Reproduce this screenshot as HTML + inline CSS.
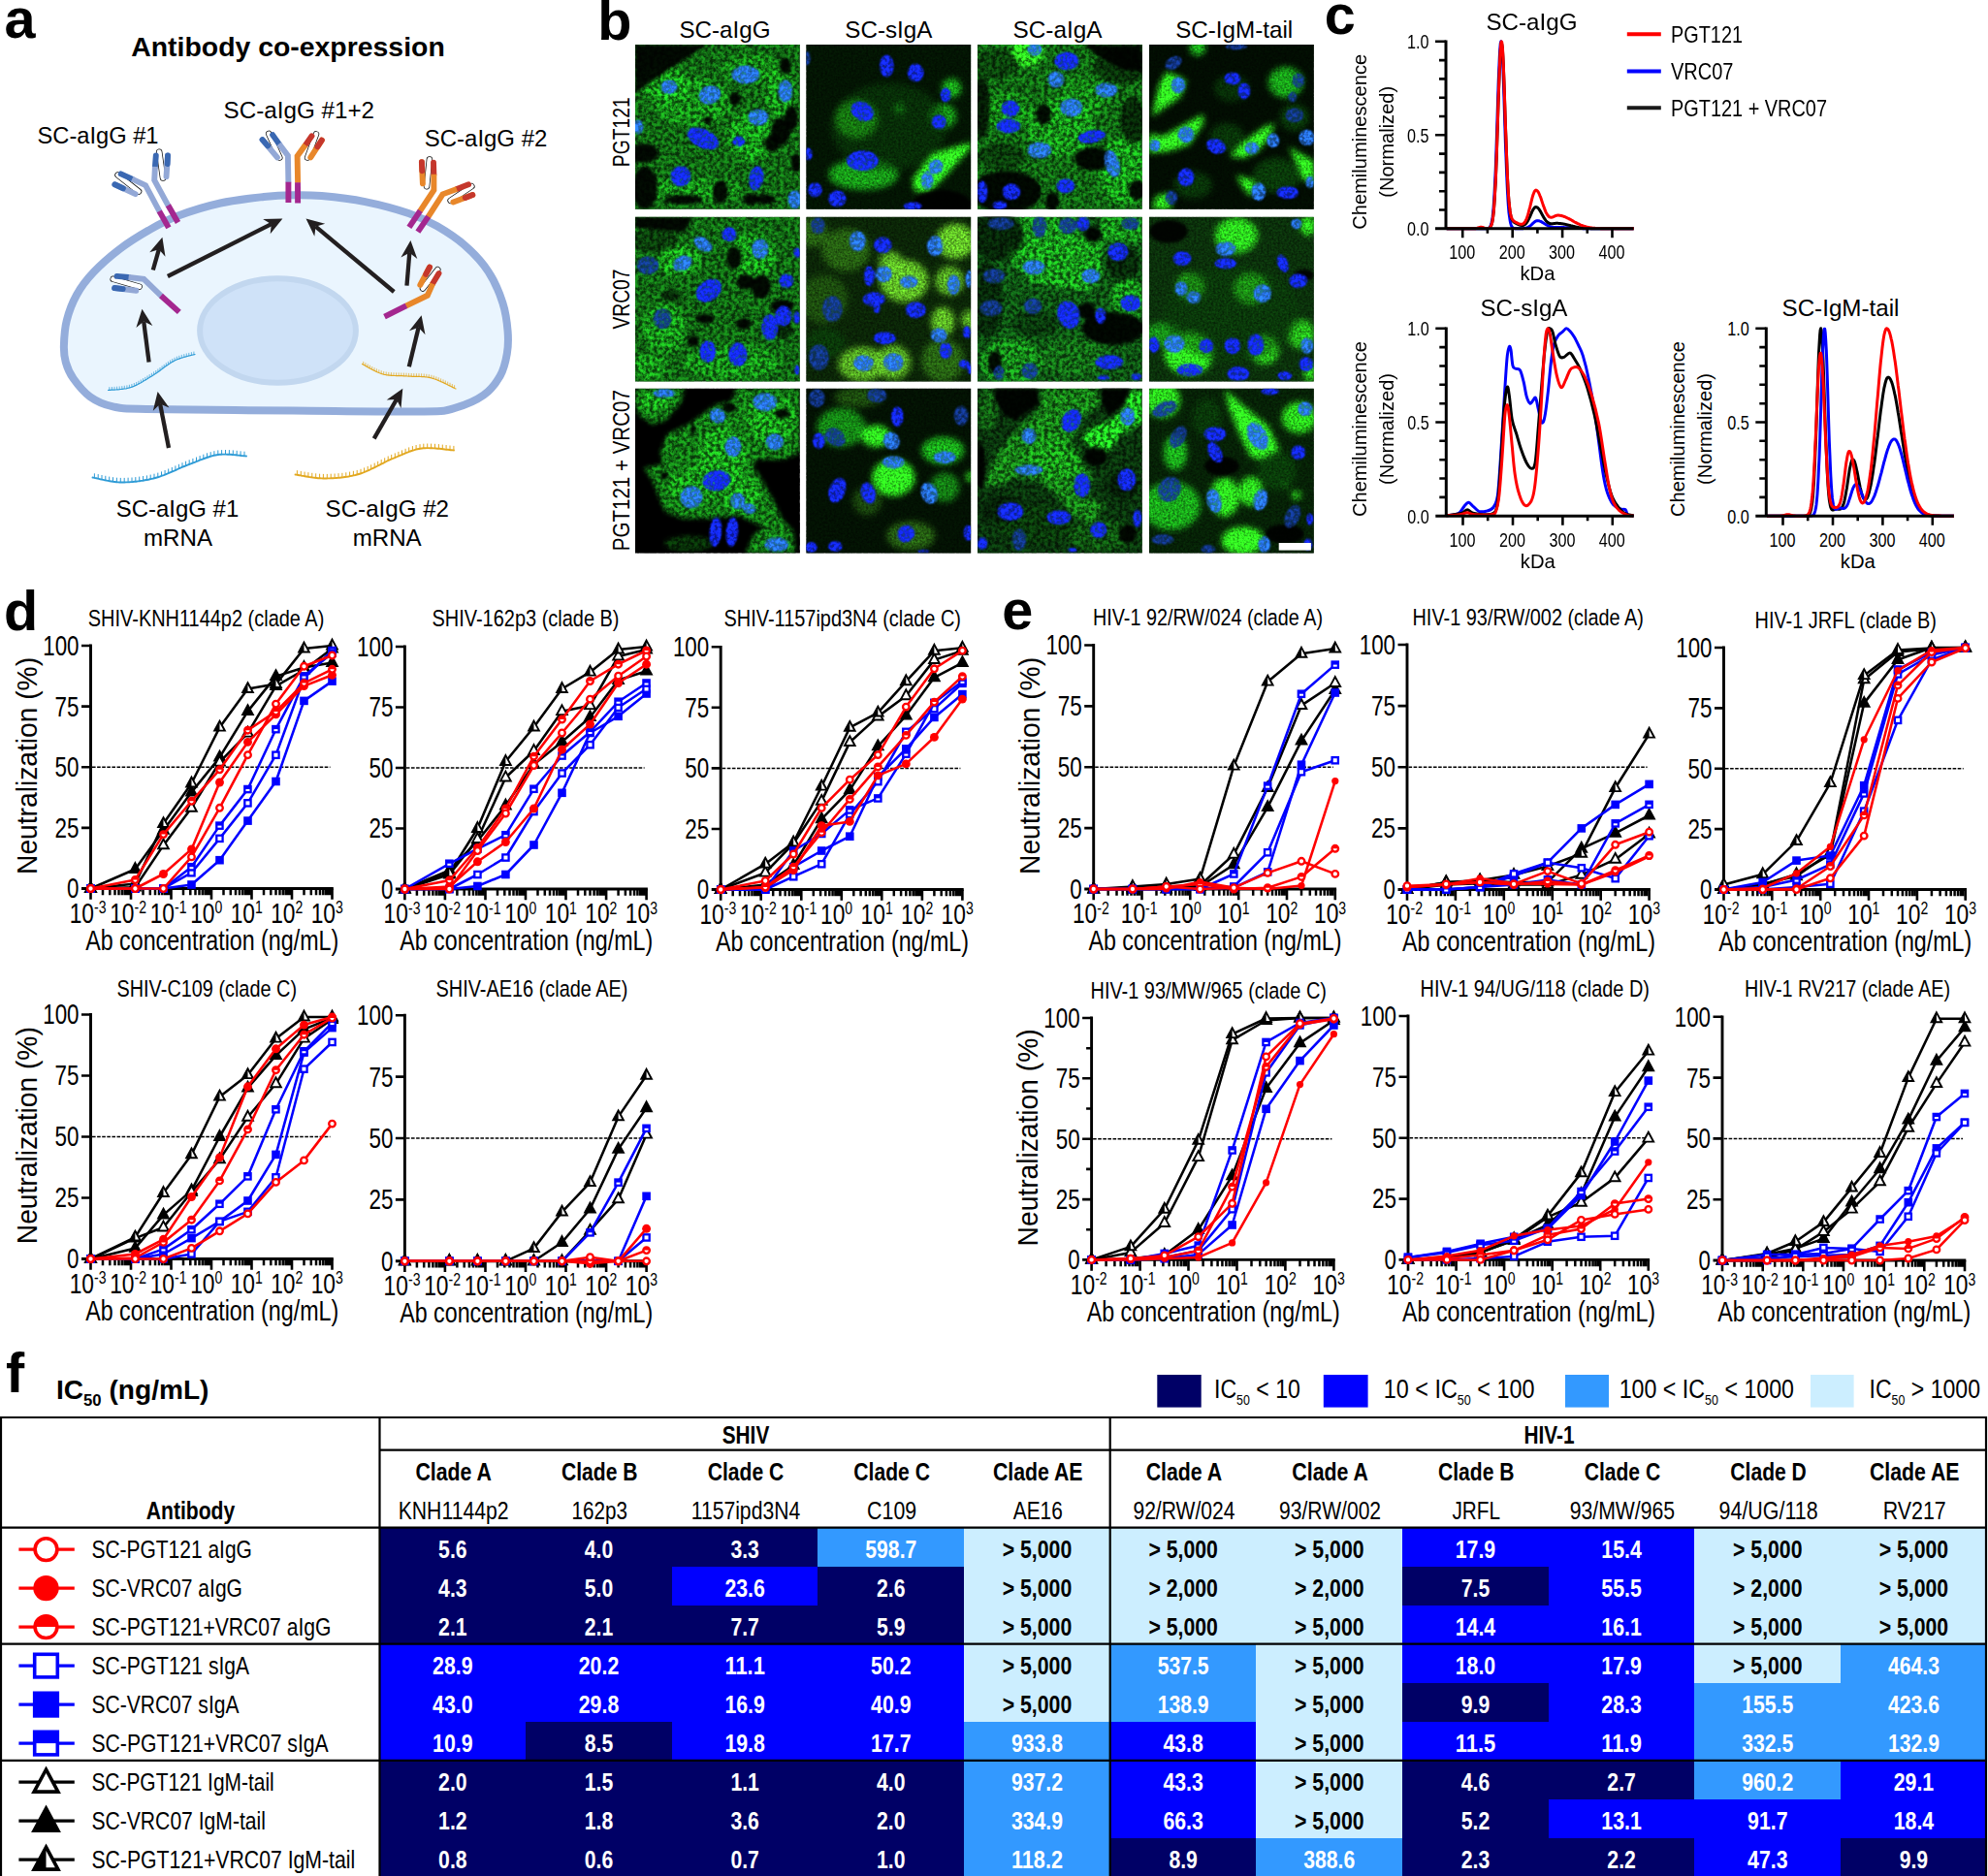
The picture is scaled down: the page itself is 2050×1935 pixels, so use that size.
<!DOCTYPE html><html><head><meta charset="utf-8"><title>Figure</title><style>html,body{margin:0;padding:0;background:#fff}svg{display:block}text{font-family:"Liberation Sans", Arial, Helvetica, sans-serif}</style></head><body>
<svg width="2050" height="1935" viewBox="0 0 2050 1935">
<rect width="2050" height="1935" fill="#fff"/>
<defs>
<filter id="gtex" x="-10%" y="-10%" width="120%" height="120%" color-interpolation-filters="sRGB">
<feGaussianBlur in="SourceGraphic" stdDeviation="2.0" result="b"/>
<feTurbulence type="fractalNoise" baseFrequency="0.26" numOctaves="3" seed="7" result="n"/>
<feColorMatrix in="n" type="matrix" values="0 0 0 0 1  0 0 0 0 1  0 0 0 0 1  0 2.6 0 0 -0.8" result="na"/>
<feComposite in="b" in2="na" operator="arithmetic" k1="0.95" k2="0.46" k3="0" k4="0"/>
</filter>
<filter id="gsm" x="-10%" y="-10%" width="120%" height="120%" color-interpolation-filters="sRGB">
<feGaussianBlur in="SourceGraphic" stdDeviation="3.4" result="b"/>
<feTurbulence type="fractalNoise" baseFrequency="0.45" numOctaves="2" seed="5" result="n"/>
<feColorMatrix in="n" type="matrix" values="0 0 0 0 1  0 0 0 0 1  0 0 0 0 1  0 1.8 0 0 -0.4" result="na"/>
<feComposite in="b" in2="na" operator="arithmetic" k1="0.7" k2="0.62" k3="0" k4="0"/>
</filter>
<filter id="ntex" x="-10%" y="-10%" width="120%" height="120%" color-interpolation-filters="sRGB">
<feGaussianBlur in="SourceGraphic" stdDeviation="1.0" result="b"/>
<feTurbulence type="fractalNoise" baseFrequency="0.28" numOctaves="2" seed="11" result="n"/>
<feColorMatrix in="n" type="matrix" values="0 0 0 0 1  0 0 0 0 1  0 0 0 0 1  0 0 3.0 0 -1.0" result="na"/>
<feComposite in="b" in2="na" operator="arithmetic" k1="0.7" k2="0.65" k3="0" k4="0" result="m"/>
<feComposite in="m" in2="b" operator="in"/>
</filter>
<filter id="gbl" x="-10%" y="-10%" width="120%" height="120%"><feGaussianBlur stdDeviation="3.2"/></filter>
<filter id="nbl" x="-10%" y="-10%" width="120%" height="120%"><feGaussianBlur stdDeviation="0.9"/></filter>
<filter id="kbl" x="-10%" y="-10%" width="120%" height="120%"><feGaussianBlur stdDeviation="1.6"/></filter>
<clipPath id="tclip"><rect x="0" y="0" width="170" height="170"/></clipPath>
</defs>
<text transform="translate(4.50,39.30)" font-size="57.6" font-weight="bold">a</text>
<text transform="translate(616.30,40.50)" font-size="57.6" font-weight="bold">b</text>
<text transform="translate(1365.70,34.80)" font-size="57.6" font-weight="bold">c</text>
<text transform="translate(4.00,649.50)" font-size="57.6" font-weight="bold">d</text>
<text transform="translate(1033.30,649.30)" font-size="57.6" font-weight="bold">e</text>
<text transform="translate(6.00,1436.00)" font-size="57.6" font-weight="bold">f</text>
<text transform="translate(297.00,58.10)" font-size="28.3" text-anchor="middle" font-weight="bold" textLength="323.50" lengthAdjust="spacingAndGlyphs">Antibody co-expression</text>
<path d="M65.9,356.6C66.1,349.4 66.6,339.1 68.8,330.4C71.0,321.7 74.4,312.5 79.0,304.2C83.6,295.9 89.1,288.6 96.5,280.8C103.9,273.0 113.8,264.3 123.2,257.1C132.6,249.9 143.0,243.5 152.9,237.8C162.8,232.1 170.1,227.7 182.5,223.0C194.9,218.3 212.4,212.8 227.3,209.5C242.2,206.2 259.7,204.4 272.1,203.0C284.5,201.6 292.0,201.3 301.9,201.2C311.8,201.0 319.3,200.9 331.7,202.1C344.1,203.2 361.6,205.1 376.5,208.1C391.4,211.1 408.9,215.8 421.3,220.0C433.7,224.2 441.0,227.7 450.8,233.3C460.6,239.0 471.5,246.1 480.3,253.9C489.1,261.7 497.4,270.5 503.7,280.3C510.0,290.1 515.1,302.2 518.4,312.5C521.7,322.8 522.9,333.1 523.6,341.8C524.3,350.5 524.1,357.2 522.8,364.9C521.5,372.6 519.7,380.7 515.7,387.8C511.7,394.9 506.4,402.1 498.7,407.6C491.0,413.1 480.0,417.8 469.8,420.6C459.6,423.4 465.6,423.9 437.6,424.4C409.6,424.9 349.7,423.9 301.9,423.5C254.1,423.1 182.1,422.7 151.0,422.0C120.0,421.3 125.3,421.2 115.6,419.1C105.9,417.0 99.6,414.0 92.9,409.2C86.2,404.4 79.9,396.4 75.7,390.5C71.5,384.6 69.4,379.2 67.8,373.6C66.2,368.0 65.7,363.8 65.9,356.6Z" fill="#eaf5fe" stroke="#94addb" stroke-width="8" stroke-linejoin="round"/>
<ellipse cx="286.5" cy="341" rx="80.4" ry="53.8" fill="#cfe2f8" stroke="#c2d7ef" stroke-width="6"/>
<path d="M95.5,492.5 L96.3,492.6 L97.2,492.8 L98.3,493.1 L99.4,493.3 L100.7,493.6 L102.0,493.9 L103.4,494.3 L104.9,494.6 L106.5,494.9 L108.1,495.3 L109.7,495.6 L111.4,495.9 L113.1,496.3 L114.8,496.5 L116.5,496.8 L118.3,497.0 L120.0,497.2 L121.7,497.4 L123.4,497.5 L125.0,497.5 L126.6,497.5 L128.3,497.5 L130.0,497.4 L131.6,497.4 L133.4,497.3 L135.1,497.1 L136.8,497.0 L138.6,496.8 L140.4,496.7 L142.2,496.4 L143.9,496.2 L145.7,495.9 L147.5,495.7 L149.3,495.3 L151.1,495.0 L152.9,494.7 L154.7,494.3 L156.5,493.9 L158.2,493.5 L160.0,493.0 L161.8,492.5 L163.5,492.0 L165.3,491.4 L167.1,490.7 L168.9,490.1 L170.7,489.4 L172.4,488.6 L174.2,487.9 L176.0,487.1 L177.8,486.3 L179.6,485.6 L181.4,484.8 L183.1,484.0 L184.9,483.2 L186.6,482.4 L188.3,481.7 L190.0,481.0 L191.7,480.3 L193.4,479.6 L195.0,479.0 L196.6,478.4 L198.2,477.8 L199.8,477.2 L201.3,476.6 L202.9,475.9 L204.4,475.3 L205.9,474.7 L207.4,474.2 L208.9,473.6 L210.4,473.0 L211.8,472.5 L213.3,472.0 L214.8,471.5 L216.2,471.0 L217.7,470.6 L219.1,470.2 L220.6,469.8 L222.1,469.5 L223.5,469.2 L225.0,469.0 L226.5,468.8 L228.1,468.7 L229.7,468.6 L231.3,468.6 L233.0,468.6 L234.7,468.7 L236.4,468.7 L238.1,468.8 L239.7,469.0 L241.4,469.1 L243.0,469.3 L244.5,469.5 L246.0,469.6 L247.5,469.8 L248.8,470.0 L250.1,470.1 L251.2,470.2 L252.3,470.4 L253.2,470.4 L254.0,470.5" fill="none" stroke="#2e9bd6" stroke-width="1.9" stroke-linecap="round"/>
<path d="M97.4,492.9 v-4.6 M101.2,493.7 v-4.6 M105.0,494.6 v-4.6 M108.8,495.4 v-4.6 M112.7,496.2 v-4.6 M116.5,496.8 v-4.6 M120.4,497.3 v-4.6 M124.3,497.5 v-4.6 M128.2,497.5 v-4.6 M132.1,497.3 v-4.6 M136.0,497.1 v-4.6 M139.8,496.7 v-4.6 M143.7,496.2 v-4.6 M147.6,495.6 v-4.6 M151.4,495.0 v-4.6 M155.2,494.2 v-4.6 M159.0,493.3 v-4.6 M162.8,492.2 v-4.6 M166.5,491.0 v-4.6 M170.1,489.6 v-4.6 M173.7,488.1 v-4.6 M177.3,486.6 v-4.6 M180.9,485.0 v-4.6 M184.4,483.4 v-4.6 M188.0,481.8 v-4.6 M191.6,480.3 v-4.6 M195.2,478.9 v-4.6 M198.9,477.5 v-4.6 M202.5,476.1 v-4.6 M206.1,474.7 v-4.6 M209.8,473.3 v-4.6 M213.5,471.9 v-4.6 M217.2,470.8 v-4.6 M220.9,469.8 v-4.6 M224.8,469.0 v-4.6 M228.6,468.7 v-4.6 M232.5,468.6 v-4.6 M236.4,468.7 v-4.6 M240.3,469.0 v-4.6 M244.2,469.4 v-4.6 M248.1,469.9 v-4.6 M252.0,470.3 v-4.6 " fill="none" stroke="#2e9bd6" stroke-width="1.0"/>
<path d="M304.5,489.5 L305.3,489.6 L306.3,489.8 L307.4,490.0 L308.6,490.2 L309.9,490.4 L311.3,490.7 L312.7,490.9 L314.3,491.2 L315.9,491.5 L317.6,491.8 L319.3,492.1 L321.0,492.3 L322.8,492.6 L324.6,492.8 L326.3,493.0 L328.1,493.2 L329.9,493.3 L331.6,493.4 L333.3,493.5 L335.0,493.5 L336.6,493.5 L338.3,493.4 L340.0,493.4 L341.7,493.3 L343.4,493.2 L345.2,493.1 L346.9,493.0 L348.7,492.9 L350.4,492.7 L352.2,492.5 L354.0,492.3 L355.8,492.0 L357.6,491.8 L359.4,491.5 L361.1,491.1 L362.9,490.8 L364.7,490.4 L366.5,490.0 L368.2,489.5 L370.0,489.0 L371.8,488.5 L373.5,487.8 L375.3,487.2 L377.1,486.4 L378.9,485.7 L380.7,484.9 L382.4,484.0 L384.2,483.2 L386.0,482.3 L387.8,481.4 L389.6,480.5 L391.4,479.6 L393.1,478.7 L394.9,477.8 L396.6,476.9 L398.3,476.0 L400.0,475.2 L401.7,474.4 L403.4,473.7 L405.0,473.0 L406.6,472.3 L408.2,471.7 L409.7,471.0 L411.3,470.3 L412.8,469.7 L414.3,469.1 L415.8,468.4 L417.2,467.8 L418.7,467.2 L420.1,466.6 L421.6,466.1 L423.0,465.5 L424.5,465.0 L425.9,464.6 L427.4,464.1 L428.9,463.7 L430.4,463.3 L431.9,463.0 L433.4,462.7 L435.0,462.5 L436.6,462.3 L438.3,462.2 L440.1,462.1 L441.9,462.1 L443.8,462.2 L445.7,462.2 L447.6,462.4 L449.6,462.5 L451.5,462.7 L453.4,462.8 L455.2,463.0 L457.0,463.2 L458.8,463.5 L460.4,463.7 L462.0,463.8 L463.5,464.0 L464.8,464.2 L466.0,464.3 L467.1,464.4 L468.0,464.5" fill="none" stroke="#e2a820" stroke-width="1.9" stroke-linecap="round"/>
<path d="M306.4,489.8 v-4.6 M310.3,490.5 v-4.6 M314.1,491.2 v-4.6 M317.9,491.8 v-4.6 M321.8,492.4 v-4.6 M325.7,492.9 v-4.6 M329.6,493.3 v-4.6 M333.4,493.5 v-4.6 M337.3,493.5 v-4.6 M341.2,493.3 v-4.6 M345.1,493.1 v-4.6 M349.0,492.8 v-4.6 M352.9,492.4 v-4.6 M356.8,491.9 v-4.6 M360.6,491.2 v-4.6 M364.4,490.4 v-4.6 M368.2,489.5 v-4.6 M372.0,488.4 v-4.6 M375.6,487.0 v-4.6 M379.2,485.5 v-4.6 M382.7,483.9 v-4.6 M386.2,482.2 v-4.6 M389.7,480.4 v-4.6 M393.2,478.6 v-4.6 M396.7,476.9 v-4.6 M400.2,475.1 v-4.6 M403.7,473.5 v-4.6 M407.3,472.0 v-4.6 M410.9,470.5 v-4.6 M414.5,469.0 v-4.6 M418.1,467.4 v-4.6 M421.7,466.0 v-4.6 M425.4,464.7 v-4.6 M429.1,463.6 v-4.6 M433.0,462.8 v-4.6 M436.8,462.3 v-4.6 M440.7,462.1 v-4.6 M444.6,462.2 v-4.6 M448.5,462.4 v-4.6 M452.4,462.7 v-4.6 M456.3,463.2 v-4.6 M460.1,463.6 v-4.6 M464.0,464.1 v-4.6 M467.9,464.5 v-4.6 " fill="none" stroke="#e2a820" stroke-width="1.0"/>
<path d="M111.5,402.5 L112.1,402.4 L112.9,402.4 L113.8,402.3 L114.7,402.2 L115.7,402.2 L116.8,402.1 L118.0,402.1 L119.2,402.0 L120.5,401.9 L121.8,401.8 L123.2,401.7 L124.5,401.5 L125.9,401.4 L127.2,401.2 L128.6,401.0 L130.0,400.8 L131.3,400.5 L132.6,400.2 L133.8,399.9 L135.0,399.5 L136.2,399.1 L137.3,398.6 L138.5,398.2 L139.6,397.6 L140.8,397.1 L142.0,396.5 L143.1,395.9 L144.3,395.3 L145.4,394.7 L146.6,394.0 L147.7,393.3 L148.9,392.6 L150.0,391.9 L151.2,391.2 L152.3,390.5 L153.5,389.8 L154.6,389.1 L155.7,388.4 L156.9,387.7 L158.0,387.0 L159.1,386.3 L160.2,385.6 L161.4,384.8 L162.5,384.0 L163.6,383.2 L164.7,382.4 L165.8,381.6 L166.9,380.8 L168.0,379.9 L169.1,379.1 L170.2,378.3 L171.3,377.5 L172.4,376.7 L173.5,376.0 L174.6,375.2 L175.7,374.5 L176.8,373.8 L177.8,373.2 L178.9,372.6 L180.0,372.0 L181.1,371.5 L182.2,371.0 L183.4,370.5 L184.6,370.1 L185.8,369.6 L187.0,369.2 L188.3,368.8 L189.5,368.5 L190.7,368.1 L191.9,367.8 L193.0,367.5 L194.2,367.2 L195.2,367.0 L196.3,366.7 L197.2,366.5 L198.2,366.2 L199.0,366.0 L199.8,365.8 L200.4,365.7 L201.0,365.5" fill="none" stroke="#2e9bd6" stroke-width="1.2" stroke-linecap="round"/>
<path d="M112.8,402.4 v-3.2 M115.4,402.2 v-3.2 M118.0,402.1 v-3.2 M120.6,401.9 v-3.2 M123.2,401.7 v-3.2 M125.8,401.4 v-3.2 M128.3,401.0 v-3.2 M130.9,400.6 v-3.2 M133.4,400.0 v-3.2 M135.9,399.2 v-3.2 M138.3,398.2 v-3.2 M140.7,397.2 v-3.2 M143.0,396.0 v-3.2 M145.3,394.7 v-3.2 M147.5,393.4 v-3.2 M149.8,392.1 v-3.2 M152.0,390.7 v-3.2 M154.2,389.4 v-3.2 M156.4,388.0 v-3.2 M158.6,386.6 v-3.2 M160.8,385.2 v-3.2 M162.9,383.7 v-3.2 M165.0,382.2 v-3.2 M167.1,380.6 v-3.2 M169.2,379.1 v-3.2 M171.3,377.5 v-3.2 M173.4,376.0 v-3.2 M175.6,374.6 v-3.2 M177.8,373.2 v-3.2 M180.1,372.0 v-3.2 M182.4,370.9 v-3.2 M184.8,370.0 v-3.2 M187.3,369.1 v-3.2 M189.8,368.4 v-3.2 M192.3,367.7 v-3.2 M194.8,367.1 v-3.2 M197.4,366.4 v-3.2 M199.9,365.8 v-3.2 " fill="none" stroke="#2e9bd6" stroke-width="0.7"/>
<path d="M373.5,375.5 L374.1,375.8 L374.8,376.2 L375.5,376.6 L376.4,377.1 L377.3,377.6 L378.3,378.1 L379.3,378.7 L380.4,379.4 L381.5,380.0 L382.7,380.6 L383.9,381.3 L385.1,381.9 L386.4,382.5 L387.6,383.1 L388.9,383.7 L390.1,384.3 L391.4,384.8 L392.6,385.2 L393.8,385.7 L395.0,386.0 L396.2,386.3 L397.4,386.5 L398.6,386.8 L399.8,386.9 L401.0,387.1 L402.2,387.2 L403.5,387.3 L404.7,387.4 L406.0,387.5 L407.3,387.5 L408.6,387.6 L409.8,387.6 L411.1,387.6 L412.4,387.7 L413.7,387.7 L414.9,387.7 L416.2,387.8 L417.5,387.8 L418.7,387.9 L420.0,388.0 L421.2,388.1 L422.5,388.2 L423.8,388.2 L425.0,388.3 L426.2,388.3 L427.5,388.3 L428.8,388.3 L430.0,388.4 L431.2,388.4 L432.5,388.4 L433.8,388.5 L435.0,388.6 L436.2,388.6 L437.5,388.7 L438.8,388.9 L440.0,389.0 L441.2,389.2 L442.5,389.4 L443.8,389.7 L445.0,390.0 L446.3,390.4 L447.6,390.8 L449.0,391.3 L450.4,391.8 L451.8,392.4 L453.3,393.0 L454.7,393.6 L456.2,394.3 L457.6,394.9 L459.1,395.6 L460.5,396.3 L461.8,397.0 L463.1,397.6 L464.3,398.2 L465.5,398.8 L466.6,399.4 L467.6,399.9 L468.5,400.3 L469.3,400.7 L470.0,401.0" fill="none" stroke="#e2a820" stroke-width="1.2" stroke-linecap="round"/>
<path d="M374.7,376.1 v-3.2 M376.9,377.4 v-3.2 M379.2,378.7 v-3.2 M381.4,379.9 v-3.2 M383.7,381.2 v-3.2 M386.0,382.4 v-3.2 M388.4,383.5 v-3.2 M390.8,384.5 v-3.2 M393.2,385.4 v-3.2 M395.7,386.2 v-3.2 M398.2,386.7 v-3.2 M400.8,387.1 v-3.2 M403.4,387.3 v-3.2 M406.0,387.5 v-3.2 M408.6,387.6 v-3.2 M411.2,387.6 v-3.2 M413.8,387.7 v-3.2 M416.4,387.8 v-3.2 M419.0,387.9 v-3.2 M421.6,388.1 v-3.2 M424.2,388.2 v-3.2 M426.8,388.3 v-3.2 M429.4,388.4 v-3.2 M432.0,388.4 v-3.2 M434.6,388.5 v-3.2 M437.2,388.7 v-3.2 M439.8,389.0 v-3.2 M442.3,389.4 v-3.2 M444.9,390.0 v-3.2 M447.3,390.7 v-3.2 M449.8,391.6 v-3.2 M452.2,392.5 v-3.2 M454.6,393.6 v-3.2 M457.0,394.6 v-3.2 M459.3,395.7 v-3.2 M461.7,396.9 v-3.2 M464.0,398.0 v-3.2 M466.3,399.2 v-3.2 M468.6,400.4 v-3.2 " fill="none" stroke="#e2a820" stroke-width="0.7"/>
<line x1="121.5" y1="180.6" x2="143.1" y2="197.6" stroke="#111" stroke-width="6.4" stroke-linecap="round"/>
<line x1="121.5" y1="180.6" x2="143.1" y2="197.6" stroke="#fff" stroke-width="4.9" stroke-linecap="round"/>
<line x1="164.2" y1="156.6" x2="168.0" y2="183.6" stroke="#111" stroke-width="6.4" stroke-linecap="round"/>
<line x1="164.2" y1="156.6" x2="168.0" y2="183.6" stroke="#fff" stroke-width="4.9" stroke-linecap="round"/>
<line x1="136.2" y1="184.6" x2="124.7" y2="179.4" stroke="#3a68b2" stroke-width="5.9" stroke-linecap="round"/>
<polyline points="164.6,218.4 150.1,191.2 136.2,184.6" fill="none" stroke="#93a8d6" stroke-width="5.9" stroke-linejoin="miter" stroke-miterlimit="6"/>
<line x1="173.9" y1="234.9" x2="164.3" y2="217.9" stroke="#a4278f" stroke-width="5.9" stroke-linecap="butt"/>
<line x1="118.4" y1="190.3" x2="139.6" y2="200.2" stroke="#93a8d6" stroke-width="5.9" stroke-linecap="round"/>
<line x1="118.4" y1="190.3" x2="126.9" y2="194.2" stroke="#3a68b2" stroke-width="5.9" stroke-linecap="round"/>
<line x1="159.9" y1="171.9" x2="160.8" y2="160.4" stroke="#3a68b2" stroke-width="5.9" stroke-linecap="round"/>
<polyline points="173.6,212.4 159.2,185.8 159.9,171.9" fill="none" stroke="#93a8d6" stroke-width="5.9" stroke-linejoin="miter" stroke-miterlimit="6"/>
<line x1="183.5" y1="229.5" x2="173.4" y2="211.8" stroke="#a4278f" stroke-width="5.9" stroke-linecap="butt"/>
<line x1="173.0" y1="160.4" x2="171.5" y2="182.2" stroke="#93a8d6" stroke-width="5.9" stroke-linecap="round"/>
<line x1="173.0" y1="160.4" x2="172.6" y2="169.0" stroke="#3a68b2" stroke-width="5.9" stroke-linecap="round"/>
<line x1="277.2" y1="137.9" x2="288.3" y2="162.5" stroke="#111" stroke-width="6.4" stroke-linecap="round"/>
<line x1="277.2" y1="137.9" x2="288.3" y2="162.5" stroke="#fff" stroke-width="4.9" stroke-linecap="round"/>
<line x1="326.0" y1="138.4" x2="317.1" y2="162.5" stroke="#111" stroke-width="6.4" stroke-linecap="round"/>
<line x1="326.0" y1="138.4" x2="317.1" y2="162.5" stroke="#fff" stroke-width="4.9" stroke-linecap="round"/>
<line x1="287.7" y1="148.4" x2="281.1" y2="139.1" stroke="#3a68b2" stroke-width="5.9" stroke-linecap="round"/>
<polyline points="297.4,188.2 296.9,160.4 287.7,148.4" fill="none" stroke="#93a8d6" stroke-width="5.9" stroke-linejoin="miter" stroke-miterlimit="6"/>
<line x1="297.4" y1="209.0" x2="297.4" y2="187.7" stroke="#a4278f" stroke-width="5.9" stroke-linecap="butt"/>
<line x1="270.6" y1="144.1" x2="285.9" y2="162.3" stroke="#93a8d6" stroke-width="5.9" stroke-linecap="round"/>
<line x1="270.6" y1="144.1" x2="276.1" y2="150.4" stroke="#3a68b2" stroke-width="5.9" stroke-linecap="round"/>
<line x1="314.9" y1="149.6" x2="321.5" y2="140.3" stroke="#c5372c" stroke-width="5.9" stroke-linecap="round"/>
<polyline points="307.1,188.8 306.6,161.0 314.9,149.6" fill="none" stroke="#e8872a" stroke-width="5.9" stroke-linejoin="miter" stroke-miterlimit="6"/>
<line x1="307.1" y1="209.6" x2="307.0" y2="188.3" stroke="#a4278f" stroke-width="5.9" stroke-linecap="butt"/>
<line x1="331.8" y1="144.7" x2="320.3" y2="162.3" stroke="#e8872a" stroke-width="5.9" stroke-linecap="round"/>
<line x1="331.8" y1="144.7" x2="327.4" y2="151.3" stroke="#c5372c" stroke-width="5.9" stroke-linecap="round"/>
<line x1="116.7" y1="287.8" x2="143.7" y2="295.7" stroke="#111" stroke-width="6.4" stroke-linecap="round"/>
<line x1="116.7" y1="287.8" x2="143.7" y2="295.7" stroke="#fff" stroke-width="4.9" stroke-linecap="round"/>
<line x1="132.6" y1="286.0" x2="120.5" y2="284.9" stroke="#3a68b2" stroke-width="5.9" stroke-linecap="round"/>
<polyline points="166.4,305.3 148.3,287.8 132.6,286.0" fill="none" stroke="#93a8d6" stroke-width="5.9" stroke-linejoin="miter" stroke-miterlimit="6"/>
<line x1="184.8" y1="321.9" x2="166.0" y2="305.0" stroke="#a4278f" stroke-width="5.9" stroke-linecap="butt"/>
<line x1="118.1" y1="297.0" x2="140.4" y2="299.8" stroke="#93a8d6" stroke-width="5.9" stroke-linecap="round"/>
<line x1="118.1" y1="297.0" x2="126.7" y2="298.1" stroke="#3a68b2" stroke-width="5.9" stroke-linecap="round"/>
<line x1="442.9" y1="164.4" x2="440.0" y2="192.2" stroke="#111" stroke-width="6.4" stroke-linecap="round"/>
<line x1="442.9" y1="164.4" x2="440.0" y2="192.2" stroke="#fff" stroke-width="4.9" stroke-linecap="round"/>
<line x1="464.6" y1="206.9" x2="486.4" y2="192.2" stroke="#111" stroke-width="6.4" stroke-linecap="round"/>
<line x1="464.6" y1="206.9" x2="486.4" y2="192.2" stroke="#fff" stroke-width="4.9" stroke-linecap="round"/>
<line x1="447.4" y1="179.8" x2="447.0" y2="167.7" stroke="#c5372c" stroke-width="5.9" stroke-linecap="round"/>
<polyline points="433.0,217.8 447.4,196.1 447.4,179.8" fill="none" stroke="#e8872a" stroke-width="5.9" stroke-linejoin="miter" stroke-miterlimit="6"/>
<line x1="421.9" y1="234.3" x2="433.3" y2="217.4" stroke="#a4278f" stroke-width="5.9" stroke-linecap="butt"/>
<line x1="434.9" y1="167.1" x2="435.9" y2="189.4" stroke="#e8872a" stroke-width="5.9" stroke-linecap="round"/>
<line x1="434.9" y1="167.1" x2="435.3" y2="176.2" stroke="#c5372c" stroke-width="5.9" stroke-linecap="round"/>
<line x1="471.0" y1="194.9" x2="483.1" y2="190.3" stroke="#c5372c" stroke-width="5.9" stroke-linecap="round"/>
<polyline points="441.4,223.8 456.5,200.3 471.0,194.9" fill="none" stroke="#e8872a" stroke-width="5.9" stroke-linejoin="miter" stroke-miterlimit="6"/>
<line x1="430.9" y1="239.2" x2="441.7" y2="223.4" stroke="#a4278f" stroke-width="5.9" stroke-linecap="butt"/>
<line x1="487.3" y1="201.1" x2="467.4" y2="208.5" stroke="#e8872a" stroke-width="5.9" stroke-linecap="round"/>
<line x1="487.3" y1="201.1" x2="479.8" y2="204.0" stroke="#c5372c" stroke-width="5.9" stroke-linecap="round"/>
<line x1="436.0" y1="297.5" x2="451.3" y2="278.2" stroke="#111" stroke-width="6.4" stroke-linecap="round"/>
<line x1="436.0" y1="297.5" x2="451.3" y2="278.2" stroke="#fff" stroke-width="4.9" stroke-linecap="round"/>
<line x1="446.2" y1="292.6" x2="452.5" y2="282.0" stroke="#c5372c" stroke-width="5.9" stroke-linecap="round"/>
<polyline points="418.5,315.6 440.8,304.7 446.2,292.6" fill="none" stroke="#e8872a" stroke-width="5.9" stroke-linejoin="miter" stroke-miterlimit="6"/>
<line x1="396.5" y1="326.6" x2="418.9" y2="315.4" stroke="#a4278f" stroke-width="5.9" stroke-linecap="butt"/>
<line x1="443.0" y1="275.7" x2="433.3" y2="293.9" stroke="#e8872a" stroke-width="5.9" stroke-linecap="round"/>
<line x1="443.0" y1="275.7" x2="439.2" y2="282.8" stroke="#c5372c" stroke-width="5.9" stroke-linecap="round"/>
<line x1="174.0" y1="462.0" x2="165.1" y2="416.7" stroke="#231f20" stroke-width="4.3"/>
<polygon points="162.6,404.0 174.5,420.5 165.1,416.7 157.8,423.8" fill="#231f20"/>
<line x1="153.6" y1="373.5" x2="148.2" y2="331.5" stroke="#231f20" stroke-width="4.3"/>
<polygon points="146.5,318.7 157.3,336.0 148.2,331.5 140.4,338.1" fill="#231f20"/>
<line x1="157.8" y1="278.5" x2="163.9" y2="257.2" stroke="#231f20" stroke-width="4.3"/>
<polygon points="167.4,244.7 170.5,264.8 163.9,257.2 154.2,260.2" fill="#231f20"/>
<line x1="172.9" y1="285.0" x2="279.8" y2="231.2" stroke="#231f20" stroke-width="4.3"/>
<polygon points="291.4,225.4 278.7,241.3 279.8,231.2 271.1,226.1" fill="#231f20"/>
<line x1="406.3" y1="301.0" x2="325.5" y2="233.7" stroke="#231f20" stroke-width="4.3"/>
<polygon points="315.5,225.4 335.2,230.7 325.5,233.7 324.3,243.8" fill="#231f20"/>
<line x1="419.5" y1="294.6" x2="422.3" y2="260.8" stroke="#231f20" stroke-width="4.3"/>
<polygon points="423.4,247.9 430.3,267.0 422.3,260.8 413.4,265.6" fill="#231f20"/>
<line x1="421.8" y1="378.3" x2="431.6" y2="337.8" stroke="#231f20" stroke-width="4.3"/>
<polygon points="434.6,325.2 438.5,345.2 431.6,337.8 422.0,341.2" fill="#231f20"/>
<line x1="385.7" y1="452.4" x2="408.9" y2="412.0" stroke="#231f20" stroke-width="4.3"/>
<polygon points="415.3,400.8 413.5,421.1 408.9,412.0 398.7,412.6" fill="#231f20"/>
<text transform="translate(38.50,147.70)" font-size="24.2" textLength="125.00" lengthAdjust="spacingAndGlyphs">SC-aIgG #1</text>
<text transform="translate(230.50,121.90)" font-size="24.2" textLength="155.50" lengthAdjust="spacingAndGlyphs">SC-aIgG #1+2</text>
<text transform="translate(437.80,150.80)" font-size="24.2" textLength="126.50" lengthAdjust="spacingAndGlyphs">SC-aIgG #2</text>
<text transform="translate(183.00,532.80)" font-size="24.2" text-anchor="middle" textLength="126.50" lengthAdjust="spacingAndGlyphs">SC-aIgG #1</text>
<text transform="translate(183.50,562.50)" font-size="24.2" text-anchor="middle" textLength="71.00" lengthAdjust="spacingAndGlyphs">mRNA</text>
<text transform="translate(399.30,532.80)" font-size="24.2" text-anchor="middle" textLength="127.50" lengthAdjust="spacingAndGlyphs">SC-aIgG #2</text>
<text transform="translate(399.20,562.50)" font-size="24.2" text-anchor="middle" textLength="71.00" lengthAdjust="spacingAndGlyphs">mRNA</text>
<text transform="translate(747.50,38.80)" font-size="24.2" text-anchor="middle" textLength="94.00" lengthAdjust="spacingAndGlyphs">SC-aIgG</text>
<text transform="translate(916.30,38.80)" font-size="24.2" text-anchor="middle" textLength="90.00" lengthAdjust="spacingAndGlyphs">SC-sIgA</text>
<text transform="translate(1090.50,38.80)" font-size="24.2" text-anchor="middle" textLength="92.00" lengthAdjust="spacingAndGlyphs">SC-aIgA</text>
<text transform="translate(1272.70,38.80)" font-size="24.2" text-anchor="middle" textLength="121.00" lengthAdjust="spacingAndGlyphs">SC-IgM-tail</text>
<text transform="translate(649.30,136.20) rotate(-90)" font-size="23.5" text-anchor="middle" textLength="72.00" lengthAdjust="spacingAndGlyphs">PGT121</text>
<text transform="translate(649.30,308.50) rotate(-90)" font-size="23.5" text-anchor="middle" textLength="62.00" lengthAdjust="spacingAndGlyphs">VRC07</text>
<text transform="translate(649.30,485.20) rotate(-90)" font-size="23.5" text-anchor="middle" textLength="166.00" lengthAdjust="spacingAndGlyphs">PGT121 + VRC07</text>
<g transform="translate(655.0,46.0) scale(0.9988)" clip-path="url(#tclip)">
<rect width="170" height="170" fill="#000"/>
<g filter="url(#gtex)">
<rect x="-20" y="-20" width="210" height="210" fill="#126c14"/>
<ellipse cx="60" cy="60" rx="40" ry="25" fill="#22dc22" opacity="0.35"/>
<ellipse cx="120" cy="95" rx="25" ry="25" fill="#22dc22" opacity="0.45"/>
<ellipse cx="30" cy="40" rx="25" ry="18" fill="#22dc22" opacity="0.4"/>
<ellipse cx="120" cy="25" rx="30" ry="15" fill="#22dc22" opacity="0.3"/>
<ellipse cx="60" cy="150" rx="50" ry="12" fill="#22dc22" opacity="0.35"/>
<ellipse cx="150" cy="50" rx="15" ry="25" fill="#22dc22" opacity="0.4"/>
</g>
<g filter="url(#kbl)">
<polygon points="0,0 75,0 40,22 0,50" fill="#000" opacity="0.92"/>
<ellipse cx="8" cy="112" rx="16" ry="10" fill="#000" opacity="0.92"/>
<ellipse cx="10" cy="148" rx="13" ry="22" fill="#000" opacity="0.92"/>
<ellipse cx="103" cy="56" rx="6" ry="7" fill="#000" opacity="0.92"/>
<ellipse cx="155" cy="22" rx="6" ry="9" fill="#000" opacity="0.92"/>
<ellipse cx="150" cy="90" rx="10" ry="14" fill="#000" opacity="0.92"/>
<ellipse cx="88" cy="152" rx="8" ry="12" fill="#000" opacity="0.92"/>
<ellipse cx="50" cy="160" rx="20" ry="5" fill="#000" opacity="0.92"/>
<ellipse cx="135" cy="160" rx="10" ry="5" fill="#000" opacity="0.92"/>
<ellipse cx="75" cy="78" rx="5" ry="4" fill="#000" opacity="0.92"/>
<ellipse cx="161" cy="76" rx="7" ry="13" fill="#000" opacity="0.92"/>
<ellipse cx="141" cy="102" rx="8" ry="9" fill="#000" opacity="0.92"/>
<ellipse cx="166" cy="122" rx="5" ry="10" fill="#000" opacity="0.92"/>
<ellipse cx="120" cy="160" rx="8" ry="6" fill="#000" opacity="0.92"/>
</g>
<g filter="url(#ntex)">
<ellipse cx="35" cy="44" rx="9" ry="8" fill="#2468d2" opacity="1.0"/>
<ellipse cx="77" cy="52" rx="12" ry="10" fill="#2468d2" opacity="1.0" transform="rotate(-20 77 52)"/>
<ellipse cx="114" cy="31" rx="15" ry="10" fill="#2468d2" opacity="1.0"/>
<ellipse cx="155" cy="48" rx="8" ry="12" fill="#2468d2" opacity="1.0"/>
<ellipse cx="127" cy="75" rx="11" ry="9" fill="#2468d2" opacity="1.0"/>
<ellipse cx="70" cy="97" rx="18" ry="10" fill="#1226e4" opacity="1.0" transform="rotate(25 70 97)"/>
<ellipse cx="107" cy="100" rx="7" ry="6" fill="#1226e4" opacity="1.0"/>
<ellipse cx="47" cy="136" rx="11" ry="11" fill="#1226e4" opacity="1.0"/>
<ellipse cx="125" cy="138" rx="8" ry="13" fill="#1226e4" opacity="1.0" transform="rotate(10 125 138)"/>
<ellipse cx="165" cy="160" rx="8" ry="10" fill="#2468d2" opacity="1.0"/>
<ellipse cx="3" cy="85" rx="6" ry="8" fill="#2468d2" opacity="1.0"/>
</g>
</g>
<g transform="translate(831.4,46.0) scale(0.9988)" clip-path="url(#tclip)">
<rect width="170" height="170" fill="#000"/>
<g filter="url(#gsm)">
<rect x="-20" y="-20" width="210" height="210" fill="#031503"/>
<ellipse cx="52" cy="77" rx="22" ry="20" fill="#34ff22" opacity="0.8"/>
<ellipse cx="59" cy="134" rx="36" ry="16" fill="#22dc22" opacity="0.7"/>
<polygon points="170,101 130,113 110,139 112,151 126,153 144,135 170,106" fill="#34ff22"/>
<ellipse cx="150" cy="45" rx="10" ry="10" fill="#22dc22" opacity="0.8"/>
<ellipse cx="141" cy="74" rx="14" ry="13" fill="#22dc22" opacity="0.7"/>
<ellipse cx="96" cy="66" rx="6" ry="6" fill="#22dc22" opacity="0.7"/>
<ellipse cx="85" cy="85" rx="60" ry="45" fill="#0a400a" opacity="0.6"/>
</g>
<g filter="url(#kbl)">
<ellipse cx="140" cy="165" rx="30" ry="15" fill="#000" opacity="0.92"/>
</g>
<g filter="url(#ntex)">
<ellipse cx="83" cy="22" rx="8" ry="12" fill="#1226e4" opacity="1.0"/>
<ellipse cx="113" cy="29" rx="9" ry="10" fill="#1226e4" opacity="1.0"/>
<ellipse cx="144" cy="52" rx="6" ry="8" fill="#1226e4" opacity="1.0"/>
<ellipse cx="58" cy="69" rx="13" ry="10" fill="#1226e4" opacity="1.0" transform="rotate(30 58 69)"/>
<ellipse cx="137" cy="80" rx="8" ry="8" fill="#1226e4" opacity="1.0"/>
<ellipse cx="58" cy="120" rx="17" ry="11" fill="#1226e4" opacity="1.0"/>
<ellipse cx="134" cy="126" rx="8" ry="8" fill="#2468d2" opacity="1.0"/>
<ellipse cx="125" cy="140" rx="7" ry="10" fill="#2468d2" opacity="1.0"/>
<ellipse cx="9" cy="150" rx="8" ry="8" fill="#1226e4" opacity="1.0"/>
<ellipse cx="32" cy="159" rx="10" ry="9" fill="#1226e4" opacity="1.0"/>
<ellipse cx="110" cy="167" rx="10" ry="5" fill="#1226e4" opacity="1.0"/>
<ellipse cx="1" cy="14" rx="4" ry="8" fill="#12368c" opacity="0.95"/>
<ellipse cx="2" cy="113" rx="5" ry="7" fill="#1226e4" opacity="1.0"/>
</g>
</g>
<g transform="translate(1008.0,46.0) scale(0.9988)" clip-path="url(#tclip)">
<rect width="170" height="170" fill="#000"/>
<g filter="url(#gtex)">
<rect x="-20" y="-20" width="210" height="210" fill="#126c14"/>
<ellipse cx="52" cy="8" rx="16" ry="14" fill="#34ff22" opacity="0.9"/>
<ellipse cx="85" cy="85" rx="35" ry="30" fill="#22dc22" opacity="0.4"/>
<ellipse cx="30" cy="70" rx="25" ry="20" fill="#22dc22" opacity="0.3"/>
<ellipse cx="150" cy="130" rx="25" ry="35" fill="#22dc22" opacity="0.45"/>
<ellipse cx="110" cy="55" rx="25" ry="20" fill="#22dc22" opacity="0.3"/>
</g>
<g filter="url(#kbl)">
<polygon points="108,0 170,0 170,28 150,26 125,12" fill="#000" opacity="0.92"/>
<ellipse cx="30" cy="152" rx="36" ry="22" fill="#000" opacity="0.92"/>
<ellipse cx="120" cy="118" rx="20" ry="12" fill="#000" opacity="0.92"/>
<ellipse cx="165" cy="150" rx="9" ry="10" fill="#000" opacity="0.92"/>
<ellipse cx="68" cy="72" rx="8" ry="11" fill="#000" opacity="0.92"/>
<ellipse cx="77" cy="162" rx="7" ry="10" fill="#000" opacity="0.92"/>
<ellipse cx="4" cy="65" rx="9" ry="32" fill="#000" opacity="0.75"/>
<ellipse cx="160" cy="78" rx="13" ry="24" fill="#000" opacity="0.6"/>
<ellipse cx="150" cy="22" rx="30" ry="18" fill="#000" opacity="0.5"/>
<ellipse cx="20" cy="20" rx="22" ry="16" fill="#000" opacity="0.35"/>
<ellipse cx="25" cy="115" rx="25" ry="14" fill="#000" opacity="0.4"/>
</g>
<g filter="url(#ntex)">
<ellipse cx="92" cy="17" rx="13" ry="10" fill="#1226e4" opacity="1.0"/>
<ellipse cx="81" cy="36" rx="9" ry="9" fill="#2468d2" opacity="1.0"/>
<ellipse cx="133" cy="47" rx="12" ry="8" fill="#2468d2" opacity="1.0"/>
<ellipse cx="97" cy="65" rx="12" ry="10" fill="#2468d2" opacity="1.0"/>
<ellipse cx="34" cy="66" rx="10" ry="9" fill="#1226e4" opacity="1.0"/>
<ellipse cx="32" cy="84" rx="13" ry="8" fill="#1226e4" opacity="1.0"/>
<ellipse cx="118" cy="95" rx="15" ry="7" fill="#1226e4" opacity="1.0" transform="rotate(-10 118 95)"/>
<ellipse cx="64" cy="109" rx="13" ry="9" fill="#2468d2" opacity="1.0"/>
<ellipse cx="139" cy="123" rx="8" ry="15" fill="#2468d2" opacity="1.0" transform="rotate(-15 139 123)"/>
<ellipse cx="91" cy="146" rx="10" ry="8" fill="#1226e4" opacity="1.0"/>
<ellipse cx="35" cy="152" rx="10" ry="9" fill="#1226e4" opacity="1.0"/>
<ellipse cx="5" cy="152" rx="6" ry="12" fill="#1226e4" opacity="1.0"/>
<ellipse cx="23" cy="166" rx="8" ry="5" fill="#1226e4" opacity="1.0"/>
<ellipse cx="59" cy="5" rx="8" ry="7" fill="#2468d2" opacity="1.0"/>
</g>
</g>
<g transform="translate(1185.0,46.0) scale(0.9988)" clip-path="url(#tclip)">
<rect width="170" height="170" fill="#000"/>
<g filter="url(#gsm)">
<rect x="-20" y="-20" width="210" height="210" fill="#020d02"/>
<polygon points="18,28 38,37 32,54 14,66 3,74 10,43" fill="#34ff22"/>
<ellipse cx="50" cy="3" rx="8" ry="8" fill="#22dc22" opacity="0.9"/>
<ellipse cx="141" cy="39" rx="18" ry="16" fill="#22dc22" opacity="0.75"/>
<polygon points="0,92 14,95 32,85 56,72 56,81 41,103 20,110 0,112" fill="#34ff22"/>
<polygon points="83,115 97,101 119,85 130,81 123,97 112,110 97,117" fill="#34ff22"/>
<polygon points="144,106 170,121 170,144 159,139 152,121" fill="#34ff22"/>
<polygon points="90,135 105,139 112,146 105,157 97,148" fill="#34ff22" opacity="0.95"/>
<polygon points="7,157 21,153 23,170 3,170" fill="#34ff22" opacity="0.95"/>
<ellipse cx="150" cy="75" rx="15" ry="14" fill="#0a400a" opacity="0.9"/>
<ellipse cx="132" cy="135" rx="25" ry="18" fill="#0a400a" opacity="0.9"/>
<ellipse cx="80" cy="95" rx="18" ry="14" fill="#0a400a" opacity="0.8"/>
<ellipse cx="45" cy="145" rx="20" ry="14" fill="#0a400a" opacity="0.8"/>
<ellipse cx="85" cy="45" rx="18" ry="14" fill="#0a400a" opacity="0.7"/>
</g>
<g filter="url(#ntex)">
<ellipse cx="25" cy="19" rx="10" ry="7" fill="#12368c" opacity="0.95" transform="rotate(-30 25 19)"/>
<ellipse cx="30" cy="42" rx="8" ry="9" fill="#2468d2" opacity="1.0"/>
<ellipse cx="86" cy="35" rx="9" ry="7" fill="#1226e4" opacity="1.0"/>
<ellipse cx="98" cy="48" rx="7" ry="9" fill="#1226e4" opacity="1.0"/>
<ellipse cx="154" cy="37" rx="7" ry="8" fill="#12368c" opacity="0.95"/>
<ellipse cx="148" cy="54" rx="5" ry="6" fill="#12368c" opacity="0.95"/>
<ellipse cx="150" cy="73" rx="10" ry="8" fill="#12368c" opacity="0.95"/>
<ellipse cx="163" cy="96" rx="9" ry="9" fill="#2468d2" opacity="1.0"/>
<ellipse cx="38" cy="93" rx="9" ry="9" fill="#2468d2" opacity="1.0"/>
<ellipse cx="128" cy="99" rx="7" ry="8" fill="#2468d2" opacity="1.0"/>
<ellipse cx="106" cy="107" rx="8" ry="7" fill="#2468d2" opacity="1.0"/>
<ellipse cx="69" cy="105" rx="11" ry="8" fill="#1226e4" opacity="1.0" transform="rotate(20 69 105)"/>
<ellipse cx="6" cy="104" rx="6" ry="7" fill="#2468d2" opacity="1.0"/>
<ellipse cx="38" cy="137" rx="9" ry="10" fill="#1226e4" opacity="1.0"/>
<ellipse cx="113" cy="152" rx="8" ry="10" fill="#2468d2" opacity="1.0"/>
<ellipse cx="143" cy="153" rx="12" ry="7" fill="#1226e4" opacity="1.0"/>
<ellipse cx="23" cy="158" rx="7" ry="8" fill="#12368c" opacity="0.95"/>
<ellipse cx="166" cy="142" rx="5" ry="7" fill="#2468d2" opacity="1.0"/>
<ellipse cx="90" cy="2" rx="12" ry="4" fill="#12368c" opacity="0.95"/>
</g>
</g>
<g transform="translate(655.0,223.8) scale(0.9988)" clip-path="url(#tclip)">
<rect width="170" height="170" fill="#000"/>
<g filter="url(#gtex)">
<rect x="-20" y="-20" width="210" height="210" fill="#126c14"/>
<ellipse cx="45" cy="45" rx="22" ry="16" fill="#22dc22" opacity="0.5"/>
<ellipse cx="120" cy="40" rx="25" ry="22" fill="#22dc22" opacity="0.45"/>
<ellipse cx="30" cy="115" rx="22" ry="25" fill="#22dc22" opacity="0.4"/>
<ellipse cx="100" cy="150" rx="50" ry="18" fill="#22dc22" opacity="0.35"/>
<ellipse cx="15" cy="155" rx="18" ry="14" fill="#22dc22" opacity="0.4"/>
</g>
<g filter="url(#kbl)">
<polygon points="0,0 60,0 50,16 0,11" fill="#000" opacity="0.92"/>
<ellipse cx="102" cy="42" rx="8" ry="12" fill="#000" opacity="0.92"/>
<ellipse cx="130" cy="72" rx="10" ry="12" fill="#000" opacity="0.92"/>
<ellipse cx="152" cy="92" rx="12" ry="7" fill="#000" opacity="0.92"/>
<ellipse cx="60" cy="128" rx="6" ry="6" fill="#000" opacity="0.92"/>
<ellipse cx="112" cy="110" rx="8" ry="6" fill="#000" opacity="0.92"/>
<ellipse cx="114" cy="67" rx="9" ry="8" fill="#000" opacity="0.92"/>
<ellipse cx="72" cy="105" rx="10" ry="5" fill="#000" opacity="0.92"/>
<ellipse cx="154" cy="117" rx="9" ry="9" fill="#000" opacity="0.6"/>
<ellipse cx="37" cy="81" rx="10" ry="6" fill="#000" opacity="0.6"/>
<ellipse cx="20" cy="25" rx="25" ry="12" fill="#000" opacity="0.4"/>
</g>
<g filter="url(#ntex)">
<ellipse cx="97" cy="18" rx="8" ry="8" fill="#1226e4" opacity="1.0"/>
<ellipse cx="70" cy="28" rx="11" ry="7" fill="#2468d2" opacity="1.0" transform="rotate(35 70 28)"/>
<ellipse cx="129" cy="33" rx="9" ry="11" fill="#2468d2" opacity="1.0"/>
<ellipse cx="13" cy="50" rx="12" ry="10" fill="#12368c" opacity="0.95"/>
<ellipse cx="49" cy="48" rx="11" ry="8" fill="#2468d2" opacity="1.0" transform="rotate(-25 49 48)"/>
<ellipse cx="156" cy="66" rx="8" ry="8" fill="#1226e4" opacity="1.0"/>
<ellipse cx="76" cy="76" rx="15" ry="11" fill="#1226e4" opacity="1.0" transform="rotate(-35 76 76)"/>
<ellipse cx="28" cy="105" rx="10" ry="11" fill="#12368c" opacity="0.95"/>
<ellipse cx="153" cy="102" rx="9" ry="11" fill="#1226e4" opacity="1.0"/>
<ellipse cx="139" cy="114" rx="9" ry="14" fill="#1226e4" opacity="1.0"/>
<ellipse cx="167" cy="104" rx="4" ry="7" fill="#1226e4" opacity="1.0"/>
<ellipse cx="75" cy="139" rx="9" ry="12" fill="#1226e4" opacity="1.0"/>
<ellipse cx="106" cy="142" rx="10" ry="13" fill="#1226e4" opacity="1.0"/>
<ellipse cx="167" cy="37" rx="4" ry="6" fill="#1226e4" opacity="1.0"/>
<ellipse cx="167" cy="158" rx="3" ry="6" fill="#1226e4" opacity="1.0"/>
</g>
</g>
<g transform="translate(831.4,223.8) scale(0.9988)" clip-path="url(#tclip)">
<rect width="170" height="170" fill="#000"/>
<g filter="url(#gsm)">
<rect x="-20" y="-20" width="210" height="210" fill="#0b2607"/>
<ellipse cx="7" cy="16" rx="15" ry="15" fill="#2a6a14" opacity="0.9"/>
<ellipse cx="41" cy="34" rx="25" ry="22" fill="#2a6a14" opacity="0.9"/>
<ellipse cx="154" cy="25" rx="20" ry="18" fill="#6cd42a" opacity="0.95"/>
<ellipse cx="101" cy="66" rx="25" ry="22" fill="#6cd42a" opacity="0.9"/>
<ellipse cx="87" cy="47" rx="12" ry="12" fill="#6cd42a" opacity="0.8"/>
<ellipse cx="148" cy="66" rx="15" ry="15" fill="#6cd42a" opacity="0.8"/>
<ellipse cx="141" cy="108" rx="12" ry="15" fill="#6cd42a" opacity="0.9"/>
<ellipse cx="168" cy="106" rx="8" ry="10" fill="#6cd42a" opacity="0.8"/>
<ellipse cx="58" cy="152" rx="25" ry="18" fill="#6cd42a" opacity="0.8"/>
<ellipse cx="90" cy="150" rx="18" ry="18" fill="#6cd42a" opacity="0.8"/>
<ellipse cx="141" cy="148" rx="22" ry="22" fill="#2a6a14" opacity="0.95"/>
<ellipse cx="18" cy="85" rx="25" ry="25" fill="#2a6a14" opacity="0.6"/>
<ellipse cx="20" cy="130" rx="20" ry="15" fill="#0a400a" opacity="0.8"/>
</g>
<g filter="url(#ntex)">
<ellipse cx="12" cy="9" rx="8" ry="9" fill="#12368c" opacity="0.95"/>
<ellipse cx="53" cy="25" rx="9" ry="11" fill="#2468d2" opacity="1.0"/>
<ellipse cx="79" cy="29" rx="10" ry="9" fill="#1226e4" opacity="1.0"/>
<ellipse cx="133" cy="30" rx="9" ry="11" fill="#2468d2" opacity="1.0"/>
<ellipse cx="65" cy="61" rx="6" ry="11" fill="#1226e4" opacity="1.0"/>
<ellipse cx="80" cy="59" rx="9" ry="9" fill="#2468d2" opacity="1.0"/>
<ellipse cx="106" cy="67" rx="10" ry="7" fill="#2468d2" opacity="1.0"/>
<ellipse cx="152" cy="70" rx="7" ry="11" fill="#2468d2" opacity="1.0"/>
<ellipse cx="168" cy="64" rx="4" ry="10" fill="#2468d2" opacity="1.0"/>
<ellipse cx="27" cy="95" rx="11" ry="14" fill="#12368c" opacity="0.95"/>
<ellipse cx="70" cy="85" rx="12" ry="8" fill="#1226e4" opacity="1.0"/>
<ellipse cx="73" cy="95" rx="4" ry="5" fill="#1226e4" opacity="1.0"/>
<ellipse cx="113" cy="96" rx="11" ry="9" fill="#1226e4" opacity="1.0"/>
<ellipse cx="81" cy="125" rx="12" ry="7" fill="#1226e4" opacity="1.0"/>
<ellipse cx="137" cy="122" rx="9" ry="8" fill="#2468d2" opacity="1.0"/>
<ellipse cx="144" cy="138" rx="7" ry="9" fill="#1226e4" opacity="1.0"/>
<ellipse cx="166" cy="119" rx="5" ry="7" fill="#1226e4" opacity="1.0"/>
<ellipse cx="13" cy="145" rx="11" ry="14" fill="#12368c" opacity="0.95"/>
<ellipse cx="59" cy="151" rx="11" ry="9" fill="#2468d2" opacity="1.0"/>
<ellipse cx="90" cy="150" rx="11" ry="10" fill="#2468d2" opacity="1.0"/>
<ellipse cx="163" cy="152" rx="6" ry="5" fill="#1226e4" opacity="1.0"/>
<ellipse cx="169" cy="157" rx="3" ry="6" fill="#1226e4" opacity="1.0"/>
</g>
</g>
<g transform="translate(1008.0,223.8) scale(0.9988)" clip-path="url(#tclip)">
<rect width="170" height="170" fill="#000"/>
<g filter="url(#gtex)">
<rect x="-20" y="-20" width="210" height="210" fill="#0f5814"/>
<polygon points="44,0 100,0 105,20 128,25 128,63 114,77 81,72 53,67 30,39 48,25" fill="#22dc22" opacity="0.55"/>
<polygon points="128,0 170,0 170,25 128,25" fill="#22dc22" opacity="0.5"/>
<ellipse cx="35" cy="150" rx="32" ry="25" fill="#22dc22" opacity="0.4"/>
<ellipse cx="155" cy="85" rx="17" ry="22" fill="#22dc22" opacity="0.5"/>
<ellipse cx="100" cy="145" rx="35" ry="20" fill="#1a8c1a" opacity="0.45"/>
</g>
<g filter="url(#kbl)">
<ellipse cx="119" cy="18" rx="9" ry="8" fill="#000" opacity="0.92"/>
<ellipse cx="140" cy="115" rx="32" ry="17" fill="#000" opacity="0.92"/>
<ellipse cx="18" cy="150" rx="7" ry="12" fill="#000" opacity="0.92"/>
<ellipse cx="113" cy="97" rx="9" ry="9" fill="#000" opacity="0.92"/>
<ellipse cx="20" cy="20" rx="28" ry="25" fill="#000" opacity="0.55"/>
<ellipse cx="10" cy="85" rx="16" ry="40" fill="#000" opacity="0.5"/>
<ellipse cx="150" cy="48" rx="18" ry="18" fill="#000" opacity="0.5"/>
<ellipse cx="60" cy="110" rx="25" ry="14" fill="#000" opacity="0.3"/>
</g>
<g filter="url(#ntex)">
<ellipse cx="24" cy="7" rx="14" ry="7" fill="#12368c" opacity="0.95"/>
<ellipse cx="64" cy="10" rx="8" ry="12" fill="#12368c" opacity="0.95"/>
<ellipse cx="93" cy="9" rx="10" ry="9" fill="#12368c" opacity="0.95"/>
<ellipse cx="109" cy="7" rx="7" ry="8" fill="#1226e4" opacity="1.0"/>
<ellipse cx="158" cy="7" rx="10" ry="7" fill="#12368c" opacity="0.95"/>
<ellipse cx="145" cy="36" rx="11" ry="10" fill="#1226e4" opacity="1.0"/>
<ellipse cx="58" cy="52" rx="12" ry="8" fill="#2468d2" opacity="1.0"/>
<ellipse cx="17" cy="61" rx="12" ry="8" fill="#12368c" opacity="0.95"/>
<ellipse cx="117" cy="61" rx="10" ry="8" fill="#2468d2" opacity="1.0"/>
<ellipse cx="57" cy="92" rx="10" ry="9" fill="#12368c" opacity="0.95"/>
<ellipse cx="14" cy="94" rx="12" ry="9" fill="#12368c" opacity="0.95"/>
<ellipse cx="94" cy="101" rx="12" ry="15" fill="#1226e4" opacity="1.0" transform="rotate(-20 94 101)"/>
<ellipse cx="127" cy="102" rx="6" ry="9" fill="#1226e4" opacity="1.0"/>
<ellipse cx="158" cy="89" rx="11" ry="9" fill="#1226e4" opacity="1.0"/>
<ellipse cx="136" cy="150" rx="15" ry="8" fill="#1226e4" opacity="1.0"/>
<ellipse cx="54" cy="159" rx="9" ry="9" fill="#12368c" opacity="0.95"/>
<ellipse cx="22" cy="161" rx="6" ry="8" fill="#12368c" opacity="0.95"/>
<ellipse cx="164" cy="165" rx="6" ry="4" fill="#1226e4" opacity="1.0"/>
<ellipse cx="130" cy="166" rx="7" ry="3" fill="#1226e4" opacity="1.0"/>
</g>
</g>
<g transform="translate(1185.0,223.8) scale(0.9988)" clip-path="url(#tclip)">
<rect width="170" height="170" fill="#000"/>
<g filter="url(#gsm)">
<rect x="-20" y="-20" width="210" height="210" fill="#0b320b"/>
<ellipse cx="90" cy="19" rx="22" ry="18" fill="#34ff22" opacity="0.85"/>
<ellipse cx="164" cy="9" rx="8" ry="10" fill="#34ff22" opacity="0.9"/>
<ellipse cx="43" cy="72" rx="15" ry="14" fill="#34ff22" opacity="0.7"/>
<ellipse cx="105" cy="74" rx="18" ry="16" fill="#34ff22" opacity="0.85"/>
<ellipse cx="41" cy="141" rx="25" ry="22" fill="#34ff22" opacity="0.95"/>
<ellipse cx="119" cy="137" rx="15" ry="15" fill="#34ff22" opacity="0.8"/>
<ellipse cx="157" cy="121" rx="14" ry="15" fill="#34ff22" opacity="0.7"/>
<ellipse cx="166" cy="161" rx="6" ry="10" fill="#34ff22" opacity="0.8"/>
<ellipse cx="14" cy="121" rx="18" ry="12" fill="#22dc22" opacity="0.6"/>
<ellipse cx="85" cy="100" rx="70" ry="50" fill="#0a400a" opacity="0.5"/>
</g>
<g filter="url(#kbl)">
<ellipse cx="20" cy="15" rx="20" ry="12" fill="#000" opacity="0.92"/>
<ellipse cx="160" cy="60" rx="10" ry="6" fill="#000" opacity="0.92"/>
</g>
<g filter="url(#ntex)">
<ellipse cx="34" cy="43" rx="10" ry="8" fill="#1226e4" opacity="1.0"/>
<ellipse cx="79" cy="33" rx="11" ry="8" fill="#2468d2" opacity="1.0"/>
<ellipse cx="79" cy="48" rx="12" ry="6" fill="#1226e4" opacity="1.0"/>
<ellipse cx="138" cy="48" rx="6" ry="10" fill="#1226e4" opacity="1.0" transform="rotate(-20 138 48)"/>
<ellipse cx="154" cy="66" rx="10" ry="8" fill="#1226e4" opacity="1.0"/>
<ellipse cx="33" cy="74" rx="7" ry="8" fill="#2468d2" opacity="1.0"/>
<ellipse cx="46" cy="83" rx="8" ry="7" fill="#2468d2" opacity="1.0"/>
<ellipse cx="117" cy="79" rx="10" ry="10" fill="#2468d2" opacity="1.0"/>
<ellipse cx="26" cy="131" rx="11" ry="10" fill="#2468d2" opacity="1.0"/>
<ellipse cx="59" cy="133" rx="8" ry="8" fill="#1226e4" opacity="1.0"/>
<ellipse cx="86" cy="133" rx="9" ry="9" fill="#1226e4" opacity="1.0"/>
<ellipse cx="110" cy="132" rx="9" ry="12" fill="#1226e4" opacity="1.0"/>
<ellipse cx="5" cy="132" rx="6" ry="9" fill="#1226e4" opacity="1.0"/>
<ellipse cx="163" cy="133" rx="7" ry="9" fill="#2468d2" opacity="1.0"/>
<ellipse cx="162" cy="152" rx="8" ry="8" fill="#1226e4" opacity="1.0"/>
<ellipse cx="42" cy="158" rx="14" ry="7" fill="#1226e4" opacity="1.0"/>
<ellipse cx="92" cy="162" rx="12" ry="8" fill="#1226e4" opacity="1.0"/>
<ellipse cx="140" cy="164" rx="8" ry="5" fill="#1226e4" opacity="1.0"/>
<ellipse cx="152" cy="7" rx="6" ry="6" fill="#2468d2" opacity="1.0"/>
</g>
</g>
<g transform="translate(655.0,400.8) scale(0.9988)" clip-path="url(#tclip)">
<rect width="170" height="170" fill="#000"/>
<g filter="url(#gtex)">
<rect x="-20" y="-20" width="210" height="210" fill="#000000"/>
<polygon points="0,0 51,0 47,15 31,33 18,37 6,29 0,20" fill="#147c16"/>
<polygon points="104,0 170,0 170,66 154,73 125,73 122,80 133,98 145,120 151,134 163,147 165,170 114,170 122,152 133,143 107,131 76,134 49,134 31,127 24,111 18,95 9,82 29,78 26,66 33,47 55,37 82,17 100,13" fill="#147c16"/>
<ellipse cx="90" cy="70" rx="25" ry="30" fill="#22dc22" opacity="0.4"/>
<ellipse cx="140" cy="30" rx="25" ry="25" fill="#22dc22" opacity="0.4"/>
<ellipse cx="60" cy="100" rx="25" ry="20" fill="#22dc22" opacity="0.35"/>
<ellipse cx="110" cy="110" rx="20" ry="20" fill="#22dc22" opacity="0.4"/>
<ellipse cx="20" cy="12" rx="18" ry="10" fill="#22dc22" opacity="0.4"/>
<ellipse cx="55" cy="160" rx="25" ry="8" fill="#0a400a" opacity="0.8"/>
</g>
<g filter="url(#kbl)">
<ellipse cx="97" cy="20" rx="7" ry="5" fill="#000" opacity="0.92"/>
<ellipse cx="152" cy="26" rx="8" ry="5" fill="#000" opacity="0.92"/>
<ellipse cx="30" cy="90" rx="4" ry="4" fill="#000" opacity="0.92"/>
<ellipse cx="60" cy="42" rx="3" ry="4" fill="#000" opacity="0.92"/>
</g>
<g filter="url(#ntex)">
<ellipse cx="30" cy="5" rx="12" ry="5" fill="#2468d2" opacity="1.0"/>
<ellipse cx="134" cy="14" rx="13" ry="10" fill="#2468d2" opacity="1.0"/>
<ellipse cx="85" cy="28" rx="9" ry="8" fill="#2468d2" opacity="1.0" transform="rotate(30 85 28)"/>
<ellipse cx="144" cy="55" rx="10" ry="9" fill="#2468d2" opacity="1.0"/>
<ellipse cx="101" cy="60" rx="9" ry="11" fill="#2468d2" opacity="1.0"/>
<ellipse cx="84" cy="95" rx="15" ry="11" fill="#1226e4" opacity="1.0" transform="rotate(-10 84 95)"/>
<ellipse cx="58" cy="112" rx="12" ry="12" fill="#2468d2" opacity="1.0"/>
<ellipse cx="106" cy="116" rx="8" ry="9" fill="#2468d2" opacity="1.0"/>
<ellipse cx="118" cy="124" rx="7" ry="6" fill="#2468d2" opacity="1.0"/>
<ellipse cx="83" cy="148" rx="7" ry="16" fill="#1226e4" opacity="1.0" transform="rotate(5 83 148)"/>
<ellipse cx="100" cy="148" rx="7" ry="16" fill="#1226e4" opacity="1.0" transform="rotate(5 100 148)"/>
<ellipse cx="146" cy="161" rx="13" ry="8" fill="#2468d2" opacity="1.0"/>
</g>
</g>
<g transform="translate(831.4,400.8) scale(0.9988)" clip-path="url(#tclip)">
<rect width="170" height="170" fill="#000"/>
<g filter="url(#gsm)">
<rect x="-20" y="-20" width="210" height="210" fill="#031203"/>
<ellipse cx="36" cy="40" rx="25" ry="20" fill="#22dc22" opacity="0.6"/>
<ellipse cx="72" cy="49" rx="15" ry="11" fill="#34ff22" opacity="0.95"/>
<ellipse cx="54" cy="9" rx="25" ry="10" fill="#2a6a14" opacity="0.7"/>
<ellipse cx="90" cy="92" rx="22" ry="19" fill="#34ff22" opacity="0.95"/>
<ellipse cx="141" cy="64" rx="22" ry="14" fill="#22dc22" opacity="0.8"/>
<ellipse cx="143" cy="102" rx="15" ry="15" fill="#22dc22" opacity="0.55"/>
<ellipse cx="108" cy="152" rx="25" ry="15" fill="#2a6a14" opacity="0.9"/>
<ellipse cx="63" cy="116" rx="15" ry="15" fill="#2a6a14" opacity="0.6"/>
<ellipse cx="169" cy="91" rx="4" ry="5" fill="#34ff22" opacity="0.9"/>
</g>
<g filter="url(#ntex)">
<ellipse cx="11" cy="10" rx="9" ry="10" fill="#12368c" opacity="0.95"/>
<ellipse cx="73" cy="7" rx="11" ry="8" fill="#12368c" opacity="0.95"/>
<ellipse cx="94" cy="29" rx="7" ry="11" fill="#1226e4" opacity="1.0"/>
<ellipse cx="160" cy="28" rx="8" ry="11" fill="#12368c" opacity="0.95"/>
<ellipse cx="13" cy="54" rx="7" ry="9" fill="#1226e4" opacity="1.0"/>
<ellipse cx="30" cy="50" rx="12" ry="9" fill="#12368c" opacity="0.95" transform="rotate(40 30 50)"/>
<ellipse cx="88" cy="54" rx="9" ry="10" fill="#2468d2" opacity="1.0" transform="rotate(-30 88 54)"/>
<ellipse cx="90" cy="76" rx="12" ry="7" fill="#2468d2" opacity="1.0"/>
<ellipse cx="143" cy="71" rx="12" ry="7" fill="#2468d2" opacity="1.0"/>
<ellipse cx="32" cy="105" rx="9" ry="14" fill="#1226e4" opacity="1.0" transform="rotate(20 32 105)"/>
<ellipse cx="64" cy="108" rx="8" ry="12" fill="#1226e4" opacity="1.0" transform="rotate(-15 64 108)"/>
<ellipse cx="127" cy="108" rx="9" ry="12" fill="#2468d2" opacity="1.0" transform="rotate(-20 127 108)"/>
<ellipse cx="103" cy="150" rx="10" ry="9" fill="#1226e4" opacity="1.0" transform="rotate(-30 103 150)"/>
<ellipse cx="30" cy="163" rx="8" ry="6" fill="#1226e4" opacity="1.0"/>
<ellipse cx="5" cy="164" rx="7" ry="6" fill="#1226e4" opacity="1.0"/>
<ellipse cx="167" cy="149" rx="5" ry="9" fill="#1226e4" opacity="1.0"/>
<ellipse cx="121" cy="168" rx="7" ry="2" fill="#1226e4" opacity="1.0"/>
</g>
</g>
<g transform="translate(1008.0,400.8) scale(0.9988)" clip-path="url(#tclip)">
<rect width="170" height="170" fill="#000"/>
<g filter="url(#gtex)">
<rect x="-20" y="-20" width="210" height="210" fill="#0a360d"/>
<polygon points="6,100 20,67 44,39 63,23 67,0 124,0 128,16 109,30 105,44 91,58 109,77 119,91 114,114 133,119 119,138 100,133 81,109 63,95 39,91 25,100" fill="#1a8c1a" opacity="0.9"/>
<polygon points="170,2 156,4 152,20 138,33 114,42 108,53 124,67 136,64 147,49 170,34" fill="#22dc22" opacity="0.9"/>
<ellipse cx="80" cy="72" rx="28" ry="22" fill="#22dc22" opacity="0.28"/>
<ellipse cx="10" cy="22" rx="10" ry="22" fill="#1a8c1a" opacity="0.5"/>
<ellipse cx="128" cy="152" rx="35" ry="16" fill="#1a8c1a" opacity="0.4"/>
<ellipse cx="60" cy="140" rx="40" ry="20" fill="#0a400a" opacity="0.5"/>
</g>
<g filter="url(#kbl)">
<polygon points="18,0 61,0 64,16 53,23 39,33 28,28 18,11" fill="#000" opacity="0.92"/>
<polygon points="128,0 158,0 155,6 149,18 136,28 128,16" fill="#000" opacity="0.92"/>
<ellipse cx="3" cy="80" rx="5" ry="24" fill="#000" opacity="0.92"/>
<ellipse cx="122" cy="70" rx="12" ry="10" fill="#000" opacity="0.92"/>
<ellipse cx="155" cy="150" rx="9" ry="10" fill="#000" opacity="0.92"/>
<ellipse cx="150" cy="100" rx="16" ry="14" fill="#000" opacity="0.4"/>
<ellipse cx="25" cy="125" rx="22" ry="14" fill="#000" opacity="0.35"/>
</g>
<g filter="url(#ntex)">
<ellipse cx="97" cy="33" rx="10" ry="13" fill="#1226e4" opacity="1.0" transform="rotate(30 97 33)"/>
<ellipse cx="53" cy="49" rx="8" ry="9" fill="#2468d2" opacity="1.0"/>
<ellipse cx="155" cy="29" rx="8" ry="10" fill="#2468d2" opacity="1.0"/>
<ellipse cx="53" cy="84" rx="15" ry="6" fill="#2468d2" opacity="1.0"/>
<ellipse cx="108" cy="100" rx="9" ry="13" fill="#1226e4" opacity="1.0"/>
<ellipse cx="154" cy="94" rx="10" ry="12" fill="#1226e4" opacity="1.0"/>
<ellipse cx="34" cy="127" rx="14" ry="10" fill="#1226e4" opacity="1.0"/>
<ellipse cx="84" cy="133" rx="13" ry="8" fill="#1226e4" opacity="1.0"/>
<ellipse cx="125" cy="146" rx="9" ry="9" fill="#1226e4" opacity="1.0"/>
<ellipse cx="165" cy="134" rx="5" ry="10" fill="#1226e4" opacity="1.0"/>
<ellipse cx="43" cy="156" rx="8" ry="12" fill="#12368c" opacity="0.95"/>
<ellipse cx="5" cy="160" rx="6" ry="7" fill="#1226e4" opacity="1.0"/>
<ellipse cx="98" cy="167" rx="5" ry="3" fill="#1226e4" opacity="1.0"/>
</g>
</g>
<g transform="translate(1185.0,400.8) scale(0.9988)" clip-path="url(#tclip)">
<rect width="170" height="170" fill="#000"/>
<g filter="url(#gsm)">
<rect x="-20" y="-20" width="210" height="210" fill="#062206"/>
<ellipse cx="14" cy="12" rx="18" ry="18" fill="#34ff22" opacity="0.85"/>
<polygon points="78,1 97,18 123,39 134,63 123,75 105,70 94,48 83,21" fill="#34ff22"/>
<ellipse cx="155" cy="30" rx="18" ry="16" fill="#34ff22" opacity="0.85"/>
<ellipse cx="27" cy="66" rx="12" ry="18" fill="#22dc22" opacity="0.8"/>
<ellipse cx="23" cy="121" rx="30" ry="25" fill="#22dc22" opacity="0.75"/>
<ellipse cx="78" cy="112" rx="15" ry="20" fill="#34ff22" opacity="0.9"/>
<ellipse cx="105" cy="106" rx="12" ry="15" fill="#34ff22" opacity="0.9"/>
<ellipse cx="97" cy="157" rx="22" ry="14" fill="#34ff22"/>
<ellipse cx="141" cy="99" rx="4" ry="4" fill="#34ff22" opacity="0.9"/>
<ellipse cx="152" cy="110" rx="5" ry="4" fill="#34ff22" opacity="0.9"/>
<ellipse cx="132" cy="85" rx="20" ry="20" fill="#0a400a" opacity="0.9"/>
<ellipse cx="60" cy="30" rx="15" ry="20" fill="#0a400a" opacity="0.8"/>
</g>
<g filter="url(#kbl)">
<ellipse cx="75" cy="80" rx="18" ry="10" fill="#000" opacity="0.92"/>
<ellipse cx="140" cy="150" rx="20" ry="10" fill="#000" opacity="0.92"/>
</g>
<g filter="url(#ntex)">
<ellipse cx="16" cy="21" rx="14" ry="8" fill="#12368c" opacity="0.95" transform="rotate(-25 16 21)"/>
<ellipse cx="125" cy="3" rx="10" ry="4" fill="#1226e4" opacity="1.0"/>
<ellipse cx="161" cy="21" rx="8" ry="8" fill="#2468d2" opacity="1.0"/>
<ellipse cx="30" cy="50" rx="8" ry="13" fill="#12368c" opacity="0.95" transform="rotate(30 30 50)"/>
<ellipse cx="68" cy="47" rx="12" ry="8" fill="#1226e4" opacity="1.0"/>
<ellipse cx="112" cy="49" rx="10" ry="16" fill="#2468d2" opacity="1.0" transform="rotate(-30 112 49)"/>
<ellipse cx="68" cy="66" rx="7" ry="12" fill="#1226e4" opacity="1.0" transform="rotate(-30 68 66)"/>
<ellipse cx="154" cy="66" rx="8" ry="8" fill="#1226e4" opacity="1.0"/>
<ellipse cx="21" cy="104" rx="12" ry="14" fill="#12368c" opacity="0.95" transform="rotate(30 21 104)"/>
<ellipse cx="67" cy="116" rx="8" ry="13" fill="#2468d2" opacity="1.0" transform="rotate(-15 67 116)"/>
<ellipse cx="115" cy="115" rx="8" ry="12" fill="#2468d2" opacity="1.0" transform="rotate(15 115 115)"/>
<ellipse cx="148" cy="132" rx="8" ry="13" fill="#12368c" opacity="0.95" transform="rotate(25 148 132)"/>
<ellipse cx="14" cy="156" rx="12" ry="6" fill="#12368c" opacity="0.95"/>
<ellipse cx="119" cy="161" rx="7" ry="9" fill="#2468d2" opacity="1.0"/>
<ellipse cx="61" cy="166" rx="8" ry="5" fill="#12368c" opacity="0.95"/>
<ellipse cx="166" cy="135" rx="4" ry="7" fill="#1226e4" opacity="1.0"/>
<ellipse cx="164" cy="161" rx="5" ry="7" fill="#1226e4" opacity="1.0"/>
</g>
</g>
<rect x="1318.7" y="560" width="33.2" height="7.6" fill="#fff"/>
<path d="M1491.7,235.8 L1492.3,235.8 L1492.8,235.8 L1493.3,235.8 L1493.8,235.8 L1494.3,235.8 L1494.8,235.8 L1495.3,235.8 L1495.9,235.8 L1496.4,235.8 L1496.9,235.8 L1497.4,235.8 L1497.9,235.8 L1498.4,235.8 L1498.9,235.8 L1499.5,235.8 L1500.0,235.8 L1500.5,235.8 L1501.0,235.8 L1501.5,235.8 L1502.0,235.8 L1502.5,235.8 L1503.1,235.8 L1503.6,235.8 L1504.1,235.8 L1504.6,235.8 L1505.1,235.8 L1505.6,235.8 L1506.1,235.8 L1506.7,235.8 L1507.2,235.8 L1507.7,235.8 L1508.2,235.8 L1508.7,235.8 L1509.2,235.8 L1509.7,235.8 L1510.3,235.8 L1510.8,235.8 L1511.3,235.8 L1511.8,235.8 L1512.3,235.8 L1512.8,235.8 L1513.3,235.8 L1513.9,235.8 L1514.4,235.8 L1514.9,235.8 L1515.4,235.8 L1515.9,235.8 L1516.4,235.8 L1516.9,235.8 L1517.5,235.8 L1518.0,235.8 L1518.5,235.8 L1519.0,235.8 L1519.5,235.8 L1520.0,235.8 L1520.5,235.8 L1521.1,235.8 L1521.6,235.8 L1522.1,235.8 L1522.6,235.8 L1523.1,235.8 L1523.6,235.8 L1524.1,235.8 L1524.7,235.8 L1525.2,235.8 L1525.7,235.8 L1526.2,235.8 L1526.7,235.8 L1527.2,235.8 L1527.8,235.8 L1528.3,235.8 L1528.8,235.8 L1529.3,235.8 L1529.8,235.8 L1530.3,235.8 L1530.8,235.8 L1531.4,235.8 L1531.9,235.8 L1532.4,235.8 L1532.9,235.7 L1533.4,235.7 L1533.9,235.6 L1534.4,235.5 L1535.0,235.3 L1535.5,235.1 L1536.0,234.6 L1536.5,234.0 L1537.0,233.1 L1537.5,231.7 L1538.0,229.9 L1538.6,227.3 L1539.1,223.9 L1539.6,219.5 L1540.1,213.8 L1540.6,206.7 L1541.1,198.0 L1541.6,187.7 L1542.2,175.7 L1542.7,162.2 L1543.2,147.4 L1543.7,131.7 L1544.2,115.5 L1544.7,99.4 L1545.2,84.2 L1545.8,70.4 L1546.3,58.8 L1546.8,50.1 L1547.3,44.7 L1547.8,42.8 L1548.3,44.7 L1548.8,50.1 L1549.4,58.8 L1549.9,70.4 L1550.4,84.2 L1550.9,99.4 L1551.4,115.5 L1551.9,131.7 L1552.4,147.4 L1553.0,162.2 L1553.5,175.7 L1554.0,187.7 L1554.5,198.0 L1555.0,206.7 L1555.5,213.8 L1556.0,219.5 L1556.6,223.9 L1557.1,227.3 L1557.6,229.9 L1558.1,231.7 L1558.6,233.1 L1559.1,234.0 L1559.7,234.6 L1560.2,235.1 L1560.7,235.3 L1561.2,235.5 L1561.7,235.6 L1562.2,235.7 L1562.7,235.7 L1563.3,235.8 L1563.8,235.8 L1564.3,235.8 L1564.8,235.8 L1565.3,235.8 L1565.8,235.8 L1566.3,235.8 L1566.9,235.8 L1567.4,235.8 L1567.9,235.8 L1568.4,235.8 L1568.9,235.8 L1569.4,235.7 L1569.9,235.7 L1570.5,235.7 L1571.0,235.6 L1571.5,235.6 L1572.0,235.5 L1572.5,235.4 L1573.0,235.3 L1573.5,235.2 L1574.1,235.1 L1574.6,234.9 L1575.1,234.7 L1575.6,234.5 L1576.1,234.2 L1576.6,233.9 L1577.1,233.5 L1577.7,233.2 L1578.2,232.8 L1578.7,232.3 L1579.2,231.8 L1579.7,231.4 L1580.2,230.9 L1580.7,230.4 L1581.3,229.9 L1581.8,229.4 L1582.3,229.0 L1582.8,228.6 L1583.3,228.3 L1583.8,228.0 L1584.3,227.8 L1584.9,227.7 L1585.4,227.6 L1585.9,227.7 L1586.4,227.7 L1586.9,227.8 L1587.4,227.9 L1587.9,228.1 L1588.5,228.3 L1589.0,228.5 L1589.5,228.8 L1590.0,229.1 L1590.5,229.4 L1591.0,229.7 L1591.5,230.0 L1592.1,230.3 L1592.6,230.7 L1593.1,231.0 L1593.6,231.3 L1594.1,231.6 L1594.6,231.9 L1595.2,232.2 L1595.7,232.5 L1596.2,232.8 L1596.7,233.0 L1597.2,233.2 L1597.7,233.4 L1598.2,233.6 L1598.8,233.8 L1599.3,233.9 L1599.8,234.1 L1600.3,234.2 L1600.8,234.3 L1601.3,234.4 L1601.8,234.4 L1602.4,234.5 L1602.9,234.5 L1603.4,234.6 L1603.9,234.6 L1604.4,234.6 L1604.9,234.6 L1605.4,234.6 L1606.0,234.6 L1606.5,234.6 L1607.0,234.6 L1607.5,234.6 L1608.0,234.6 L1608.5,234.6 L1609.0,234.6 L1609.6,234.6 L1610.1,234.6 L1610.6,234.6 L1611.1,234.6 L1611.6,234.6 L1612.1,234.6 L1612.6,234.6 L1613.2,234.7 L1613.7,234.7 L1614.2,234.7 L1614.7,234.7 L1615.2,234.7 L1615.7,234.8 L1616.2,234.8 L1616.8,234.8 L1617.3,234.8 L1617.8,234.9 L1618.3,234.9 L1618.8,234.9 L1619.3,235.0 L1619.8,235.0 L1620.4,235.0 L1620.9,235.1 L1621.4,235.1 L1621.9,235.1 L1622.4,235.2 L1622.9,235.2 L1623.4,235.2 L1624.0,235.3 L1624.5,235.3 L1625.0,235.3 L1625.5,235.4 L1626.0,235.4 L1626.5,235.4 L1627.0,235.5 L1627.6,235.5 L1628.1,235.5 L1628.6,235.5 L1629.1,235.5 L1629.6,235.6 L1630.1,235.6 L1630.7,235.6 L1631.2,235.6 L1631.7,235.6 L1632.2,235.7 L1632.7,235.7 L1633.2,235.7 L1633.7,235.7 L1634.3,235.7 L1634.8,235.7 L1635.3,235.7 L1635.8,235.7 L1636.3,235.7 L1636.8,235.7 L1637.3,235.8 L1637.9,235.8 L1638.4,235.8 L1638.9,235.8 L1639.4,235.8 L1639.9,235.8 L1640.4,235.8 L1640.9,235.8 L1641.5,235.8 L1642.0,235.8 L1642.5,235.8 L1643.0,235.8 L1643.5,235.8 L1644.0,235.8 L1644.5,235.8 L1645.1,235.8 L1645.6,235.8 L1646.1,235.8 L1646.6,235.8 L1647.1,235.8 L1647.6,235.8 L1648.1,235.8 L1648.7,235.8 L1649.2,235.8 L1649.7,235.8 L1650.2,235.8 L1650.7,235.8 L1651.2,235.8 L1651.7,235.8 L1652.3,235.8 L1652.8,235.8 L1653.3,235.8 L1653.8,235.8 L1654.3,235.8 L1654.8,235.8 L1655.3,235.8 L1655.9,235.8 L1656.4,235.8 L1656.9,235.8 L1657.4,235.8 L1657.9,235.8 L1658.4,235.8 L1658.9,235.8 L1659.5,235.8 L1660.0,235.8 L1660.5,235.8 L1661.0,235.8 L1661.5,235.8 L1662.0,235.8 L1662.5,235.8 L1663.1,235.8 L1663.6,235.8 L1664.1,235.8 L1664.6,235.8 L1665.1,235.8 L1665.6,235.8 L1666.2,235.8 L1666.7,235.8 L1667.2,235.8 L1667.7,235.8 L1668.2,235.8 L1668.7,235.8 L1669.2,235.8 L1669.8,235.8 L1670.3,235.8 L1670.8,235.8 L1671.3,235.8 L1671.8,235.8 L1672.3,235.8 L1672.8,235.8 L1673.4,235.8 L1673.9,235.8 L1674.4,235.8 L1674.9,235.8 L1675.4,235.8 L1675.9,235.8 L1676.4,235.8 L1677.0,235.8 L1677.5,235.8 L1678.0,235.8 L1678.5,235.8 L1679.0,235.8 L1679.5,235.8 L1680.0,235.8 L1680.6,235.8 L1681.1,235.8 L1681.6,235.8 L1682.1,235.8 L1682.6,235.8 L1683.1,235.8 L1683.6,235.8 L1684.2,235.8 L1684.7,235.8" fill="none" stroke="#0000ff" stroke-width="3.0" stroke-linejoin="round"/>
<path d="M1491.7,235.8 L1492.3,235.8 L1492.8,235.8 L1493.3,235.8 L1493.8,235.8 L1494.3,235.8 L1494.8,235.8 L1495.3,235.8 L1495.9,235.8 L1496.4,235.8 L1496.9,235.8 L1497.4,235.8 L1497.9,235.8 L1498.4,235.8 L1498.9,235.8 L1499.5,235.8 L1500.0,235.8 L1500.5,235.8 L1501.0,235.8 L1501.5,235.8 L1502.0,235.8 L1502.5,235.8 L1503.1,235.8 L1503.6,235.8 L1504.1,235.8 L1504.6,235.8 L1505.1,235.8 L1505.6,235.8 L1506.1,235.8 L1506.7,235.8 L1507.2,235.8 L1507.7,235.8 L1508.2,235.8 L1508.7,235.8 L1509.2,235.8 L1509.7,235.8 L1510.3,235.8 L1510.8,235.8 L1511.3,235.8 L1511.8,235.8 L1512.3,235.8 L1512.8,235.8 L1513.3,235.8 L1513.9,235.8 L1514.4,235.8 L1514.9,235.8 L1515.4,235.8 L1515.9,235.8 L1516.4,235.8 L1516.9,235.8 L1517.5,235.8 L1518.0,235.8 L1518.5,235.8 L1519.0,235.8 L1519.5,235.8 L1520.0,235.8 L1520.5,235.8 L1521.1,235.8 L1521.6,235.8 L1522.1,235.8 L1522.6,235.8 L1523.1,235.8 L1523.6,235.8 L1524.1,235.8 L1524.7,235.8 L1525.2,235.8 L1525.7,235.8 L1526.2,235.8 L1526.7,235.8 L1527.2,235.8 L1527.8,235.8 L1528.3,235.8 L1528.8,235.8 L1529.3,235.8 L1529.8,235.8 L1530.3,235.8 L1530.8,235.8 L1531.4,235.8 L1531.9,235.8 L1532.4,235.8 L1532.9,235.8 L1533.4,235.7 L1533.9,235.7 L1534.4,235.6 L1535.0,235.5 L1535.5,235.3 L1536.0,235.1 L1536.5,234.6 L1537.0,234.0 L1537.5,233.1 L1538.0,231.8 L1538.6,229.9 L1539.1,227.4 L1539.6,224.0 L1540.1,219.6 L1540.6,214.0 L1541.1,206.9 L1541.6,198.4 L1542.2,188.1 L1542.7,176.3 L1543.2,162.9 L1543.7,148.3 L1544.2,132.7 L1544.7,116.6 L1545.2,100.7 L1545.8,85.5 L1546.3,71.9 L1546.8,60.4 L1547.3,51.7 L1547.8,46.2 L1548.3,44.2 L1548.8,45.9 L1549.4,51.1 L1549.9,59.6 L1550.4,70.8 L1550.9,84.1 L1551.4,98.9 L1551.9,114.5 L1552.4,130.2 L1553.0,145.3 L1553.5,159.5 L1554.0,172.5 L1554.5,183.9 L1555.0,193.6 L1555.5,201.8 L1556.0,208.5 L1556.6,213.8 L1557.1,217.9 L1557.6,221.0 L1558.1,223.4 L1558.6,225.1 L1559.1,226.4 L1559.7,227.4 L1560.2,228.1 L1560.7,228.6 L1561.2,229.1 L1561.7,229.4 L1562.2,229.8 L1562.7,230.1 L1563.3,230.4 L1563.8,230.6 L1564.3,230.9 L1564.8,231.1 L1565.3,231.4 L1565.8,231.6 L1566.3,231.8 L1566.9,232.0 L1567.4,232.2 L1567.9,232.3 L1568.4,232.4 L1568.9,232.5 L1569.4,232.5 L1569.9,232.5 L1570.5,232.5 L1571.0,232.3 L1571.5,232.1 L1572.0,231.9 L1572.5,231.5 L1573.0,231.1 L1573.5,230.6 L1574.1,230.0 L1574.6,229.3 L1575.1,228.5 L1575.6,227.6 L1576.1,226.6 L1576.6,225.6 L1577.1,224.5 L1577.7,223.3 L1578.2,222.1 L1578.7,220.9 L1579.2,219.8 L1579.7,218.6 L1580.2,217.6 L1580.7,216.6 L1581.3,215.7 L1581.8,215.0 L1582.3,214.4 L1582.8,213.9 L1583.3,213.6 L1583.8,213.5 L1584.3,213.6 L1584.9,213.8 L1585.4,214.1 L1585.9,214.5 L1586.4,215.0 L1586.9,215.7 L1587.4,216.4 L1587.9,217.2 L1588.5,218.1 L1589.0,219.0 L1589.5,219.9 L1590.0,220.8 L1590.5,221.8 L1591.0,222.7 L1591.5,223.7 L1592.1,224.6 L1592.6,225.4 L1593.1,226.2 L1593.6,226.9 L1594.1,227.6 L1594.6,228.2 L1595.2,228.7 L1595.7,229.2 L1596.2,229.6 L1596.7,229.9 L1597.2,230.2 L1597.7,230.4 L1598.2,230.6 L1598.8,230.7 L1599.3,230.7 L1599.8,230.8 L1600.3,230.8 L1600.8,230.7 L1601.3,230.7 L1601.8,230.6 L1602.4,230.6 L1602.9,230.5 L1603.4,230.4 L1603.9,230.4 L1604.4,230.3 L1604.9,230.3 L1605.4,230.3 L1606.0,230.3 L1606.5,230.3 L1607.0,230.4 L1607.5,230.4 L1608.0,230.4 L1608.5,230.5 L1609.0,230.5 L1609.6,230.6 L1610.1,230.7 L1610.6,230.7 L1611.1,230.8 L1611.6,230.9 L1612.1,231.0 L1612.6,231.1 L1613.2,231.2 L1613.7,231.3 L1614.2,231.4 L1614.7,231.5 L1615.2,231.6 L1615.7,231.8 L1616.2,231.9 L1616.8,232.0 L1617.3,232.1 L1617.8,232.3 L1618.3,232.4 L1618.8,232.5 L1619.3,232.7 L1619.8,232.8 L1620.4,232.9 L1620.9,233.0 L1621.4,233.2 L1621.9,233.3 L1622.4,233.4 L1622.9,233.5 L1623.4,233.7 L1624.0,233.8 L1624.5,233.9 L1625.0,234.0 L1625.5,234.1 L1626.0,234.2 L1626.5,234.3 L1627.0,234.4 L1627.6,234.5 L1628.1,234.6 L1628.6,234.7 L1629.1,234.7 L1629.6,234.8 L1630.1,234.9 L1630.7,234.9 L1631.2,235.0 L1631.7,235.1 L1632.2,235.1 L1632.7,235.2 L1633.2,235.2 L1633.7,235.3 L1634.3,235.3 L1634.8,235.4 L1635.3,235.4 L1635.8,235.4 L1636.3,235.5 L1636.8,235.5 L1637.3,235.5 L1637.9,235.6 L1638.4,235.6 L1638.9,235.6 L1639.4,235.6 L1639.9,235.6 L1640.4,235.7 L1640.9,235.7 L1641.5,235.7 L1642.0,235.7 L1642.5,235.7 L1643.0,235.7 L1643.5,235.7 L1644.0,235.7 L1644.5,235.7 L1645.1,235.7 L1645.6,235.8 L1646.1,235.8 L1646.6,235.8 L1647.1,235.8 L1647.6,235.8 L1648.1,235.8 L1648.7,235.8 L1649.2,235.8 L1649.7,235.8 L1650.2,235.8 L1650.7,235.8 L1651.2,235.8 L1651.7,235.8 L1652.3,235.8 L1652.8,235.8 L1653.3,235.8 L1653.8,235.8 L1654.3,235.8 L1654.8,235.8 L1655.3,235.8 L1655.9,235.8 L1656.4,235.8 L1656.9,235.8 L1657.4,235.8 L1657.9,235.8 L1658.4,235.8 L1658.9,235.8 L1659.5,235.8 L1660.0,235.8 L1660.5,235.8 L1661.0,235.8 L1661.5,235.8 L1662.0,235.8 L1662.5,235.8 L1663.1,235.8 L1663.6,235.8 L1664.1,235.8 L1664.6,235.8 L1665.1,235.8 L1665.6,235.8 L1666.2,235.8 L1666.7,235.8 L1667.2,235.8 L1667.7,235.8 L1668.2,235.8 L1668.7,235.8 L1669.2,235.8 L1669.8,235.8 L1670.3,235.8 L1670.8,235.8 L1671.3,235.8 L1671.8,235.8 L1672.3,235.8 L1672.8,235.8 L1673.4,235.8 L1673.9,235.8 L1674.4,235.8 L1674.9,235.8 L1675.4,235.8 L1675.9,235.8 L1676.4,235.8 L1677.0,235.8 L1677.5,235.8 L1678.0,235.8 L1678.5,235.8 L1679.0,235.8 L1679.5,235.8 L1680.0,235.8 L1680.6,235.8 L1681.1,235.8 L1681.6,235.8 L1682.1,235.8 L1682.6,235.8 L1683.1,235.8 L1683.6,235.8 L1684.2,235.8 L1684.7,235.8" fill="none" stroke="#000000" stroke-width="3.0" stroke-linejoin="round"/>
<path d="M1491.7,235.8 L1492.3,235.8 L1492.8,235.8 L1493.3,235.8 L1493.8,235.8 L1494.3,235.8 L1494.8,235.8 L1495.3,235.8 L1495.9,235.8 L1496.4,235.8 L1496.9,235.8 L1497.4,235.8 L1497.9,235.8 L1498.4,235.8 L1498.9,235.8 L1499.5,235.8 L1500.0,235.8 L1500.5,235.8 L1501.0,235.8 L1501.5,235.8 L1502.0,235.8 L1502.5,235.8 L1503.1,235.8 L1503.6,235.8 L1504.1,235.8 L1504.6,235.8 L1505.1,235.8 L1505.6,235.8 L1506.1,235.8 L1506.7,235.8 L1507.2,235.8 L1507.7,235.8 L1508.2,235.8 L1508.7,235.8 L1509.2,235.8 L1509.7,235.8 L1510.3,235.8 L1510.8,235.8 L1511.3,235.8 L1511.8,235.8 L1512.3,235.8 L1512.8,235.8 L1513.3,235.8 L1513.9,235.8 L1514.4,235.8 L1514.9,235.8 L1515.4,235.8 L1515.9,235.8 L1516.4,235.8 L1516.9,235.8 L1517.5,235.8 L1518.0,235.8 L1518.5,235.8 L1519.0,235.8 L1519.5,235.8 L1520.0,235.8 L1520.5,235.7 L1521.1,235.7 L1521.6,235.7 L1522.1,235.6 L1522.6,235.5 L1523.1,235.4 L1523.6,235.2 L1524.1,235.0 L1524.7,234.9 L1525.2,234.7 L1525.7,234.5 L1526.2,234.4 L1526.7,234.3 L1527.2,234.3 L1527.8,234.3 L1528.3,234.4 L1528.8,234.5 L1529.3,234.7 L1529.8,234.9 L1530.3,235.0 L1530.8,235.2 L1531.4,235.4 L1531.9,235.5 L1532.4,235.6 L1532.9,235.6 L1533.4,235.7 L1533.9,235.6 L1534.4,235.6 L1535.0,235.5 L1535.5,235.3 L1536.0,235.0 L1536.5,234.6 L1537.0,234.0 L1537.5,233.1 L1538.0,231.7 L1538.6,229.9 L1539.1,227.3 L1539.6,223.9 L1540.1,219.5 L1540.6,213.8 L1541.1,206.6 L1541.6,198.0 L1542.2,187.7 L1542.7,175.7 L1543.2,162.2 L1543.7,147.4 L1544.2,131.6 L1544.7,115.4 L1545.2,99.3 L1545.8,84.0 L1546.3,70.2 L1546.8,58.6 L1547.3,49.8 L1547.8,44.2 L1548.3,42.8 L1548.8,43.9 L1549.4,49.2 L1549.9,57.7 L1550.4,69.0 L1550.9,82.5 L1551.4,97.4 L1551.9,113.1 L1552.4,128.9 L1553.0,144.2 L1553.5,158.5 L1554.0,171.5 L1554.5,183.0 L1555.0,192.8 L1555.5,201.0 L1556.0,207.7 L1556.6,213.0 L1557.1,217.2 L1557.6,220.3 L1558.1,222.6 L1558.6,224.3 L1559.1,225.6 L1559.7,226.5 L1560.2,227.2 L1560.7,227.7 L1561.2,228.1 L1561.7,228.5 L1562.2,228.8 L1562.7,229.1 L1563.3,229.4 L1563.8,229.6 L1564.3,229.9 L1564.8,230.1 L1565.3,230.4 L1565.8,230.6 L1566.3,230.8 L1566.9,231.0 L1567.4,231.1 L1567.9,231.2 L1568.4,231.3 L1568.9,231.3 L1569.4,231.3 L1569.9,231.1 L1570.5,230.9 L1571.0,230.6 L1571.5,230.1 L1572.0,229.6 L1572.5,228.9 L1573.0,228.0 L1573.5,227.0 L1574.1,225.9 L1574.6,224.5 L1575.1,223.0 L1575.6,221.4 L1576.1,219.6 L1576.6,217.7 L1577.1,215.7 L1577.7,213.7 L1578.2,211.5 L1578.7,209.4 L1579.2,207.3 L1579.7,205.3 L1580.2,203.4 L1580.7,201.6 L1581.3,200.0 L1581.8,198.7 L1582.3,197.6 L1582.8,196.8 L1583.3,196.3 L1583.8,196.1 L1584.3,196.2 L1584.9,196.5 L1585.4,197.0 L1585.9,197.6 L1586.4,198.4 L1586.9,199.4 L1587.4,200.5 L1587.9,201.8 L1588.5,203.1 L1589.0,204.5 L1589.5,206.0 L1590.0,207.6 L1590.5,209.1 L1591.0,210.6 L1591.5,212.2 L1592.1,213.6 L1592.6,215.0 L1593.1,216.4 L1593.6,217.6 L1594.1,218.8 L1594.6,219.8 L1595.2,220.8 L1595.7,221.6 L1596.2,222.3 L1596.7,222.9 L1597.2,223.4 L1597.7,223.7 L1598.2,224.0 L1598.8,224.1 L1599.3,224.2 L1599.8,224.2 L1600.3,224.1 L1600.8,224.0 L1601.3,223.8 L1601.8,223.6 L1602.4,223.4 L1602.9,223.1 L1603.4,222.9 L1603.9,222.7 L1604.4,222.5 L1604.9,222.3 L1605.4,222.2 L1606.0,222.1 L1606.5,222.0 L1607.0,222.1 L1607.5,222.1 L1608.0,222.2 L1608.5,222.3 L1609.0,222.3 L1609.6,222.4 L1610.1,222.5 L1610.6,222.7 L1611.1,222.8 L1611.6,222.9 L1612.1,223.1 L1612.6,223.3 L1613.2,223.5 L1613.7,223.7 L1614.2,223.9 L1614.7,224.1 L1615.2,224.3 L1615.7,224.6 L1616.2,224.8 L1616.8,225.1 L1617.3,225.3 L1617.8,225.6 L1618.3,225.9 L1618.8,226.2 L1619.3,226.4 L1619.8,226.7 L1620.4,227.0 L1620.9,227.3 L1621.4,227.6 L1621.9,227.9 L1622.4,228.2 L1622.9,228.5 L1623.4,228.8 L1624.0,229.1 L1624.5,229.3 L1625.0,229.6 L1625.5,229.9 L1626.0,230.2 L1626.5,230.4 L1627.0,230.7 L1627.6,230.9 L1628.1,231.2 L1628.6,231.4 L1629.1,231.6 L1629.6,231.9 L1630.1,232.1 L1630.7,232.3 L1631.2,232.5 L1631.7,232.7 L1632.2,232.9 L1632.7,233.1 L1633.2,233.2 L1633.7,233.4 L1634.3,233.5 L1634.8,233.7 L1635.3,233.8 L1635.8,234.0 L1636.3,234.1 L1636.8,234.2 L1637.3,234.3 L1637.9,234.4 L1638.4,234.5 L1638.9,234.6 L1639.4,234.7 L1639.9,234.8 L1640.4,234.9 L1640.9,235.0 L1641.5,235.0 L1642.0,235.1 L1642.5,235.2 L1643.0,235.2 L1643.5,235.3 L1644.0,235.3 L1644.5,235.3 L1645.1,235.4 L1645.6,235.4 L1646.1,235.5 L1646.6,235.5 L1647.1,235.5 L1647.6,235.5 L1648.1,235.6 L1648.7,235.6 L1649.2,235.6 L1649.7,235.6 L1650.2,235.6 L1650.7,235.7 L1651.2,235.7 L1651.7,235.7 L1652.3,235.7 L1652.8,235.7 L1653.3,235.7 L1653.8,235.7 L1654.3,235.7 L1654.8,235.7 L1655.3,235.8 L1655.9,235.8 L1656.4,235.8 L1656.9,235.8 L1657.4,235.8 L1657.9,235.8 L1658.4,235.8 L1658.9,235.8 L1659.5,235.8 L1660.0,235.8 L1660.5,235.8 L1661.0,235.8 L1661.5,235.8 L1662.0,235.8 L1662.5,235.8 L1663.1,235.8 L1663.6,235.8 L1664.1,235.8 L1664.6,235.8 L1665.1,235.8 L1665.6,235.8 L1666.2,235.8 L1666.7,235.8 L1667.2,235.8 L1667.7,235.8 L1668.2,235.8 L1668.7,235.8 L1669.2,235.8 L1669.8,235.8 L1670.3,235.8 L1670.8,235.8 L1671.3,235.8 L1671.8,235.8 L1672.3,235.8 L1672.8,235.8 L1673.4,235.8 L1673.9,235.8 L1674.4,235.8 L1674.9,235.8 L1675.4,235.8 L1675.9,235.8 L1676.4,235.8 L1677.0,235.8 L1677.5,235.8 L1678.0,235.8 L1678.5,235.8 L1679.0,235.8 L1679.5,235.8 L1680.0,235.8 L1680.6,235.8 L1681.1,235.8 L1681.6,235.8 L1682.1,235.8 L1682.6,235.8 L1683.1,235.8 L1683.6,235.8 L1684.2,235.8 L1684.7,235.8" fill="none" stroke="#ff0000" stroke-width="3.0" stroke-linejoin="round"/>
<path d="M1491.0,41.5 V237.20000000000002 M1480.0,235.8 H1684.5" stroke="#000" stroke-width="3" fill="none"/>
<path d="M1484.0,216.5 H1491.0 M1484.0,197.2 H1491.0 M1484.0,177.9 H1491.0 M1484.0,158.6 H1491.0 M1480.0,139.3 H1491.0 M1484.0,120.0 H1491.0 M1484.0,100.7 H1491.0 M1484.0,81.4 H1491.0 M1484.0,62.1 H1491.0 M1480.0,42.8 H1491.0 M1508.2,235.8 V245.3 M1533.9,235.8 V240.8 M1559.7,235.8 V245.3 M1585.4,235.8 V240.8 M1611.1,235.8 V245.3 M1636.8,235.8 V240.8 M1662.5,235.8 V245.3 " stroke="#000" stroke-width="2.6" fill="none"/>
<text transform="translate(1473.50,243.30)" font-size="21" text-anchor="end" textLength="22.50" lengthAdjust="spacingAndGlyphs">0.0</text>
<text transform="translate(1473.50,146.80)" font-size="21" text-anchor="end" textLength="22.50" lengthAdjust="spacingAndGlyphs">0.5</text>
<text transform="translate(1473.50,50.30)" font-size="21" text-anchor="end" textLength="22.50" lengthAdjust="spacingAndGlyphs">1.0</text>
<text transform="translate(1507.70,267.40)" font-size="21" text-anchor="middle" textLength="27.00" lengthAdjust="spacingAndGlyphs">100</text>
<text transform="translate(1559.15,267.40)" font-size="21" text-anchor="middle" textLength="27.00" lengthAdjust="spacingAndGlyphs">200</text>
<text transform="translate(1610.60,267.40)" font-size="21" text-anchor="middle" textLength="27.00" lengthAdjust="spacingAndGlyphs">300</text>
<text transform="translate(1662.05,267.40)" font-size="21" text-anchor="middle" textLength="27.00" lengthAdjust="spacingAndGlyphs">400</text>
<text transform="translate(1585.50,289.30)" font-size="20.2" text-anchor="middle" textLength="36.00" lengthAdjust="spacingAndGlyphs">kDa</text>
<text transform="translate(1579.50,30.80)" font-size="24.2" text-anchor="middle" textLength="94.00" lengthAdjust="spacingAndGlyphs">SC-aIgG</text>
<text transform="translate(1409.00,146.30) rotate(-90)" font-size="20.1" text-anchor="middle" textLength="181.00" lengthAdjust="spacingAndGlyphs">Chemiluminescence</text>
<text transform="translate(1436.50,146.30) rotate(-90)" font-size="20.1" text-anchor="middle" textLength="115.00" lengthAdjust="spacingAndGlyphs">(Normalized)</text>
<path d="M1491.3,531.8C1493.5,531.4 1500.9,531.1 1504.0,529.5C1507.1,527.9 1508.3,523.9 1510.0,522.1C1511.7,520.2 1513.0,518.3 1514.5,518.3C1516.0,518.3 1517.2,520.6 1518.9,522.1C1520.7,523.5 1522.7,526.4 1524.9,527.3C1527.1,528.1 1529.9,527.9 1532.4,527.3C1534.8,526.7 1537.8,526.2 1539.8,523.5C1541.8,520.9 1543.0,519.8 1544.3,511.6C1545.5,503.4 1546.2,490.5 1547.3,474.3C1548.4,458.1 1549.9,432.0 1551.0,414.6C1552.1,397.2 1553.1,379.3 1554.0,369.8C1554.9,360.4 1555.6,359.4 1556.2,357.9C1556.9,356.4 1557.4,357.7 1558.0,360.9C1558.6,364.1 1559.1,374.1 1560.0,377.3C1560.8,380.5 1561.7,379.5 1562.9,380.3C1564.2,381.0 1566.0,379.5 1567.4,381.8C1568.8,384.0 1570.0,389.2 1571.1,393.7C1572.3,398.2 1573.0,404.9 1574.1,408.6C1575.2,412.4 1576.7,415.4 1577.8,416.1C1579.0,416.8 1579.9,414.1 1580.8,413.1C1581.8,412.2 1582.6,409.2 1583.5,410.4C1584.4,411.7 1585.1,416.6 1586.0,420.6C1587.0,424.5 1588.2,431.5 1589.0,434.0C1589.9,436.5 1590.5,436.7 1591.3,435.5C1592.0,434.3 1592.6,432.0 1593.5,426.5C1594.4,421.1 1595.5,411.6 1596.5,402.7C1597.5,393.7 1598.5,380.8 1599.5,372.8C1600.5,364.9 1601.2,359.4 1602.5,354.9C1603.7,350.4 1605.4,348.1 1606.9,346.0C1608.4,343.8 1610.0,343.4 1611.4,342.2C1612.8,341.0 1613.9,338.9 1615.1,338.8C1616.4,338.7 1617.5,340.0 1618.9,341.5C1620.2,342.9 1621.8,345.0 1623.3,347.5C1624.8,349.9 1626.3,353.2 1627.8,356.4C1629.3,359.6 1630.5,361.1 1632.3,366.9C1634.0,372.6 1636.3,381.3 1638.2,390.7C1640.2,400.2 1642.5,412.6 1644.2,423.6C1645.9,434.5 1647.2,445.4 1648.7,456.4C1650.2,467.3 1651.7,480.5 1653.2,489.2C1654.6,497.9 1655.9,503.4 1657.6,508.6C1659.4,513.8 1661.4,517.8 1663.6,520.6C1665.8,523.3 1668.9,524.2 1671.1,525.0C1673.2,525.9 1675.0,524.8 1676.3,525.8C1677.5,526.8 1677.1,530.0 1678.5,531.0C1679.9,532.0 1683.5,531.8 1684.5,531.9" fill="none" stroke="#0000ff" stroke-width="3.0" stroke-linejoin="round"/>
<path d="M1491.3,531.8C1494.0,531.4 1503.4,530.5 1507.0,529.5C1510.6,528.5 1511.0,525.8 1513.0,525.8C1515.0,525.7 1516.2,528.4 1518.9,529.2C1521.7,530.0 1525.9,530.7 1529.4,530.7C1532.9,530.8 1537.3,531.5 1539.8,529.5C1542.3,527.6 1543.0,527.0 1544.3,519.1C1545.5,511.1 1546.2,497.9 1547.3,481.8C1548.4,465.6 1549.9,435.7 1551.0,422.1C1552.1,408.4 1553.1,402.2 1554.0,399.7C1554.9,397.2 1555.4,401.7 1556.2,407.1C1557.1,412.6 1558.0,425.8 1559.2,432.5C1560.4,439.2 1562.2,442.5 1563.7,447.4C1565.2,452.4 1566.4,457.4 1568.2,462.4C1569.9,467.3 1572.3,473.8 1574.1,477.3C1576.0,480.8 1577.8,483.3 1579.3,483.3C1580.8,483.3 1581.9,483.8 1583.1,477.3C1584.2,470.8 1585.1,456.1 1586.0,444.5C1587.0,432.8 1587.9,420.8 1589.0,407.1C1590.1,393.5 1591.6,373.3 1592.8,362.4C1593.9,351.4 1594.9,345.4 1595.7,341.5C1596.6,337.6 1597.1,338.7 1598.0,338.8C1598.8,338.9 1600.0,339.5 1601.0,342.2C1602.0,344.9 1602.7,350.7 1603.9,354.9C1605.2,359.1 1606.9,365.4 1608.4,367.6C1609.9,369.8 1611.2,369.0 1612.9,368.3C1614.6,367.7 1617.1,363.6 1618.9,363.9C1620.6,364.1 1621.6,367.1 1623.3,369.8C1625.1,372.6 1627.1,375.3 1629.3,380.3C1631.5,385.3 1634.3,391.7 1636.8,399.7C1639.2,407.6 1642.0,418.1 1644.2,428.0C1646.4,438.0 1648.2,449.2 1650.2,459.4C1652.2,469.6 1654.2,480.5 1656.1,489.2C1658.1,497.9 1660.1,506.1 1662.1,511.6C1664.1,517.1 1665.8,519.1 1668.1,522.1C1670.3,525.0 1672.8,527.9 1675.5,529.5C1678.3,531.2 1683.0,531.5 1684.5,531.9" fill="none" stroke="#000000" stroke-width="3.0" stroke-linejoin="round"/>
<path d="M1491.3,531.8C1493.7,531.6 1501.9,531.2 1505.5,530.7C1509.1,530.2 1510.5,528.8 1513.0,528.8C1515.5,528.8 1516.2,530.4 1520.4,530.7C1524.7,531.0 1534.6,531.4 1538.3,530.7C1542.1,530.0 1541.6,529.7 1542.8,526.5C1544.0,523.3 1544.8,520.3 1545.8,511.6C1546.8,502.9 1547.8,488.0 1548.8,474.3C1549.8,460.6 1550.9,439.0 1551.7,429.5C1552.6,420.1 1553.2,417.8 1554.0,417.6C1554.7,417.3 1555.4,421.1 1556.2,428.0C1557.1,435.0 1558.2,449.2 1559.2,459.4C1560.2,469.6 1560.9,480.8 1562.2,489.2C1563.4,497.7 1564.9,504.8 1566.7,510.1C1568.4,515.5 1570.6,520.1 1572.6,521.3C1574.6,522.5 1577.0,520.4 1578.6,517.6C1580.2,514.7 1581.1,512.6 1582.3,504.1C1583.6,495.7 1584.9,480.5 1586.0,466.8C1587.2,453.2 1588.0,438.2 1589.0,422.1C1590.0,405.9 1591.1,382.8 1592.0,369.8C1592.9,356.9 1593.6,349.6 1594.2,344.5C1594.9,339.3 1595.5,338.8 1596.2,338.8C1596.9,338.8 1597.5,340.5 1598.3,344.5C1599.1,348.4 1599.8,355.2 1601.0,362.4C1602.2,369.6 1603.9,381.5 1605.4,387.7C1606.9,394.0 1608.4,398.9 1609.9,399.7C1611.4,400.4 1612.9,395.2 1614.4,392.2C1615.9,389.2 1617.4,384.0 1618.9,381.8C1620.3,379.5 1621.8,379.2 1623.3,378.8C1624.8,378.4 1626.1,378.0 1627.8,379.5C1629.5,381.0 1631.5,383.1 1633.8,387.7C1636.0,392.3 1638.7,398.9 1641.2,407.1C1643.7,415.4 1646.4,425.8 1648.7,437.0C1650.9,448.2 1652.9,463.6 1654.6,474.3C1656.4,485.0 1657.6,493.9 1659.1,501.2C1660.6,508.4 1661.9,513.3 1663.6,517.6C1665.3,521.8 1667.1,524.2 1669.6,526.5C1672.0,528.8 1676.0,530.4 1678.5,531.3C1681.0,532.2 1683.5,531.8 1684.5,531.9" fill="none" stroke="#ff0000" stroke-width="3.0" stroke-linejoin="round"/>
<path d="M1491.3,337.5 V533.6 M1480.3,532.2 H1684.8" stroke="#000" stroke-width="3" fill="none"/>
<path d="M1484.3,512.9 H1491.3 M1484.3,493.5 H1491.3 M1484.3,474.2 H1491.3 M1484.3,454.8 H1491.3 M1480.3,435.5 H1491.3 M1484.3,416.2 H1491.3 M1484.3,396.8 H1491.3 M1484.3,377.5 H1491.3 M1484.3,358.1 H1491.3 M1480.3,338.8 H1491.3 M1508.5,532.2 V541.7 M1534.2,532.2 V537.2 M1560.0,532.2 V541.7 M1585.7,532.2 V537.2 M1611.4,532.2 V541.7 M1637.1,532.2 V537.2 M1662.8,532.2 V541.7 " stroke="#000" stroke-width="2.6" fill="none"/>
<text transform="translate(1473.80,539.70)" font-size="21" text-anchor="end" textLength="22.50" lengthAdjust="spacingAndGlyphs">0.0</text>
<text transform="translate(1473.80,443.00)" font-size="21" text-anchor="end" textLength="22.50" lengthAdjust="spacingAndGlyphs">0.5</text>
<text transform="translate(1473.80,346.30)" font-size="21" text-anchor="end" textLength="22.50" lengthAdjust="spacingAndGlyphs">1.0</text>
<text transform="translate(1508.00,563.80)" font-size="21" text-anchor="middle" textLength="27.00" lengthAdjust="spacingAndGlyphs">100</text>
<text transform="translate(1559.45,563.80)" font-size="21" text-anchor="middle" textLength="27.00" lengthAdjust="spacingAndGlyphs">200</text>
<text transform="translate(1610.90,563.80)" font-size="21" text-anchor="middle" textLength="27.00" lengthAdjust="spacingAndGlyphs">300</text>
<text transform="translate(1662.35,563.80)" font-size="21" text-anchor="middle" textLength="27.00" lengthAdjust="spacingAndGlyphs">400</text>
<text transform="translate(1585.80,585.70)" font-size="20.2" text-anchor="middle" textLength="36.00" lengthAdjust="spacingAndGlyphs">kDa</text>
<text transform="translate(1571.50,326.00)" font-size="24.2" text-anchor="middle" textLength="90.00" lengthAdjust="spacingAndGlyphs">SC-sIgA</text>
<text transform="translate(1409.00,442.50) rotate(-90)" font-size="20.1" text-anchor="middle" textLength="181.00" lengthAdjust="spacingAndGlyphs">Chemiluminescence</text>
<text transform="translate(1436.50,442.50) rotate(-90)" font-size="20.1" text-anchor="middle" textLength="115.00" lengthAdjust="spacingAndGlyphs">(Normalized)</text>
<path d="M1822.0,532.2 L1822.6,532.2 L1823.1,532.2 L1823.6,532.2 L1824.1,532.2 L1824.6,532.2 L1825.1,532.2 L1825.6,532.2 L1826.2,532.2 L1826.7,532.2 L1827.2,532.2 L1827.7,532.2 L1828.2,532.2 L1828.7,532.2 L1829.2,532.2 L1829.8,532.2 L1830.3,532.2 L1830.8,532.2 L1831.3,532.2 L1831.8,532.2 L1832.3,532.2 L1832.8,532.2 L1833.4,532.2 L1833.9,532.2 L1834.4,532.2 L1834.9,532.2 L1835.4,532.2 L1835.9,532.2 L1836.4,532.2 L1837.0,532.2 L1837.5,532.2 L1838.0,532.2 L1838.5,532.2 L1839.0,532.2 L1839.5,532.2 L1840.0,532.2 L1840.6,532.2 L1841.1,532.2 L1841.6,532.2 L1842.1,532.2 L1842.6,532.2 L1843.1,532.2 L1843.6,532.2 L1844.2,532.2 L1844.7,532.2 L1845.2,532.2 L1845.7,532.2 L1846.2,532.2 L1846.7,532.2 L1847.2,532.2 L1847.8,532.2 L1848.3,532.2 L1848.8,532.2 L1849.3,532.2 L1849.8,532.2 L1850.3,532.2 L1850.8,532.2 L1851.4,532.2 L1851.9,532.2 L1852.4,532.2 L1852.9,532.2 L1853.4,532.2 L1853.9,532.2 L1854.4,532.2 L1855.0,532.2 L1855.5,532.2 L1856.0,532.2 L1856.5,532.2 L1857.0,532.2 L1857.5,532.2 L1858.1,532.2 L1858.6,532.2 L1859.1,532.2 L1859.6,532.2 L1860.1,532.2 L1860.6,532.2 L1861.1,532.2 L1861.7,532.2 L1862.2,532.1 L1862.7,532.1 L1863.2,532.0 L1863.7,531.9 L1864.2,531.7 L1864.7,531.5 L1865.3,531.0 L1865.8,530.4 L1866.3,529.6 L1866.8,528.4 L1867.3,526.7 L1867.8,524.4 L1868.3,521.3 L1868.9,517.4 L1869.4,512.3 L1869.9,506.0 L1870.4,498.3 L1870.9,489.1 L1871.4,478.4 L1871.9,466.2 L1872.5,452.7 L1873.0,438.1 L1873.5,422.7 L1874.0,407.1 L1874.5,391.8 L1875.0,377.3 L1875.5,364.4 L1876.1,353.7 L1876.6,345.5 L1877.1,340.5 L1877.6,338.8 L1878.1,340.5 L1878.6,345.5 L1879.1,353.6 L1879.7,364.4 L1880.2,377.2 L1880.7,391.6 L1881.2,406.9 L1881.7,422.4 L1882.2,437.7 L1882.7,452.2 L1883.3,465.7 L1883.8,477.7 L1884.3,488.2 L1884.8,497.2 L1885.3,504.6 L1885.8,510.6 L1886.3,515.4 L1886.9,519.0 L1887.4,521.6 L1887.9,523.5 L1888.4,524.7 L1888.9,525.5 L1889.4,525.9 L1890.0,526.0 L1890.5,526.0 L1891.0,525.9 L1891.5,525.7 L1892.0,525.5 L1892.5,525.4 L1893.0,525.2 L1893.6,525.1 L1894.1,525.1 L1894.6,525.1 L1895.1,525.1 L1895.6,525.2 L1896.1,525.2 L1896.6,525.3 L1897.2,525.2 L1897.7,525.1 L1898.2,524.8 L1898.7,524.4 L1899.2,523.8 L1899.7,523.0 L1900.2,522.0 L1900.8,520.6 L1901.3,519.0 L1901.8,517.1 L1902.3,514.9 L1902.8,512.4 L1903.3,509.7 L1903.8,506.7 L1904.4,503.5 L1904.9,500.1 L1905.4,496.7 L1905.9,493.3 L1906.4,489.9 L1906.9,486.6 L1907.4,483.6 L1908.0,480.8 L1908.5,478.5 L1909.0,476.6 L1909.5,475.1 L1910.0,474.2 L1910.5,473.9 L1911.0,474.1 L1911.6,474.6 L1912.1,475.5 L1912.6,476.8 L1913.1,478.4 L1913.6,480.3 L1914.1,482.4 L1914.6,484.7 L1915.2,487.2 L1915.7,489.8 L1916.2,492.5 L1916.7,495.2 L1917.2,497.8 L1917.7,500.4 L1918.2,502.8 L1918.8,505.1 L1919.3,507.2 L1919.8,509.1 L1920.3,510.8 L1920.8,512.2 L1921.3,513.4 L1921.8,514.3 L1922.4,514.9 L1922.9,515.3 L1923.4,515.4 L1923.9,515.3 L1924.4,514.9 L1924.9,514.2 L1925.5,513.3 L1926.0,512.1 L1926.5,510.8 L1927.0,509.2 L1927.5,507.3 L1928.0,505.3 L1928.5,503.1 L1929.1,500.6 L1929.6,498.0 L1930.1,495.1 L1930.6,492.1 L1931.1,488.9 L1931.6,485.6 L1932.1,482.1 L1932.7,478.4 L1933.2,474.6 L1933.7,470.7 L1934.2,466.6 L1934.7,462.5 L1935.2,458.3 L1935.7,454.0 L1936.3,449.7 L1936.8,445.4 L1937.3,441.1 L1937.8,436.7 L1938.3,432.5 L1938.8,428.3 L1939.3,424.2 L1939.9,420.2 L1940.4,416.3 L1940.9,412.7 L1941.4,409.2 L1941.9,405.9 L1942.4,402.9 L1942.9,400.1 L1943.5,397.6 L1944.0,395.4 L1944.5,393.5 L1945.0,391.9 L1945.5,390.7 L1946.0,389.8 L1946.5,389.3 L1947.1,389.1 L1947.6,389.2 L1948.1,389.5 L1948.6,390.0 L1949.1,390.8 L1949.6,391.7 L1950.1,392.8 L1950.7,394.2 L1951.2,395.7 L1951.7,397.4 L1952.2,399.3 L1952.7,401.3 L1953.2,403.5 L1953.7,405.9 L1954.3,408.4 L1954.8,411.0 L1955.3,413.8 L1955.8,416.6 L1956.3,419.6 L1956.8,422.6 L1957.3,425.7 L1957.9,428.9 L1958.4,432.2 L1958.9,435.4 L1959.4,438.7 L1959.9,442.1 L1960.4,445.4 L1961.0,448.7 L1961.5,452.1 L1962.0,455.4 L1962.5,458.6 L1963.0,461.9 L1963.5,465.1 L1964.0,468.2 L1964.6,471.3 L1965.1,474.4 L1965.6,477.3 L1966.1,480.2 L1966.6,483.0 L1967.1,485.7 L1967.6,488.4 L1968.2,490.9 L1968.7,493.4 L1969.2,495.7 L1969.7,498.0 L1970.2,500.2 L1970.7,502.3 L1971.2,504.3 L1971.8,506.2 L1972.3,508.0 L1972.8,509.7 L1973.3,511.3 L1973.8,512.8 L1974.3,514.3 L1974.8,515.6 L1975.4,516.9 L1975.9,518.1 L1976.4,519.3 L1976.9,520.3 L1977.4,521.3 L1977.9,522.2 L1978.4,523.1 L1979.0,523.9 L1979.5,524.6 L1980.0,525.3 L1980.5,525.9 L1981.0,526.5 L1981.5,527.0 L1982.0,527.5 L1982.6,528.0 L1983.1,528.4 L1983.6,528.8 L1984.1,529.1 L1984.6,529.4 L1985.1,529.7 L1985.6,530.0 L1986.2,530.2 L1986.7,530.4 L1987.2,530.6 L1987.7,530.8 L1988.2,530.9 L1988.7,531.1 L1989.2,531.2 L1989.8,531.3 L1990.3,531.4 L1990.8,531.5 L1991.3,531.6 L1991.8,531.7 L1992.3,531.7 L1992.8,531.8 L1993.4,531.8 L1993.9,531.9 L1994.4,531.9 L1994.9,532.0 L1995.4,532.0 L1995.9,532.0 L1996.5,532.0 L1997.0,532.1 L1997.5,532.1 L1998.0,532.1 L1998.5,532.1 L1999.0,532.1 L1999.5,532.1 L2000.1,532.1 L2000.6,532.2 L2001.1,532.2 L2001.6,532.2 L2002.1,532.2 L2002.6,532.2 L2003.1,532.2 L2003.7,532.2 L2004.2,532.2 L2004.7,532.2 L2005.2,532.2 L2005.7,532.2 L2006.2,532.2 L2006.7,532.2 L2007.3,532.2 L2007.8,532.2 L2008.3,532.2 L2008.8,532.2 L2009.3,532.2 L2009.8,532.2 L2010.3,532.2 L2010.9,532.2 L2011.4,532.2 L2011.9,532.2 L2012.4,532.2 L2012.9,532.2 L2013.4,532.2 L2013.9,532.2 L2014.5,532.2 L2015.0,532.2" fill="none" stroke="#000000" stroke-width="3.0" stroke-linejoin="round"/>
<path d="M1822.0,532.2 L1822.6,532.2 L1823.1,532.2 L1823.6,532.2 L1824.1,532.2 L1824.6,532.2 L1825.1,532.2 L1825.6,532.2 L1826.2,532.2 L1826.7,532.2 L1827.2,532.2 L1827.7,532.2 L1828.2,532.2 L1828.7,532.2 L1829.2,532.2 L1829.8,532.2 L1830.3,532.2 L1830.8,532.2 L1831.3,532.2 L1831.8,532.2 L1832.3,532.2 L1832.8,532.2 L1833.4,532.2 L1833.9,532.2 L1834.4,532.2 L1834.9,532.2 L1835.4,532.2 L1835.9,532.2 L1836.4,532.2 L1837.0,532.2 L1837.5,532.2 L1838.0,532.2 L1838.5,532.2 L1839.0,532.2 L1839.5,532.2 L1840.0,532.2 L1840.6,532.2 L1841.1,532.2 L1841.6,532.2 L1842.1,532.2 L1842.6,532.2 L1843.1,532.2 L1843.6,532.2 L1844.2,532.2 L1844.7,532.2 L1845.2,532.2 L1845.7,532.2 L1846.2,532.2 L1846.7,532.2 L1847.2,532.2 L1847.8,532.2 L1848.3,532.2 L1848.8,532.2 L1849.3,532.2 L1849.8,532.2 L1850.3,532.2 L1850.8,532.2 L1851.4,532.2 L1851.9,532.2 L1852.4,532.2 L1852.9,532.2 L1853.4,532.2 L1853.9,532.2 L1854.4,532.2 L1855.0,532.2 L1855.5,532.2 L1856.0,532.2 L1856.5,532.2 L1857.0,532.2 L1857.5,532.2 L1858.1,532.2 L1858.6,532.2 L1859.1,532.2 L1859.6,532.2 L1860.1,532.2 L1860.6,532.2 L1861.1,532.2 L1861.7,532.2 L1862.2,532.2 L1862.7,532.2 L1863.2,532.2 L1863.7,532.2 L1864.2,532.2 L1864.7,532.2 L1865.3,532.2 L1865.8,532.2 L1866.3,532.2 L1866.8,532.2 L1867.3,532.1 L1867.8,532.1 L1868.3,531.9 L1868.9,531.8 L1869.4,531.5 L1869.9,531.1 L1870.4,530.5 L1870.9,529.5 L1871.4,528.2 L1871.9,526.3 L1872.5,523.7 L1873.0,520.2 L1873.5,515.5 L1874.0,509.6 L1874.5,502.1 L1875.0,492.9 L1875.5,482.0 L1876.1,469.4 L1876.6,455.2 L1877.1,439.7 L1877.6,423.3 L1878.1,406.5 L1878.6,390.2 L1879.1,374.9 L1879.7,361.5 L1880.2,350.7 L1880.7,343.2 L1881.2,339.3 L1881.7,339.2 L1882.2,343.1 L1882.7,350.7 L1883.3,361.4 L1883.8,374.7 L1884.3,389.9 L1884.8,406.2 L1885.3,422.9 L1885.8,439.2 L1886.3,454.5 L1886.9,468.6 L1887.4,481.0 L1887.9,491.6 L1888.4,500.5 L1888.9,507.6 L1889.4,513.2 L1890.0,517.4 L1890.5,520.5 L1891.0,522.6 L1891.5,524.0 L1892.0,524.8 L1892.5,525.2 L1893.0,525.3 L1893.6,525.3 L1894.1,525.1 L1894.6,524.8 L1895.1,524.6 L1895.6,524.4 L1896.1,524.2 L1896.6,524.1 L1897.2,524.0 L1897.7,524.0 L1898.2,524.1 L1898.7,524.2 L1899.2,524.3 L1899.7,524.4 L1900.2,524.5 L1900.8,524.6 L1901.3,524.5 L1901.8,524.4 L1902.3,524.2 L1902.8,523.8 L1903.3,523.3 L1903.8,522.7 L1904.4,521.9 L1904.9,520.9 L1905.4,519.8 L1905.9,518.5 L1906.4,517.1 L1906.9,515.6 L1907.4,514.0 L1908.0,512.4 L1908.5,510.7 L1909.0,509.0 L1909.5,507.4 L1910.0,505.8 L1910.5,504.4 L1911.0,503.1 L1911.6,502.0 L1912.1,501.1 L1912.6,500.4 L1913.1,500.0 L1913.6,499.8 L1914.1,499.9 L1914.6,500.1 L1915.2,500.4 L1915.7,501.0 L1916.2,501.7 L1916.7,502.5 L1917.2,503.5 L1917.7,504.5 L1918.2,505.7 L1918.8,506.9 L1919.3,508.1 L1919.8,509.3 L1920.3,510.6 L1920.8,511.8 L1921.3,513.0 L1921.8,514.1 L1922.4,515.1 L1922.9,516.1 L1923.4,517.0 L1923.9,517.7 L1924.4,518.3 L1924.9,518.8 L1925.5,519.2 L1926.0,519.5 L1926.5,519.6 L1927.0,519.6 L1927.5,519.5 L1928.0,519.2 L1928.5,518.8 L1929.1,518.3 L1929.6,517.7 L1930.1,517.0 L1930.6,516.2 L1931.1,515.2 L1931.6,514.2 L1932.1,513.1 L1932.7,511.9 L1933.2,510.6 L1933.7,509.2 L1934.2,507.8 L1934.7,506.2 L1935.2,504.6 L1935.7,503.0 L1936.3,501.3 L1936.8,499.5 L1937.3,497.7 L1937.8,495.9 L1938.3,494.0 L1938.8,492.0 L1939.3,490.1 L1939.9,488.1 L1940.4,486.1 L1940.9,484.1 L1941.4,482.1 L1941.9,480.1 L1942.4,478.1 L1942.9,476.2 L1943.5,474.2 L1944.0,472.3 L1944.5,470.5 L1945.0,468.7 L1945.5,467.0 L1946.0,465.3 L1946.5,463.7 L1947.1,462.2 L1947.6,460.8 L1948.1,459.5 L1948.6,458.3 L1949.1,457.2 L1949.6,456.2 L1950.1,455.3 L1950.7,454.6 L1951.2,454.0 L1951.7,453.5 L1952.2,453.2 L1952.7,453.0 L1953.2,452.9 L1953.7,453.0 L1954.3,453.2 L1954.8,453.6 L1955.3,454.2 L1955.8,454.9 L1956.3,455.8 L1956.8,456.8 L1957.3,458.0 L1957.9,459.3 L1958.4,460.7 L1958.9,462.2 L1959.4,463.9 L1959.9,465.6 L1960.4,467.4 L1961.0,469.4 L1961.5,471.3 L1962.0,473.4 L1962.5,475.5 L1963.0,477.6 L1963.5,479.7 L1964.0,481.9 L1964.6,484.1 L1965.1,486.3 L1965.6,488.5 L1966.1,490.6 L1966.6,492.8 L1967.1,494.9 L1967.6,496.9 L1968.2,498.9 L1968.7,500.9 L1969.2,502.8 L1969.7,504.7 L1970.2,506.5 L1970.7,508.2 L1971.2,509.8 L1971.8,511.4 L1972.3,512.9 L1972.8,514.4 L1973.3,515.7 L1973.8,517.0 L1974.3,518.2 L1974.8,519.4 L1975.4,520.5 L1975.9,521.5 L1976.4,522.4 L1976.9,523.3 L1977.4,524.1 L1977.9,524.9 L1978.4,525.6 L1979.0,526.2 L1979.5,526.8 L1980.0,527.3 L1980.5,527.8 L1981.0,528.3 L1981.5,528.7 L1982.0,529.1 L1982.6,529.4 L1983.1,529.7 L1983.6,530.0 L1984.1,530.3 L1984.6,530.5 L1985.1,530.7 L1985.6,530.9 L1986.2,531.0 L1986.7,531.2 L1987.2,531.3 L1987.7,531.4 L1988.2,531.5 L1988.7,531.6 L1989.2,531.7 L1989.8,531.8 L1990.3,531.8 L1990.8,531.9 L1991.3,531.9 L1991.8,532.0 L1992.3,532.0 L1992.8,532.0 L1993.4,532.1 L1993.9,532.1 L1994.4,532.1 L1994.9,532.1 L1995.4,532.1 L1995.9,532.1 L1996.5,532.1 L1997.0,532.2 L1997.5,532.2 L1998.0,532.2 L1998.5,532.2 L1999.0,532.2 L1999.5,532.2 L2000.1,532.2 L2000.6,532.2 L2001.1,532.2 L2001.6,532.2 L2002.1,532.2 L2002.6,532.2 L2003.1,532.2 L2003.7,532.2 L2004.2,532.2 L2004.7,532.2 L2005.2,532.2 L2005.7,532.2 L2006.2,532.2 L2006.7,532.2 L2007.3,532.2 L2007.8,532.2 L2008.3,532.2 L2008.8,532.2 L2009.3,532.2 L2009.8,532.2 L2010.3,532.2 L2010.9,532.2 L2011.4,532.2 L2011.9,532.2 L2012.4,532.2 L2012.9,532.2 L2013.4,532.2 L2013.9,532.2 L2014.5,532.2 L2015.0,532.2" fill="none" stroke="#0000ff" stroke-width="3.0" stroke-linejoin="round"/>
<path d="M1822.0,532.2 L1822.6,532.2 L1823.1,532.2 L1823.6,532.2 L1824.1,532.2 L1824.6,532.2 L1825.1,532.2 L1825.6,532.2 L1826.2,532.2 L1826.7,532.2 L1827.2,532.2 L1827.7,532.2 L1828.2,532.2 L1828.7,532.2 L1829.2,532.2 L1829.8,532.2 L1830.3,532.2 L1830.8,532.2 L1831.3,532.2 L1831.8,532.2 L1832.3,532.2 L1832.8,532.2 L1833.4,532.2 L1833.9,532.2 L1834.4,532.2 L1834.9,532.2 L1835.4,532.2 L1835.9,532.1 L1836.4,532.1 L1837.0,532.1 L1837.5,532.0 L1838.0,531.9 L1838.5,531.8 L1839.0,531.7 L1839.5,531.6 L1840.0,531.4 L1840.6,531.3 L1841.1,531.1 L1841.6,531.0 L1842.1,530.8 L1842.6,530.7 L1843.1,530.7 L1843.6,530.7 L1844.2,530.7 L1844.7,530.7 L1845.2,530.8 L1845.7,531.0 L1846.2,531.1 L1846.7,531.3 L1847.2,531.4 L1847.8,531.6 L1848.3,531.7 L1848.8,531.8 L1849.3,531.9 L1849.8,532.0 L1850.3,532.1 L1850.8,532.1 L1851.4,532.1 L1851.9,532.2 L1852.4,532.2 L1852.9,532.2 L1853.4,532.2 L1853.9,532.2 L1854.4,532.2 L1855.0,532.2 L1855.5,532.2 L1856.0,532.2 L1856.5,532.2 L1857.0,532.2 L1857.5,532.2 L1858.1,532.2 L1858.6,532.2 L1859.1,532.2 L1859.6,532.2 L1860.1,532.2 L1860.6,532.1 L1861.1,532.1 L1861.7,532.0 L1862.2,531.9 L1862.7,531.8 L1863.2,531.6 L1863.7,531.3 L1864.2,530.9 L1864.7,530.3 L1865.3,529.4 L1865.8,528.3 L1866.3,526.8 L1866.8,524.8 L1867.3,522.2 L1867.8,519.0 L1868.3,514.9 L1868.9,510.0 L1869.4,504.0 L1869.9,497.0 L1870.4,488.8 L1870.9,479.6 L1871.4,469.3 L1871.9,458.1 L1872.5,446.2 L1873.0,433.9 L1873.5,421.5 L1874.0,409.3 L1874.5,397.8 L1875.0,387.4 L1875.5,378.6 L1876.1,371.6 L1876.6,366.7 L1877.1,364.2 L1877.6,364.2 L1878.1,366.6 L1878.6,371.4 L1879.1,378.4 L1879.7,387.2 L1880.2,397.4 L1880.7,408.8 L1881.2,420.8 L1881.7,433.0 L1882.2,445.1 L1882.7,456.8 L1883.3,467.7 L1883.8,477.6 L1884.3,486.5 L1884.8,494.2 L1885.3,500.8 L1885.8,506.3 L1886.3,510.8 L1886.9,514.3 L1887.4,517.0 L1887.9,519.1 L1888.4,520.5 L1888.9,521.6 L1889.4,522.3 L1890.0,522.8 L1890.5,523.1 L1891.0,523.3 L1891.5,523.4 L1892.0,523.5 L1892.5,523.5 L1893.0,523.5 L1893.6,523.5 L1894.1,523.4 L1894.6,523.2 L1895.1,522.9 L1895.6,522.4 L1896.1,521.7 L1896.6,520.7 L1897.2,519.5 L1897.7,517.9 L1898.2,516.0 L1898.7,513.7 L1899.2,511.1 L1899.7,508.1 L1900.2,504.7 L1900.8,501.1 L1901.3,497.2 L1901.8,493.2 L1902.3,489.1 L1902.8,485.0 L1903.3,481.0 L1903.8,477.3 L1904.4,473.9 L1904.9,471.0 L1905.4,468.6 L1905.9,466.8 L1906.4,465.7 L1906.9,465.4 L1907.4,465.6 L1908.0,466.3 L1908.5,467.4 L1909.0,468.9 L1909.5,470.8 L1910.0,473.0 L1910.5,475.6 L1911.0,478.4 L1911.6,481.4 L1912.1,484.5 L1912.6,487.7 L1913.1,490.9 L1913.6,494.2 L1914.1,497.3 L1914.6,500.3 L1915.2,503.2 L1915.7,505.9 L1916.2,508.4 L1916.7,510.6 L1917.2,512.6 L1917.7,514.4 L1918.2,515.8 L1918.8,517.0 L1919.3,517.9 L1919.8,518.5 L1920.3,518.9 L1920.8,518.9 L1921.3,518.7 L1921.8,518.3 L1922.4,517.6 L1922.9,516.6 L1923.4,515.4 L1923.9,513.9 L1924.4,512.1 L1924.9,510.2 L1925.5,507.9 L1926.0,505.5 L1926.5,502.7 L1927.0,499.7 L1927.5,496.5 L1928.0,493.0 L1928.5,489.3 L1929.1,485.3 L1929.6,481.0 L1930.1,476.5 L1930.6,471.8 L1931.1,466.9 L1931.6,461.7 L1932.1,456.4 L1932.7,450.8 L1933.2,445.1 L1933.7,439.2 L1934.2,433.3 L1934.7,427.2 L1935.2,421.1 L1935.7,414.9 L1936.3,408.7 L1936.8,402.6 L1937.3,396.5 L1937.8,390.6 L1938.3,384.8 L1938.8,379.2 L1939.3,373.8 L1939.9,368.6 L1940.4,363.8 L1940.9,359.3 L1941.4,355.2 L1941.9,351.5 L1942.4,348.2 L1942.9,345.4 L1943.5,343.0 L1944.0,341.2 L1944.5,339.9 L1945.0,339.1 L1945.5,338.8 L1946.0,338.9 L1946.5,339.3 L1947.1,340.0 L1947.6,340.9 L1948.1,342.1 L1948.6,343.5 L1949.1,345.2 L1949.6,347.1 L1950.1,349.3 L1950.7,351.6 L1951.2,354.2 L1951.7,357.0 L1952.2,360.0 L1952.7,363.1 L1953.2,366.5 L1953.7,369.9 L1954.3,373.6 L1954.8,377.3 L1955.3,381.2 L1955.8,385.2 L1956.3,389.3 L1956.8,393.4 L1957.3,397.7 L1957.9,401.9 L1958.4,406.2 L1958.9,410.6 L1959.4,414.9 L1959.9,419.2 L1960.4,423.6 L1961.0,427.9 L1961.5,432.2 L1962.0,436.4 L1962.5,440.6 L1963.0,444.7 L1963.5,448.7 L1964.0,452.7 L1964.6,456.6 L1965.1,460.4 L1965.6,464.1 L1966.1,467.7 L1966.6,471.1 L1967.1,474.5 L1967.6,477.8 L1968.2,480.9 L1968.7,484.0 L1969.2,486.9 L1969.7,489.7 L1970.2,492.4 L1970.7,494.9 L1971.2,497.4 L1971.8,499.7 L1972.3,501.9 L1972.8,504.0 L1973.3,506.0 L1973.8,507.9 L1974.3,509.7 L1974.8,511.4 L1975.4,513.0 L1975.9,514.4 L1976.4,515.8 L1976.9,517.1 L1977.4,518.4 L1977.9,519.5 L1978.4,520.5 L1979.0,521.5 L1979.5,522.5 L1980.0,523.3 L1980.5,524.1 L1981.0,524.8 L1981.5,525.5 L1982.0,526.1 L1982.6,526.7 L1983.1,527.2 L1983.6,527.7 L1984.1,528.1 L1984.6,528.5 L1985.1,528.9 L1985.6,529.2 L1986.2,529.5 L1986.7,529.8 L1987.2,530.1 L1987.7,530.3 L1988.2,530.5 L1988.7,530.7 L1989.2,530.8 L1989.8,531.0 L1990.3,531.1 L1990.8,531.2 L1991.3,531.4 L1991.8,531.5 L1992.3,531.5 L1992.8,531.6 L1993.4,531.7 L1993.9,531.7 L1994.4,531.8 L1994.9,531.9 L1995.4,531.9 L1995.9,531.9 L1996.5,532.0 L1997.0,532.0 L1997.5,532.0 L1998.0,532.0 L1998.5,532.1 L1999.0,532.1 L1999.5,532.1 L2000.1,532.1 L2000.6,532.1 L2001.1,532.1 L2001.6,532.1 L2002.1,532.2 L2002.6,532.2 L2003.1,532.2 L2003.7,532.2 L2004.2,532.2 L2004.7,532.2 L2005.2,532.2 L2005.7,532.2 L2006.2,532.2 L2006.7,532.2 L2007.3,532.2 L2007.8,532.2 L2008.3,532.2 L2008.8,532.2 L2009.3,532.2 L2009.8,532.2 L2010.3,532.2 L2010.9,532.2 L2011.4,532.2 L2011.9,532.2 L2012.4,532.2 L2012.9,532.2 L2013.4,532.2 L2013.9,532.2 L2014.5,532.2 L2015.0,532.2" fill="none" stroke="#ff0000" stroke-width="3.0" stroke-linejoin="round"/>
<path d="M1821.3,337.5 V533.6 M1810.3,532.2 H2014.8" stroke="#000" stroke-width="3" fill="none"/>
<path d="M1814.3,512.9 H1821.3 M1814.3,493.5 H1821.3 M1814.3,474.2 H1821.3 M1814.3,454.8 H1821.3 M1810.3,435.5 H1821.3 M1814.3,416.2 H1821.3 M1814.3,396.8 H1821.3 M1814.3,377.5 H1821.3 M1814.3,358.1 H1821.3 M1810.3,338.8 H1821.3 M1838.5,532.2 V541.7 M1864.2,532.2 V537.2 M1890.0,532.2 V541.7 M1915.7,532.2 V537.2 M1941.4,532.2 V541.7 M1967.1,532.2 V537.2 M1992.8,532.2 V541.7 " stroke="#000" stroke-width="2.6" fill="none"/>
<text transform="translate(1803.80,539.70)" font-size="21" text-anchor="end" textLength="22.50" lengthAdjust="spacingAndGlyphs">0.0</text>
<text transform="translate(1803.80,443.00)" font-size="21" text-anchor="end" textLength="22.50" lengthAdjust="spacingAndGlyphs">0.5</text>
<text transform="translate(1803.80,346.30)" font-size="21" text-anchor="end" textLength="22.50" lengthAdjust="spacingAndGlyphs">1.0</text>
<text transform="translate(1838.00,563.80)" font-size="21" text-anchor="middle" textLength="27.00" lengthAdjust="spacingAndGlyphs">100</text>
<text transform="translate(1889.45,563.80)" font-size="21" text-anchor="middle" textLength="27.00" lengthAdjust="spacingAndGlyphs">200</text>
<text transform="translate(1940.90,563.80)" font-size="21" text-anchor="middle" textLength="27.00" lengthAdjust="spacingAndGlyphs">300</text>
<text transform="translate(1992.35,563.80)" font-size="21" text-anchor="middle" textLength="27.00" lengthAdjust="spacingAndGlyphs">400</text>
<text transform="translate(1915.80,585.70)" font-size="20.2" text-anchor="middle" textLength="36.00" lengthAdjust="spacingAndGlyphs">kDa</text>
<text transform="translate(1898.00,326.00)" font-size="24.2" text-anchor="middle" textLength="121.00" lengthAdjust="spacingAndGlyphs">SC-IgM-tail</text>
<text transform="translate(1737.00,442.50) rotate(-90)" font-size="20.1" text-anchor="middle" textLength="181.00" lengthAdjust="spacingAndGlyphs">Chemiluminescence</text>
<text transform="translate(1764.50,442.50) rotate(-90)" font-size="20.1" text-anchor="middle" textLength="115.00" lengthAdjust="spacingAndGlyphs">(Normalized)</text>
<path d="M1677.8,35.2 H1712.8" stroke="#ff0000" stroke-width="4.0"/>
<text transform="translate(1723.00,43.60)" font-size="24.2" textLength="74.00" lengthAdjust="spacingAndGlyphs">PGT121</text>
<path d="M1677.8,73.5 H1712.8" stroke="#0000ff" stroke-width="4.0"/>
<text transform="translate(1723.00,81.90)" font-size="24.2" textLength="64.50" lengthAdjust="spacingAndGlyphs">VRC07</text>
<path d="M1677.8,111.3 H1712.8" stroke="#1a1a1a" stroke-width="4.0"/>
<text transform="translate(1723.00,119.70)" font-size="24.2" textLength="161.00" lengthAdjust="spacingAndGlyphs">PGT121 + VRC07</text>
<path d="M95.0,791.2 H340.5" stroke="#000" stroke-width="1.5" stroke-dasharray="3.6,1.5" fill="none"/>
<path d="M93.5,664.6 V917.9 M84.0,916.5 H343.8" stroke="#000" stroke-width="2.9" fill="none"/>
<path d="M84.0,853.9 H93.5 M84.0,791.2 H93.5 M84.0,728.6 H93.5 M84.0,666.0 H93.5 M93.5,916.5 V927.8 M135.0,916.5 V927.8 M176.5,916.5 V927.8 M218.0,916.5 V927.8 M259.5,916.5 V927.8 M301.0,916.5 V927.8 M342.5,916.5 V927.8 " stroke="#000" stroke-width="2.6" fill="none"/>
<path d="M106.0,916.5 V923.3 M113.3,916.5 V923.3 M118.5,916.5 V923.3 M122.5,916.5 V923.3 M125.8,916.5 V923.3 M128.6,916.5 V923.3 M131.0,916.5 V923.3 M133.1,916.5 V923.3 M147.5,916.5 V923.3 M154.8,916.5 V923.3 M160.0,916.5 V923.3 M164.0,916.5 V923.3 M167.3,916.5 V923.3 M170.1,916.5 V923.3 M172.5,916.5 V923.3 M174.6,916.5 V923.3 M189.0,916.5 V923.3 M196.3,916.5 V923.3 M201.5,916.5 V923.3 M205.5,916.5 V923.3 M208.8,916.5 V923.3 M211.6,916.5 V923.3 M214.0,916.5 V923.3 M216.1,916.5 V923.3 M230.5,916.5 V923.3 M237.8,916.5 V923.3 M243.0,916.5 V923.3 M247.0,916.5 V923.3 M250.3,916.5 V923.3 M253.1,916.5 V923.3 M255.5,916.5 V923.3 M257.6,916.5 V923.3 M272.0,916.5 V923.3 M279.3,916.5 V923.3 M284.5,916.5 V923.3 M288.5,916.5 V923.3 M291.8,916.5 V923.3 M294.6,916.5 V923.3 M297.0,916.5 V923.3 M299.1,916.5 V923.3 M313.5,916.5 V923.3 M320.8,916.5 V923.3 M326.0,916.5 V923.3 M330.0,916.5 V923.3 M333.3,916.5 V923.3 M336.1,916.5 V923.3 M338.5,916.5 V923.3 M340.6,916.5 V923.3 " stroke="#000" stroke-width="2.5" fill="none"/>
<text transform="translate(81.50,926.40)" font-size="30" text-anchor="end" textLength="12.40" lengthAdjust="spacingAndGlyphs">0</text>
<text transform="translate(81.50,863.77)" font-size="30" text-anchor="end" textLength="24.90" lengthAdjust="spacingAndGlyphs">25</text>
<text transform="translate(81.50,801.15)" font-size="30" text-anchor="end" textLength="24.90" lengthAdjust="spacingAndGlyphs">50</text>
<text transform="translate(81.50,738.52)" font-size="30" text-anchor="end" textLength="24.90" lengthAdjust="spacingAndGlyphs">75</text>
<text transform="translate(81.50,675.90)" font-size="30" text-anchor="end" textLength="37.30" lengthAdjust="spacingAndGlyphs">100</text>
<text transform="translate(71.70,951.80) scale(0.76,1)" font-size="30">10<tspan dy="-9.7" font-size="18.5">-3</tspan></text>
<text transform="translate(113.20,951.80) scale(0.76,1)" font-size="30">10<tspan dy="-9.7" font-size="18.5">-2</tspan></text>
<text transform="translate(154.70,951.80) scale(0.76,1)" font-size="30">10<tspan dy="-9.7" font-size="18.5">-1</tspan></text>
<text transform="translate(196.20,951.80) scale(0.76,1)" font-size="30">10<tspan dy="-9.7" font-size="18.5">0</tspan></text>
<text transform="translate(237.70,951.80) scale(0.76,1)" font-size="30">10<tspan dy="-9.7" font-size="18.5">1</tspan></text>
<text transform="translate(279.20,951.80) scale(0.76,1)" font-size="30">10<tspan dy="-9.7" font-size="18.5">2</tspan></text>
<text transform="translate(320.70,951.80) scale(0.76,1)" font-size="30">10<tspan dy="-9.7" font-size="18.5">3</tspan></text>
<text transform="translate(218.70,979.90)" font-size="28.6" text-anchor="middle" textLength="261.00" lengthAdjust="spacingAndGlyphs">Ab concentration (ng/mL)</text>
<text transform="translate(212.55,645.60)" font-size="24.3" text-anchor="middle" textLength="243.50" lengthAdjust="spacingAndGlyphs">SHIV-KNH1144p2 (clade A)</text>
<text transform="translate(37.50,789.95) rotate(-90)" font-size="29.5" text-anchor="middle" textLength="224.00" lengthAdjust="spacingAndGlyphs">Neutralization (%)</text>
<path d="M93.5,916.5 L139.4,896.5 L168.5,856.4 L197.5,817.1 L226.5,781.2 L255.5,733.6 L284.5,697.6 L313.5,688.5 L342.5,683.5" fill="none" stroke="#000000" stroke-width="2.55" stroke-linejoin="round"/>
<polygon points="93.5,910.1 98.8,919.9 88.2,919.9" fill="#000000" stroke="#000000" stroke-width="1.95" stroke-linejoin="miter"/><polygon points="139.4,890.1 144.7,899.9 134.1,899.9" fill="#000000" stroke="#000000" stroke-width="1.95" stroke-linejoin="miter"/><polygon points="168.5,850.0 173.8,859.8 163.2,859.8" fill="#000000" stroke="#000000" stroke-width="1.95" stroke-linejoin="miter"/><polygon points="197.5,810.7 202.8,820.5 192.2,820.5" fill="#000000" stroke="#000000" stroke-width="1.95" stroke-linejoin="miter"/><polygon points="226.5,774.8 231.8,784.6 221.2,784.6" fill="#000000" stroke="#000000" stroke-width="1.95" stroke-linejoin="miter"/><polygon points="255.5,727.2 260.8,737.0 250.2,737.0" fill="#000000" stroke="#000000" stroke-width="1.95" stroke-linejoin="miter"/><polygon points="284.5,691.2 289.8,701.0 279.2,701.0" fill="#000000" stroke="#000000" stroke-width="1.95" stroke-linejoin="miter"/><polygon points="313.5,682.1 318.8,691.9 308.2,691.9" fill="#000000" stroke="#000000" stroke-width="1.95" stroke-linejoin="miter"/><polygon points="342.5,677.1 347.8,686.9 337.2,686.9" fill="#000000" stroke="#000000" stroke-width="1.95" stroke-linejoin="miter"/>
<path d="M93.5,916.5 L139.4,915.2 L168.5,871.9 L197.5,833.3 L226.5,786.2 L255.5,756.2 L284.5,707.6 L313.5,691.0 L342.5,669.0" fill="none" stroke="#000000" stroke-width="2.55" stroke-linejoin="round"/>
<polygon points="93.5,910.1 98.8,919.9 88.2,919.9" fill="#fff" stroke="#000000" stroke-width="1.95"/><polygon points="139.4,908.8 144.7,918.6 134.1,918.6" fill="#fff" stroke="#000000" stroke-width="1.95"/><polygon points="168.5,865.5 173.8,875.3 163.2,875.3" fill="#fff" stroke="#000000" stroke-width="1.95"/><polygon points="197.5,826.9 202.8,836.7 192.2,836.7" fill="#fff" stroke="#000000" stroke-width="1.95"/><polygon points="226.5,779.8 231.8,789.6 221.2,789.6" fill="#fff" stroke="#000000" stroke-width="1.95"/><polygon points="255.5,749.8 260.8,759.6 250.2,759.6" fill="#fff" stroke="#000000" stroke-width="1.95"/><polygon points="284.5,701.2 289.8,711.0 279.2,711.0" fill="#fff" stroke="#000000" stroke-width="1.95"/><polygon points="313.5,684.6 318.8,694.4 308.2,694.4" fill="#fff" stroke="#000000" stroke-width="1.95"/><polygon points="342.5,662.6 347.8,672.4 337.2,672.4" fill="#fff" stroke="#000000" stroke-width="1.95"/>
<path d="M93.5,916.5 L139.4,911.5 L168.5,849.6 L197.5,808.0 L226.5,750.2 L255.5,710.6 L284.5,705.6 L313.5,669.0 L342.5,666.0" fill="none" stroke="#000000" stroke-width="2.55" stroke-linejoin="round"/>
<polygon points="93.5,910.1 98.8,919.9 88.2,919.9" fill="#fff" stroke="#000000" stroke-width="1.95"/><polygon points="93.5,910.1 93.5,919.9 88.2,919.9" fill="#000000"/><polygon points="139.4,905.1 144.7,914.9 134.1,914.9" fill="#fff" stroke="#000000" stroke-width="1.95"/><polygon points="139.4,905.1 139.4,914.9 134.1,914.9" fill="#000000"/><polygon points="168.5,843.2 173.8,853.0 163.2,853.0" fill="#fff" stroke="#000000" stroke-width="1.95"/><polygon points="168.5,843.2 168.5,853.0 163.2,853.0" fill="#000000"/><polygon points="197.5,801.6 202.8,811.4 192.2,811.4" fill="#fff" stroke="#000000" stroke-width="1.95"/><polygon points="197.5,801.6 197.5,811.4 192.2,811.4" fill="#000000"/><polygon points="226.5,743.8 231.8,753.6 221.2,753.6" fill="#fff" stroke="#000000" stroke-width="1.95"/><polygon points="226.5,743.8 226.5,753.6 221.2,753.6" fill="#000000"/><polygon points="255.5,704.2 260.8,714.0 250.2,714.0" fill="#fff" stroke="#000000" stroke-width="1.95"/><polygon points="255.5,704.2 255.5,714.0 250.2,714.0" fill="#000000"/><polygon points="284.5,699.2 289.8,709.0 279.2,709.0" fill="#fff" stroke="#000000" stroke-width="1.95"/><polygon points="284.5,699.2 284.5,709.0 279.2,709.0" fill="#000000"/><polygon points="313.5,662.6 318.8,672.4 308.2,672.4" fill="#fff" stroke="#000000" stroke-width="1.95"/><polygon points="313.5,662.6 313.5,672.4 308.2,672.4" fill="#000000"/><polygon points="342.5,659.6 347.8,669.4 337.2,669.4" fill="#fff" stroke="#000000" stroke-width="1.95"/><polygon points="342.5,659.6 342.5,669.4 337.2,669.4" fill="#000000"/>
<path d="M93.5,916.5 L139.4,916.5 L168.5,916.5 L197.5,912.5 L226.5,887.2 L255.5,846.6 L284.5,806.0 L313.5,722.9 L342.5,702.6" fill="none" stroke="#0000ff" stroke-width="2.55" stroke-linejoin="round"/>
<rect x="89.2" y="912.2" width="8.6" height="8.6" fill="#0000ff"/><rect x="135.1" y="912.2" width="8.6" height="8.6" fill="#0000ff"/><rect x="164.2" y="912.2" width="8.6" height="8.6" fill="#0000ff"/><rect x="193.2" y="908.2" width="8.6" height="8.6" fill="#0000ff"/><rect x="222.2" y="882.9" width="8.6" height="8.6" fill="#0000ff"/><rect x="251.2" y="842.3" width="8.6" height="8.6" fill="#0000ff"/><rect x="280.2" y="801.7" width="8.6" height="8.6" fill="#0000ff"/><rect x="309.2" y="718.6" width="8.6" height="8.6" fill="#0000ff"/><rect x="338.2" y="698.3" width="8.6" height="8.6" fill="#0000ff"/>
<path d="M93.5,916.5 L139.4,916.5 L168.5,916.5 L197.5,900.2 L226.5,864.9 L255.5,828.3 L284.5,778.7 L313.5,699.6 L342.5,671.0" fill="none" stroke="#0000ff" stroke-width="2.55" stroke-linejoin="round"/>
<rect x="90.3" y="913.4" width="6.3" height="6.3" fill="#fff" stroke="#0000ff" stroke-width="2.3"/><rect x="136.3" y="913.4" width="6.3" height="6.3" fill="#fff" stroke="#0000ff" stroke-width="2.3"/><rect x="165.3" y="913.4" width="6.3" height="6.3" fill="#fff" stroke="#0000ff" stroke-width="2.3"/><rect x="194.3" y="897.1" width="6.3" height="6.3" fill="#fff" stroke="#0000ff" stroke-width="2.3"/><rect x="223.3" y="861.7" width="6.3" height="6.3" fill="#fff" stroke="#0000ff" stroke-width="2.3"/><rect x="252.3" y="825.2" width="6.3" height="6.3" fill="#fff" stroke="#0000ff" stroke-width="2.3"/><rect x="281.3" y="775.6" width="6.3" height="6.3" fill="#fff" stroke="#0000ff" stroke-width="2.3"/><rect x="310.3" y="696.4" width="6.3" height="6.3" fill="#fff" stroke="#0000ff" stroke-width="2.3"/><rect x="339.4" y="667.9" width="6.3" height="6.3" fill="#fff" stroke="#0000ff" stroke-width="2.3"/>
<path d="M93.5,916.5 L139.4,916.5 L168.5,916.5 L197.5,894.2 L226.5,851.6 L255.5,814.0 L284.5,752.2 L313.5,697.6 L342.5,673.5" fill="none" stroke="#0000ff" stroke-width="2.55" stroke-linejoin="round"/>
<rect x="90.3" y="913.4" width="6.3" height="6.3" fill="#fff" stroke="#0000ff" stroke-width="2.3"/><rect x="90.3" y="913.4" width="6.3" height="3.1" fill="#0000ff"/><rect x="136.3" y="913.4" width="6.3" height="6.3" fill="#fff" stroke="#0000ff" stroke-width="2.3"/><rect x="136.3" y="913.4" width="6.3" height="3.1" fill="#0000ff"/><rect x="165.3" y="913.4" width="6.3" height="6.3" fill="#fff" stroke="#0000ff" stroke-width="2.3"/><rect x="165.3" y="913.4" width="6.3" height="3.1" fill="#0000ff"/><rect x="194.3" y="891.1" width="6.3" height="6.3" fill="#fff" stroke="#0000ff" stroke-width="2.3"/><rect x="194.3" y="891.1" width="6.3" height="3.1" fill="#0000ff"/><rect x="223.3" y="848.5" width="6.3" height="6.3" fill="#fff" stroke="#0000ff" stroke-width="2.3"/><rect x="223.3" y="848.5" width="6.3" height="3.1" fill="#0000ff"/><rect x="252.3" y="810.9" width="6.3" height="6.3" fill="#fff" stroke="#0000ff" stroke-width="2.3"/><rect x="252.3" y="810.9" width="6.3" height="3.1" fill="#0000ff"/><rect x="281.3" y="749.0" width="6.3" height="6.3" fill="#fff" stroke="#0000ff" stroke-width="2.3"/><rect x="281.3" y="749.0" width="6.3" height="3.1" fill="#0000ff"/><rect x="310.3" y="694.4" width="6.3" height="6.3" fill="#fff" stroke="#0000ff" stroke-width="2.3"/><rect x="310.3" y="694.4" width="6.3" height="3.1" fill="#0000ff"/><rect x="339.4" y="670.4" width="6.3" height="6.3" fill="#fff" stroke="#0000ff" stroke-width="2.3"/><rect x="339.4" y="670.4" width="6.3" height="3.1" fill="#0000ff"/>
<path d="M93.5,916.5 L139.4,916.5 L168.5,901.5 L197.5,875.9 L226.5,807.0 L255.5,765.4 L284.5,736.9 L313.5,707.6 L342.5,696.3" fill="none" stroke="#ff0000" stroke-width="2.55" stroke-linejoin="round"/>
<circle cx="93.5" cy="916.5" r="4.45" fill="#ff0000"/><circle cx="139.4" cy="916.5" r="4.45" fill="#ff0000"/><circle cx="168.5" cy="901.5" r="4.45" fill="#ff0000"/><circle cx="197.5" cy="875.9" r="4.45" fill="#ff0000"/><circle cx="226.5" cy="807.0" r="4.45" fill="#ff0000"/><circle cx="255.5" cy="765.4" r="4.45" fill="#ff0000"/><circle cx="284.5" cy="736.9" r="4.45" fill="#ff0000"/><circle cx="313.5" cy="707.6" r="4.45" fill="#ff0000"/><circle cx="342.5" cy="696.3" r="4.45" fill="#ff0000"/>
<path d="M93.5,916.5 L139.4,907.5 L168.5,860.6 L197.5,826.3 L226.5,793.8 L255.5,753.2 L284.5,733.9 L313.5,704.6 L342.5,690.3" fill="none" stroke="#ff0000" stroke-width="2.55" stroke-linejoin="round"/>
<circle cx="93.5" cy="916.5" r="3.3" fill="#fff" stroke="#ff0000" stroke-width="2.3"/><path d="M90.2,916.5 A3.3,3.3 0 0 1 96.8,916.5 Z" fill="#ff0000"/><circle cx="139.4" cy="907.5" r="3.3" fill="#fff" stroke="#ff0000" stroke-width="2.3"/><path d="M136.1,907.5 A3.3,3.3 0 0 1 142.7,907.5 Z" fill="#ff0000"/><circle cx="168.5" cy="860.6" r="3.3" fill="#fff" stroke="#ff0000" stroke-width="2.3"/><path d="M165.2,860.6 A3.3,3.3 0 0 1 171.8,860.6 Z" fill="#ff0000"/><circle cx="197.5" cy="826.3" r="3.3" fill="#fff" stroke="#ff0000" stroke-width="2.3"/><path d="M194.2,826.3 A3.3,3.3 0 0 1 200.8,826.3 Z" fill="#ff0000"/><circle cx="226.5" cy="793.8" r="3.3" fill="#fff" stroke="#ff0000" stroke-width="2.3"/><path d="M223.2,793.8 A3.3,3.3 0 0 1 229.8,793.8 Z" fill="#ff0000"/><circle cx="255.5" cy="753.2" r="3.3" fill="#fff" stroke="#ff0000" stroke-width="2.3"/><path d="M252.2,753.2 A3.3,3.3 0 0 1 258.8,753.2 Z" fill="#ff0000"/><circle cx="284.5" cy="733.9" r="3.3" fill="#fff" stroke="#ff0000" stroke-width="2.3"/><path d="M281.2,733.9 A3.3,3.3 0 0 1 287.8,733.9 Z" fill="#ff0000"/><circle cx="313.5" cy="704.6" r="3.3" fill="#fff" stroke="#ff0000" stroke-width="2.3"/><path d="M310.2,704.6 A3.3,3.3 0 0 1 316.8,704.6 Z" fill="#ff0000"/><circle cx="342.5" cy="690.3" r="3.3" fill="#fff" stroke="#ff0000" stroke-width="2.3"/><path d="M339.2,690.3 A3.3,3.3 0 0 1 345.8,690.3 Z" fill="#ff0000"/>
<path d="M93.5,916.5 L139.4,916.5 L168.5,916.5 L197.5,883.9 L226.5,833.3 L255.5,778.7 L284.5,726.1 L313.5,687.3 L342.5,676.0" fill="none" stroke="#ff0000" stroke-width="2.55" stroke-linejoin="round"/>
<circle cx="93.5" cy="916.5" r="3.3" fill="#fff" stroke="#ff0000" stroke-width="2.3"/><circle cx="139.4" cy="916.5" r="3.3" fill="#fff" stroke="#ff0000" stroke-width="2.3"/><circle cx="168.5" cy="916.5" r="3.3" fill="#fff" stroke="#ff0000" stroke-width="2.3"/><circle cx="197.5" cy="883.9" r="3.3" fill="#fff" stroke="#ff0000" stroke-width="2.3"/><circle cx="226.5" cy="833.3" r="3.3" fill="#fff" stroke="#ff0000" stroke-width="2.3"/><circle cx="255.5" cy="778.7" r="3.3" fill="#fff" stroke="#ff0000" stroke-width="2.3"/><circle cx="284.5" cy="726.1" r="3.3" fill="#fff" stroke="#ff0000" stroke-width="2.3"/><circle cx="313.5" cy="687.3" r="3.3" fill="#fff" stroke="#ff0000" stroke-width="2.3"/><circle cx="342.5" cy="676.0" r="3.3" fill="#fff" stroke="#ff0000" stroke-width="2.3"/>
<path d="M418.9,792.0 H664.5999999999999" stroke="#000" stroke-width="1.5" stroke-dasharray="3.6,1.5" fill="none"/>
<path d="M417.4,665.6 V918.4 M407.9,917.0 H667.9" stroke="#000" stroke-width="2.9" fill="none"/>
<path d="M407.9,854.5 H417.4 M407.9,792.0 H417.4 M407.9,729.5 H417.4 M407.9,667.0 H417.4 M417.4,917.0 V928.3 M458.9,917.0 V928.3 M500.5,917.0 V928.3 M542.0,917.0 V928.3 M583.5,917.0 V928.3 M625.1,917.0 V928.3 M666.6,917.0 V928.3 " stroke="#000" stroke-width="2.6" fill="none"/>
<path d="M429.9,917.0 V923.8 M437.2,917.0 V923.8 M442.4,917.0 V923.8 M446.4,917.0 V923.8 M449.7,917.0 V923.8 M452.5,917.0 V923.8 M454.9,917.0 V923.8 M457.0,917.0 V923.8 M471.4,917.0 V923.8 M478.7,917.0 V923.8 M483.9,917.0 V923.8 M488.0,917.0 V923.8 M491.3,917.0 V923.8 M494.0,917.0 V923.8 M496.4,917.0 V923.8 M498.6,917.0 V923.8 M513.0,917.0 V923.8 M520.3,917.0 V923.8 M525.5,917.0 V923.8 M529.5,917.0 V923.8 M532.8,917.0 V923.8 M535.6,917.0 V923.8 M538.0,917.0 V923.8 M540.1,917.0 V923.8 M554.5,917.0 V923.8 M561.8,917.0 V923.8 M567.0,917.0 V923.8 M571.0,917.0 V923.8 M574.3,917.0 V923.8 M577.1,917.0 V923.8 M579.5,917.0 V923.8 M581.6,917.0 V923.8 M596.0,917.0 V923.8 M603.3,917.0 V923.8 M608.5,917.0 V923.8 M612.6,917.0 V923.8 M615.9,917.0 V923.8 M618.6,917.0 V923.8 M621.0,917.0 V923.8 M623.2,917.0 V923.8 M637.6,917.0 V923.8 M644.9,917.0 V923.8 M650.1,917.0 V923.8 M654.1,917.0 V923.8 M657.4,917.0 V923.8 M660.2,917.0 V923.8 M662.6,917.0 V923.8 M664.7,917.0 V923.8 " stroke="#000" stroke-width="2.5" fill="none"/>
<text transform="translate(405.40,926.90)" font-size="30" text-anchor="end" textLength="12.40" lengthAdjust="spacingAndGlyphs">0</text>
<text transform="translate(405.40,864.40)" font-size="30" text-anchor="end" textLength="24.90" lengthAdjust="spacingAndGlyphs">25</text>
<text transform="translate(405.40,801.90)" font-size="30" text-anchor="end" textLength="24.90" lengthAdjust="spacingAndGlyphs">50</text>
<text transform="translate(405.40,739.40)" font-size="30" text-anchor="end" textLength="24.90" lengthAdjust="spacingAndGlyphs">75</text>
<text transform="translate(405.40,676.90)" font-size="30" text-anchor="end" textLength="37.30" lengthAdjust="spacingAndGlyphs">100</text>
<text transform="translate(395.60,952.30) scale(0.76,1)" font-size="30">10<tspan dy="-9.7" font-size="18.5">-3</tspan></text>
<text transform="translate(437.13,952.30) scale(0.76,1)" font-size="30">10<tspan dy="-9.7" font-size="18.5">-2</tspan></text>
<text transform="translate(478.67,952.30) scale(0.76,1)" font-size="30">10<tspan dy="-9.7" font-size="18.5">-1</tspan></text>
<text transform="translate(520.20,952.30) scale(0.76,1)" font-size="30">10<tspan dy="-9.7" font-size="18.5">0</tspan></text>
<text transform="translate(561.73,952.30) scale(0.76,1)" font-size="30">10<tspan dy="-9.7" font-size="18.5">1</tspan></text>
<text transform="translate(603.27,952.30) scale(0.76,1)" font-size="30">10<tspan dy="-9.7" font-size="18.5">2</tspan></text>
<text transform="translate(644.80,952.30) scale(0.76,1)" font-size="30">10<tspan dy="-9.7" font-size="18.5">3</tspan></text>
<text transform="translate(542.70,980.40)" font-size="28.6" text-anchor="middle" textLength="261.00" lengthAdjust="spacingAndGlyphs">Ab concentration (ng/mL)</text>
<text transform="translate(542.00,645.60)" font-size="24.3" text-anchor="middle" textLength="193.00" lengthAdjust="spacingAndGlyphs">SHIV-162p3 (clade B)</text>
<path d="M417.4,917.0 L463.4,897.8 L492.4,867.5 L521.4,831.0 L550.5,788.5 L579.5,765.2 L608.5,739.8 L637.6,701.5 L666.6,692.2" fill="none" stroke="#000000" stroke-width="2.55" stroke-linejoin="round"/>
<polygon points="417.4,910.6 422.7,920.4 412.1,920.4" fill="#000000" stroke="#000000" stroke-width="1.95" stroke-linejoin="miter"/><polygon points="463.4,891.4 468.7,901.1 458.1,901.1" fill="#000000" stroke="#000000" stroke-width="1.95" stroke-linejoin="miter"/><polygon points="492.4,861.1 497.7,870.9 487.1,870.9" fill="#000000" stroke="#000000" stroke-width="1.95" stroke-linejoin="miter"/><polygon points="521.4,824.6 526.7,834.4 516.1,834.4" fill="#000000" stroke="#000000" stroke-width="1.95" stroke-linejoin="miter"/><polygon points="550.5,782.1 555.8,791.9 545.2,791.9" fill="#000000" stroke="#000000" stroke-width="1.95" stroke-linejoin="miter"/><polygon points="579.5,758.9 584.8,768.6 574.2,768.6" fill="#000000" stroke="#000000" stroke-width="1.95" stroke-linejoin="miter"/><polygon points="608.5,733.4 613.8,743.1 603.2,743.1" fill="#000000" stroke="#000000" stroke-width="1.95" stroke-linejoin="miter"/><polygon points="637.6,695.1 642.9,704.9 632.3,704.9" fill="#000000" stroke="#000000" stroke-width="1.95" stroke-linejoin="miter"/><polygon points="666.6,685.9 671.9,695.6 661.3,695.6" fill="#000000" stroke="#000000" stroke-width="1.95" stroke-linejoin="miter"/>
<path d="M417.4,917.0 L463.4,902.0 L492.4,865.5 L521.4,802.0 L550.5,774.5 L579.5,733.8 L608.5,727.8 L637.6,677.0 L666.6,670.0" fill="none" stroke="#000000" stroke-width="2.55" stroke-linejoin="round"/>
<polygon points="417.4,910.6 422.7,920.4 412.1,920.4" fill="#fff" stroke="#000000" stroke-width="1.95"/><polygon points="463.4,895.6 468.7,905.4 458.1,905.4" fill="#fff" stroke="#000000" stroke-width="1.95"/><polygon points="492.4,859.1 497.7,868.9 487.1,868.9" fill="#fff" stroke="#000000" stroke-width="1.95"/><polygon points="521.4,795.6 526.7,805.4 516.1,805.4" fill="#fff" stroke="#000000" stroke-width="1.95"/><polygon points="550.5,768.1 555.8,777.9 545.2,777.9" fill="#fff" stroke="#000000" stroke-width="1.95"/><polygon points="579.5,727.4 584.8,737.1 574.2,737.1" fill="#fff" stroke="#000000" stroke-width="1.95"/><polygon points="608.5,721.4 613.8,731.1 603.2,731.1" fill="#fff" stroke="#000000" stroke-width="1.95"/><polygon points="637.6,670.6 642.9,680.4 632.3,680.4" fill="#fff" stroke="#000000" stroke-width="1.95"/><polygon points="666.6,663.6 671.9,673.4 661.3,673.4" fill="#fff" stroke="#000000" stroke-width="1.95"/>
<path d="M417.4,917.0 L463.4,900.8 L492.4,854.5 L521.4,785.5 L550.5,750.0 L579.5,710.5 L608.5,693.2 L637.6,670.0 L666.6,667.0" fill="none" stroke="#000000" stroke-width="2.55" stroke-linejoin="round"/>
<polygon points="417.4,910.6 422.7,920.4 412.1,920.4" fill="#fff" stroke="#000000" stroke-width="1.95"/><polygon points="417.4,910.6 417.4,920.4 412.1,920.4" fill="#000000"/><polygon points="463.4,894.4 468.7,904.1 458.1,904.1" fill="#fff" stroke="#000000" stroke-width="1.95"/><polygon points="463.4,894.4 463.4,904.1 458.1,904.1" fill="#000000"/><polygon points="492.4,848.1 497.7,857.9 487.1,857.9" fill="#fff" stroke="#000000" stroke-width="1.95"/><polygon points="492.4,848.1 492.4,857.9 487.1,857.9" fill="#000000"/><polygon points="521.4,779.1 526.7,788.9 516.1,788.9" fill="#fff" stroke="#000000" stroke-width="1.95"/><polygon points="521.4,779.1 521.4,788.9 516.1,788.9" fill="#000000"/><polygon points="550.5,743.6 555.8,753.4 545.2,753.4" fill="#fff" stroke="#000000" stroke-width="1.95"/><polygon points="550.5,743.6 550.5,753.4 545.2,753.4" fill="#000000"/><polygon points="579.5,704.1 584.8,713.9 574.2,713.9" fill="#fff" stroke="#000000" stroke-width="1.95"/><polygon points="579.5,704.1 579.5,713.9 574.2,713.9" fill="#000000"/><polygon points="608.5,686.9 613.8,696.6 603.2,696.6" fill="#fff" stroke="#000000" stroke-width="1.95"/><polygon points="608.5,686.9 608.5,696.6 603.2,696.6" fill="#000000"/><polygon points="637.6,663.6 642.9,673.4 632.3,673.4" fill="#fff" stroke="#000000" stroke-width="1.95"/><polygon points="637.6,663.6 637.6,673.4 632.3,673.4" fill="#000000"/><polygon points="666.6,660.6 671.9,670.4 661.3,670.4" fill="#fff" stroke="#000000" stroke-width="1.95"/><polygon points="666.6,660.6 666.6,670.4 661.3,670.4" fill="#000000"/>
<path d="M417.4,917.0 L463.4,917.0 L492.4,914.0 L521.4,902.0 L550.5,871.5 L579.5,817.8 L608.5,756.0 L637.6,738.8 L666.6,715.5" fill="none" stroke="#0000ff" stroke-width="2.55" stroke-linejoin="round"/>
<rect x="413.1" y="912.7" width="8.6" height="8.6" fill="#0000ff"/><rect x="459.1" y="912.7" width="8.6" height="8.6" fill="#0000ff"/><rect x="488.1" y="909.7" width="8.6" height="8.6" fill="#0000ff"/><rect x="517.1" y="897.7" width="8.6" height="8.6" fill="#0000ff"/><rect x="546.2" y="867.2" width="8.6" height="8.6" fill="#0000ff"/><rect x="575.2" y="813.5" width="8.6" height="8.6" fill="#0000ff"/><rect x="604.2" y="751.7" width="8.6" height="8.6" fill="#0000ff"/><rect x="633.3" y="734.5" width="8.6" height="8.6" fill="#0000ff"/><rect x="662.3" y="711.2" width="8.6" height="8.6" fill="#0000ff"/>
<path d="M417.4,917.0 L463.4,917.0 L492.4,902.0 L521.4,884.5 L550.5,837.0 L579.5,797.5 L608.5,768.2 L637.6,729.8 L666.6,710.5" fill="none" stroke="#0000ff" stroke-width="2.55" stroke-linejoin="round"/>
<rect x="414.2" y="913.9" width="6.3" height="6.3" fill="#fff" stroke="#0000ff" stroke-width="2.3"/><rect x="460.2" y="913.9" width="6.3" height="6.3" fill="#fff" stroke="#0000ff" stroke-width="2.3"/><rect x="489.3" y="898.9" width="6.3" height="6.3" fill="#fff" stroke="#0000ff" stroke-width="2.3"/><rect x="518.3" y="881.4" width="6.3" height="6.3" fill="#fff" stroke="#0000ff" stroke-width="2.3"/><rect x="547.3" y="833.9" width="6.3" height="6.3" fill="#fff" stroke="#0000ff" stroke-width="2.3"/><rect x="576.4" y="794.4" width="6.3" height="6.3" fill="#fff" stroke="#0000ff" stroke-width="2.3"/><rect x="605.4" y="765.1" width="6.3" height="6.3" fill="#fff" stroke="#0000ff" stroke-width="2.3"/><rect x="634.4" y="726.6" width="6.3" height="6.3" fill="#fff" stroke="#0000ff" stroke-width="2.3"/><rect x="663.4" y="707.4" width="6.3" height="6.3" fill="#fff" stroke="#0000ff" stroke-width="2.3"/>
<path d="M417.4,917.0 L463.4,890.8 L492.4,875.5 L521.4,861.2 L550.5,813.8 L579.5,779.5 L608.5,755.0 L637.6,723.8 L666.6,704.5" fill="none" stroke="#0000ff" stroke-width="2.55" stroke-linejoin="round"/>
<rect x="414.2" y="913.9" width="6.3" height="6.3" fill="#fff" stroke="#0000ff" stroke-width="2.3"/><rect x="414.2" y="913.9" width="6.3" height="3.1" fill="#0000ff"/><rect x="460.2" y="887.6" width="6.3" height="6.3" fill="#fff" stroke="#0000ff" stroke-width="2.3"/><rect x="460.2" y="887.6" width="6.3" height="3.1" fill="#0000ff"/><rect x="489.3" y="872.4" width="6.3" height="6.3" fill="#fff" stroke="#0000ff" stroke-width="2.3"/><rect x="489.3" y="872.4" width="6.3" height="3.1" fill="#0000ff"/><rect x="518.3" y="858.1" width="6.3" height="6.3" fill="#fff" stroke="#0000ff" stroke-width="2.3"/><rect x="518.3" y="858.1" width="6.3" height="3.1" fill="#0000ff"/><rect x="547.3" y="810.6" width="6.3" height="6.3" fill="#fff" stroke="#0000ff" stroke-width="2.3"/><rect x="547.3" y="810.6" width="6.3" height="3.1" fill="#0000ff"/><rect x="576.4" y="776.4" width="6.3" height="6.3" fill="#fff" stroke="#0000ff" stroke-width="2.3"/><rect x="576.4" y="776.4" width="6.3" height="3.1" fill="#0000ff"/><rect x="605.4" y="751.9" width="6.3" height="6.3" fill="#fff" stroke="#0000ff" stroke-width="2.3"/><rect x="605.4" y="751.9" width="6.3" height="3.1" fill="#0000ff"/><rect x="634.4" y="720.6" width="6.3" height="6.3" fill="#fff" stroke="#0000ff" stroke-width="2.3"/><rect x="634.4" y="720.6" width="6.3" height="3.1" fill="#0000ff"/><rect x="663.4" y="701.4" width="6.3" height="6.3" fill="#fff" stroke="#0000ff" stroke-width="2.3"/><rect x="663.4" y="701.4" width="6.3" height="3.1" fill="#0000ff"/>
<path d="M417.4,917.0 L463.4,914.5 L492.4,888.8 L521.4,868.5 L550.5,834.0 L579.5,773.2 L608.5,747.0 L637.6,704.5 L666.6,685.2" fill="none" stroke="#ff0000" stroke-width="2.55" stroke-linejoin="round"/>
<circle cx="417.4" cy="917.0" r="4.45" fill="#ff0000"/><circle cx="463.4" cy="914.5" r="4.45" fill="#ff0000"/><circle cx="492.4" cy="888.8" r="4.45" fill="#ff0000"/><circle cx="521.4" cy="868.5" r="4.45" fill="#ff0000"/><circle cx="550.5" cy="834.0" r="4.45" fill="#ff0000"/><circle cx="579.5" cy="773.2" r="4.45" fill="#ff0000"/><circle cx="608.5" cy="747.0" r="4.45" fill="#ff0000"/><circle cx="637.6" cy="704.5" r="4.45" fill="#ff0000"/><circle cx="666.6" cy="685.2" r="4.45" fill="#ff0000"/>
<path d="M417.4,917.0 L463.4,908.0 L492.4,874.5 L521.4,834.0 L550.5,780.2 L579.5,742.0 L608.5,702.5 L637.6,685.2 L666.6,671.0" fill="none" stroke="#ff0000" stroke-width="2.55" stroke-linejoin="round"/>
<circle cx="417.4" cy="917.0" r="3.3" fill="#fff" stroke="#ff0000" stroke-width="2.3"/><path d="M414.1,917.0 A3.3,3.3 0 0 1 420.7,917.0 Z" fill="#ff0000"/><circle cx="463.4" cy="908.0" r="3.3" fill="#fff" stroke="#ff0000" stroke-width="2.3"/><path d="M460.1,908.0 A3.3,3.3 0 0 1 466.7,908.0 Z" fill="#ff0000"/><circle cx="492.4" cy="874.5" r="3.3" fill="#fff" stroke="#ff0000" stroke-width="2.3"/><path d="M489.1,874.5 A3.3,3.3 0 0 1 495.7,874.5 Z" fill="#ff0000"/><circle cx="521.4" cy="834.0" r="3.3" fill="#fff" stroke="#ff0000" stroke-width="2.3"/><path d="M518.1,834.0 A3.3,3.3 0 0 1 524.7,834.0 Z" fill="#ff0000"/><circle cx="550.5" cy="780.2" r="3.3" fill="#fff" stroke="#ff0000" stroke-width="2.3"/><path d="M547.2,780.2 A3.3,3.3 0 0 1 553.8,780.2 Z" fill="#ff0000"/><circle cx="579.5" cy="742.0" r="3.3" fill="#fff" stroke="#ff0000" stroke-width="2.3"/><path d="M576.2,742.0 A3.3,3.3 0 0 1 582.8,742.0 Z" fill="#ff0000"/><circle cx="608.5" cy="702.5" r="3.3" fill="#fff" stroke="#ff0000" stroke-width="2.3"/><path d="M605.2,702.5 A3.3,3.3 0 0 1 611.8,702.5 Z" fill="#ff0000"/><circle cx="637.6" cy="685.2" r="3.3" fill="#fff" stroke="#ff0000" stroke-width="2.3"/><path d="M634.3,685.2 A3.3,3.3 0 0 1 640.9,685.2 Z" fill="#ff0000"/><circle cx="666.6" cy="671.0" r="3.3" fill="#fff" stroke="#ff0000" stroke-width="2.3"/><path d="M663.3,671.0 A3.3,3.3 0 0 1 669.9,671.0 Z" fill="#ff0000"/>
<path d="M417.4,917.0 L463.4,917.0 L492.4,877.5 L521.4,839.0 L550.5,789.5 L579.5,756.0 L608.5,721.2 L637.6,697.2 L666.6,677.0" fill="none" stroke="#ff0000" stroke-width="2.55" stroke-linejoin="round"/>
<circle cx="417.4" cy="917.0" r="3.3" fill="#fff" stroke="#ff0000" stroke-width="2.3"/><circle cx="463.4" cy="917.0" r="3.3" fill="#fff" stroke="#ff0000" stroke-width="2.3"/><circle cx="492.4" cy="877.5" r="3.3" fill="#fff" stroke="#ff0000" stroke-width="2.3"/><circle cx="521.4" cy="839.0" r="3.3" fill="#fff" stroke="#ff0000" stroke-width="2.3"/><circle cx="550.5" cy="789.5" r="3.3" fill="#fff" stroke="#ff0000" stroke-width="2.3"/><circle cx="579.5" cy="756.0" r="3.3" fill="#fff" stroke="#ff0000" stroke-width="2.3"/><circle cx="608.5" cy="721.2" r="3.3" fill="#fff" stroke="#ff0000" stroke-width="2.3"/><circle cx="637.6" cy="697.2" r="3.3" fill="#fff" stroke="#ff0000" stroke-width="2.3"/><circle cx="666.6" cy="677.0" r="3.3" fill="#fff" stroke="#ff0000" stroke-width="2.3"/>
<path d="M744.7,792.4 H990.4000000000001" stroke="#000" stroke-width="1.5" stroke-dasharray="3.6,1.5" fill="none"/>
<path d="M743.2,665.9 V918.9 M733.7,917.5 H993.7" stroke="#000" stroke-width="2.9" fill="none"/>
<path d="M733.7,855.0 H743.2 M733.7,792.4 H743.2 M733.7,729.8 H743.2 M733.7,667.3 H743.2 M743.2,917.5 V928.8 M784.7,917.5 V928.8 M826.3,917.5 V928.8 M867.8,917.5 V928.8 M909.3,917.5 V928.8 M950.9,917.5 V928.8 M992.4,917.5 V928.8 " stroke="#000" stroke-width="2.6" fill="none"/>
<path d="M755.7,917.5 V924.3 M763.0,917.5 V924.3 M768.2,917.5 V924.3 M772.2,917.5 V924.3 M775.5,917.5 V924.3 M778.3,917.5 V924.3 M780.7,917.5 V924.3 M782.8,917.5 V924.3 M797.2,917.5 V924.3 M804.5,917.5 V924.3 M809.7,917.5 V924.3 M813.8,917.5 V924.3 M817.1,917.5 V924.3 M819.8,917.5 V924.3 M822.2,917.5 V924.3 M824.4,917.5 V924.3 M838.8,917.5 V924.3 M846.1,917.5 V924.3 M851.3,917.5 V924.3 M855.3,917.5 V924.3 M858.6,917.5 V924.3 M861.4,917.5 V924.3 M863.8,917.5 V924.3 M865.9,917.5 V924.3 M880.3,917.5 V924.3 M887.6,917.5 V924.3 M892.8,917.5 V924.3 M896.8,917.5 V924.3 M900.1,917.5 V924.3 M902.9,917.5 V924.3 M905.3,917.5 V924.3 M907.4,917.5 V924.3 M921.8,917.5 V924.3 M929.1,917.5 V924.3 M934.3,917.5 V924.3 M938.4,917.5 V924.3 M941.7,917.5 V924.3 M944.4,917.5 V924.3 M946.8,917.5 V924.3 M949.0,917.5 V924.3 M963.4,917.5 V924.3 M970.7,917.5 V924.3 M975.9,917.5 V924.3 M979.9,917.5 V924.3 M983.2,917.5 V924.3 M986.0,917.5 V924.3 M988.4,917.5 V924.3 M990.5,917.5 V924.3 " stroke="#000" stroke-width="2.5" fill="none"/>
<text transform="translate(731.20,927.40)" font-size="30" text-anchor="end" textLength="12.40" lengthAdjust="spacingAndGlyphs">0</text>
<text transform="translate(731.20,864.85)" font-size="30" text-anchor="end" textLength="24.90" lengthAdjust="spacingAndGlyphs">25</text>
<text transform="translate(731.20,802.30)" font-size="30" text-anchor="end" textLength="24.90" lengthAdjust="spacingAndGlyphs">50</text>
<text transform="translate(731.20,739.75)" font-size="30" text-anchor="end" textLength="24.90" lengthAdjust="spacingAndGlyphs">75</text>
<text transform="translate(731.20,677.20)" font-size="30" text-anchor="end" textLength="37.30" lengthAdjust="spacingAndGlyphs">100</text>
<text transform="translate(721.40,952.80) scale(0.76,1)" font-size="30">10<tspan dy="-9.7" font-size="18.5">-3</tspan></text>
<text transform="translate(762.93,952.80) scale(0.76,1)" font-size="30">10<tspan dy="-9.7" font-size="18.5">-2</tspan></text>
<text transform="translate(804.47,952.80) scale(0.76,1)" font-size="30">10<tspan dy="-9.7" font-size="18.5">-1</tspan></text>
<text transform="translate(846.00,952.80) scale(0.76,1)" font-size="30">10<tspan dy="-9.7" font-size="18.5">0</tspan></text>
<text transform="translate(887.53,952.80) scale(0.76,1)" font-size="30">10<tspan dy="-9.7" font-size="18.5">1</tspan></text>
<text transform="translate(929.07,952.80) scale(0.76,1)" font-size="30">10<tspan dy="-9.7" font-size="18.5">2</tspan></text>
<text transform="translate(970.60,952.80) scale(0.76,1)" font-size="30">10<tspan dy="-9.7" font-size="18.5">3</tspan></text>
<text transform="translate(868.50,980.90)" font-size="28.6" text-anchor="middle" textLength="261.00" lengthAdjust="spacingAndGlyphs">Ab concentration (ng/mL)</text>
<text transform="translate(868.75,645.60)" font-size="24.3" text-anchor="middle" textLength="244.50" lengthAdjust="spacingAndGlyphs">SHIV-1157ipd3N4 (clade C)</text>
<path d="M743.2,917.5 L789.2,912.5 L818.2,892.5 L847.2,844.9 L876.3,814.9 L905.3,769.9 L934.3,738.1 L963.4,698.8 L992.4,683.6" fill="none" stroke="#000000" stroke-width="2.55" stroke-linejoin="round"/>
<polygon points="743.2,911.1 748.5,920.9 737.9,920.9" fill="#000000" stroke="#000000" stroke-width="1.95" stroke-linejoin="miter"/><polygon points="789.2,906.1 794.5,915.9 783.9,915.9" fill="#000000" stroke="#000000" stroke-width="1.95" stroke-linejoin="miter"/><polygon points="818.2,886.1 823.5,895.9 812.9,895.9" fill="#000000" stroke="#000000" stroke-width="1.95" stroke-linejoin="miter"/><polygon points="847.2,838.5 852.5,848.3 841.9,848.3" fill="#000000" stroke="#000000" stroke-width="1.95" stroke-linejoin="miter"/><polygon points="876.3,808.5 881.6,818.3 871.0,818.3" fill="#000000" stroke="#000000" stroke-width="1.95" stroke-linejoin="miter"/><polygon points="905.3,763.5 910.6,773.3 900.0,773.3" fill="#000000" stroke="#000000" stroke-width="1.95" stroke-linejoin="miter"/><polygon points="934.3,731.7 939.6,741.5 929.0,741.5" fill="#000000" stroke="#000000" stroke-width="1.95" stroke-linejoin="miter"/><polygon points="963.4,692.4 968.7,702.2 958.1,702.2" fill="#000000" stroke="#000000" stroke-width="1.95" stroke-linejoin="miter"/><polygon points="992.4,677.2 997.7,687.0 987.1,687.0" fill="#000000" stroke="#000000" stroke-width="1.95" stroke-linejoin="miter"/>
<path d="M743.2,917.5 L789.2,900.2 L818.2,870.0 L847.2,826.4 L876.3,765.6 L905.3,739.1 L934.3,717.8 L963.4,680.6 L992.4,671.3" fill="none" stroke="#000000" stroke-width="2.55" stroke-linejoin="round"/>
<polygon points="743.2,911.1 748.5,920.9 737.9,920.9" fill="#fff" stroke="#000000" stroke-width="1.95"/><polygon points="789.2,893.8 794.5,903.6 783.9,903.6" fill="#fff" stroke="#000000" stroke-width="1.95"/><polygon points="818.2,863.6 823.5,873.4 812.9,873.4" fill="#fff" stroke="#000000" stroke-width="1.95"/><polygon points="847.2,820.0 852.5,829.8 841.9,829.8" fill="#fff" stroke="#000000" stroke-width="1.95"/><polygon points="876.3,759.2 881.6,769.0 871.0,769.0" fill="#fff" stroke="#000000" stroke-width="1.95"/><polygon points="905.3,732.7 910.6,742.5 900.0,742.5" fill="#fff" stroke="#000000" stroke-width="1.95"/><polygon points="934.3,711.4 939.6,721.2 929.0,721.2" fill="#fff" stroke="#000000" stroke-width="1.95"/><polygon points="963.4,674.2 968.7,684.0 958.1,684.0" fill="#fff" stroke="#000000" stroke-width="1.95"/><polygon points="992.4,664.9 997.7,674.7 987.1,674.7" fill="#fff" stroke="#000000" stroke-width="1.95"/>
<path d="M743.2,917.5 L789.2,891.2 L818.2,869.0 L847.2,811.2 L876.3,750.4 L905.3,735.1 L934.3,702.8 L963.4,671.3 L992.4,668.3" fill="none" stroke="#000000" stroke-width="2.55" stroke-linejoin="round"/>
<polygon points="743.2,911.1 748.5,920.9 737.9,920.9" fill="#fff" stroke="#000000" stroke-width="1.95"/><polygon points="743.2,911.1 743.2,920.9 737.9,920.9" fill="#000000"/><polygon points="789.2,884.8 794.5,894.6 783.9,894.6" fill="#fff" stroke="#000000" stroke-width="1.95"/><polygon points="789.2,884.8 789.2,894.6 783.9,894.6" fill="#000000"/><polygon points="818.2,862.6 823.5,872.4 812.9,872.4" fill="#fff" stroke="#000000" stroke-width="1.95"/><polygon points="818.2,862.6 818.2,872.4 812.9,872.4" fill="#000000"/><polygon points="847.2,804.8 852.5,814.6 841.9,814.6" fill="#fff" stroke="#000000" stroke-width="1.95"/><polygon points="847.2,804.8 847.2,814.6 841.9,814.6" fill="#000000"/><polygon points="876.3,744.0 881.6,753.8 871.0,753.8" fill="#fff" stroke="#000000" stroke-width="1.95"/><polygon points="876.3,744.0 876.3,753.8 871.0,753.8" fill="#000000"/><polygon points="905.3,728.7 910.6,738.5 900.0,738.5" fill="#fff" stroke="#000000" stroke-width="1.95"/><polygon points="905.3,728.7 905.3,738.5 900.0,738.5" fill="#000000"/><polygon points="934.3,696.4 939.6,706.2 929.0,706.2" fill="#fff" stroke="#000000" stroke-width="1.95"/><polygon points="934.3,696.4 934.3,706.2 929.0,706.2" fill="#000000"/><polygon points="963.4,664.9 968.7,674.7 958.1,674.7" fill="#fff" stroke="#000000" stroke-width="1.95"/><polygon points="963.4,664.9 963.4,674.7 958.1,674.7" fill="#000000"/><polygon points="992.4,661.9 997.7,671.7 987.1,671.7" fill="#fff" stroke="#000000" stroke-width="1.95"/><polygon points="992.4,661.9 992.4,671.7 987.1,671.7" fill="#000000"/>
<path d="M743.2,917.5 L789.2,917.5 L818.2,894.2 L847.2,877.5 L876.3,862.7 L905.3,801.2 L934.3,772.4 L963.4,739.9 L992.4,716.1" fill="none" stroke="#0000ff" stroke-width="2.55" stroke-linejoin="round"/>
<rect x="738.9" y="913.2" width="8.6" height="8.6" fill="#0000ff"/><rect x="784.9" y="913.2" width="8.6" height="8.6" fill="#0000ff"/><rect x="813.9" y="889.9" width="8.6" height="8.6" fill="#0000ff"/><rect x="842.9" y="873.2" width="8.6" height="8.6" fill="#0000ff"/><rect x="872.0" y="858.4" width="8.6" height="8.6" fill="#0000ff"/><rect x="901.0" y="796.9" width="8.6" height="8.6" fill="#0000ff"/><rect x="930.0" y="768.1" width="8.6" height="8.6" fill="#0000ff"/><rect x="959.1" y="735.6" width="8.6" height="8.6" fill="#0000ff"/><rect x="988.1" y="711.8" width="8.6" height="8.6" fill="#0000ff"/>
<path d="M743.2,917.5 L789.2,917.5 L818.2,904.2 L847.2,891.2 L876.3,839.9 L905.3,806.2 L934.3,754.9 L963.4,731.1 L992.4,704.8" fill="none" stroke="#0000ff" stroke-width="2.55" stroke-linejoin="round"/>
<rect x="740.1" y="914.4" width="6.3" height="6.3" fill="#fff" stroke="#0000ff" stroke-width="2.3"/><rect x="786.0" y="914.4" width="6.3" height="6.3" fill="#fff" stroke="#0000ff" stroke-width="2.3"/><rect x="815.1" y="901.1" width="6.3" height="6.3" fill="#fff" stroke="#0000ff" stroke-width="2.3"/><rect x="844.1" y="888.1" width="6.3" height="6.3" fill="#fff" stroke="#0000ff" stroke-width="2.3"/><rect x="873.1" y="836.8" width="6.3" height="6.3" fill="#fff" stroke="#0000ff" stroke-width="2.3"/><rect x="902.2" y="803.0" width="6.3" height="6.3" fill="#fff" stroke="#0000ff" stroke-width="2.3"/><rect x="931.2" y="751.7" width="6.3" height="6.3" fill="#fff" stroke="#0000ff" stroke-width="2.3"/><rect x="960.2" y="728.0" width="6.3" height="6.3" fill="#fff" stroke="#0000ff" stroke-width="2.3"/><rect x="989.3" y="701.7" width="6.3" height="6.3" fill="#fff" stroke="#0000ff" stroke-width="2.3"/>
<path d="M743.2,917.5 L789.2,917.5 L818.2,877.5 L847.2,860.0 L876.3,835.4 L905.3,823.4 L934.3,777.6 L963.4,724.8 L992.4,702.8" fill="none" stroke="#0000ff" stroke-width="2.55" stroke-linejoin="round"/>
<rect x="740.1" y="914.4" width="6.3" height="6.3" fill="#fff" stroke="#0000ff" stroke-width="2.3"/><rect x="740.1" y="914.4" width="6.3" height="3.1" fill="#0000ff"/><rect x="786.0" y="914.4" width="6.3" height="6.3" fill="#fff" stroke="#0000ff" stroke-width="2.3"/><rect x="786.0" y="914.4" width="6.3" height="3.1" fill="#0000ff"/><rect x="815.1" y="874.3" width="6.3" height="6.3" fill="#fff" stroke="#0000ff" stroke-width="2.3"/><rect x="815.1" y="874.3" width="6.3" height="3.1" fill="#0000ff"/><rect x="844.1" y="856.8" width="6.3" height="6.3" fill="#fff" stroke="#0000ff" stroke-width="2.3"/><rect x="844.1" y="856.8" width="6.3" height="3.1" fill="#0000ff"/><rect x="873.1" y="832.3" width="6.3" height="6.3" fill="#fff" stroke="#0000ff" stroke-width="2.3"/><rect x="873.1" y="832.3" width="6.3" height="3.1" fill="#0000ff"/><rect x="902.2" y="820.3" width="6.3" height="6.3" fill="#fff" stroke="#0000ff" stroke-width="2.3"/><rect x="902.2" y="820.3" width="6.3" height="3.1" fill="#0000ff"/><rect x="931.2" y="774.5" width="6.3" height="6.3" fill="#fff" stroke="#0000ff" stroke-width="2.3"/><rect x="931.2" y="774.5" width="6.3" height="3.1" fill="#0000ff"/><rect x="960.2" y="721.7" width="6.3" height="6.3" fill="#fff" stroke="#0000ff" stroke-width="2.3"/><rect x="960.2" y="721.7" width="6.3" height="3.1" fill="#0000ff"/><rect x="989.3" y="699.7" width="6.3" height="6.3" fill="#fff" stroke="#0000ff" stroke-width="2.3"/><rect x="989.3" y="699.7" width="6.3" height="3.1" fill="#0000ff"/>
<path d="M743.2,917.5 L789.2,915.5 L818.2,897.5 L847.2,851.7 L876.3,847.4 L905.3,799.9 L934.3,787.9 L963.4,760.4 L992.4,721.1" fill="none" stroke="#ff0000" stroke-width="2.55" stroke-linejoin="round"/>
<circle cx="743.2" cy="917.5" r="4.45" fill="#ff0000"/><circle cx="789.2" cy="915.5" r="4.45" fill="#ff0000"/><circle cx="818.2" cy="897.5" r="4.45" fill="#ff0000"/><circle cx="847.2" cy="851.7" r="4.45" fill="#ff0000"/><circle cx="876.3" cy="847.4" r="4.45" fill="#ff0000"/><circle cx="905.3" cy="799.9" r="4.45" fill="#ff0000"/><circle cx="934.3" cy="787.9" r="4.45" fill="#ff0000"/><circle cx="963.4" cy="760.4" r="4.45" fill="#ff0000"/><circle cx="992.4" cy="721.1" r="4.45" fill="#ff0000"/>
<path d="M743.2,917.5 L789.2,915.0 L818.2,894.2 L847.2,858.7 L876.3,824.4 L905.3,790.9 L934.3,758.4 L963.4,724.1 L992.4,697.6" fill="none" stroke="#ff0000" stroke-width="2.55" stroke-linejoin="round"/>
<circle cx="743.2" cy="917.5" r="3.3" fill="#fff" stroke="#ff0000" stroke-width="2.3"/><path d="M739.9,917.5 A3.3,3.3 0 0 1 746.5,917.5 Z" fill="#ff0000"/><circle cx="789.2" cy="915.0" r="3.3" fill="#fff" stroke="#ff0000" stroke-width="2.3"/><path d="M785.9,915.0 A3.3,3.3 0 0 1 792.5,915.0 Z" fill="#ff0000"/><circle cx="818.2" cy="894.2" r="3.3" fill="#fff" stroke="#ff0000" stroke-width="2.3"/><path d="M814.9,894.2 A3.3,3.3 0 0 1 821.5,894.2 Z" fill="#ff0000"/><circle cx="847.2" cy="858.7" r="3.3" fill="#fff" stroke="#ff0000" stroke-width="2.3"/><path d="M843.9,858.7 A3.3,3.3 0 0 1 850.5,858.7 Z" fill="#ff0000"/><circle cx="876.3" cy="824.4" r="3.3" fill="#fff" stroke="#ff0000" stroke-width="2.3"/><path d="M873.0,824.4 A3.3,3.3 0 0 1 879.6,824.4 Z" fill="#ff0000"/><circle cx="905.3" cy="790.9" r="3.3" fill="#fff" stroke="#ff0000" stroke-width="2.3"/><path d="M902.0,790.9 A3.3,3.3 0 0 1 908.6,790.9 Z" fill="#ff0000"/><circle cx="934.3" cy="758.4" r="3.3" fill="#fff" stroke="#ff0000" stroke-width="2.3"/><path d="M931.0,758.4 A3.3,3.3 0 0 1 937.6,758.4 Z" fill="#ff0000"/><circle cx="963.4" cy="724.1" r="3.3" fill="#fff" stroke="#ff0000" stroke-width="2.3"/><path d="M960.1,724.1 A3.3,3.3 0 0 1 966.7,724.1 Z" fill="#ff0000"/><circle cx="992.4" cy="697.6" r="3.3" fill="#fff" stroke="#ff0000" stroke-width="2.3"/><path d="M989.1,697.6 A3.3,3.3 0 0 1 995.7,697.6 Z" fill="#ff0000"/>
<path d="M743.2,917.5 L789.2,908.5 L818.2,881.0 L847.2,833.4 L876.3,804.2 L905.3,778.6 L934.3,729.1 L963.4,689.8 L992.4,671.1" fill="none" stroke="#ff0000" stroke-width="2.55" stroke-linejoin="round"/>
<circle cx="743.2" cy="917.5" r="3.3" fill="#fff" stroke="#ff0000" stroke-width="2.3"/><circle cx="789.2" cy="908.5" r="3.3" fill="#fff" stroke="#ff0000" stroke-width="2.3"/><circle cx="818.2" cy="881.0" r="3.3" fill="#fff" stroke="#ff0000" stroke-width="2.3"/><circle cx="847.2" cy="833.4" r="3.3" fill="#fff" stroke="#ff0000" stroke-width="2.3"/><circle cx="876.3" cy="804.2" r="3.3" fill="#fff" stroke="#ff0000" stroke-width="2.3"/><circle cx="905.3" cy="778.6" r="3.3" fill="#fff" stroke="#ff0000" stroke-width="2.3"/><circle cx="934.3" cy="729.1" r="3.3" fill="#fff" stroke="#ff0000" stroke-width="2.3"/><circle cx="963.4" cy="689.8" r="3.3" fill="#fff" stroke="#ff0000" stroke-width="2.3"/><circle cx="992.4" cy="671.1" r="3.3" fill="#fff" stroke="#ff0000" stroke-width="2.3"/>
<path d="M95.0,1172.5 H340.5" stroke="#000" stroke-width="1.5" stroke-dasharray="3.6,1.5" fill="none"/>
<path d="M93.5,1045.1 V1299.9 M84.0,1298.5 H343.8" stroke="#000" stroke-width="2.9" fill="none"/>
<path d="M84.0,1235.5 H93.5 M84.0,1172.5 H93.5 M84.0,1109.5 H93.5 M84.0,1046.5 H93.5 M93.5,1298.5 V1309.8 M135.0,1298.5 V1309.8 M176.5,1298.5 V1309.8 M218.0,1298.5 V1309.8 M259.5,1298.5 V1309.8 M301.0,1298.5 V1309.8 M342.5,1298.5 V1309.8 " stroke="#000" stroke-width="2.6" fill="none"/>
<path d="M106.0,1298.5 V1305.3 M113.3,1298.5 V1305.3 M118.5,1298.5 V1305.3 M122.5,1298.5 V1305.3 M125.8,1298.5 V1305.3 M128.6,1298.5 V1305.3 M131.0,1298.5 V1305.3 M133.1,1298.5 V1305.3 M147.5,1298.5 V1305.3 M154.8,1298.5 V1305.3 M160.0,1298.5 V1305.3 M164.0,1298.5 V1305.3 M167.3,1298.5 V1305.3 M170.1,1298.5 V1305.3 M172.5,1298.5 V1305.3 M174.6,1298.5 V1305.3 M189.0,1298.5 V1305.3 M196.3,1298.5 V1305.3 M201.5,1298.5 V1305.3 M205.5,1298.5 V1305.3 M208.8,1298.5 V1305.3 M211.6,1298.5 V1305.3 M214.0,1298.5 V1305.3 M216.1,1298.5 V1305.3 M230.5,1298.5 V1305.3 M237.8,1298.5 V1305.3 M243.0,1298.5 V1305.3 M247.0,1298.5 V1305.3 M250.3,1298.5 V1305.3 M253.1,1298.5 V1305.3 M255.5,1298.5 V1305.3 M257.6,1298.5 V1305.3 M272.0,1298.5 V1305.3 M279.3,1298.5 V1305.3 M284.5,1298.5 V1305.3 M288.5,1298.5 V1305.3 M291.8,1298.5 V1305.3 M294.6,1298.5 V1305.3 M297.0,1298.5 V1305.3 M299.1,1298.5 V1305.3 M313.5,1298.5 V1305.3 M320.8,1298.5 V1305.3 M326.0,1298.5 V1305.3 M330.0,1298.5 V1305.3 M333.3,1298.5 V1305.3 M336.1,1298.5 V1305.3 M338.5,1298.5 V1305.3 M340.6,1298.5 V1305.3 " stroke="#000" stroke-width="2.5" fill="none"/>
<text transform="translate(81.50,1308.40)" font-size="30" text-anchor="end" textLength="12.40" lengthAdjust="spacingAndGlyphs">0</text>
<text transform="translate(81.50,1245.40)" font-size="30" text-anchor="end" textLength="24.90" lengthAdjust="spacingAndGlyphs">25</text>
<text transform="translate(81.50,1182.40)" font-size="30" text-anchor="end" textLength="24.90" lengthAdjust="spacingAndGlyphs">50</text>
<text transform="translate(81.50,1119.40)" font-size="30" text-anchor="end" textLength="24.90" lengthAdjust="spacingAndGlyphs">75</text>
<text transform="translate(81.50,1056.40)" font-size="30" text-anchor="end" textLength="37.30" lengthAdjust="spacingAndGlyphs">100</text>
<text transform="translate(71.70,1333.80) scale(0.76,1)" font-size="30">10<tspan dy="-9.7" font-size="18.5">-3</tspan></text>
<text transform="translate(113.20,1333.80) scale(0.76,1)" font-size="30">10<tspan dy="-9.7" font-size="18.5">-2</tspan></text>
<text transform="translate(154.70,1333.80) scale(0.76,1)" font-size="30">10<tspan dy="-9.7" font-size="18.5">-1</tspan></text>
<text transform="translate(196.20,1333.80) scale(0.76,1)" font-size="30">10<tspan dy="-9.7" font-size="18.5">0</tspan></text>
<text transform="translate(237.70,1333.80) scale(0.76,1)" font-size="30">10<tspan dy="-9.7" font-size="18.5">1</tspan></text>
<text transform="translate(279.20,1333.80) scale(0.76,1)" font-size="30">10<tspan dy="-9.7" font-size="18.5">2</tspan></text>
<text transform="translate(320.70,1333.80) scale(0.76,1)" font-size="30">10<tspan dy="-9.7" font-size="18.5">3</tspan></text>
<text transform="translate(218.70,1361.90)" font-size="28.6" text-anchor="middle" textLength="261.00" lengthAdjust="spacingAndGlyphs">Ab concentration (ng/mL)</text>
<text transform="translate(213.25,1027.70)" font-size="24.3" text-anchor="middle" textLength="185.50" lengthAdjust="spacingAndGlyphs">SHIV-C109 (clade C)</text>
<text transform="translate(37.50,1171.20) rotate(-90)" font-size="29.5" text-anchor="middle" textLength="224.00" lengthAdjust="spacingAndGlyphs">Neutralization (%)</text>
<path d="M93.5,1298.5 L139.4,1287.4 L168.5,1253.1 L197.5,1227.9 L226.5,1172.5 L255.5,1122.1 L284.5,1088.6 L313.5,1061.6 L342.5,1050.0" fill="none" stroke="#000000" stroke-width="2.55" stroke-linejoin="round"/>
<polygon points="93.5,1292.1 98.8,1301.9 88.2,1301.9" fill="#000000" stroke="#000000" stroke-width="1.95" stroke-linejoin="miter"/><polygon points="139.4,1281.0 144.7,1290.8 134.1,1290.8" fill="#000000" stroke="#000000" stroke-width="1.95" stroke-linejoin="miter"/><polygon points="168.5,1246.7 173.8,1256.5 163.2,1256.5" fill="#000000" stroke="#000000" stroke-width="1.95" stroke-linejoin="miter"/><polygon points="197.5,1221.5 202.8,1231.3 192.2,1231.3" fill="#000000" stroke="#000000" stroke-width="1.95" stroke-linejoin="miter"/><polygon points="226.5,1166.1 231.8,1175.9 221.2,1175.9" fill="#000000" stroke="#000000" stroke-width="1.95" stroke-linejoin="miter"/><polygon points="255.5,1115.7 260.8,1125.5 250.2,1125.5" fill="#000000" stroke="#000000" stroke-width="1.95" stroke-linejoin="miter"/><polygon points="284.5,1082.2 289.8,1092.0 279.2,1092.0" fill="#000000" stroke="#000000" stroke-width="1.95" stroke-linejoin="miter"/><polygon points="313.5,1055.2 318.8,1065.0 308.2,1065.0" fill="#000000" stroke="#000000" stroke-width="1.95" stroke-linejoin="miter"/><polygon points="342.5,1043.6 347.8,1053.4 337.2,1053.4" fill="#000000" stroke="#000000" stroke-width="1.95" stroke-linejoin="miter"/>
<path d="M93.5,1298.5 L139.4,1277.1 L168.5,1266.0 L197.5,1229.5 L226.5,1195.9 L255.5,1152.3 L284.5,1117.8 L313.5,1071.2 L342.5,1051.5" fill="none" stroke="#000000" stroke-width="2.55" stroke-linejoin="round"/>
<polygon points="93.5,1292.1 98.8,1301.9 88.2,1301.9" fill="#fff" stroke="#000000" stroke-width="1.95"/><polygon points="139.4,1270.7 144.7,1280.5 134.1,1280.5" fill="#fff" stroke="#000000" stroke-width="1.95"/><polygon points="168.5,1259.6 173.8,1269.4 163.2,1269.4" fill="#fff" stroke="#000000" stroke-width="1.95"/><polygon points="197.5,1223.1 202.8,1232.9 192.2,1232.9" fill="#fff" stroke="#000000" stroke-width="1.95"/><polygon points="226.5,1189.5 231.8,1199.3 221.2,1199.3" fill="#fff" stroke="#000000" stroke-width="1.95"/><polygon points="255.5,1145.9 260.8,1155.7 250.2,1155.7" fill="#fff" stroke="#000000" stroke-width="1.95"/><polygon points="284.5,1111.4 289.8,1121.2 279.2,1121.2" fill="#fff" stroke="#000000" stroke-width="1.95"/><polygon points="313.5,1064.8 318.8,1074.6 308.2,1074.6" fill="#fff" stroke="#000000" stroke-width="1.95"/><polygon points="342.5,1045.1 347.8,1054.9 337.2,1054.9" fill="#fff" stroke="#000000" stroke-width="1.95"/>
<path d="M93.5,1298.5 L139.4,1276.1 L168.5,1230.5 L197.5,1190.9 L226.5,1131.2 L255.5,1108.7 L284.5,1071.2 L313.5,1049.0 L342.5,1049.0" fill="none" stroke="#000000" stroke-width="2.55" stroke-linejoin="round"/>
<polygon points="93.5,1292.1 98.8,1301.9 88.2,1301.9" fill="#fff" stroke="#000000" stroke-width="1.95"/><polygon points="93.5,1292.1 93.5,1301.9 88.2,1301.9" fill="#000000"/><polygon points="139.4,1269.7 144.7,1279.5 134.1,1279.5" fill="#fff" stroke="#000000" stroke-width="1.95"/><polygon points="139.4,1269.7 139.4,1279.5 134.1,1279.5" fill="#000000"/><polygon points="168.5,1224.1 173.8,1233.9 163.2,1233.9" fill="#fff" stroke="#000000" stroke-width="1.95"/><polygon points="168.5,1224.1 168.5,1233.9 163.2,1233.9" fill="#000000"/><polygon points="197.5,1184.5 202.8,1194.3 192.2,1194.3" fill="#fff" stroke="#000000" stroke-width="1.95"/><polygon points="197.5,1184.5 197.5,1194.3 192.2,1194.3" fill="#000000"/><polygon points="226.5,1124.8 231.8,1134.6 221.2,1134.6" fill="#fff" stroke="#000000" stroke-width="1.95"/><polygon points="226.5,1124.8 226.5,1134.6 221.2,1134.6" fill="#000000"/><polygon points="255.5,1102.3 260.8,1112.1 250.2,1112.1" fill="#fff" stroke="#000000" stroke-width="1.95"/><polygon points="255.5,1102.3 255.5,1112.1 250.2,1112.1" fill="#000000"/><polygon points="284.5,1064.8 289.8,1074.6 279.2,1074.6" fill="#fff" stroke="#000000" stroke-width="1.95"/><polygon points="284.5,1064.8 284.5,1074.6 279.2,1074.6" fill="#000000"/><polygon points="313.5,1042.6 318.8,1052.4 308.2,1052.4" fill="#fff" stroke="#000000" stroke-width="1.95"/><polygon points="313.5,1042.6 313.5,1052.4 308.2,1052.4" fill="#000000"/><polygon points="342.5,1042.6 347.8,1052.4 337.2,1052.4" fill="#fff" stroke="#000000" stroke-width="1.95"/><polygon points="342.5,1042.6 342.5,1052.4 337.2,1052.4" fill="#000000"/>
<path d="M93.5,1298.5 L139.4,1298.5 L168.5,1293.5 L197.5,1277.1 L226.5,1259.9 L255.5,1238.5 L284.5,1190.9 L313.5,1085.6 L342.5,1060.1" fill="none" stroke="#0000ff" stroke-width="2.55" stroke-linejoin="round"/>
<rect x="89.2" y="1294.2" width="8.6" height="8.6" fill="#0000ff"/><rect x="135.1" y="1294.2" width="8.6" height="8.6" fill="#0000ff"/><rect x="164.2" y="1289.2" width="8.6" height="8.6" fill="#0000ff"/><rect x="193.2" y="1272.8" width="8.6" height="8.6" fill="#0000ff"/><rect x="222.2" y="1255.6" width="8.6" height="8.6" fill="#0000ff"/><rect x="251.2" y="1234.2" width="8.6" height="8.6" fill="#0000ff"/><rect x="280.2" y="1186.6" width="8.6" height="8.6" fill="#0000ff"/><rect x="309.2" y="1081.3" width="8.6" height="8.6" fill="#0000ff"/><rect x="338.2" y="1055.8" width="8.6" height="8.6" fill="#0000ff"/>
<path d="M93.5,1298.5 L139.4,1298.5 L168.5,1298.5 L197.5,1293.5 L226.5,1259.9 L255.5,1249.9 L284.5,1214.3 L313.5,1102.7 L342.5,1075.0" fill="none" stroke="#0000ff" stroke-width="2.55" stroke-linejoin="round"/>
<rect x="90.3" y="1295.3" width="6.3" height="6.3" fill="#fff" stroke="#0000ff" stroke-width="2.3"/><rect x="136.3" y="1295.3" width="6.3" height="6.3" fill="#fff" stroke="#0000ff" stroke-width="2.3"/><rect x="165.3" y="1295.3" width="6.3" height="6.3" fill="#fff" stroke="#0000ff" stroke-width="2.3"/><rect x="194.3" y="1290.3" width="6.3" height="6.3" fill="#fff" stroke="#0000ff" stroke-width="2.3"/><rect x="223.3" y="1256.8" width="6.3" height="6.3" fill="#fff" stroke="#0000ff" stroke-width="2.3"/><rect x="252.3" y="1246.7" width="6.3" height="6.3" fill="#fff" stroke="#0000ff" stroke-width="2.3"/><rect x="281.3" y="1211.2" width="6.3" height="6.3" fill="#fff" stroke="#0000ff" stroke-width="2.3"/><rect x="310.3" y="1099.5" width="6.3" height="6.3" fill="#fff" stroke="#0000ff" stroke-width="2.3"/><rect x="339.4" y="1071.8" width="6.3" height="6.3" fill="#fff" stroke="#0000ff" stroke-width="2.3"/>
<path d="M93.5,1298.5 L139.4,1298.5 L168.5,1288.4 L197.5,1268.3 L226.5,1241.8 L255.5,1213.3 L284.5,1144.3 L313.5,1084.3 L342.5,1055.1" fill="none" stroke="#0000ff" stroke-width="2.55" stroke-linejoin="round"/>
<rect x="90.3" y="1295.3" width="6.3" height="6.3" fill="#fff" stroke="#0000ff" stroke-width="2.3"/><rect x="90.3" y="1295.3" width="6.3" height="3.1" fill="#0000ff"/><rect x="136.3" y="1295.3" width="6.3" height="6.3" fill="#fff" stroke="#0000ff" stroke-width="2.3"/><rect x="136.3" y="1295.3" width="6.3" height="3.1" fill="#0000ff"/><rect x="165.3" y="1285.3" width="6.3" height="6.3" fill="#fff" stroke="#0000ff" stroke-width="2.3"/><rect x="165.3" y="1285.3" width="6.3" height="3.1" fill="#0000ff"/><rect x="194.3" y="1265.1" width="6.3" height="6.3" fill="#fff" stroke="#0000ff" stroke-width="2.3"/><rect x="194.3" y="1265.1" width="6.3" height="3.1" fill="#0000ff"/><rect x="223.3" y="1238.6" width="6.3" height="6.3" fill="#fff" stroke="#0000ff" stroke-width="2.3"/><rect x="223.3" y="1238.6" width="6.3" height="3.1" fill="#0000ff"/><rect x="252.3" y="1210.2" width="6.3" height="6.3" fill="#fff" stroke="#0000ff" stroke-width="2.3"/><rect x="252.3" y="1210.2" width="6.3" height="3.1" fill="#0000ff"/><rect x="281.3" y="1141.1" width="6.3" height="6.3" fill="#fff" stroke="#0000ff" stroke-width="2.3"/><rect x="281.3" y="1141.1" width="6.3" height="3.1" fill="#0000ff"/><rect x="310.3" y="1081.1" width="6.3" height="6.3" fill="#fff" stroke="#0000ff" stroke-width="2.3"/><rect x="310.3" y="1081.1" width="6.3" height="3.1" fill="#0000ff"/><rect x="339.4" y="1051.9" width="6.3" height="6.3" fill="#fff" stroke="#0000ff" stroke-width="2.3"/><rect x="339.4" y="1051.9" width="6.3" height="3.1" fill="#0000ff"/>
<path d="M93.5,1298.5 L139.4,1293.5 L168.5,1278.3 L197.5,1234.5 L226.5,1193.9 L255.5,1120.8 L284.5,1081.8 L313.5,1057.1 L342.5,1049.0" fill="none" stroke="#ff0000" stroke-width="2.55" stroke-linejoin="round"/>
<circle cx="93.5" cy="1298.5" r="4.45" fill="#ff0000"/><circle cx="139.4" cy="1293.5" r="4.45" fill="#ff0000"/><circle cx="168.5" cy="1278.3" r="4.45" fill="#ff0000"/><circle cx="197.5" cy="1234.5" r="4.45" fill="#ff0000"/><circle cx="226.5" cy="1193.9" r="4.45" fill="#ff0000"/><circle cx="255.5" cy="1120.8" r="4.45" fill="#ff0000"/><circle cx="284.5" cy="1081.8" r="4.45" fill="#ff0000"/><circle cx="313.5" cy="1057.1" r="4.45" fill="#ff0000"/><circle cx="342.5" cy="1049.0" r="4.45" fill="#ff0000"/>
<path d="M93.5,1298.5 L139.4,1297.5 L168.5,1281.4 L197.5,1258.2 L226.5,1217.9 L255.5,1164.9 L284.5,1103.7 L313.5,1067.2 L342.5,1050.0" fill="none" stroke="#ff0000" stroke-width="2.55" stroke-linejoin="round"/>
<circle cx="93.5" cy="1298.5" r="3.3" fill="#fff" stroke="#ff0000" stroke-width="2.3"/><path d="M90.2,1298.5 A3.3,3.3 0 0 1 96.8,1298.5 Z" fill="#ff0000"/><circle cx="139.4" cy="1297.5" r="3.3" fill="#fff" stroke="#ff0000" stroke-width="2.3"/><path d="M136.1,1297.5 A3.3,3.3 0 0 1 142.7,1297.5 Z" fill="#ff0000"/><circle cx="168.5" cy="1281.4" r="3.3" fill="#fff" stroke="#ff0000" stroke-width="2.3"/><path d="M165.2,1281.4 A3.3,3.3 0 0 1 171.8,1281.4 Z" fill="#ff0000"/><circle cx="197.5" cy="1258.2" r="3.3" fill="#fff" stroke="#ff0000" stroke-width="2.3"/><path d="M194.2,1258.2 A3.3,3.3 0 0 1 200.8,1258.2 Z" fill="#ff0000"/><circle cx="226.5" cy="1217.9" r="3.3" fill="#fff" stroke="#ff0000" stroke-width="2.3"/><path d="M223.2,1217.9 A3.3,3.3 0 0 1 229.8,1217.9 Z" fill="#ff0000"/><circle cx="255.5" cy="1164.9" r="3.3" fill="#fff" stroke="#ff0000" stroke-width="2.3"/><path d="M252.2,1164.9 A3.3,3.3 0 0 1 258.8,1164.9 Z" fill="#ff0000"/><circle cx="284.5" cy="1103.7" r="3.3" fill="#fff" stroke="#ff0000" stroke-width="2.3"/><path d="M281.2,1103.7 A3.3,3.3 0 0 1 287.8,1103.7 Z" fill="#ff0000"/><circle cx="313.5" cy="1067.2" r="3.3" fill="#fff" stroke="#ff0000" stroke-width="2.3"/><path d="M310.2,1067.2 A3.3,3.3 0 0 1 316.8,1067.2 Z" fill="#ff0000"/><circle cx="342.5" cy="1050.0" r="3.3" fill="#fff" stroke="#ff0000" stroke-width="2.3"/><path d="M339.2,1050.0 A3.3,3.3 0 0 1 345.8,1050.0 Z" fill="#ff0000"/>
<path d="M93.5,1298.5 L139.4,1298.5 L168.5,1298.5 L197.5,1287.4 L226.5,1269.8 L255.5,1251.9 L284.5,1219.4 L313.5,1196.9 L342.5,1159.1" fill="none" stroke="#ff0000" stroke-width="2.55" stroke-linejoin="round"/>
<circle cx="93.5" cy="1298.5" r="3.3" fill="#fff" stroke="#ff0000" stroke-width="2.3"/><circle cx="139.4" cy="1298.5" r="3.3" fill="#fff" stroke="#ff0000" stroke-width="2.3"/><circle cx="168.5" cy="1298.5" r="3.3" fill="#fff" stroke="#ff0000" stroke-width="2.3"/><circle cx="197.5" cy="1287.4" r="3.3" fill="#fff" stroke="#ff0000" stroke-width="2.3"/><circle cx="226.5" cy="1269.8" r="3.3" fill="#fff" stroke="#ff0000" stroke-width="2.3"/><circle cx="255.5" cy="1251.9" r="3.3" fill="#fff" stroke="#ff0000" stroke-width="2.3"/><circle cx="284.5" cy="1219.4" r="3.3" fill="#fff" stroke="#ff0000" stroke-width="2.3"/><circle cx="313.5" cy="1196.9" r="3.3" fill="#fff" stroke="#ff0000" stroke-width="2.3"/><circle cx="342.5" cy="1159.1" r="3.3" fill="#fff" stroke="#ff0000" stroke-width="2.3"/>
<path d="M418.9,1174.0 H664.5999999999999" stroke="#000" stroke-width="1.5" stroke-dasharray="3.6,1.5" fill="none"/>
<path d="M417.4,1045.8 V1302.2 M407.9,1300.8 H667.9" stroke="#000" stroke-width="2.9" fill="none"/>
<path d="M407.9,1237.4 H417.4 M407.9,1174.0 H417.4 M407.9,1110.6 H417.4 M407.9,1047.2 H417.4 M417.4,1300.8 V1312.1 M458.9,1300.8 V1312.1 M500.5,1300.8 V1312.1 M542.0,1300.8 V1312.1 M583.5,1300.8 V1312.1 M625.1,1300.8 V1312.1 M666.6,1300.8 V1312.1 " stroke="#000" stroke-width="2.6" fill="none"/>
<path d="M429.9,1300.8 V1307.6 M437.2,1300.8 V1307.6 M442.4,1300.8 V1307.6 M446.4,1300.8 V1307.6 M449.7,1300.8 V1307.6 M452.5,1300.8 V1307.6 M454.9,1300.8 V1307.6 M457.0,1300.8 V1307.6 M471.4,1300.8 V1307.6 M478.7,1300.8 V1307.6 M483.9,1300.8 V1307.6 M488.0,1300.8 V1307.6 M491.3,1300.8 V1307.6 M494.0,1300.8 V1307.6 M496.4,1300.8 V1307.6 M498.6,1300.8 V1307.6 M513.0,1300.8 V1307.6 M520.3,1300.8 V1307.6 M525.5,1300.8 V1307.6 M529.5,1300.8 V1307.6 M532.8,1300.8 V1307.6 M535.6,1300.8 V1307.6 M538.0,1300.8 V1307.6 M540.1,1300.8 V1307.6 M554.5,1300.8 V1307.6 M561.8,1300.8 V1307.6 M567.0,1300.8 V1307.6 M571.0,1300.8 V1307.6 M574.3,1300.8 V1307.6 M577.1,1300.8 V1307.6 M579.5,1300.8 V1307.6 M581.6,1300.8 V1307.6 M596.0,1300.8 V1307.6 M603.3,1300.8 V1307.6 M608.5,1300.8 V1307.6 M612.6,1300.8 V1307.6 M615.9,1300.8 V1307.6 M618.6,1300.8 V1307.6 M621.0,1300.8 V1307.6 M623.2,1300.8 V1307.6 M637.6,1300.8 V1307.6 M644.9,1300.8 V1307.6 M650.1,1300.8 V1307.6 M654.1,1300.8 V1307.6 M657.4,1300.8 V1307.6 M660.2,1300.8 V1307.6 M662.6,1300.8 V1307.6 M664.7,1300.8 V1307.6 " stroke="#000" stroke-width="2.5" fill="none"/>
<text transform="translate(405.40,1310.70)" font-size="30" text-anchor="end" textLength="12.40" lengthAdjust="spacingAndGlyphs">0</text>
<text transform="translate(405.40,1247.30)" font-size="30" text-anchor="end" textLength="24.90" lengthAdjust="spacingAndGlyphs">25</text>
<text transform="translate(405.40,1183.90)" font-size="30" text-anchor="end" textLength="24.90" lengthAdjust="spacingAndGlyphs">50</text>
<text transform="translate(405.40,1120.50)" font-size="30" text-anchor="end" textLength="24.90" lengthAdjust="spacingAndGlyphs">75</text>
<text transform="translate(405.40,1057.10)" font-size="30" text-anchor="end" textLength="37.30" lengthAdjust="spacingAndGlyphs">100</text>
<text transform="translate(395.60,1336.10) scale(0.76,1)" font-size="30">10<tspan dy="-9.7" font-size="18.5">-3</tspan></text>
<text transform="translate(437.13,1336.10) scale(0.76,1)" font-size="30">10<tspan dy="-9.7" font-size="18.5">-2</tspan></text>
<text transform="translate(478.67,1336.10) scale(0.76,1)" font-size="30">10<tspan dy="-9.7" font-size="18.5">-1</tspan></text>
<text transform="translate(520.20,1336.10) scale(0.76,1)" font-size="30">10<tspan dy="-9.7" font-size="18.5">0</tspan></text>
<text transform="translate(561.73,1336.10) scale(0.76,1)" font-size="30">10<tspan dy="-9.7" font-size="18.5">1</tspan></text>
<text transform="translate(603.27,1336.10) scale(0.76,1)" font-size="30">10<tspan dy="-9.7" font-size="18.5">2</tspan></text>
<text transform="translate(644.80,1336.10) scale(0.76,1)" font-size="30">10<tspan dy="-9.7" font-size="18.5">3</tspan></text>
<text transform="translate(542.70,1364.20)" font-size="28.6" text-anchor="middle" textLength="261.00" lengthAdjust="spacingAndGlyphs">Ab concentration (ng/mL)</text>
<text transform="translate(548.50,1027.80)" font-size="24.3" text-anchor="middle" textLength="198.00" lengthAdjust="spacingAndGlyphs">SHIV-AE16 (clade AE)</text>
<path d="M417.4,1300.8 L463.4,1300.8 L492.4,1300.8 L521.4,1300.8 L550.5,1300.8 L579.5,1281.5 L608.5,1247.0 L637.6,1185.4 L666.6,1142.8" fill="none" stroke="#000000" stroke-width="2.55" stroke-linejoin="round"/>
<polygon points="417.4,1294.4 422.7,1304.2 412.1,1304.2" fill="#000000" stroke="#000000" stroke-width="1.95" stroke-linejoin="miter"/><polygon points="463.4,1294.4 468.7,1304.2 458.1,1304.2" fill="#000000" stroke="#000000" stroke-width="1.95" stroke-linejoin="miter"/><polygon points="492.4,1294.4 497.7,1304.2 487.1,1304.2" fill="#000000" stroke="#000000" stroke-width="1.95" stroke-linejoin="miter"/><polygon points="521.4,1294.4 526.7,1304.2 516.1,1304.2" fill="#000000" stroke="#000000" stroke-width="1.95" stroke-linejoin="miter"/><polygon points="550.5,1294.4 555.8,1304.2 545.2,1304.2" fill="#000000" stroke="#000000" stroke-width="1.95" stroke-linejoin="miter"/><polygon points="579.5,1275.1 584.8,1284.9 574.2,1284.9" fill="#000000" stroke="#000000" stroke-width="1.95" stroke-linejoin="miter"/><polygon points="608.5,1240.6 613.8,1250.4 603.2,1250.4" fill="#000000" stroke="#000000" stroke-width="1.95" stroke-linejoin="miter"/><polygon points="637.6,1179.0 642.9,1188.8 632.3,1188.8" fill="#000000" stroke="#000000" stroke-width="1.95" stroke-linejoin="miter"/><polygon points="666.6,1136.4 671.9,1146.2 661.3,1146.2" fill="#000000" stroke="#000000" stroke-width="1.95" stroke-linejoin="miter"/>
<path d="M417.4,1300.8 L463.4,1300.8 L492.4,1300.8 L521.4,1300.8 L550.5,1300.8 L579.5,1300.8 L608.5,1269.4 L637.6,1236.9 L666.6,1170.2" fill="none" stroke="#000000" stroke-width="2.55" stroke-linejoin="round"/>
<polygon points="417.4,1294.4 422.7,1304.2 412.1,1304.2" fill="#fff" stroke="#000000" stroke-width="1.95"/><polygon points="463.4,1294.4 468.7,1304.2 458.1,1304.2" fill="#fff" stroke="#000000" stroke-width="1.95"/><polygon points="492.4,1294.4 497.7,1304.2 487.1,1304.2" fill="#fff" stroke="#000000" stroke-width="1.95"/><polygon points="521.4,1294.4 526.7,1304.2 516.1,1304.2" fill="#fff" stroke="#000000" stroke-width="1.95"/><polygon points="550.5,1294.4 555.8,1304.2 545.2,1304.2" fill="#fff" stroke="#000000" stroke-width="1.95"/><polygon points="579.5,1294.4 584.8,1304.2 574.2,1304.2" fill="#fff" stroke="#000000" stroke-width="1.95"/><polygon points="608.5,1263.0 613.8,1272.8 603.2,1272.8" fill="#fff" stroke="#000000" stroke-width="1.95"/><polygon points="637.6,1230.5 642.9,1240.3 632.3,1240.3" fill="#fff" stroke="#000000" stroke-width="1.95"/><polygon points="666.6,1163.8 671.9,1173.6 661.3,1173.6" fill="#fff" stroke="#000000" stroke-width="1.95"/>
<path d="M417.4,1300.8 L463.4,1300.8 L492.4,1300.8 L521.4,1300.8 L550.5,1287.6 L579.5,1250.1 L608.5,1219.6 L637.6,1151.9 L666.6,1109.3" fill="none" stroke="#000000" stroke-width="2.55" stroke-linejoin="round"/>
<polygon points="417.4,1294.4 422.7,1304.2 412.1,1304.2" fill="#fff" stroke="#000000" stroke-width="1.95"/><polygon points="417.4,1294.4 417.4,1304.2 412.1,1304.2" fill="#000000"/><polygon points="463.4,1294.4 468.7,1304.2 458.1,1304.2" fill="#fff" stroke="#000000" stroke-width="1.95"/><polygon points="463.4,1294.4 463.4,1304.2 458.1,1304.2" fill="#000000"/><polygon points="492.4,1294.4 497.7,1304.2 487.1,1304.2" fill="#fff" stroke="#000000" stroke-width="1.95"/><polygon points="492.4,1294.4 492.4,1304.2 487.1,1304.2" fill="#000000"/><polygon points="521.4,1294.4 526.7,1304.2 516.1,1304.2" fill="#fff" stroke="#000000" stroke-width="1.95"/><polygon points="521.4,1294.4 521.4,1304.2 516.1,1304.2" fill="#000000"/><polygon points="550.5,1281.2 555.8,1291.0 545.2,1291.0" fill="#fff" stroke="#000000" stroke-width="1.95"/><polygon points="550.5,1281.2 550.5,1291.0 545.2,1291.0" fill="#000000"/><polygon points="579.5,1243.7 584.8,1253.5 574.2,1253.5" fill="#fff" stroke="#000000" stroke-width="1.95"/><polygon points="579.5,1243.7 579.5,1253.5 574.2,1253.5" fill="#000000"/><polygon points="608.5,1213.2 613.8,1223.0 603.2,1223.0" fill="#fff" stroke="#000000" stroke-width="1.95"/><polygon points="608.5,1213.2 608.5,1223.0 603.2,1223.0" fill="#000000"/><polygon points="637.6,1145.5 642.9,1155.3 632.3,1155.3" fill="#fff" stroke="#000000" stroke-width="1.95"/><polygon points="637.6,1145.5 637.6,1155.3 632.3,1155.3" fill="#000000"/><polygon points="666.6,1102.9 671.9,1112.7 661.3,1112.7" fill="#fff" stroke="#000000" stroke-width="1.95"/><polygon points="666.6,1102.9 666.6,1112.7 661.3,1112.7" fill="#000000"/>
<path d="M417.4,1300.8 L463.4,1300.8 L492.4,1300.8 L521.4,1300.8 L550.5,1300.8 L579.5,1300.8 L608.5,1300.8 L637.6,1300.8 L666.6,1233.8" fill="none" stroke="#0000ff" stroke-width="2.55" stroke-linejoin="round"/>
<rect x="413.1" y="1296.5" width="8.6" height="8.6" fill="#0000ff"/><rect x="459.1" y="1296.5" width="8.6" height="8.6" fill="#0000ff"/><rect x="488.1" y="1296.5" width="8.6" height="8.6" fill="#0000ff"/><rect x="517.1" y="1296.5" width="8.6" height="8.6" fill="#0000ff"/><rect x="546.2" y="1296.5" width="8.6" height="8.6" fill="#0000ff"/><rect x="575.2" y="1296.5" width="8.6" height="8.6" fill="#0000ff"/><rect x="604.2" y="1296.5" width="8.6" height="8.6" fill="#0000ff"/><rect x="633.3" y="1296.5" width="8.6" height="8.6" fill="#0000ff"/><rect x="662.3" y="1229.5" width="8.6" height="8.6" fill="#0000ff"/>
<path d="M417.4,1300.8 L463.4,1300.8 L492.4,1300.8 L521.4,1300.8 L550.5,1300.8 L579.5,1300.8 L608.5,1300.8 L637.6,1300.8 L666.6,1276.5" fill="none" stroke="#0000ff" stroke-width="2.55" stroke-linejoin="round"/>
<rect x="414.2" y="1297.6" width="6.3" height="6.3" fill="#fff" stroke="#0000ff" stroke-width="2.3"/><rect x="460.2" y="1297.6" width="6.3" height="6.3" fill="#fff" stroke="#0000ff" stroke-width="2.3"/><rect x="489.3" y="1297.6" width="6.3" height="6.3" fill="#fff" stroke="#0000ff" stroke-width="2.3"/><rect x="518.3" y="1297.6" width="6.3" height="6.3" fill="#fff" stroke="#0000ff" stroke-width="2.3"/><rect x="547.3" y="1297.6" width="6.3" height="6.3" fill="#fff" stroke="#0000ff" stroke-width="2.3"/><rect x="576.4" y="1297.6" width="6.3" height="6.3" fill="#fff" stroke="#0000ff" stroke-width="2.3"/><rect x="605.4" y="1297.6" width="6.3" height="6.3" fill="#fff" stroke="#0000ff" stroke-width="2.3"/><rect x="634.4" y="1297.6" width="6.3" height="6.3" fill="#fff" stroke="#0000ff" stroke-width="2.3"/><rect x="663.4" y="1273.3" width="6.3" height="6.3" fill="#fff" stroke="#0000ff" stroke-width="2.3"/>
<path d="M417.4,1300.8 L463.4,1300.8 L492.4,1300.8 L521.4,1300.8 L550.5,1300.8 L579.5,1300.8 L608.5,1271.4 L637.6,1219.6 L666.6,1163.9" fill="none" stroke="#0000ff" stroke-width="2.55" stroke-linejoin="round"/>
<rect x="414.2" y="1297.6" width="6.3" height="6.3" fill="#fff" stroke="#0000ff" stroke-width="2.3"/><rect x="414.2" y="1297.6" width="6.3" height="3.1" fill="#0000ff"/><rect x="460.2" y="1297.6" width="6.3" height="6.3" fill="#fff" stroke="#0000ff" stroke-width="2.3"/><rect x="460.2" y="1297.6" width="6.3" height="3.1" fill="#0000ff"/><rect x="489.3" y="1297.6" width="6.3" height="6.3" fill="#fff" stroke="#0000ff" stroke-width="2.3"/><rect x="489.3" y="1297.6" width="6.3" height="3.1" fill="#0000ff"/><rect x="518.3" y="1297.6" width="6.3" height="6.3" fill="#fff" stroke="#0000ff" stroke-width="2.3"/><rect x="518.3" y="1297.6" width="6.3" height="3.1" fill="#0000ff"/><rect x="547.3" y="1297.6" width="6.3" height="6.3" fill="#fff" stroke="#0000ff" stroke-width="2.3"/><rect x="547.3" y="1297.6" width="6.3" height="3.1" fill="#0000ff"/><rect x="576.4" y="1297.6" width="6.3" height="6.3" fill="#fff" stroke="#0000ff" stroke-width="2.3"/><rect x="576.4" y="1297.6" width="6.3" height="3.1" fill="#0000ff"/><rect x="605.4" y="1268.2" width="6.3" height="6.3" fill="#fff" stroke="#0000ff" stroke-width="2.3"/><rect x="605.4" y="1268.2" width="6.3" height="3.1" fill="#0000ff"/><rect x="634.4" y="1216.5" width="6.3" height="6.3" fill="#fff" stroke="#0000ff" stroke-width="2.3"/><rect x="634.4" y="1216.5" width="6.3" height="3.1" fill="#0000ff"/><rect x="663.4" y="1160.7" width="6.3" height="6.3" fill="#fff" stroke="#0000ff" stroke-width="2.3"/><rect x="663.4" y="1160.7" width="6.3" height="3.1" fill="#0000ff"/>
<path d="M417.4,1300.8 L463.4,1300.8 L492.4,1300.8 L521.4,1300.8 L550.5,1300.8 L579.5,1300.8 L608.5,1303.3 L637.6,1300.8 L666.6,1267.3" fill="none" stroke="#ff0000" stroke-width="2.55" stroke-linejoin="round"/>
<circle cx="417.4" cy="1300.8" r="4.45" fill="#ff0000"/><circle cx="463.4" cy="1300.8" r="4.45" fill="#ff0000"/><circle cx="492.4" cy="1300.8" r="4.45" fill="#ff0000"/><circle cx="521.4" cy="1300.8" r="4.45" fill="#ff0000"/><circle cx="550.5" cy="1300.8" r="4.45" fill="#ff0000"/><circle cx="579.5" cy="1300.8" r="4.45" fill="#ff0000"/><circle cx="608.5" cy="1303.3" r="4.45" fill="#ff0000"/><circle cx="637.6" cy="1300.8" r="4.45" fill="#ff0000"/><circle cx="666.6" cy="1267.3" r="4.45" fill="#ff0000"/>
<path d="M417.4,1300.8 L463.4,1300.8 L492.4,1300.8 L521.4,1300.8 L550.5,1300.8 L579.5,1300.8 L608.5,1300.8 L637.6,1300.8 L666.6,1289.6" fill="none" stroke="#ff0000" stroke-width="2.55" stroke-linejoin="round"/>
<circle cx="417.4" cy="1300.8" r="3.3" fill="#fff" stroke="#ff0000" stroke-width="2.3"/><path d="M414.1,1300.8 A3.3,3.3 0 0 1 420.7,1300.8 Z" fill="#ff0000"/><circle cx="463.4" cy="1300.8" r="3.3" fill="#fff" stroke="#ff0000" stroke-width="2.3"/><path d="M460.1,1300.8 A3.3,3.3 0 0 1 466.7,1300.8 Z" fill="#ff0000"/><circle cx="492.4" cy="1300.8" r="3.3" fill="#fff" stroke="#ff0000" stroke-width="2.3"/><path d="M489.1,1300.8 A3.3,3.3 0 0 1 495.7,1300.8 Z" fill="#ff0000"/><circle cx="521.4" cy="1300.8" r="3.3" fill="#fff" stroke="#ff0000" stroke-width="2.3"/><path d="M518.1,1300.8 A3.3,3.3 0 0 1 524.7,1300.8 Z" fill="#ff0000"/><circle cx="550.5" cy="1300.8" r="3.3" fill="#fff" stroke="#ff0000" stroke-width="2.3"/><path d="M547.2,1300.8 A3.3,3.3 0 0 1 553.8,1300.8 Z" fill="#ff0000"/><circle cx="579.5" cy="1300.8" r="3.3" fill="#fff" stroke="#ff0000" stroke-width="2.3"/><path d="M576.2,1300.8 A3.3,3.3 0 0 1 582.8,1300.8 Z" fill="#ff0000"/><circle cx="608.5" cy="1300.8" r="3.3" fill="#fff" stroke="#ff0000" stroke-width="2.3"/><path d="M605.2,1300.8 A3.3,3.3 0 0 1 611.8,1300.8 Z" fill="#ff0000"/><circle cx="637.6" cy="1300.8" r="3.3" fill="#fff" stroke="#ff0000" stroke-width="2.3"/><path d="M634.3,1300.8 A3.3,3.3 0 0 1 640.9,1300.8 Z" fill="#ff0000"/><circle cx="666.6" cy="1289.6" r="3.3" fill="#fff" stroke="#ff0000" stroke-width="2.3"/><path d="M663.3,1289.6 A3.3,3.3 0 0 1 669.9,1289.6 Z" fill="#ff0000"/>
<path d="M417.4,1300.8 L463.4,1300.8 L492.4,1300.8 L521.4,1300.8 L550.5,1300.8 L579.5,1300.8 L608.5,1296.7 L637.6,1300.8 L666.6,1300.8" fill="none" stroke="#ff0000" stroke-width="2.55" stroke-linejoin="round"/>
<circle cx="417.4" cy="1300.8" r="3.3" fill="#fff" stroke="#ff0000" stroke-width="2.3"/><circle cx="463.4" cy="1300.8" r="3.3" fill="#fff" stroke="#ff0000" stroke-width="2.3"/><circle cx="492.4" cy="1300.8" r="3.3" fill="#fff" stroke="#ff0000" stroke-width="2.3"/><circle cx="521.4" cy="1300.8" r="3.3" fill="#fff" stroke="#ff0000" stroke-width="2.3"/><circle cx="550.5" cy="1300.8" r="3.3" fill="#fff" stroke="#ff0000" stroke-width="2.3"/><circle cx="579.5" cy="1300.8" r="3.3" fill="#fff" stroke="#ff0000" stroke-width="2.3"/><circle cx="608.5" cy="1296.7" r="3.3" fill="#fff" stroke="#ff0000" stroke-width="2.3"/><circle cx="637.6" cy="1300.8" r="3.3" fill="#fff" stroke="#ff0000" stroke-width="2.3"/><circle cx="666.6" cy="1300.8" r="3.3" fill="#fff" stroke="#ff0000" stroke-width="2.3"/>
<path d="M1129.2,791.2 H1374.8" stroke="#000" stroke-width="1.5" stroke-dasharray="3.6,1.5" fill="none"/>
<path d="M1127.7,664.1 V918.4 M1118.2,917.0 H1378.1" stroke="#000" stroke-width="2.9" fill="none"/>
<path d="M1118.2,854.1 H1127.7 M1118.2,791.2 H1127.7 M1118.2,728.4 H1127.7 M1118.2,665.5 H1127.7 M1127.7,917.0 V928.3 M1177.5,917.0 V928.3 M1227.3,917.0 V928.3 M1277.2,917.0 V928.3 M1327.0,917.0 V928.3 M1376.8,917.0 V928.3 " stroke="#000" stroke-width="2.6" fill="none"/>
<path d="M1142.7,917.0 V923.8 M1151.5,917.0 V923.8 M1157.7,917.0 V923.8 M1162.5,917.0 V923.8 M1166.5,917.0 V923.8 M1169.8,917.0 V923.8 M1172.7,917.0 V923.8 M1175.2,917.0 V923.8 M1192.5,917.0 V923.8 M1201.3,917.0 V923.8 M1207.5,917.0 V923.8 M1212.3,917.0 V923.8 M1216.3,917.0 V923.8 M1219.6,917.0 V923.8 M1222.5,917.0 V923.8 M1225.1,917.0 V923.8 M1242.3,917.0 V923.8 M1251.1,917.0 V923.8 M1257.3,917.0 V923.8 M1262.2,917.0 V923.8 M1266.1,917.0 V923.8 M1269.4,917.0 V923.8 M1272.3,917.0 V923.8 M1274.9,917.0 V923.8 M1292.2,917.0 V923.8 M1300.9,917.0 V923.8 M1307.2,917.0 V923.8 M1312.0,917.0 V923.8 M1315.9,917.0 V923.8 M1319.3,917.0 V923.8 M1322.2,917.0 V923.8 M1324.7,917.0 V923.8 M1342.0,917.0 V923.8 M1350.8,917.0 V923.8 M1357.0,917.0 V923.8 M1361.8,917.0 V923.8 M1365.7,917.0 V923.8 M1369.1,917.0 V923.8 M1372.0,917.0 V923.8 M1374.5,917.0 V923.8 " stroke="#000" stroke-width="2.5" fill="none"/>
<text transform="translate(1115.70,926.90)" font-size="30" text-anchor="end" textLength="12.40" lengthAdjust="spacingAndGlyphs">0</text>
<text transform="translate(1115.70,864.02)" font-size="30" text-anchor="end" textLength="24.90" lengthAdjust="spacingAndGlyphs">25</text>
<text transform="translate(1115.70,801.15)" font-size="30" text-anchor="end" textLength="24.90" lengthAdjust="spacingAndGlyphs">50</text>
<text transform="translate(1115.70,738.27)" font-size="30" text-anchor="end" textLength="24.90" lengthAdjust="spacingAndGlyphs">75</text>
<text transform="translate(1115.70,675.40)" font-size="30" text-anchor="end" textLength="37.30" lengthAdjust="spacingAndGlyphs">100</text>
<text transform="translate(1105.90,952.30) scale(0.76,1)" font-size="30">10<tspan dy="-9.7" font-size="18.5">-2</tspan></text>
<text transform="translate(1155.72,952.30) scale(0.76,1)" font-size="30">10<tspan dy="-9.7" font-size="18.5">-1</tspan></text>
<text transform="translate(1205.54,952.30) scale(0.76,1)" font-size="30">10<tspan dy="-9.7" font-size="18.5">0</tspan></text>
<text transform="translate(1255.36,952.30) scale(0.76,1)" font-size="30">10<tspan dy="-9.7" font-size="18.5">1</tspan></text>
<text transform="translate(1305.18,952.30) scale(0.76,1)" font-size="30">10<tspan dy="-9.7" font-size="18.5">2</tspan></text>
<text transform="translate(1355.00,952.30) scale(0.76,1)" font-size="30">10<tspan dy="-9.7" font-size="18.5">3</tspan></text>
<text transform="translate(1252.95,980.40)" font-size="28.6" text-anchor="middle" textLength="261.00" lengthAdjust="spacingAndGlyphs">Ab concentration (ng/mL)</text>
<text transform="translate(1245.50,645.10)" font-size="24.3" text-anchor="middle" textLength="237.00" lengthAdjust="spacingAndGlyphs">HIV-1 92/RW/024 (clade A)</text>
<text transform="translate(1071.70,789.95) rotate(-90)" font-size="29.5" text-anchor="middle" textLength="224.00" lengthAdjust="spacingAndGlyphs">Neutralization (%)</text>
<path d="M1127.7,917.0 L1167.9,917.0 L1202.7,917.0 L1237.5,914.5 L1272.3,891.9 L1307.2,832.7 L1342.0,764.1 L1376.8,711.5" fill="none" stroke="#000000" stroke-width="2.55" stroke-linejoin="round"/>
<polygon points="1127.7,910.6 1133.0,920.4 1122.4,920.4" fill="#000000" stroke="#000000" stroke-width="1.95" stroke-linejoin="miter"/><polygon points="1167.9,910.6 1173.2,920.4 1162.6,920.4" fill="#000000" stroke="#000000" stroke-width="1.95" stroke-linejoin="miter"/><polygon points="1202.7,910.6 1208.0,920.4 1197.4,920.4" fill="#000000" stroke="#000000" stroke-width="1.95" stroke-linejoin="miter"/><polygon points="1237.5,908.1 1242.8,917.9 1232.2,917.9" fill="#000000" stroke="#000000" stroke-width="1.95" stroke-linejoin="miter"/><polygon points="1272.3,885.5 1277.6,895.2 1267.0,895.2" fill="#000000" stroke="#000000" stroke-width="1.95" stroke-linejoin="miter"/><polygon points="1307.2,826.3 1312.5,836.1 1301.9,836.1" fill="#000000" stroke="#000000" stroke-width="1.95" stroke-linejoin="miter"/><polygon points="1342.0,757.7 1347.3,767.5 1336.7,767.5" fill="#000000" stroke="#000000" stroke-width="1.95" stroke-linejoin="miter"/><polygon points="1376.8,705.1 1382.1,714.9 1371.5,714.9" fill="#000000" stroke="#000000" stroke-width="1.95" stroke-linejoin="miter"/>
<path d="M1127.7,917.0 L1167.9,915.7 L1202.7,914.5 L1237.5,913.2 L1272.3,881.3 L1307.2,812.6 L1342.0,727.6 L1376.8,704.5" fill="none" stroke="#000000" stroke-width="2.55" stroke-linejoin="round"/>
<polygon points="1127.7,910.6 1133.0,920.4 1122.4,920.4" fill="#fff" stroke="#000000" stroke-width="1.95"/><polygon points="1167.9,909.3 1173.2,919.1 1162.6,919.1" fill="#fff" stroke="#000000" stroke-width="1.95"/><polygon points="1202.7,908.1 1208.0,917.9 1197.4,917.9" fill="#fff" stroke="#000000" stroke-width="1.95"/><polygon points="1237.5,906.8 1242.8,916.6 1232.2,916.6" fill="#fff" stroke="#000000" stroke-width="1.95"/><polygon points="1272.3,874.9 1277.6,884.7 1267.0,884.7" fill="#fff" stroke="#000000" stroke-width="1.95"/><polygon points="1307.2,806.2 1312.5,816.0 1301.9,816.0" fill="#fff" stroke="#000000" stroke-width="1.95"/><polygon points="1342.0,721.2 1347.3,731.0 1336.7,731.0" fill="#fff" stroke="#000000" stroke-width="1.95"/><polygon points="1376.8,698.1 1382.1,707.9 1371.5,707.9" fill="#fff" stroke="#000000" stroke-width="1.95"/>
<path d="M1127.7,917.0 L1167.9,914.5 L1202.7,912.0 L1237.5,906.4 L1272.3,790.2 L1307.2,703.2 L1342.0,674.3 L1376.8,669.0" fill="none" stroke="#000000" stroke-width="2.55" stroke-linejoin="round"/>
<polygon points="1127.7,910.6 1133.0,920.4 1122.4,920.4" fill="#fff" stroke="#000000" stroke-width="1.95"/><polygon points="1127.7,910.6 1127.7,920.4 1122.4,920.4" fill="#000000"/><polygon points="1167.9,908.1 1173.2,917.9 1162.6,917.9" fill="#fff" stroke="#000000" stroke-width="1.95"/><polygon points="1167.9,908.1 1167.9,917.9 1162.6,917.9" fill="#000000"/><polygon points="1202.7,905.6 1208.0,915.4 1197.4,915.4" fill="#fff" stroke="#000000" stroke-width="1.95"/><polygon points="1202.7,905.6 1202.7,915.4 1197.4,915.4" fill="#000000"/><polygon points="1237.5,900.0 1242.8,909.8 1232.2,909.8" fill="#fff" stroke="#000000" stroke-width="1.95"/><polygon points="1237.5,900.0 1237.5,909.8 1232.2,909.8" fill="#000000"/><polygon points="1272.3,783.8 1277.6,793.6 1267.0,793.6" fill="#fff" stroke="#000000" stroke-width="1.95"/><polygon points="1272.3,783.8 1272.3,793.6 1267.0,793.6" fill="#000000"/><polygon points="1307.2,696.8 1312.5,706.6 1301.9,706.6" fill="#fff" stroke="#000000" stroke-width="1.95"/><polygon points="1307.2,696.8 1307.2,706.6 1301.9,706.6" fill="#000000"/><polygon points="1342.0,667.9 1347.3,677.7 1336.7,677.7" fill="#fff" stroke="#000000" stroke-width="1.95"/><polygon points="1342.0,667.9 1342.0,677.7 1336.7,677.7" fill="#000000"/><polygon points="1376.8,662.6 1382.1,672.4 1371.5,672.4" fill="#fff" stroke="#000000" stroke-width="1.95"/><polygon points="1376.8,662.6 1376.8,672.4 1371.5,672.4" fill="#000000"/>
<path d="M1127.7,917.0 L1167.9,917.0 L1202.7,917.0 L1237.5,917.0 L1272.3,915.7 L1307.2,899.4 L1342.0,788.7 L1376.8,714.5" fill="none" stroke="#0000ff" stroke-width="2.55" stroke-linejoin="round"/>
<rect x="1123.4" y="912.7" width="8.6" height="8.6" fill="#0000ff"/><rect x="1163.6" y="912.7" width="8.6" height="8.6" fill="#0000ff"/><rect x="1198.4" y="912.7" width="8.6" height="8.6" fill="#0000ff"/><rect x="1233.2" y="912.7" width="8.6" height="8.6" fill="#0000ff"/><rect x="1268.0" y="911.4" width="8.6" height="8.6" fill="#0000ff"/><rect x="1302.9" y="895.1" width="8.6" height="8.6" fill="#0000ff"/><rect x="1337.7" y="784.4" width="8.6" height="8.6" fill="#0000ff"/><rect x="1372.5" y="710.2" width="8.6" height="8.6" fill="#0000ff"/>
<path d="M1127.7,917.0 L1167.9,917.0 L1202.7,917.0 L1237.5,917.0 L1272.3,914.5 L1307.2,879.3 L1342.0,796.3 L1376.8,784.2" fill="none" stroke="#0000ff" stroke-width="2.55" stroke-linejoin="round"/>
<rect x="1124.5" y="913.9" width="6.3" height="6.3" fill="#fff" stroke="#0000ff" stroke-width="2.3"/><rect x="1164.7" y="913.9" width="6.3" height="6.3" fill="#fff" stroke="#0000ff" stroke-width="2.3"/><rect x="1199.5" y="913.9" width="6.3" height="6.3" fill="#fff" stroke="#0000ff" stroke-width="2.3"/><rect x="1234.4" y="913.9" width="6.3" height="6.3" fill="#fff" stroke="#0000ff" stroke-width="2.3"/><rect x="1269.2" y="911.3" width="6.3" height="6.3" fill="#fff" stroke="#0000ff" stroke-width="2.3"/><rect x="1304.0" y="876.1" width="6.3" height="6.3" fill="#fff" stroke="#0000ff" stroke-width="2.3"/><rect x="1338.8" y="793.1" width="6.3" height="6.3" fill="#fff" stroke="#0000ff" stroke-width="2.3"/><rect x="1373.6" y="781.1" width="6.3" height="6.3" fill="#fff" stroke="#0000ff" stroke-width="2.3"/>
<path d="M1127.7,917.0 L1167.9,917.0 L1202.7,917.0 L1237.5,917.0 L1272.3,901.4 L1307.2,810.6 L1342.0,715.8 L1376.8,685.6" fill="none" stroke="#0000ff" stroke-width="2.55" stroke-linejoin="round"/>
<rect x="1124.5" y="913.9" width="6.3" height="6.3" fill="#fff" stroke="#0000ff" stroke-width="2.3"/><rect x="1124.5" y="913.9" width="6.3" height="3.1" fill="#0000ff"/><rect x="1164.7" y="913.9" width="6.3" height="6.3" fill="#fff" stroke="#0000ff" stroke-width="2.3"/><rect x="1164.7" y="913.9" width="6.3" height="3.1" fill="#0000ff"/><rect x="1199.5" y="913.9" width="6.3" height="6.3" fill="#fff" stroke="#0000ff" stroke-width="2.3"/><rect x="1199.5" y="913.9" width="6.3" height="3.1" fill="#0000ff"/><rect x="1234.4" y="913.9" width="6.3" height="6.3" fill="#fff" stroke="#0000ff" stroke-width="2.3"/><rect x="1234.4" y="913.9" width="6.3" height="3.1" fill="#0000ff"/><rect x="1269.2" y="898.3" width="6.3" height="6.3" fill="#fff" stroke="#0000ff" stroke-width="2.3"/><rect x="1269.2" y="898.3" width="6.3" height="3.1" fill="#0000ff"/><rect x="1304.0" y="807.5" width="6.3" height="6.3" fill="#fff" stroke="#0000ff" stroke-width="2.3"/><rect x="1304.0" y="807.5" width="6.3" height="3.1" fill="#0000ff"/><rect x="1338.8" y="712.6" width="6.3" height="6.3" fill="#fff" stroke="#0000ff" stroke-width="2.3"/><rect x="1338.8" y="712.6" width="6.3" height="3.1" fill="#0000ff"/><rect x="1373.6" y="682.5" width="6.3" height="6.3" fill="#fff" stroke="#0000ff" stroke-width="2.3"/><rect x="1373.6" y="682.5" width="6.3" height="3.1" fill="#0000ff"/>
<path d="M1127.7,917.0 L1167.9,917.0 L1202.7,917.0 L1237.5,909.5 L1272.3,915.7 L1307.2,917.0 L1342.0,913.5 L1376.8,805.6" fill="none" stroke="#ff0000" stroke-width="2.55" stroke-linejoin="round"/>
<circle cx="1127.7" cy="917.0" r="3.6" fill="#ff0000"/><circle cx="1167.9" cy="917.0" r="3.6" fill="#ff0000"/><circle cx="1202.7" cy="917.0" r="3.6" fill="#ff0000"/><circle cx="1237.5" cy="909.5" r="3.6" fill="#ff0000"/><circle cx="1272.3" cy="915.7" r="3.6" fill="#ff0000"/><circle cx="1307.2" cy="917.0" r="3.6" fill="#ff0000"/><circle cx="1342.0" cy="913.5" r="3.6" fill="#ff0000"/><circle cx="1376.8" cy="805.6" r="3.6" fill="#ff0000"/>
<path d="M1127.7,917.0 L1167.9,917.0 L1202.7,914.5 L1237.5,912.0 L1272.3,917.0 L1307.2,915.7 L1342.0,904.4 L1376.8,875.3" fill="none" stroke="#ff0000" stroke-width="2.55" stroke-linejoin="round"/>
<circle cx="1127.7" cy="917.0" r="3.3" fill="#fff" stroke="#ff0000" stroke-width="2.3"/><path d="M1124.4,917.0 A3.3,3.3 0 0 1 1131.0,917.0 Z" fill="#ff0000"/><circle cx="1167.9" cy="917.0" r="3.3" fill="#fff" stroke="#ff0000" stroke-width="2.3"/><path d="M1164.6,917.0 A3.3,3.3 0 0 1 1171.2,917.0 Z" fill="#ff0000"/><circle cx="1202.7" cy="914.5" r="3.3" fill="#fff" stroke="#ff0000" stroke-width="2.3"/><path d="M1199.4,914.5 A3.3,3.3 0 0 1 1206.0,914.5 Z" fill="#ff0000"/><circle cx="1237.5" cy="912.0" r="3.3" fill="#fff" stroke="#ff0000" stroke-width="2.3"/><path d="M1234.2,912.0 A3.3,3.3 0 0 1 1240.8,912.0 Z" fill="#ff0000"/><circle cx="1272.3" cy="917.0" r="3.3" fill="#fff" stroke="#ff0000" stroke-width="2.3"/><path d="M1269.0,917.0 A3.3,3.3 0 0 1 1275.6,917.0 Z" fill="#ff0000"/><circle cx="1307.2" cy="915.7" r="3.3" fill="#fff" stroke="#ff0000" stroke-width="2.3"/><path d="M1303.9,915.7 A3.3,3.3 0 0 1 1310.5,915.7 Z" fill="#ff0000"/><circle cx="1342.0" cy="904.4" r="3.3" fill="#fff" stroke="#ff0000" stroke-width="2.3"/><path d="M1338.7,904.4 A3.3,3.3 0 0 1 1345.3,904.4 Z" fill="#ff0000"/><circle cx="1376.8" cy="875.3" r="3.3" fill="#fff" stroke="#ff0000" stroke-width="2.3"/><path d="M1373.5,875.3 A3.3,3.3 0 0 1 1380.1,875.3 Z" fill="#ff0000"/>
<path d="M1127.7,917.0 L1167.9,917.0 L1202.7,914.5 L1237.5,917.0 L1272.3,915.7 L1307.2,900.4 L1342.0,888.3 L1376.8,901.4" fill="none" stroke="#ff0000" stroke-width="2.55" stroke-linejoin="round"/>
<circle cx="1127.7" cy="917.0" r="3.3" fill="#fff" stroke="#ff0000" stroke-width="2.3"/><circle cx="1167.9" cy="917.0" r="3.3" fill="#fff" stroke="#ff0000" stroke-width="2.3"/><circle cx="1202.7" cy="914.5" r="3.3" fill="#fff" stroke="#ff0000" stroke-width="2.3"/><circle cx="1237.5" cy="917.0" r="3.3" fill="#fff" stroke="#ff0000" stroke-width="2.3"/><circle cx="1272.3" cy="915.7" r="3.3" fill="#fff" stroke="#ff0000" stroke-width="2.3"/><circle cx="1307.2" cy="900.4" r="3.3" fill="#fff" stroke="#ff0000" stroke-width="2.3"/><circle cx="1342.0" cy="888.3" r="3.3" fill="#fff" stroke="#ff0000" stroke-width="2.3"/><circle cx="1376.8" cy="901.4" r="3.3" fill="#fff" stroke="#ff0000" stroke-width="2.3"/>
<path d="M1452.5,791.2 H1698.6" stroke="#000" stroke-width="1.5" stroke-dasharray="3.6,1.5" fill="none"/>
<path d="M1451.0,663.6 V918.9 M1441.5,917.5 H1701.9" stroke="#000" stroke-width="2.9" fill="none"/>
<path d="M1441.5,854.4 H1451.0 M1441.5,791.2 H1451.0 M1441.5,728.1 H1451.0 M1441.5,665.0 H1451.0 M1451.0,917.5 V928.8 M1500.9,917.5 V928.8 M1550.8,917.5 V928.8 M1600.8,917.5 V928.8 M1650.7,917.5 V928.8 M1700.6,917.5 V928.8 " stroke="#000" stroke-width="2.6" fill="none"/>
<path d="M1466.0,917.5 V924.3 M1474.8,917.5 V924.3 M1481.1,917.5 V924.3 M1485.9,917.5 V924.3 M1489.8,917.5 V924.3 M1493.2,917.5 V924.3 M1496.1,917.5 V924.3 M1498.6,917.5 V924.3 M1515.9,917.5 V924.3 M1524.7,917.5 V924.3 M1531.0,917.5 V924.3 M1535.8,917.5 V924.3 M1539.8,917.5 V924.3 M1543.1,917.5 V924.3 M1546.0,917.5 V924.3 M1548.6,917.5 V924.3 M1565.9,917.5 V924.3 M1574.7,917.5 V924.3 M1580.9,917.5 V924.3 M1585.7,917.5 V924.3 M1589.7,917.5 V924.3 M1593.0,917.5 V924.3 M1595.9,917.5 V924.3 M1598.5,917.5 V924.3 M1615.8,917.5 V924.3 M1624.6,917.5 V924.3 M1630.8,917.5 V924.3 M1635.7,917.5 V924.3 M1639.6,917.5 V924.3 M1642.9,917.5 V924.3 M1645.8,917.5 V924.3 M1648.4,917.5 V924.3 M1665.7,917.5 V924.3 M1674.5,917.5 V924.3 M1680.7,917.5 V924.3 M1685.6,917.5 V924.3 M1689.5,917.5 V924.3 M1692.9,917.5 V924.3 M1695.8,917.5 V924.3 M1698.3,917.5 V924.3 " stroke="#000" stroke-width="2.5" fill="none"/>
<text transform="translate(1439.00,927.40)" font-size="30" text-anchor="end" textLength="12.40" lengthAdjust="spacingAndGlyphs">0</text>
<text transform="translate(1439.00,864.27)" font-size="30" text-anchor="end" textLength="24.90" lengthAdjust="spacingAndGlyphs">25</text>
<text transform="translate(1439.00,801.15)" font-size="30" text-anchor="end" textLength="24.90" lengthAdjust="spacingAndGlyphs">50</text>
<text transform="translate(1439.00,738.02)" font-size="30" text-anchor="end" textLength="24.90" lengthAdjust="spacingAndGlyphs">75</text>
<text transform="translate(1439.00,674.90)" font-size="30" text-anchor="end" textLength="37.30" lengthAdjust="spacingAndGlyphs">100</text>
<text transform="translate(1429.20,952.80) scale(0.76,1)" font-size="30">10<tspan dy="-9.7" font-size="18.5">-2</tspan></text>
<text transform="translate(1479.12,952.80) scale(0.76,1)" font-size="30">10<tspan dy="-9.7" font-size="18.5">-1</tspan></text>
<text transform="translate(1529.04,952.80) scale(0.76,1)" font-size="30">10<tspan dy="-9.7" font-size="18.5">0</tspan></text>
<text transform="translate(1578.96,952.80) scale(0.76,1)" font-size="30">10<tspan dy="-9.7" font-size="18.5">1</tspan></text>
<text transform="translate(1628.88,952.80) scale(0.76,1)" font-size="30">10<tspan dy="-9.7" font-size="18.5">2</tspan></text>
<text transform="translate(1678.80,952.80) scale(0.76,1)" font-size="30">10<tspan dy="-9.7" font-size="18.5">3</tspan></text>
<text transform="translate(1576.50,980.90)" font-size="28.6" text-anchor="middle" textLength="261.00" lengthAdjust="spacingAndGlyphs">Ab concentration (ng/mL)</text>
<text transform="translate(1575.75,644.60)" font-size="24.3" text-anchor="middle" textLength="238.50" lengthAdjust="spacingAndGlyphs">HIV-1 93/RW/002 (clade A)</text>
<path d="M1451.0,917.5 L1491.2,909.9 L1526.1,908.7 L1561.0,909.9 L1595.9,909.9 L1630.8,875.3 L1665.7,859.4 L1700.6,841.0" fill="none" stroke="#000000" stroke-width="2.55" stroke-linejoin="round"/>
<polygon points="1451.0,911.1 1456.3,920.9 1445.7,920.9" fill="#000000" stroke="#000000" stroke-width="1.95" stroke-linejoin="miter"/><polygon points="1491.2,903.5 1496.5,913.3 1485.9,913.3" fill="#000000" stroke="#000000" stroke-width="1.95" stroke-linejoin="miter"/><polygon points="1526.1,902.3 1531.4,912.1 1520.8,912.1" fill="#000000" stroke="#000000" stroke-width="1.95" stroke-linejoin="miter"/><polygon points="1561.0,903.5 1566.3,913.3 1555.7,913.3" fill="#000000" stroke="#000000" stroke-width="1.95" stroke-linejoin="miter"/><polygon points="1595.9,903.5 1601.2,913.3 1590.6,913.3" fill="#000000" stroke="#000000" stroke-width="1.95" stroke-linejoin="miter"/><polygon points="1630.8,868.9 1636.1,878.7 1625.5,878.7" fill="#000000" stroke="#000000" stroke-width="1.95" stroke-linejoin="miter"/><polygon points="1665.7,853.0 1671.0,862.8 1660.4,862.8" fill="#000000" stroke="#000000" stroke-width="1.95" stroke-linejoin="miter"/><polygon points="1700.6,834.6 1705.9,844.4 1695.3,844.4" fill="#000000" stroke="#000000" stroke-width="1.95" stroke-linejoin="miter"/>
<path d="M1451.0,917.5 L1491.2,912.5 L1526.1,911.2 L1561.0,912.5 L1595.9,912.5 L1630.8,902.4 L1665.7,886.4 L1700.6,860.2" fill="none" stroke="#000000" stroke-width="2.55" stroke-linejoin="round"/>
<polygon points="1451.0,911.1 1456.3,920.9 1445.7,920.9" fill="#fff" stroke="#000000" stroke-width="1.95"/><polygon points="1491.2,906.1 1496.5,915.9 1485.9,915.9" fill="#fff" stroke="#000000" stroke-width="1.95"/><polygon points="1526.1,904.8 1531.4,914.6 1520.8,914.6" fill="#fff" stroke="#000000" stroke-width="1.95"/><polygon points="1561.0,906.1 1566.3,915.9 1555.7,915.9" fill="#fff" stroke="#000000" stroke-width="1.95"/><polygon points="1595.9,906.1 1601.2,915.9 1590.6,915.9" fill="#fff" stroke="#000000" stroke-width="1.95"/><polygon points="1630.8,896.0 1636.1,905.8 1625.5,905.8" fill="#fff" stroke="#000000" stroke-width="1.95"/><polygon points="1665.7,880.0 1671.0,889.8 1660.4,889.8" fill="#fff" stroke="#000000" stroke-width="1.95"/><polygon points="1700.6,853.8 1705.9,863.6 1695.3,863.6" fill="#fff" stroke="#000000" stroke-width="1.95"/>
<path d="M1451.0,917.5 L1491.2,909.9 L1526.1,907.9 L1561.0,902.4 L1595.9,893.5 L1630.8,880.4 L1665.7,812.7 L1700.6,757.2" fill="none" stroke="#000000" stroke-width="2.55" stroke-linejoin="round"/>
<polygon points="1451.0,911.1 1456.3,920.9 1445.7,920.9" fill="#fff" stroke="#000000" stroke-width="1.95"/><polygon points="1451.0,911.1 1451.0,920.9 1445.7,920.9" fill="#000000"/><polygon points="1491.2,903.5 1496.5,913.3 1485.9,913.3" fill="#fff" stroke="#000000" stroke-width="1.95"/><polygon points="1491.2,903.5 1491.2,913.3 1485.9,913.3" fill="#000000"/><polygon points="1526.1,901.5 1531.4,911.3 1520.8,911.3" fill="#fff" stroke="#000000" stroke-width="1.95"/><polygon points="1526.1,901.5 1526.1,911.3 1520.8,911.3" fill="#000000"/><polygon points="1561.0,896.0 1566.3,905.8 1555.7,905.8" fill="#fff" stroke="#000000" stroke-width="1.95"/><polygon points="1561.0,896.0 1561.0,905.8 1555.7,905.8" fill="#000000"/><polygon points="1595.9,887.1 1601.2,896.9 1590.6,896.9" fill="#fff" stroke="#000000" stroke-width="1.95"/><polygon points="1595.9,887.1 1595.9,896.9 1590.6,896.9" fill="#000000"/><polygon points="1630.8,874.0 1636.1,883.8 1625.5,883.8" fill="#fff" stroke="#000000" stroke-width="1.95"/><polygon points="1630.8,874.0 1630.8,883.8 1625.5,883.8" fill="#000000"/><polygon points="1665.7,806.3 1671.0,816.1 1660.4,816.1" fill="#fff" stroke="#000000" stroke-width="1.95"/><polygon points="1665.7,806.3 1665.7,816.1 1660.4,816.1" fill="#000000"/><polygon points="1700.6,750.8 1705.9,760.6 1695.3,760.6" fill="#fff" stroke="#000000" stroke-width="1.95"/><polygon points="1700.6,750.8 1700.6,760.6 1695.3,760.6" fill="#000000"/>
<path d="M1451.0,917.5 L1491.2,917.5 L1526.1,915.0 L1561.0,903.6 L1595.9,889.7 L1630.8,854.4 L1665.7,829.9 L1700.6,808.9" fill="none" stroke="#0000ff" stroke-width="2.55" stroke-linejoin="round"/>
<rect x="1446.7" y="913.2" width="8.6" height="8.6" fill="#0000ff"/><rect x="1486.9" y="913.2" width="8.6" height="8.6" fill="#0000ff"/><rect x="1521.8" y="910.7" width="8.6" height="8.6" fill="#0000ff"/><rect x="1556.7" y="899.3" width="8.6" height="8.6" fill="#0000ff"/><rect x="1591.6" y="885.4" width="8.6" height="8.6" fill="#0000ff"/><rect x="1626.5" y="850.1" width="8.6" height="8.6" fill="#0000ff"/><rect x="1661.4" y="825.6" width="8.6" height="8.6" fill="#0000ff"/><rect x="1696.3" y="804.6" width="8.6" height="8.6" fill="#0000ff"/>
<path d="M1451.0,917.5 L1491.2,917.5 L1526.1,915.0 L1561.0,901.3 L1595.9,889.7 L1630.8,895.3 L1665.7,906.1 L1700.6,862.2" fill="none" stroke="#0000ff" stroke-width="2.55" stroke-linejoin="round"/>
<rect x="1447.8" y="914.4" width="6.3" height="6.3" fill="#fff" stroke="#0000ff" stroke-width="2.3"/><rect x="1488.1" y="914.4" width="6.3" height="6.3" fill="#fff" stroke="#0000ff" stroke-width="2.3"/><rect x="1523.0" y="911.8" width="6.3" height="6.3" fill="#fff" stroke="#0000ff" stroke-width="2.3"/><rect x="1557.9" y="898.2" width="6.3" height="6.3" fill="#fff" stroke="#0000ff" stroke-width="2.3"/><rect x="1592.8" y="886.6" width="6.3" height="6.3" fill="#fff" stroke="#0000ff" stroke-width="2.3"/><rect x="1627.7" y="892.1" width="6.3" height="6.3" fill="#fff" stroke="#0000ff" stroke-width="2.3"/><rect x="1662.6" y="903.0" width="6.3" height="6.3" fill="#fff" stroke="#0000ff" stroke-width="2.3"/><rect x="1697.4" y="859.1" width="6.3" height="6.3" fill="#fff" stroke="#0000ff" stroke-width="2.3"/>
<path d="M1451.0,917.5 L1491.2,917.5 L1526.1,915.0 L1561.0,912.5 L1595.9,907.4 L1630.8,912.5 L1665.7,849.3 L1700.6,829.9" fill="none" stroke="#0000ff" stroke-width="2.55" stroke-linejoin="round"/>
<rect x="1447.8" y="914.4" width="6.3" height="6.3" fill="#fff" stroke="#0000ff" stroke-width="2.3"/><rect x="1447.8" y="914.4" width="6.3" height="3.1" fill="#0000ff"/><rect x="1488.1" y="914.4" width="6.3" height="6.3" fill="#fff" stroke="#0000ff" stroke-width="2.3"/><rect x="1488.1" y="914.4" width="6.3" height="3.1" fill="#0000ff"/><rect x="1523.0" y="911.8" width="6.3" height="6.3" fill="#fff" stroke="#0000ff" stroke-width="2.3"/><rect x="1523.0" y="911.8" width="6.3" height="3.1" fill="#0000ff"/><rect x="1557.9" y="909.3" width="6.3" height="6.3" fill="#fff" stroke="#0000ff" stroke-width="2.3"/><rect x="1557.9" y="909.3" width="6.3" height="3.1" fill="#0000ff"/><rect x="1592.8" y="904.2" width="6.3" height="6.3" fill="#fff" stroke="#0000ff" stroke-width="2.3"/><rect x="1592.8" y="904.2" width="6.3" height="3.1" fill="#0000ff"/><rect x="1627.7" y="909.3" width="6.3" height="6.3" fill="#fff" stroke="#0000ff" stroke-width="2.3"/><rect x="1627.7" y="909.3" width="6.3" height="3.1" fill="#0000ff"/><rect x="1662.6" y="846.2" width="6.3" height="6.3" fill="#fff" stroke="#0000ff" stroke-width="2.3"/><rect x="1662.6" y="846.2" width="6.3" height="3.1" fill="#0000ff"/><rect x="1697.4" y="826.7" width="6.3" height="6.3" fill="#fff" stroke="#0000ff" stroke-width="2.3"/><rect x="1697.4" y="826.7" width="6.3" height="3.1" fill="#0000ff"/>
<path d="M1451.0,915.0 L1491.2,912.5 L1526.1,905.9 L1561.0,911.2 L1595.9,911.9 L1630.8,912.5 L1665.7,899.8 L1700.6,883.4" fill="none" stroke="#ff0000" stroke-width="2.55" stroke-linejoin="round"/>
<circle cx="1451.0" cy="915.0" r="3.6" fill="#ff0000"/><circle cx="1491.2" cy="912.5" r="3.6" fill="#ff0000"/><circle cx="1526.1" cy="905.9" r="3.6" fill="#ff0000"/><circle cx="1561.0" cy="911.2" r="3.6" fill="#ff0000"/><circle cx="1595.9" cy="911.9" r="3.6" fill="#ff0000"/><circle cx="1630.8" cy="912.5" r="3.6" fill="#ff0000"/><circle cx="1665.7" cy="899.8" r="3.6" fill="#ff0000"/><circle cx="1700.6" cy="883.4" r="3.6" fill="#ff0000"/>
<path d="M1451.0,915.0 L1491.2,912.5 L1526.1,909.9 L1561.0,912.5 L1595.9,908.9 L1630.8,912.5 L1665.7,897.6 L1700.6,882.4" fill="none" stroke="#ff0000" stroke-width="2.55" stroke-linejoin="round"/>
<circle cx="1451.0" cy="915.0" r="3.3" fill="#fff" stroke="#ff0000" stroke-width="2.3"/><path d="M1447.7,915.0 A3.3,3.3 0 0 1 1454.3,915.0 Z" fill="#ff0000"/><circle cx="1491.2" cy="912.5" r="3.3" fill="#fff" stroke="#ff0000" stroke-width="2.3"/><path d="M1487.9,912.5 A3.3,3.3 0 0 1 1494.5,912.5 Z" fill="#ff0000"/><circle cx="1526.1" cy="909.9" r="3.3" fill="#fff" stroke="#ff0000" stroke-width="2.3"/><path d="M1522.8,909.9 A3.3,3.3 0 0 1 1529.4,909.9 Z" fill="#ff0000"/><circle cx="1561.0" cy="912.5" r="3.3" fill="#fff" stroke="#ff0000" stroke-width="2.3"/><path d="M1557.7,912.5 A3.3,3.3 0 0 1 1564.3,912.5 Z" fill="#ff0000"/><circle cx="1595.9" cy="908.9" r="3.3" fill="#fff" stroke="#ff0000" stroke-width="2.3"/><path d="M1592.6,908.9 A3.3,3.3 0 0 1 1599.2,908.9 Z" fill="#ff0000"/><circle cx="1630.8" cy="912.5" r="3.3" fill="#fff" stroke="#ff0000" stroke-width="2.3"/><path d="M1627.5,912.5 A3.3,3.3 0 0 1 1634.1,912.5 Z" fill="#ff0000"/><circle cx="1665.7" cy="897.6" r="3.3" fill="#fff" stroke="#ff0000" stroke-width="2.3"/><path d="M1662.4,897.6 A3.3,3.3 0 0 1 1669.0,897.6 Z" fill="#ff0000"/><circle cx="1700.6" cy="882.4" r="3.3" fill="#fff" stroke="#ff0000" stroke-width="2.3"/><path d="M1697.3,882.4 A3.3,3.3 0 0 1 1703.9,882.4 Z" fill="#ff0000"/>
<path d="M1451.0,913.7 L1491.2,911.9 L1526.1,909.9 L1561.0,911.9 L1595.9,898.6 L1630.8,911.4 L1665.7,871.3 L1700.6,858.2" fill="none" stroke="#ff0000" stroke-width="2.55" stroke-linejoin="round"/>
<circle cx="1451.0" cy="913.7" r="3.3" fill="#fff" stroke="#ff0000" stroke-width="2.3"/><circle cx="1491.2" cy="911.9" r="3.3" fill="#fff" stroke="#ff0000" stroke-width="2.3"/><circle cx="1526.1" cy="909.9" r="3.3" fill="#fff" stroke="#ff0000" stroke-width="2.3"/><circle cx="1561.0" cy="911.9" r="3.3" fill="#fff" stroke="#ff0000" stroke-width="2.3"/><circle cx="1595.9" cy="898.6" r="3.3" fill="#fff" stroke="#ff0000" stroke-width="2.3"/><circle cx="1630.8" cy="911.4" r="3.3" fill="#fff" stroke="#ff0000" stroke-width="2.3"/><circle cx="1665.7" cy="871.3" r="3.3" fill="#fff" stroke="#ff0000" stroke-width="2.3"/><circle cx="1700.6" cy="858.2" r="3.3" fill="#fff" stroke="#ff0000" stroke-width="2.3"/>
<path d="M1779.0,792.8 H2024.7" stroke="#000" stroke-width="1.5" stroke-dasharray="3.6,1.5" fill="none"/>
<path d="M1777.5,666.6 V918.9 M1768.0,917.5 H2028.0" stroke="#000" stroke-width="2.9" fill="none"/>
<path d="M1768.0,855.1 H1777.5 M1768.0,792.8 H1777.5 M1768.0,730.4 H1777.5 M1768.0,668.0 H1777.5 M1777.5,917.5 V928.8 M1827.3,917.5 V928.8 M1877.2,917.5 V928.8 M1927.0,917.5 V928.8 M1976.9,917.5 V928.8 M2026.7,917.5 V928.8 " stroke="#000" stroke-width="2.6" fill="none"/>
<path d="M1792.5,917.5 V924.3 M1801.3,917.5 V924.3 M1807.5,917.5 V924.3 M1812.3,917.5 V924.3 M1816.3,917.5 V924.3 M1819.6,917.5 V924.3 M1822.5,917.5 V924.3 M1825.1,917.5 V924.3 M1842.3,917.5 V924.3 M1851.1,917.5 V924.3 M1857.3,917.5 V924.3 M1862.2,917.5 V924.3 M1866.1,917.5 V924.3 M1869.5,917.5 V924.3 M1872.4,917.5 V924.3 M1874.9,917.5 V924.3 M1892.2,917.5 V924.3 M1901.0,917.5 V924.3 M1907.2,917.5 V924.3 M1912.0,917.5 V924.3 M1916.0,917.5 V924.3 M1919.3,917.5 V924.3 M1922.2,917.5 V924.3 M1924.7,917.5 V924.3 M1942.0,917.5 V924.3 M1950.8,917.5 V924.3 M1957.0,917.5 V924.3 M1961.9,917.5 V924.3 M1965.8,917.5 V924.3 M1969.1,917.5 V924.3 M1972.0,917.5 V924.3 M1974.6,917.5 V924.3 M1991.9,917.5 V924.3 M2000.6,917.5 V924.3 M2006.9,917.5 V924.3 M2011.7,917.5 V924.3 M2015.6,917.5 V924.3 M2019.0,917.5 V924.3 M2021.9,917.5 V924.3 M2024.4,917.5 V924.3 " stroke="#000" stroke-width="2.5" fill="none"/>
<text transform="translate(1765.50,927.40)" font-size="30" text-anchor="end" textLength="12.40" lengthAdjust="spacingAndGlyphs">0</text>
<text transform="translate(1765.50,865.02)" font-size="30" text-anchor="end" textLength="24.90" lengthAdjust="spacingAndGlyphs">25</text>
<text transform="translate(1765.50,802.65)" font-size="30" text-anchor="end" textLength="24.90" lengthAdjust="spacingAndGlyphs">50</text>
<text transform="translate(1765.50,740.27)" font-size="30" text-anchor="end" textLength="24.90" lengthAdjust="spacingAndGlyphs">75</text>
<text transform="translate(1765.50,677.90)" font-size="30" text-anchor="end" textLength="37.30" lengthAdjust="spacingAndGlyphs">100</text>
<text transform="translate(1755.70,952.80) scale(0.76,1)" font-size="30">10<tspan dy="-9.7" font-size="18.5">-2</tspan></text>
<text transform="translate(1805.54,952.80) scale(0.76,1)" font-size="30">10<tspan dy="-9.7" font-size="18.5">-1</tspan></text>
<text transform="translate(1855.38,952.80) scale(0.76,1)" font-size="30">10<tspan dy="-9.7" font-size="18.5">0</tspan></text>
<text transform="translate(1905.22,952.80) scale(0.76,1)" font-size="30">10<tspan dy="-9.7" font-size="18.5">1</tspan></text>
<text transform="translate(1955.06,952.80) scale(0.76,1)" font-size="30">10<tspan dy="-9.7" font-size="18.5">2</tspan></text>
<text transform="translate(2004.90,952.80) scale(0.76,1)" font-size="30">10<tspan dy="-9.7" font-size="18.5">3</tspan></text>
<text transform="translate(1902.80,980.90)" font-size="28.6" text-anchor="middle" textLength="261.00" lengthAdjust="spacingAndGlyphs">Ab concentration (ng/mL)</text>
<text transform="translate(1903.25,647.60)" font-size="24.3" text-anchor="middle" textLength="187.50" lengthAdjust="spacingAndGlyphs">HIV-1 JRFL (clade B)</text>
<path d="M1777.5,917.5 L1817.7,912.5 L1852.5,901.8 L1887.4,881.3 L1922.2,725.4 L1957.0,680.5 L1991.9,668.0 L2026.7,668.0" fill="none" stroke="#000000" stroke-width="2.55" stroke-linejoin="round"/>
<polygon points="1777.5,911.1 1782.8,920.9 1772.2,920.9" fill="#000000" stroke="#000000" stroke-width="1.95" stroke-linejoin="miter"/><polygon points="1817.7,906.1 1823.0,915.9 1812.4,915.9" fill="#000000" stroke="#000000" stroke-width="1.95" stroke-linejoin="miter"/><polygon points="1852.5,895.4 1857.8,905.2 1847.2,905.2" fill="#000000" stroke="#000000" stroke-width="1.95" stroke-linejoin="miter"/><polygon points="1887.4,874.9 1892.7,884.7 1882.1,884.7" fill="#000000" stroke="#000000" stroke-width="1.95" stroke-linejoin="miter"/><polygon points="1922.2,719.0 1927.5,728.8 1916.9,728.8" fill="#000000" stroke="#000000" stroke-width="1.95" stroke-linejoin="miter"/><polygon points="1957.0,674.1 1962.3,683.9 1951.7,683.9" fill="#000000" stroke="#000000" stroke-width="1.95" stroke-linejoin="miter"/><polygon points="1991.9,661.6 1997.2,671.4 1986.6,671.4" fill="#000000" stroke="#000000" stroke-width="1.95" stroke-linejoin="miter"/><polygon points="2026.7,661.6 2032.0,671.4 2021.4,671.4" fill="#000000" stroke="#000000" stroke-width="1.95" stroke-linejoin="miter"/>
<path d="M1777.5,917.5 L1817.7,911.8 L1852.5,903.8 L1887.4,879.3 L1922.2,700.9 L1957.0,672.5 L1991.9,669.2 L2026.7,668.0" fill="none" stroke="#000000" stroke-width="2.55" stroke-linejoin="round"/>
<polygon points="1777.5,911.1 1782.8,920.9 1772.2,920.9" fill="#fff" stroke="#000000" stroke-width="1.95"/><polygon points="1817.7,905.4 1823.0,915.2 1812.4,915.2" fill="#fff" stroke="#000000" stroke-width="1.95"/><polygon points="1852.5,897.4 1857.8,907.2 1847.2,907.2" fill="#fff" stroke="#000000" stroke-width="1.95"/><polygon points="1887.4,872.9 1892.7,882.7 1882.1,882.7" fill="#fff" stroke="#000000" stroke-width="1.95"/><polygon points="1922.2,694.5 1927.5,704.3 1916.9,704.3" fill="#fff" stroke="#000000" stroke-width="1.95"/><polygon points="1957.0,666.1 1962.3,675.9 1951.7,675.9" fill="#fff" stroke="#000000" stroke-width="1.95"/><polygon points="1991.9,662.8 1997.2,672.6 1986.6,672.6" fill="#fff" stroke="#000000" stroke-width="1.95"/><polygon points="2026.7,661.6 2032.0,671.4 2021.4,671.4" fill="#fff" stroke="#000000" stroke-width="1.95"/>
<path d="M1777.5,912.5 L1817.7,901.8 L1852.5,867.6 L1887.4,807.7 L1922.2,696.7 L1957.0,670.5 L1991.9,668.5 L2026.7,668.0" fill="none" stroke="#000000" stroke-width="2.55" stroke-linejoin="round"/>
<polygon points="1777.5,906.1 1782.8,915.9 1772.2,915.9" fill="#fff" stroke="#000000" stroke-width="1.95"/><polygon points="1777.5,906.1 1777.5,915.9 1772.2,915.9" fill="#000000"/><polygon points="1817.7,895.4 1823.0,905.2 1812.4,905.2" fill="#fff" stroke="#000000" stroke-width="1.95"/><polygon points="1817.7,895.4 1817.7,905.2 1812.4,905.2" fill="#000000"/><polygon points="1852.5,861.2 1857.8,871.0 1847.2,871.0" fill="#fff" stroke="#000000" stroke-width="1.95"/><polygon points="1852.5,861.2 1852.5,871.0 1847.2,871.0" fill="#000000"/><polygon points="1887.4,801.3 1892.7,811.1 1882.1,811.1" fill="#fff" stroke="#000000" stroke-width="1.95"/><polygon points="1887.4,801.3 1887.4,811.1 1882.1,811.1" fill="#000000"/><polygon points="1922.2,690.3 1927.5,700.1 1916.9,700.1" fill="#fff" stroke="#000000" stroke-width="1.95"/><polygon points="1922.2,690.3 1922.2,700.1 1916.9,700.1" fill="#000000"/><polygon points="1957.0,664.1 1962.3,673.9 1951.7,673.9" fill="#fff" stroke="#000000" stroke-width="1.95"/><polygon points="1957.0,664.1 1957.0,673.9 1951.7,673.9" fill="#000000"/><polygon points="1991.9,662.1 1997.2,671.9 1986.6,671.9" fill="#fff" stroke="#000000" stroke-width="1.95"/><polygon points="1991.9,662.1 1991.9,671.9 1986.6,671.9" fill="#000000"/><polygon points="2026.7,661.6 2032.0,671.4 2021.4,671.4" fill="#fff" stroke="#000000" stroke-width="1.95"/><polygon points="2026.7,661.6 2026.7,671.4 2021.4,671.4" fill="#000000"/>
<path d="M1777.5,917.5 L1817.7,910.0 L1852.5,887.6 L1887.4,882.6 L1922.2,810.2 L1957.0,690.5 L1991.9,673.0 L2026.7,668.0" fill="none" stroke="#0000ff" stroke-width="2.55" stroke-linejoin="round"/>
<rect x="1773.2" y="913.2" width="8.6" height="8.6" fill="#0000ff"/><rect x="1813.4" y="905.7" width="8.6" height="8.6" fill="#0000ff"/><rect x="1848.2" y="883.3" width="8.6" height="8.6" fill="#0000ff"/><rect x="1883.1" y="878.3" width="8.6" height="8.6" fill="#0000ff"/><rect x="1917.9" y="805.9" width="8.6" height="8.6" fill="#0000ff"/><rect x="1952.7" y="686.2" width="8.6" height="8.6" fill="#0000ff"/><rect x="1987.6" y="668.7" width="8.6" height="8.6" fill="#0000ff"/><rect x="2022.4" y="663.7" width="8.6" height="8.6" fill="#0000ff"/>
<path d="M1777.5,917.5 L1817.7,917.5 L1852.5,915.0 L1887.4,911.8 L1922.2,836.7 L1957.0,742.9 L1991.9,680.5 L2026.7,668.0" fill="none" stroke="#0000ff" stroke-width="2.55" stroke-linejoin="round"/>
<rect x="1774.3" y="914.4" width="6.3" height="6.3" fill="#fff" stroke="#0000ff" stroke-width="2.3"/><rect x="1814.5" y="914.4" width="6.3" height="6.3" fill="#fff" stroke="#0000ff" stroke-width="2.3"/><rect x="1849.4" y="911.9" width="6.3" height="6.3" fill="#fff" stroke="#0000ff" stroke-width="2.3"/><rect x="1884.2" y="908.6" width="6.3" height="6.3" fill="#fff" stroke="#0000ff" stroke-width="2.3"/><rect x="1919.0" y="833.5" width="6.3" height="6.3" fill="#fff" stroke="#0000ff" stroke-width="2.3"/><rect x="1953.9" y="739.7" width="6.3" height="6.3" fill="#fff" stroke="#0000ff" stroke-width="2.3"/><rect x="1988.7" y="677.3" width="6.3" height="6.3" fill="#fff" stroke="#0000ff" stroke-width="2.3"/><rect x="2023.5" y="664.9" width="6.3" height="6.3" fill="#fff" stroke="#0000ff" stroke-width="2.3"/>
<path d="M1777.5,917.5 L1817.7,915.0 L1852.5,907.5 L1887.4,891.6 L1922.2,818.4 L1957.0,695.4 L1991.9,675.5 L2026.7,668.0" fill="none" stroke="#0000ff" stroke-width="2.55" stroke-linejoin="round"/>
<rect x="1774.3" y="914.4" width="6.3" height="6.3" fill="#fff" stroke="#0000ff" stroke-width="2.3"/><rect x="1774.3" y="914.4" width="6.3" height="3.1" fill="#0000ff"/><rect x="1814.5" y="911.9" width="6.3" height="6.3" fill="#fff" stroke="#0000ff" stroke-width="2.3"/><rect x="1814.5" y="911.9" width="6.3" height="3.1" fill="#0000ff"/><rect x="1849.4" y="904.4" width="6.3" height="6.3" fill="#fff" stroke="#0000ff" stroke-width="2.3"/><rect x="1849.4" y="904.4" width="6.3" height="3.1" fill="#0000ff"/><rect x="1884.2" y="888.4" width="6.3" height="6.3" fill="#fff" stroke="#0000ff" stroke-width="2.3"/><rect x="1884.2" y="888.4" width="6.3" height="3.1" fill="#0000ff"/><rect x="1919.0" y="815.3" width="6.3" height="6.3" fill="#fff" stroke="#0000ff" stroke-width="2.3"/><rect x="1919.0" y="815.3" width="6.3" height="3.1" fill="#0000ff"/><rect x="1953.9" y="692.3" width="6.3" height="6.3" fill="#fff" stroke="#0000ff" stroke-width="2.3"/><rect x="1953.9" y="692.3" width="6.3" height="3.1" fill="#0000ff"/><rect x="1988.7" y="672.3" width="6.3" height="6.3" fill="#fff" stroke="#0000ff" stroke-width="2.3"/><rect x="1988.7" y="672.3" width="6.3" height="3.1" fill="#0000ff"/><rect x="2023.5" y="664.9" width="6.3" height="6.3" fill="#fff" stroke="#0000ff" stroke-width="2.3"/><rect x="2023.5" y="664.9" width="6.3" height="3.1" fill="#0000ff"/>
<path d="M1777.5,917.5 L1817.7,916.0 L1852.5,900.8 L1887.4,873.3 L1922.2,762.8 L1957.0,691.7 L1991.9,670.5 L2026.7,668.0" fill="none" stroke="#ff0000" stroke-width="2.55" stroke-linejoin="round"/>
<circle cx="1777.5" cy="917.5" r="3.6" fill="#ff0000"/><circle cx="1817.7" cy="916.0" r="3.6" fill="#ff0000"/><circle cx="1852.5" cy="900.8" r="3.6" fill="#ff0000"/><circle cx="1887.4" cy="873.3" r="3.6" fill="#ff0000"/><circle cx="1922.2" cy="762.8" r="3.6" fill="#ff0000"/><circle cx="1957.0" cy="691.7" r="3.6" fill="#ff0000"/><circle cx="1991.9" cy="670.5" r="3.6" fill="#ff0000"/><circle cx="2026.7" cy="668.0" r="3.6" fill="#ff0000"/>
<path d="M1777.5,917.5 L1817.7,917.5 L1852.5,916.8 L1887.4,893.5 L1922.2,840.9 L1957.0,706.9 L1991.9,672.5 L2026.7,668.0" fill="none" stroke="#ff0000" stroke-width="2.55" stroke-linejoin="round"/>
<circle cx="1777.5" cy="917.5" r="3.3" fill="#fff" stroke="#ff0000" stroke-width="2.3"/><path d="M1774.2,917.5 A3.3,3.3 0 0 1 1780.8,917.5 Z" fill="#ff0000"/><circle cx="1817.7" cy="917.5" r="3.3" fill="#fff" stroke="#ff0000" stroke-width="2.3"/><path d="M1814.4,917.5 A3.3,3.3 0 0 1 1821.0,917.5 Z" fill="#ff0000"/><circle cx="1852.5" cy="916.8" r="3.3" fill="#fff" stroke="#ff0000" stroke-width="2.3"/><path d="M1849.2,916.8 A3.3,3.3 0 0 1 1855.8,916.8 Z" fill="#ff0000"/><circle cx="1887.4" cy="893.5" r="3.3" fill="#fff" stroke="#ff0000" stroke-width="2.3"/><path d="M1884.1,893.5 A3.3,3.3 0 0 1 1890.7,893.5 Z" fill="#ff0000"/><circle cx="1922.2" cy="840.9" r="3.3" fill="#fff" stroke="#ff0000" stroke-width="2.3"/><path d="M1918.9,840.9 A3.3,3.3 0 0 1 1925.5,840.9 Z" fill="#ff0000"/><circle cx="1957.0" cy="706.9" r="3.3" fill="#fff" stroke="#ff0000" stroke-width="2.3"/><path d="M1953.7,706.9 A3.3,3.3 0 0 1 1960.3,706.9 Z" fill="#ff0000"/><circle cx="1991.9" cy="672.5" r="3.3" fill="#fff" stroke="#ff0000" stroke-width="2.3"/><path d="M1988.6,672.5 A3.3,3.3 0 0 1 1995.2,672.5 Z" fill="#ff0000"/><circle cx="2026.7" cy="668.0" r="3.3" fill="#fff" stroke="#ff0000" stroke-width="2.3"/><path d="M2023.4,668.0 A3.3,3.3 0 0 1 2030.0,668.0 Z" fill="#ff0000"/>
<path d="M1777.5,917.5 L1817.7,917.5 L1852.5,917.5 L1887.4,905.8 L1922.2,862.1 L1957.0,720.4 L1991.9,683.0 L2026.7,668.5" fill="none" stroke="#ff0000" stroke-width="2.55" stroke-linejoin="round"/>
<circle cx="1777.5" cy="917.5" r="3.3" fill="#fff" stroke="#ff0000" stroke-width="2.3"/><circle cx="1817.7" cy="917.5" r="3.3" fill="#fff" stroke="#ff0000" stroke-width="2.3"/><circle cx="1852.5" cy="917.5" r="3.3" fill="#fff" stroke="#ff0000" stroke-width="2.3"/><circle cx="1887.4" cy="905.8" r="3.3" fill="#fff" stroke="#ff0000" stroke-width="2.3"/><circle cx="1922.2" cy="862.1" r="3.3" fill="#fff" stroke="#ff0000" stroke-width="2.3"/><circle cx="1957.0" cy="720.4" r="3.3" fill="#fff" stroke="#ff0000" stroke-width="2.3"/><circle cx="1991.9" cy="683.0" r="3.3" fill="#fff" stroke="#ff0000" stroke-width="2.3"/><circle cx="2026.7" cy="668.5" r="3.3" fill="#fff" stroke="#ff0000" stroke-width="2.3"/>
<path d="M1127.1,1174.7 H1373.3999999999999" stroke="#000" stroke-width="1.5" stroke-dasharray="3.6,1.5" fill="none"/>
<path d="M1125.6,1048.6 V1300.8 M1116.1,1299.4 H1376.7" stroke="#000" stroke-width="2.9" fill="none"/>
<path d="M1116.1,1237.1 H1125.6 M1116.1,1174.7 H1125.6 M1116.1,1112.3 H1125.6 M1116.1,1050.0 H1125.6 M1120.1,1268.2 H1125.6 M1120.1,1205.9 H1125.6 M1120.1,1143.5 H1125.6 M1120.1,1081.2 H1125.6 M1125.6,1299.4 V1310.7 M1175.6,1299.4 V1310.7 M1225.5,1299.4 V1310.7 M1275.5,1299.4 V1310.7 M1325.4,1299.4 V1310.7 M1375.4,1299.4 V1310.7 " stroke="#000" stroke-width="2.6" fill="none"/>
<path d="M1140.6,1299.4 V1306.2 M1149.4,1299.4 V1306.2 M1155.7,1299.4 V1306.2 M1160.5,1299.4 V1306.2 M1164.5,1299.4 V1306.2 M1167.8,1299.4 V1306.2 M1170.7,1299.4 V1306.2 M1173.3,1299.4 V1306.2 M1190.6,1299.4 V1306.2 M1199.4,1299.4 V1306.2 M1205.6,1299.4 V1306.2 M1210.5,1299.4 V1306.2 M1214.4,1299.4 V1306.2 M1217.8,1299.4 V1306.2 M1220.7,1299.4 V1306.2 M1223.2,1299.4 V1306.2 M1240.6,1299.4 V1306.2 M1249.4,1299.4 V1306.2 M1255.6,1299.4 V1306.2 M1260.4,1299.4 V1306.2 M1264.4,1299.4 V1306.2 M1267.7,1299.4 V1306.2 M1270.6,1299.4 V1306.2 M1273.2,1299.4 V1306.2 M1290.5,1299.4 V1306.2 M1299.3,1299.4 V1306.2 M1305.6,1299.4 V1306.2 M1310.4,1299.4 V1306.2 M1314.4,1299.4 V1306.2 M1317.7,1299.4 V1306.2 M1320.6,1299.4 V1306.2 M1323.2,1299.4 V1306.2 M1340.5,1299.4 V1306.2 M1349.3,1299.4 V1306.2 M1355.5,1299.4 V1306.2 M1360.4,1299.4 V1306.2 M1364.3,1299.4 V1306.2 M1367.7,1299.4 V1306.2 M1370.6,1299.4 V1306.2 M1373.1,1299.4 V1306.2 " stroke="#000" stroke-width="2.5" fill="none"/>
<text transform="translate(1113.60,1309.30)" font-size="30" text-anchor="end" textLength="12.40" lengthAdjust="spacingAndGlyphs">0</text>
<text transform="translate(1113.60,1246.95)" font-size="30" text-anchor="end" textLength="24.90" lengthAdjust="spacingAndGlyphs">25</text>
<text transform="translate(1113.60,1184.60)" font-size="30" text-anchor="end" textLength="24.90" lengthAdjust="spacingAndGlyphs">50</text>
<text transform="translate(1113.60,1122.25)" font-size="30" text-anchor="end" textLength="24.90" lengthAdjust="spacingAndGlyphs">75</text>
<text transform="translate(1113.60,1059.90)" font-size="30" text-anchor="end" textLength="37.30" lengthAdjust="spacingAndGlyphs">100</text>
<text transform="translate(1103.80,1334.70) scale(0.76,1)" font-size="30">10<tspan dy="-9.7" font-size="18.5">-2</tspan></text>
<text transform="translate(1153.76,1334.70) scale(0.76,1)" font-size="30">10<tspan dy="-9.7" font-size="18.5">-1</tspan></text>
<text transform="translate(1203.72,1334.70) scale(0.76,1)" font-size="30">10<tspan dy="-9.7" font-size="18.5">0</tspan></text>
<text transform="translate(1253.68,1334.70) scale(0.76,1)" font-size="30">10<tspan dy="-9.7" font-size="18.5">1</tspan></text>
<text transform="translate(1303.64,1334.70) scale(0.76,1)" font-size="30">10<tspan dy="-9.7" font-size="18.5">2</tspan></text>
<text transform="translate(1353.60,1334.70) scale(0.76,1)" font-size="30">10<tspan dy="-9.7" font-size="18.5">3</tspan></text>
<text transform="translate(1251.20,1362.80)" font-size="28.6" text-anchor="middle" textLength="261.00" lengthAdjust="spacingAndGlyphs">Ab concentration (ng/mL)</text>
<text transform="translate(1246.25,1029.60)" font-size="24.3" text-anchor="middle" textLength="243.50" lengthAdjust="spacingAndGlyphs">HIV-1 93/MW/965 (clade C)</text>
<text transform="translate(1069.60,1173.40) rotate(-90)" font-size="29.5" text-anchor="middle" textLength="224.00" lengthAdjust="spacingAndGlyphs">Neutralization (%)</text>
<path d="M1125.6,1299.4 L1165.9,1298.2 L1200.8,1294.4 L1235.7,1268.5 L1270.6,1212.9 L1305.6,1122.6 L1340.5,1075.9 L1375.4,1052.5" fill="none" stroke="#000000" stroke-width="2.55" stroke-linejoin="round"/>
<polygon points="1125.6,1293.0 1130.9,1302.8 1120.3,1302.8" fill="#000000" stroke="#000000" stroke-width="1.95" stroke-linejoin="miter"/><polygon points="1165.9,1291.8 1171.2,1301.6 1160.6,1301.6" fill="#000000" stroke="#000000" stroke-width="1.95" stroke-linejoin="miter"/><polygon points="1200.8,1288.0 1206.1,1297.8 1195.5,1297.8" fill="#000000" stroke="#000000" stroke-width="1.95" stroke-linejoin="miter"/><polygon points="1235.7,1262.1 1241.0,1271.9 1230.4,1271.9" fill="#000000" stroke="#000000" stroke-width="1.95" stroke-linejoin="miter"/><polygon points="1270.6,1206.5 1275.9,1216.3 1265.3,1216.3" fill="#000000" stroke="#000000" stroke-width="1.95" stroke-linejoin="miter"/><polygon points="1305.6,1116.2 1310.9,1126.0 1300.3,1126.0" fill="#000000" stroke="#000000" stroke-width="1.95" stroke-linejoin="miter"/><polygon points="1340.5,1069.5 1345.8,1079.3 1335.2,1079.3" fill="#000000" stroke="#000000" stroke-width="1.95" stroke-linejoin="miter"/><polygon points="1375.4,1046.1 1380.7,1055.9 1370.1,1055.9" fill="#000000" stroke="#000000" stroke-width="1.95" stroke-linejoin="miter"/>
<path d="M1125.6,1299.4 L1165.9,1291.9 L1200.8,1261.5 L1235.7,1193.7 L1270.6,1072.9 L1305.6,1052.5 L1340.5,1050.0 L1375.4,1050.0" fill="none" stroke="#000000" stroke-width="2.55" stroke-linejoin="round"/>
<polygon points="1125.6,1293.0 1130.9,1302.8 1120.3,1302.8" fill="#fff" stroke="#000000" stroke-width="1.95"/><polygon points="1165.9,1285.5 1171.2,1295.3 1160.6,1295.3" fill="#fff" stroke="#000000" stroke-width="1.95"/><polygon points="1200.8,1255.1 1206.1,1264.9 1195.5,1264.9" fill="#fff" stroke="#000000" stroke-width="1.95"/><polygon points="1235.7,1187.3 1241.0,1197.1 1230.4,1197.1" fill="#fff" stroke="#000000" stroke-width="1.95"/><polygon points="1270.6,1066.5 1275.9,1076.3 1265.3,1076.3" fill="#fff" stroke="#000000" stroke-width="1.95"/><polygon points="1305.6,1046.1 1310.9,1055.9 1300.3,1055.9" fill="#fff" stroke="#000000" stroke-width="1.95"/><polygon points="1340.5,1043.6 1345.8,1053.4 1335.2,1053.4" fill="#fff" stroke="#000000" stroke-width="1.95"/><polygon points="1375.4,1043.6 1380.7,1053.4 1370.1,1053.4" fill="#fff" stroke="#000000" stroke-width="1.95"/>
<path d="M1125.6,1299.4 L1165.9,1285.9 L1200.8,1247.3 L1235.7,1176.4 L1270.6,1066.7 L1305.6,1050.5 L1340.5,1050.0 L1375.4,1050.0" fill="none" stroke="#000000" stroke-width="2.55" stroke-linejoin="round"/>
<polygon points="1125.6,1293.0 1130.9,1302.8 1120.3,1302.8" fill="#fff" stroke="#000000" stroke-width="1.95"/><polygon points="1125.6,1293.0 1125.6,1302.8 1120.3,1302.8" fill="#000000"/><polygon points="1165.9,1279.5 1171.2,1289.3 1160.6,1289.3" fill="#fff" stroke="#000000" stroke-width="1.95"/><polygon points="1165.9,1279.5 1165.9,1289.3 1160.6,1289.3" fill="#000000"/><polygon points="1200.8,1240.9 1206.1,1250.7 1195.5,1250.7" fill="#fff" stroke="#000000" stroke-width="1.95"/><polygon points="1200.8,1240.9 1200.8,1250.7 1195.5,1250.7" fill="#000000"/><polygon points="1235.7,1170.0 1241.0,1179.8 1230.4,1179.8" fill="#fff" stroke="#000000" stroke-width="1.95"/><polygon points="1235.7,1170.0 1235.7,1179.8 1230.4,1179.8" fill="#000000"/><polygon points="1270.6,1060.3 1275.9,1070.1 1265.3,1070.1" fill="#fff" stroke="#000000" stroke-width="1.95"/><polygon points="1270.6,1060.3 1270.6,1070.1 1265.3,1070.1" fill="#000000"/><polygon points="1305.6,1044.1 1310.9,1053.9 1300.3,1053.9" fill="#fff" stroke="#000000" stroke-width="1.95"/><polygon points="1305.6,1044.1 1305.6,1053.9 1300.3,1053.9" fill="#000000"/><polygon points="1340.5,1043.6 1345.8,1053.4 1335.2,1053.4" fill="#fff" stroke="#000000" stroke-width="1.95"/><polygon points="1340.5,1043.6 1340.5,1053.4 1335.2,1053.4" fill="#000000"/><polygon points="1375.4,1043.6 1380.7,1053.4 1370.1,1053.4" fill="#fff" stroke="#000000" stroke-width="1.95"/><polygon points="1375.4,1043.6 1375.4,1053.4 1370.1,1053.4" fill="#000000"/>
<path d="M1125.6,1299.4 L1165.9,1299.4 L1200.8,1298.2 L1235.7,1293.9 L1270.6,1263.5 L1305.6,1143.8 L1340.5,1094.1 L1375.4,1057.5" fill="none" stroke="#0000ff" stroke-width="2.55" stroke-linejoin="round"/>
<rect x="1121.3" y="1295.1" width="8.6" height="8.6" fill="#0000ff"/><rect x="1161.6" y="1295.1" width="8.6" height="8.6" fill="#0000ff"/><rect x="1196.5" y="1293.9" width="8.6" height="8.6" fill="#0000ff"/><rect x="1231.4" y="1289.6" width="8.6" height="8.6" fill="#0000ff"/><rect x="1266.3" y="1259.2" width="8.6" height="8.6" fill="#0000ff"/><rect x="1301.3" y="1139.5" width="8.6" height="8.6" fill="#0000ff"/><rect x="1336.2" y="1089.8" width="8.6" height="8.6" fill="#0000ff"/><rect x="1371.1" y="1053.2" width="8.6" height="8.6" fill="#0000ff"/>
<path d="M1125.6,1299.4 L1165.9,1299.4 L1200.8,1296.9 L1235.7,1289.9 L1270.6,1247.3 L1305.6,1106.4 L1340.5,1057.5 L1375.4,1050.0" fill="none" stroke="#0000ff" stroke-width="2.55" stroke-linejoin="round"/>
<rect x="1122.4" y="1296.2" width="6.3" height="6.3" fill="#fff" stroke="#0000ff" stroke-width="2.3"/><rect x="1162.7" y="1296.2" width="6.3" height="6.3" fill="#fff" stroke="#0000ff" stroke-width="2.3"/><rect x="1197.6" y="1293.8" width="6.3" height="6.3" fill="#fff" stroke="#0000ff" stroke-width="2.3"/><rect x="1232.6" y="1286.8" width="6.3" height="6.3" fill="#fff" stroke="#0000ff" stroke-width="2.3"/><rect x="1267.5" y="1244.1" width="6.3" height="6.3" fill="#fff" stroke="#0000ff" stroke-width="2.3"/><rect x="1302.4" y="1103.2" width="6.3" height="6.3" fill="#fff" stroke="#0000ff" stroke-width="2.3"/><rect x="1337.3" y="1054.3" width="6.3" height="6.3" fill="#fff" stroke="#0000ff" stroke-width="2.3"/><rect x="1372.2" y="1046.8" width="6.3" height="6.3" fill="#fff" stroke="#0000ff" stroke-width="2.3"/>
<path d="M1125.6,1299.4 L1165.9,1299.4 L1200.8,1292.9 L1235.7,1284.7 L1270.6,1186.4 L1305.6,1074.9 L1340.5,1055.0 L1375.4,1050.0" fill="none" stroke="#0000ff" stroke-width="2.55" stroke-linejoin="round"/>
<rect x="1122.4" y="1296.2" width="6.3" height="6.3" fill="#fff" stroke="#0000ff" stroke-width="2.3"/><rect x="1122.4" y="1296.2" width="6.3" height="3.1" fill="#0000ff"/><rect x="1162.7" y="1296.2" width="6.3" height="6.3" fill="#fff" stroke="#0000ff" stroke-width="2.3"/><rect x="1162.7" y="1296.2" width="6.3" height="3.1" fill="#0000ff"/><rect x="1197.6" y="1289.8" width="6.3" height="6.3" fill="#fff" stroke="#0000ff" stroke-width="2.3"/><rect x="1197.6" y="1289.8" width="6.3" height="3.1" fill="#0000ff"/><rect x="1232.6" y="1281.5" width="6.3" height="6.3" fill="#fff" stroke="#0000ff" stroke-width="2.3"/><rect x="1232.6" y="1281.5" width="6.3" height="3.1" fill="#0000ff"/><rect x="1267.5" y="1183.3" width="6.3" height="6.3" fill="#fff" stroke="#0000ff" stroke-width="2.3"/><rect x="1267.5" y="1183.3" width="6.3" height="3.1" fill="#0000ff"/><rect x="1302.4" y="1071.8" width="6.3" height="6.3" fill="#fff" stroke="#0000ff" stroke-width="2.3"/><rect x="1302.4" y="1071.8" width="6.3" height="3.1" fill="#0000ff"/><rect x="1337.3" y="1051.8" width="6.3" height="6.3" fill="#fff" stroke="#0000ff" stroke-width="2.3"/><rect x="1337.3" y="1051.8" width="6.3" height="3.1" fill="#0000ff"/><rect x="1372.2" y="1046.8" width="6.3" height="6.3" fill="#fff" stroke="#0000ff" stroke-width="2.3"/><rect x="1372.2" y="1046.8" width="6.3" height="3.1" fill="#0000ff"/>
<path d="M1125.6,1299.4 L1165.9,1299.4 L1200.8,1298.2 L1235.7,1296.9 L1270.6,1281.9 L1305.6,1219.8 L1340.5,1118.6 L1375.4,1066.7" fill="none" stroke="#ff0000" stroke-width="2.55" stroke-linejoin="round"/>
<circle cx="1125.6" cy="1299.4" r="3.6" fill="#ff0000"/><circle cx="1165.9" cy="1299.4" r="3.6" fill="#ff0000"/><circle cx="1200.8" cy="1298.2" r="3.6" fill="#ff0000"/><circle cx="1235.7" cy="1296.9" r="3.6" fill="#ff0000"/><circle cx="1270.6" cy="1281.9" r="3.6" fill="#ff0000"/><circle cx="1305.6" cy="1219.8" r="3.6" fill="#ff0000"/><circle cx="1340.5" cy="1118.6" r="3.6" fill="#ff0000"/><circle cx="1375.4" cy="1066.7" r="3.6" fill="#ff0000"/>
<path d="M1125.6,1299.4 L1165.9,1298.2 L1200.8,1296.9 L1235.7,1289.9 L1270.6,1224.1 L1305.6,1100.4 L1340.5,1056.7 L1375.4,1051.2" fill="none" stroke="#ff0000" stroke-width="2.55" stroke-linejoin="round"/>
<circle cx="1125.6" cy="1299.4" r="3.3" fill="#fff" stroke="#ff0000" stroke-width="2.3"/><path d="M1122.3,1299.4 A3.3,3.3 0 0 1 1128.9,1299.4 Z" fill="#ff0000"/><circle cx="1165.9" cy="1298.2" r="3.3" fill="#fff" stroke="#ff0000" stroke-width="2.3"/><path d="M1162.6,1298.2 A3.3,3.3 0 0 1 1169.2,1298.2 Z" fill="#ff0000"/><circle cx="1200.8" cy="1296.9" r="3.3" fill="#fff" stroke="#ff0000" stroke-width="2.3"/><path d="M1197.5,1296.9 A3.3,3.3 0 0 1 1204.1,1296.9 Z" fill="#ff0000"/><circle cx="1235.7" cy="1289.9" r="3.3" fill="#fff" stroke="#ff0000" stroke-width="2.3"/><path d="M1232.4,1289.9 A3.3,3.3 0 0 1 1239.0,1289.9 Z" fill="#ff0000"/><circle cx="1270.6" cy="1224.1" r="3.3" fill="#fff" stroke="#ff0000" stroke-width="2.3"/><path d="M1267.3,1224.1 A3.3,3.3 0 0 1 1273.9,1224.1 Z" fill="#ff0000"/><circle cx="1305.6" cy="1100.4" r="3.3" fill="#fff" stroke="#ff0000" stroke-width="2.3"/><path d="M1302.3,1100.4 A3.3,3.3 0 0 1 1308.9,1100.4 Z" fill="#ff0000"/><circle cx="1340.5" cy="1056.7" r="3.3" fill="#fff" stroke="#ff0000" stroke-width="2.3"/><path d="M1337.2,1056.7 A3.3,3.3 0 0 1 1343.8,1056.7 Z" fill="#ff0000"/><circle cx="1375.4" cy="1051.2" r="3.3" fill="#fff" stroke="#ff0000" stroke-width="2.3"/><path d="M1372.1,1051.2 A3.3,3.3 0 0 1 1378.7,1051.2 Z" fill="#ff0000"/>
<path d="M1125.6,1299.4 L1165.9,1298.2 L1200.8,1294.9 L1235.7,1275.7 L1270.6,1241.3 L1305.6,1089.9 L1340.5,1055.7 L1375.4,1050.5" fill="none" stroke="#ff0000" stroke-width="2.55" stroke-linejoin="round"/>
<circle cx="1125.6" cy="1299.4" r="3.3" fill="#fff" stroke="#ff0000" stroke-width="2.3"/><circle cx="1165.9" cy="1298.2" r="3.3" fill="#fff" stroke="#ff0000" stroke-width="2.3"/><circle cx="1200.8" cy="1294.9" r="3.3" fill="#fff" stroke="#ff0000" stroke-width="2.3"/><circle cx="1235.7" cy="1275.7" r="3.3" fill="#fff" stroke="#ff0000" stroke-width="2.3"/><circle cx="1270.6" cy="1241.3" r="3.3" fill="#fff" stroke="#ff0000" stroke-width="2.3"/><circle cx="1305.6" cy="1089.9" r="3.3" fill="#fff" stroke="#ff0000" stroke-width="2.3"/><circle cx="1340.5" cy="1055.7" r="3.3" fill="#fff" stroke="#ff0000" stroke-width="2.3"/><circle cx="1375.4" cy="1050.5" r="3.3" fill="#fff" stroke="#ff0000" stroke-width="2.3"/>
<path d="M1453.5,1173.7 H1697.8" stroke="#000" stroke-width="1.5" stroke-dasharray="3.6,1.5" fill="none"/>
<path d="M1452.0,1046.6 V1300.8 M1442.5,1299.4 H1701.1" stroke="#000" stroke-width="2.9" fill="none"/>
<path d="M1442.5,1236.6 H1452.0 M1442.5,1173.7 H1452.0 M1442.5,1110.8 H1452.0 M1442.5,1048.0 H1452.0 M1452.0,1299.4 V1310.7 M1501.6,1299.4 V1310.7 M1551.1,1299.4 V1310.7 M1600.7,1299.4 V1310.7 M1650.2,1299.4 V1310.7 M1699.8,1299.4 V1310.7 " stroke="#000" stroke-width="2.6" fill="none"/>
<path d="M1466.9,1299.4 V1306.2 M1475.6,1299.4 V1306.2 M1481.8,1299.4 V1306.2 M1486.6,1299.4 V1306.2 M1490.6,1299.4 V1306.2 M1493.9,1299.4 V1306.2 M1496.8,1299.4 V1306.2 M1499.3,1299.4 V1306.2 M1516.5,1299.4 V1306.2 M1525.2,1299.4 V1306.2 M1531.4,1299.4 V1306.2 M1536.2,1299.4 V1306.2 M1540.1,1299.4 V1306.2 M1543.4,1299.4 V1306.2 M1546.3,1299.4 V1306.2 M1548.9,1299.4 V1306.2 M1566.0,1299.4 V1306.2 M1574.8,1299.4 V1306.2 M1581.0,1299.4 V1306.2 M1585.8,1299.4 V1306.2 M1589.7,1299.4 V1306.2 M1593.0,1299.4 V1306.2 M1595.9,1299.4 V1306.2 M1598.4,1299.4 V1306.2 M1615.6,1299.4 V1306.2 M1624.3,1299.4 V1306.2 M1630.5,1299.4 V1306.2 M1635.3,1299.4 V1306.2 M1639.2,1299.4 V1306.2 M1642.6,1299.4 V1306.2 M1645.4,1299.4 V1306.2 M1648.0,1299.4 V1306.2 M1665.2,1299.4 V1306.2 M1673.9,1299.4 V1306.2 M1680.1,1299.4 V1306.2 M1684.9,1299.4 V1306.2 M1688.8,1299.4 V1306.2 M1692.1,1299.4 V1306.2 M1695.0,1299.4 V1306.2 M1697.5,1299.4 V1306.2 " stroke="#000" stroke-width="2.5" fill="none"/>
<text transform="translate(1440.00,1309.30)" font-size="30" text-anchor="end" textLength="12.40" lengthAdjust="spacingAndGlyphs">0</text>
<text transform="translate(1440.00,1246.45)" font-size="30" text-anchor="end" textLength="24.90" lengthAdjust="spacingAndGlyphs">25</text>
<text transform="translate(1440.00,1183.60)" font-size="30" text-anchor="end" textLength="24.90" lengthAdjust="spacingAndGlyphs">50</text>
<text transform="translate(1440.00,1120.75)" font-size="30" text-anchor="end" textLength="24.90" lengthAdjust="spacingAndGlyphs">75</text>
<text transform="translate(1440.00,1057.90)" font-size="30" text-anchor="end" textLength="37.30" lengthAdjust="spacingAndGlyphs">100</text>
<text transform="translate(1430.20,1334.70) scale(0.76,1)" font-size="30">10<tspan dy="-9.7" font-size="18.5">-2</tspan></text>
<text transform="translate(1479.76,1334.70) scale(0.76,1)" font-size="30">10<tspan dy="-9.7" font-size="18.5">-1</tspan></text>
<text transform="translate(1529.32,1334.70) scale(0.76,1)" font-size="30">10<tspan dy="-9.7" font-size="18.5">0</tspan></text>
<text transform="translate(1578.88,1334.70) scale(0.76,1)" font-size="30">10<tspan dy="-9.7" font-size="18.5">1</tspan></text>
<text transform="translate(1628.44,1334.70) scale(0.76,1)" font-size="30">10<tspan dy="-9.7" font-size="18.5">2</tspan></text>
<text transform="translate(1678.00,1334.70) scale(0.76,1)" font-size="30">10<tspan dy="-9.7" font-size="18.5">3</tspan></text>
<text transform="translate(1576.60,1362.80)" font-size="28.6" text-anchor="middle" textLength="261.00" lengthAdjust="spacingAndGlyphs">Ab concentration (ng/mL)</text>
<text transform="translate(1582.75,1027.60)" font-size="24.3" text-anchor="middle" textLength="236.50" lengthAdjust="spacingAndGlyphs">HIV-1 94/UG/118 (clade D)</text>
<path d="M1452.0,1299.4 L1492.0,1296.9 L1526.6,1291.9 L1561.2,1279.3 L1595.9,1263.4 L1630.5,1231.5 L1665.2,1152.1 L1699.8,1100.8" fill="none" stroke="#000000" stroke-width="2.55" stroke-linejoin="round"/>
<polygon points="1452.0,1293.0 1457.3,1302.8 1446.7,1302.8" fill="#000000" stroke="#000000" stroke-width="1.95" stroke-linejoin="miter"/><polygon points="1492.0,1290.5 1497.3,1300.3 1486.7,1300.3" fill="#000000" stroke="#000000" stroke-width="1.95" stroke-linejoin="miter"/><polygon points="1526.6,1285.5 1531.9,1295.3 1521.3,1295.3" fill="#000000" stroke="#000000" stroke-width="1.95" stroke-linejoin="miter"/><polygon points="1561.2,1272.9 1566.5,1282.7 1555.9,1282.7" fill="#000000" stroke="#000000" stroke-width="1.95" stroke-linejoin="miter"/><polygon points="1595.9,1257.0 1601.2,1266.8 1590.6,1266.8" fill="#000000" stroke="#000000" stroke-width="1.95" stroke-linejoin="miter"/><polygon points="1630.5,1225.1 1635.8,1234.9 1625.2,1234.9" fill="#000000" stroke="#000000" stroke-width="1.95" stroke-linejoin="miter"/><polygon points="1665.2,1145.7 1670.5,1155.5 1659.9,1155.5" fill="#000000" stroke="#000000" stroke-width="1.95" stroke-linejoin="miter"/><polygon points="1699.8,1094.4 1705.1,1104.2 1694.5,1104.2" fill="#000000" stroke="#000000" stroke-width="1.95" stroke-linejoin="miter"/>
<path d="M1452.0,1299.4 L1492.0,1296.9 L1526.6,1291.9 L1561.2,1279.3 L1595.9,1255.4 L1630.5,1240.3 L1665.2,1214.9 L1699.8,1174.2" fill="none" stroke="#000000" stroke-width="2.55" stroke-linejoin="round"/>
<polygon points="1452.0,1293.0 1457.3,1302.8 1446.7,1302.8" fill="#fff" stroke="#000000" stroke-width="1.95"/><polygon points="1492.0,1290.5 1497.3,1300.3 1486.7,1300.3" fill="#fff" stroke="#000000" stroke-width="1.95"/><polygon points="1526.6,1285.5 1531.9,1295.3 1521.3,1295.3" fill="#fff" stroke="#000000" stroke-width="1.95"/><polygon points="1561.2,1272.9 1566.5,1282.7 1555.9,1282.7" fill="#fff" stroke="#000000" stroke-width="1.95"/><polygon points="1595.9,1249.0 1601.2,1258.8 1590.6,1258.8" fill="#fff" stroke="#000000" stroke-width="1.95"/><polygon points="1630.5,1233.9 1635.8,1243.7 1625.2,1243.7" fill="#fff" stroke="#000000" stroke-width="1.95"/><polygon points="1665.2,1208.5 1670.5,1218.3 1659.9,1218.3" fill="#fff" stroke="#000000" stroke-width="1.95"/><polygon points="1699.8,1167.8 1705.1,1177.6 1694.5,1177.6" fill="#fff" stroke="#000000" stroke-width="1.95"/>
<path d="M1452.0,1299.4 L1492.0,1296.9 L1526.6,1291.9 L1561.2,1277.8 L1595.9,1254.1 L1630.5,1209.9 L1665.2,1126.7 L1699.8,1084.2" fill="none" stroke="#000000" stroke-width="2.55" stroke-linejoin="round"/>
<polygon points="1452.0,1293.0 1457.3,1302.8 1446.7,1302.8" fill="#fff" stroke="#000000" stroke-width="1.95"/><polygon points="1452.0,1293.0 1452.0,1302.8 1446.7,1302.8" fill="#000000"/><polygon points="1492.0,1290.5 1497.3,1300.3 1486.7,1300.3" fill="#fff" stroke="#000000" stroke-width="1.95"/><polygon points="1492.0,1290.5 1492.0,1300.3 1486.7,1300.3" fill="#000000"/><polygon points="1526.6,1285.5 1531.9,1295.3 1521.3,1295.3" fill="#fff" stroke="#000000" stroke-width="1.95"/><polygon points="1526.6,1285.5 1526.6,1295.3 1521.3,1295.3" fill="#000000"/><polygon points="1561.2,1271.4 1566.5,1281.2 1555.9,1281.2" fill="#fff" stroke="#000000" stroke-width="1.95"/><polygon points="1561.2,1271.4 1561.2,1281.2 1555.9,1281.2" fill="#000000"/><polygon points="1595.9,1247.7 1601.2,1257.5 1590.6,1257.5" fill="#fff" stroke="#000000" stroke-width="1.95"/><polygon points="1595.9,1247.7 1595.9,1257.5 1590.6,1257.5" fill="#000000"/><polygon points="1630.5,1203.5 1635.8,1213.3 1625.2,1213.3" fill="#fff" stroke="#000000" stroke-width="1.95"/><polygon points="1630.5,1203.5 1630.5,1213.3 1625.2,1213.3" fill="#000000"/><polygon points="1665.2,1120.3 1670.5,1130.1 1659.9,1130.1" fill="#fff" stroke="#000000" stroke-width="1.95"/><polygon points="1665.2,1120.3 1665.2,1130.1 1659.9,1130.1" fill="#000000"/><polygon points="1699.8,1077.8 1705.1,1087.6 1694.5,1087.6" fill="#fff" stroke="#000000" stroke-width="1.95"/><polygon points="1699.8,1077.8 1699.8,1087.6 1694.5,1087.6" fill="#000000"/>
<path d="M1452.0,1296.9 L1492.0,1290.9 L1526.6,1282.8 L1561.2,1275.8 L1595.9,1267.5 L1630.5,1233.0 L1665.2,1177.5 L1699.8,1114.6" fill="none" stroke="#0000ff" stroke-width="2.55" stroke-linejoin="round"/>
<rect x="1447.7" y="1292.6" width="8.6" height="8.6" fill="#0000ff"/><rect x="1487.7" y="1286.6" width="8.6" height="8.6" fill="#0000ff"/><rect x="1522.3" y="1278.5" width="8.6" height="8.6" fill="#0000ff"/><rect x="1556.9" y="1271.5" width="8.6" height="8.6" fill="#0000ff"/><rect x="1591.6" y="1263.2" width="8.6" height="8.6" fill="#0000ff"/><rect x="1626.2" y="1228.7" width="8.6" height="8.6" fill="#0000ff"/><rect x="1660.9" y="1173.2" width="8.6" height="8.6" fill="#0000ff"/><rect x="1695.5" y="1110.3" width="8.6" height="8.6" fill="#0000ff"/>
<path d="M1452.0,1299.4 L1492.0,1299.4 L1526.6,1298.1 L1561.2,1295.9 L1595.9,1280.8 L1630.5,1275.8 L1665.2,1274.8 L1699.8,1214.9" fill="none" stroke="#0000ff" stroke-width="2.55" stroke-linejoin="round"/>
<rect x="1448.8" y="1296.2" width="6.3" height="6.3" fill="#fff" stroke="#0000ff" stroke-width="2.3"/><rect x="1488.8" y="1296.2" width="6.3" height="6.3" fill="#fff" stroke="#0000ff" stroke-width="2.3"/><rect x="1523.4" y="1295.0" width="6.3" height="6.3" fill="#fff" stroke="#0000ff" stroke-width="2.3"/><rect x="1558.1" y="1292.7" width="6.3" height="6.3" fill="#fff" stroke="#0000ff" stroke-width="2.3"/><rect x="1592.7" y="1277.6" width="6.3" height="6.3" fill="#fff" stroke="#0000ff" stroke-width="2.3"/><rect x="1627.4" y="1272.6" width="6.3" height="6.3" fill="#fff" stroke="#0000ff" stroke-width="2.3"/><rect x="1662.0" y="1271.6" width="6.3" height="6.3" fill="#fff" stroke="#0000ff" stroke-width="2.3"/><rect x="1696.6" y="1211.8" width="6.3" height="6.3" fill="#fff" stroke="#0000ff" stroke-width="2.3"/>
<path d="M1452.0,1296.9 L1492.0,1291.9 L1526.6,1284.3 L1561.2,1279.8 L1595.9,1266.7 L1630.5,1229.0 L1665.2,1187.5 L1699.8,1141.8" fill="none" stroke="#0000ff" stroke-width="2.55" stroke-linejoin="round"/>
<rect x="1448.8" y="1293.7" width="6.3" height="6.3" fill="#fff" stroke="#0000ff" stroke-width="2.3"/><rect x="1448.8" y="1293.7" width="6.3" height="3.1" fill="#0000ff"/><rect x="1488.8" y="1288.7" width="6.3" height="6.3" fill="#fff" stroke="#0000ff" stroke-width="2.3"/><rect x="1488.8" y="1288.7" width="6.3" height="3.1" fill="#0000ff"/><rect x="1523.4" y="1281.2" width="6.3" height="6.3" fill="#fff" stroke="#0000ff" stroke-width="2.3"/><rect x="1523.4" y="1281.2" width="6.3" height="3.1" fill="#0000ff"/><rect x="1558.1" y="1276.6" width="6.3" height="6.3" fill="#fff" stroke="#0000ff" stroke-width="2.3"/><rect x="1558.1" y="1276.6" width="6.3" height="3.1" fill="#0000ff"/><rect x="1592.7" y="1263.6" width="6.3" height="6.3" fill="#fff" stroke="#0000ff" stroke-width="2.3"/><rect x="1592.7" y="1263.6" width="6.3" height="3.1" fill="#0000ff"/><rect x="1627.4" y="1225.9" width="6.3" height="6.3" fill="#fff" stroke="#0000ff" stroke-width="2.3"/><rect x="1627.4" y="1225.9" width="6.3" height="3.1" fill="#0000ff"/><rect x="1662.0" y="1184.4" width="6.3" height="6.3" fill="#fff" stroke="#0000ff" stroke-width="2.3"/><rect x="1662.0" y="1184.4" width="6.3" height="3.1" fill="#0000ff"/><rect x="1696.6" y="1138.6" width="6.3" height="6.3" fill="#fff" stroke="#0000ff" stroke-width="2.3"/><rect x="1696.6" y="1138.6" width="6.3" height="3.1" fill="#0000ff"/>
<path d="M1452.0,1299.4 L1492.0,1295.6 L1526.6,1289.8 L1561.2,1274.8 L1595.9,1268.5 L1630.5,1264.5 L1665.2,1247.4 L1699.8,1198.8" fill="none" stroke="#ff0000" stroke-width="2.55" stroke-linejoin="round"/>
<circle cx="1452.0" cy="1299.4" r="3.6" fill="#ff0000"/><circle cx="1492.0" cy="1295.6" r="3.6" fill="#ff0000"/><circle cx="1526.6" cy="1289.8" r="3.6" fill="#ff0000"/><circle cx="1561.2" cy="1274.8" r="3.6" fill="#ff0000"/><circle cx="1595.9" cy="1268.5" r="3.6" fill="#ff0000"/><circle cx="1630.5" cy="1264.5" r="3.6" fill="#ff0000"/><circle cx="1665.2" cy="1247.4" r="3.6" fill="#ff0000"/><circle cx="1699.8" cy="1198.8" r="3.6" fill="#ff0000"/>
<path d="M1452.0,1299.4 L1492.0,1298.1 L1526.6,1294.4 L1561.2,1289.8 L1595.9,1273.8 L1630.5,1267.5 L1665.2,1241.6 L1699.8,1236.6" fill="none" stroke="#ff0000" stroke-width="2.55" stroke-linejoin="round"/>
<circle cx="1452.0" cy="1299.4" r="3.3" fill="#fff" stroke="#ff0000" stroke-width="2.3"/><path d="M1448.7,1299.4 A3.3,3.3 0 0 1 1455.3,1299.4 Z" fill="#ff0000"/><circle cx="1492.0" cy="1298.1" r="3.3" fill="#fff" stroke="#ff0000" stroke-width="2.3"/><path d="M1488.7,1298.1 A3.3,3.3 0 0 1 1495.3,1298.1 Z" fill="#ff0000"/><circle cx="1526.6" cy="1294.4" r="3.3" fill="#fff" stroke="#ff0000" stroke-width="2.3"/><path d="M1523.3,1294.4 A3.3,3.3 0 0 1 1529.9,1294.4 Z" fill="#ff0000"/><circle cx="1561.2" cy="1289.8" r="3.3" fill="#fff" stroke="#ff0000" stroke-width="2.3"/><path d="M1557.9,1289.8 A3.3,3.3 0 0 1 1564.5,1289.8 Z" fill="#ff0000"/><circle cx="1595.9" cy="1273.8" r="3.3" fill="#fff" stroke="#ff0000" stroke-width="2.3"/><path d="M1592.6,1273.8 A3.3,3.3 0 0 1 1599.2,1273.8 Z" fill="#ff0000"/><circle cx="1630.5" cy="1267.5" r="3.3" fill="#fff" stroke="#ff0000" stroke-width="2.3"/><path d="M1627.2,1267.5 A3.3,3.3 0 0 1 1633.8,1267.5 Z" fill="#ff0000"/><circle cx="1665.2" cy="1241.6" r="3.3" fill="#fff" stroke="#ff0000" stroke-width="2.3"/><path d="M1661.9,1241.6 A3.3,3.3 0 0 1 1668.5,1241.6 Z" fill="#ff0000"/><circle cx="1699.8" cy="1236.6" r="3.3" fill="#fff" stroke="#ff0000" stroke-width="2.3"/><path d="M1696.5,1236.6 A3.3,3.3 0 0 1 1703.1,1236.6 Z" fill="#ff0000"/>
<path d="M1452.0,1299.4 L1492.0,1299.4 L1526.6,1299.4 L1561.2,1289.8 L1595.9,1278.8 L1630.5,1258.4 L1665.2,1252.4 L1699.8,1247.4" fill="none" stroke="#ff0000" stroke-width="2.55" stroke-linejoin="round"/>
<circle cx="1452.0" cy="1299.4" r="3.3" fill="#fff" stroke="#ff0000" stroke-width="2.3"/><circle cx="1492.0" cy="1299.4" r="3.3" fill="#fff" stroke="#ff0000" stroke-width="2.3"/><circle cx="1526.6" cy="1299.4" r="3.3" fill="#fff" stroke="#ff0000" stroke-width="2.3"/><circle cx="1561.2" cy="1289.8" r="3.3" fill="#fff" stroke="#ff0000" stroke-width="2.3"/><circle cx="1595.9" cy="1278.8" r="3.3" fill="#fff" stroke="#ff0000" stroke-width="2.3"/><circle cx="1630.5" cy="1258.4" r="3.3" fill="#fff" stroke="#ff0000" stroke-width="2.3"/><circle cx="1665.2" cy="1252.4" r="3.3" fill="#fff" stroke="#ff0000" stroke-width="2.3"/><circle cx="1699.8" cy="1247.4" r="3.3" fill="#fff" stroke="#ff0000" stroke-width="2.3"/>
<path d="M1777.5,1174.4 H2024.0" stroke="#000" stroke-width="1.5" stroke-dasharray="3.6,1.5" fill="none"/>
<path d="M1776.0,1047.4 V1301.4 M1766.5,1300.0 H2027.3" stroke="#000" stroke-width="2.9" fill="none"/>
<path d="M1766.5,1237.2 H1776.0 M1766.5,1174.4 H1776.0 M1766.5,1111.6 H1776.0 M1766.5,1048.8 H1776.0 M1776.0,1300.0 V1311.3 M1817.7,1300.0 V1311.3 M1859.3,1300.0 V1311.3 M1901.0,1300.0 V1311.3 M1942.7,1300.0 V1311.3 M1984.3,1300.0 V1311.3 M2026.0,1300.0 V1311.3 " stroke="#000" stroke-width="2.6" fill="none"/>
<path d="M1788.5,1300.0 V1306.8 M1795.9,1300.0 V1306.8 M1801.1,1300.0 V1306.8 M1805.1,1300.0 V1306.8 M1808.4,1300.0 V1306.8 M1811.2,1300.0 V1306.8 M1813.6,1300.0 V1306.8 M1815.8,1300.0 V1306.8 M1830.2,1300.0 V1306.8 M1837.5,1300.0 V1306.8 M1842.8,1300.0 V1306.8 M1846.8,1300.0 V1306.8 M1850.1,1300.0 V1306.8 M1852.9,1300.0 V1306.8 M1855.3,1300.0 V1306.8 M1857.4,1300.0 V1306.8 M1871.9,1300.0 V1306.8 M1879.2,1300.0 V1306.8 M1884.4,1300.0 V1306.8 M1888.5,1300.0 V1306.8 M1891.8,1300.0 V1306.8 M1894.5,1300.0 V1306.8 M1897.0,1300.0 V1306.8 M1899.1,1300.0 V1306.8 M1913.5,1300.0 V1306.8 M1920.9,1300.0 V1306.8 M1926.1,1300.0 V1306.8 M1930.1,1300.0 V1306.8 M1933.4,1300.0 V1306.8 M1936.2,1300.0 V1306.8 M1938.6,1300.0 V1306.8 M1940.8,1300.0 V1306.8 M1955.2,1300.0 V1306.8 M1962.5,1300.0 V1306.8 M1967.8,1300.0 V1306.8 M1971.8,1300.0 V1306.8 M1975.1,1300.0 V1306.8 M1977.9,1300.0 V1306.8 M1980.3,1300.0 V1306.8 M1982.4,1300.0 V1306.8 M1996.9,1300.0 V1306.8 M2004.2,1300.0 V1306.8 M2009.4,1300.0 V1306.8 M2013.5,1300.0 V1306.8 M2016.8,1300.0 V1306.8 M2019.5,1300.0 V1306.8 M2022.0,1300.0 V1306.8 M2024.1,1300.0 V1306.8 " stroke="#000" stroke-width="2.5" fill="none"/>
<text transform="translate(1764.00,1309.90)" font-size="30" text-anchor="end" textLength="12.40" lengthAdjust="spacingAndGlyphs">0</text>
<text transform="translate(1764.00,1247.10)" font-size="30" text-anchor="end" textLength="24.90" lengthAdjust="spacingAndGlyphs">25</text>
<text transform="translate(1764.00,1184.30)" font-size="30" text-anchor="end" textLength="24.90" lengthAdjust="spacingAndGlyphs">50</text>
<text transform="translate(1764.00,1121.50)" font-size="30" text-anchor="end" textLength="24.90" lengthAdjust="spacingAndGlyphs">75</text>
<text transform="translate(1764.00,1058.70)" font-size="30" text-anchor="end" textLength="37.30" lengthAdjust="spacingAndGlyphs">100</text>
<text transform="translate(1754.20,1335.30) scale(0.76,1)" font-size="30">10<tspan dy="-9.7" font-size="18.5">-3</tspan></text>
<text transform="translate(1795.87,1335.30) scale(0.76,1)" font-size="30">10<tspan dy="-9.7" font-size="18.5">-2</tspan></text>
<text transform="translate(1837.53,1335.30) scale(0.76,1)" font-size="30">10<tspan dy="-9.7" font-size="18.5">-1</tspan></text>
<text transform="translate(1879.20,1335.30) scale(0.76,1)" font-size="30">10<tspan dy="-9.7" font-size="18.5">0</tspan></text>
<text transform="translate(1920.87,1335.30) scale(0.76,1)" font-size="30">10<tspan dy="-9.7" font-size="18.5">1</tspan></text>
<text transform="translate(1962.53,1335.30) scale(0.76,1)" font-size="30">10<tspan dy="-9.7" font-size="18.5">2</tspan></text>
<text transform="translate(2004.20,1335.30) scale(0.76,1)" font-size="30">10<tspan dy="-9.7" font-size="18.5">3</tspan></text>
<text transform="translate(1901.70,1363.40)" font-size="28.6" text-anchor="middle" textLength="261.00" lengthAdjust="spacingAndGlyphs">Ab concentration (ng/mL)</text>
<text transform="translate(1905.00,1028.40)" font-size="24.3" text-anchor="middle" textLength="212.00" lengthAdjust="spacingAndGlyphs">HIV-1 RV217 (clade AE)</text>
<path d="M1776.0,1300.0 L1822.1,1293.7 L1851.3,1287.9 L1880.4,1277.6 L1909.5,1240.2 L1938.6,1205.8 L1967.8,1155.1 L1996.9,1094.3 L2026.0,1059.9" fill="none" stroke="#000000" stroke-width="2.55" stroke-linejoin="round"/>
<polygon points="1776.0,1293.6 1781.3,1303.4 1770.7,1303.4" fill="#000000" stroke="#000000" stroke-width="1.95" stroke-linejoin="miter"/><polygon points="1822.1,1287.3 1827.4,1297.1 1816.8,1297.1" fill="#000000" stroke="#000000" stroke-width="1.95" stroke-linejoin="miter"/><polygon points="1851.3,1281.5 1856.6,1291.3 1846.0,1291.3" fill="#000000" stroke="#000000" stroke-width="1.95" stroke-linejoin="miter"/><polygon points="1880.4,1271.2 1885.7,1281.0 1875.1,1281.0" fill="#000000" stroke="#000000" stroke-width="1.95" stroke-linejoin="miter"/><polygon points="1909.5,1233.8 1914.8,1243.6 1904.2,1243.6" fill="#000000" stroke="#000000" stroke-width="1.95" stroke-linejoin="miter"/><polygon points="1938.6,1199.4 1943.9,1209.2 1933.3,1209.2" fill="#000000" stroke="#000000" stroke-width="1.95" stroke-linejoin="miter"/><polygon points="1967.8,1148.7 1973.1,1158.5 1962.5,1158.5" fill="#000000" stroke="#000000" stroke-width="1.95" stroke-linejoin="miter"/><polygon points="1996.9,1087.9 2002.2,1097.7 1991.6,1097.7" fill="#000000" stroke="#000000" stroke-width="1.95" stroke-linejoin="miter"/><polygon points="2026.0,1053.5 2031.3,1063.3 2020.7,1063.3" fill="#000000" stroke="#000000" stroke-width="1.95" stroke-linejoin="miter"/>
<path d="M1776.0,1300.0 L1822.1,1297.5 L1851.3,1288.9 L1880.4,1270.6 L1909.5,1247.2 L1938.6,1218.9 L1967.8,1163.3 L1996.9,1117.6 L2026.0,1075.2" fill="none" stroke="#000000" stroke-width="2.55" stroke-linejoin="round"/>
<polygon points="1776.0,1293.6 1781.3,1303.4 1770.7,1303.4" fill="#fff" stroke="#000000" stroke-width="1.95"/><polygon points="1822.1,1291.1 1827.4,1300.9 1816.8,1300.9" fill="#fff" stroke="#000000" stroke-width="1.95"/><polygon points="1851.3,1282.5 1856.6,1292.3 1846.0,1292.3" fill="#fff" stroke="#000000" stroke-width="1.95"/><polygon points="1880.4,1264.2 1885.7,1274.0 1875.1,1274.0" fill="#fff" stroke="#000000" stroke-width="1.95"/><polygon points="1909.5,1240.8 1914.8,1250.6 1904.2,1250.6" fill="#fff" stroke="#000000" stroke-width="1.95"/><polygon points="1938.6,1212.5 1943.9,1222.3 1933.3,1222.3" fill="#fff" stroke="#000000" stroke-width="1.95"/><polygon points="1967.8,1156.9 1973.1,1166.7 1962.5,1166.7" fill="#fff" stroke="#000000" stroke-width="1.95"/><polygon points="1996.9,1111.2 2002.2,1121.0 1991.6,1121.0" fill="#fff" stroke="#000000" stroke-width="1.95"/><polygon points="2026.0,1068.8 2031.3,1078.6 2020.7,1078.6" fill="#fff" stroke="#000000" stroke-width="1.95"/>
<path d="M1776.0,1300.0 L1822.1,1293.0 L1851.3,1280.7 L1880.4,1260.6 L1909.5,1225.1 L1938.6,1189.5 L1967.8,1111.6 L1996.9,1050.8 L2026.0,1050.8" fill="none" stroke="#000000" stroke-width="2.55" stroke-linejoin="round"/>
<polygon points="1776.0,1293.6 1781.3,1303.4 1770.7,1303.4" fill="#fff" stroke="#000000" stroke-width="1.95"/><polygon points="1776.0,1293.6 1776.0,1303.4 1770.7,1303.4" fill="#000000"/><polygon points="1822.1,1286.6 1827.4,1296.4 1816.8,1296.4" fill="#fff" stroke="#000000" stroke-width="1.95"/><polygon points="1822.1,1286.6 1822.1,1296.4 1816.8,1296.4" fill="#000000"/><polygon points="1851.3,1274.3 1856.6,1284.1 1846.0,1284.1" fill="#fff" stroke="#000000" stroke-width="1.95"/><polygon points="1851.3,1274.3 1851.3,1284.1 1846.0,1284.1" fill="#000000"/><polygon points="1880.4,1254.2 1885.7,1264.0 1875.1,1264.0" fill="#fff" stroke="#000000" stroke-width="1.95"/><polygon points="1880.4,1254.2 1880.4,1264.0 1875.1,1264.0" fill="#000000"/><polygon points="1909.5,1218.7 1914.8,1228.5 1904.2,1228.5" fill="#fff" stroke="#000000" stroke-width="1.95"/><polygon points="1909.5,1218.7 1909.5,1228.5 1904.2,1228.5" fill="#000000"/><polygon points="1938.6,1183.1 1943.9,1192.9 1933.3,1192.9" fill="#fff" stroke="#000000" stroke-width="1.95"/><polygon points="1938.6,1183.1 1938.6,1192.9 1933.3,1192.9" fill="#000000"/><polygon points="1967.8,1105.2 1973.1,1115.0 1962.5,1115.0" fill="#fff" stroke="#000000" stroke-width="1.95"/><polygon points="1967.8,1105.2 1967.8,1115.0 1962.5,1115.0" fill="#000000"/><polygon points="1996.9,1044.4 2002.2,1054.2 1991.6,1054.2" fill="#fff" stroke="#000000" stroke-width="1.95"/><polygon points="1996.9,1044.4 1996.9,1054.2 1991.6,1054.2" fill="#000000"/><polygon points="2026.0,1044.4 2031.3,1054.2 2020.7,1054.2" fill="#fff" stroke="#000000" stroke-width="1.95"/><polygon points="2026.0,1044.4 2026.0,1054.2 2020.7,1054.2" fill="#000000"/>
<path d="M1776.0,1300.0 L1822.1,1297.5 L1851.3,1296.2 L1880.4,1295.0 L1909.5,1294.0 L1938.6,1284.9 L1967.8,1240.2 L1996.9,1184.4 L2026.0,1157.8" fill="none" stroke="#0000ff" stroke-width="2.55" stroke-linejoin="round"/>
<rect x="1771.7" y="1295.7" width="8.6" height="8.6" fill="#0000ff"/><rect x="1817.8" y="1293.2" width="8.6" height="8.6" fill="#0000ff"/><rect x="1847.0" y="1291.9" width="8.6" height="8.6" fill="#0000ff"/><rect x="1876.1" y="1290.7" width="8.6" height="8.6" fill="#0000ff"/><rect x="1905.2" y="1289.7" width="8.6" height="8.6" fill="#0000ff"/><rect x="1934.3" y="1280.6" width="8.6" height="8.6" fill="#0000ff"/><rect x="1963.5" y="1235.9" width="8.6" height="8.6" fill="#0000ff"/><rect x="1992.6" y="1180.1" width="8.6" height="8.6" fill="#0000ff"/><rect x="2021.7" y="1153.5" width="8.6" height="8.6" fill="#0000ff"/>
<path d="M1776.0,1300.0 L1822.1,1300.0 L1851.3,1294.0 L1880.4,1286.9 L1909.5,1287.9 L1938.6,1291.0 L1967.8,1254.8 L1996.9,1189.5 L2026.0,1157.8" fill="none" stroke="#0000ff" stroke-width="2.55" stroke-linejoin="round"/>
<rect x="1772.8" y="1296.8" width="6.3" height="6.3" fill="#fff" stroke="#0000ff" stroke-width="2.3"/><rect x="1819.0" y="1296.8" width="6.3" height="6.3" fill="#fff" stroke="#0000ff" stroke-width="2.3"/><rect x="1848.1" y="1290.8" width="6.3" height="6.3" fill="#fff" stroke="#0000ff" stroke-width="2.3"/><rect x="1877.2" y="1283.8" width="6.3" height="6.3" fill="#fff" stroke="#0000ff" stroke-width="2.3"/><rect x="1906.4" y="1284.8" width="6.3" height="6.3" fill="#fff" stroke="#0000ff" stroke-width="2.3"/><rect x="1935.5" y="1287.8" width="6.3" height="6.3" fill="#fff" stroke="#0000ff" stroke-width="2.3"/><rect x="1964.6" y="1251.6" width="6.3" height="6.3" fill="#fff" stroke="#0000ff" stroke-width="2.3"/><rect x="1993.7" y="1186.3" width="6.3" height="6.3" fill="#fff" stroke="#0000ff" stroke-width="2.3"/><rect x="2022.8" y="1154.7" width="6.3" height="6.3" fill="#fff" stroke="#0000ff" stroke-width="2.3"/>
<path d="M1776.0,1300.0 L1822.1,1294.0 L1851.3,1294.0 L1880.4,1293.0 L1909.5,1287.9 L1938.6,1257.5 L1967.8,1228.2 L1996.9,1152.0 L2026.0,1127.9" fill="none" stroke="#0000ff" stroke-width="2.55" stroke-linejoin="round"/>
<rect x="1772.8" y="1296.8" width="6.3" height="6.3" fill="#fff" stroke="#0000ff" stroke-width="2.3"/><rect x="1772.8" y="1296.8" width="6.3" height="3.1" fill="#0000ff"/><rect x="1819.0" y="1290.8" width="6.3" height="6.3" fill="#fff" stroke="#0000ff" stroke-width="2.3"/><rect x="1819.0" y="1290.8" width="6.3" height="3.1" fill="#0000ff"/><rect x="1848.1" y="1290.8" width="6.3" height="6.3" fill="#fff" stroke="#0000ff" stroke-width="2.3"/><rect x="1848.1" y="1290.8" width="6.3" height="3.1" fill="#0000ff"/><rect x="1877.2" y="1289.8" width="6.3" height="6.3" fill="#fff" stroke="#0000ff" stroke-width="2.3"/><rect x="1877.2" y="1289.8" width="6.3" height="3.1" fill="#0000ff"/><rect x="1906.4" y="1284.8" width="6.3" height="6.3" fill="#fff" stroke="#0000ff" stroke-width="2.3"/><rect x="1906.4" y="1284.8" width="6.3" height="3.1" fill="#0000ff"/><rect x="1935.5" y="1254.4" width="6.3" height="6.3" fill="#fff" stroke="#0000ff" stroke-width="2.3"/><rect x="1935.5" y="1254.4" width="6.3" height="3.1" fill="#0000ff"/><rect x="1964.6" y="1225.0" width="6.3" height="6.3" fill="#fff" stroke="#0000ff" stroke-width="2.3"/><rect x="1964.6" y="1225.0" width="6.3" height="3.1" fill="#0000ff"/><rect x="1993.7" y="1148.9" width="6.3" height="6.3" fill="#fff" stroke="#0000ff" stroke-width="2.3"/><rect x="1993.7" y="1148.9" width="6.3" height="3.1" fill="#0000ff"/><rect x="2022.8" y="1124.8" width="6.3" height="6.3" fill="#fff" stroke="#0000ff" stroke-width="2.3"/><rect x="2022.8" y="1124.8" width="6.3" height="3.1" fill="#0000ff"/>
<path d="M1776.0,1300.0 L1822.1,1300.0 L1851.3,1300.0 L1880.4,1297.5 L1909.5,1294.0 L1938.6,1284.9 L1967.8,1280.7 L1996.9,1274.9 L2026.0,1256.5" fill="none" stroke="#ff0000" stroke-width="2.55" stroke-linejoin="round"/>
<circle cx="1776.0" cy="1300.0" r="3.6" fill="#ff0000"/><circle cx="1822.1" cy="1300.0" r="3.6" fill="#ff0000"/><circle cx="1851.3" cy="1300.0" r="3.6" fill="#ff0000"/><circle cx="1880.4" cy="1297.5" r="3.6" fill="#ff0000"/><circle cx="1909.5" cy="1294.0" r="3.6" fill="#ff0000"/><circle cx="1938.6" cy="1284.9" r="3.6" fill="#ff0000"/><circle cx="1967.8" cy="1280.7" r="3.6" fill="#ff0000"/><circle cx="1996.9" cy="1274.9" r="3.6" fill="#ff0000"/><circle cx="2026.0" cy="1256.5" r="3.6" fill="#ff0000"/>
<path d="M1776.0,1300.0 L1822.1,1300.0 L1851.3,1300.0 L1880.4,1298.7 L1909.5,1296.2 L1938.6,1286.9 L1967.8,1287.9 L1996.9,1277.6 L2026.0,1255.5" fill="none" stroke="#ff0000" stroke-width="2.55" stroke-linejoin="round"/>
<circle cx="1776.0" cy="1300.0" r="3.3" fill="#fff" stroke="#ff0000" stroke-width="2.3"/><path d="M1772.7,1300.0 A3.3,3.3 0 0 1 1779.3,1300.0 Z" fill="#ff0000"/><circle cx="1822.1" cy="1300.0" r="3.3" fill="#fff" stroke="#ff0000" stroke-width="2.3"/><path d="M1818.8,1300.0 A3.3,3.3 0 0 1 1825.4,1300.0 Z" fill="#ff0000"/><circle cx="1851.3" cy="1300.0" r="3.3" fill="#fff" stroke="#ff0000" stroke-width="2.3"/><path d="M1848.0,1300.0 A3.3,3.3 0 0 1 1854.6,1300.0 Z" fill="#ff0000"/><circle cx="1880.4" cy="1298.7" r="3.3" fill="#fff" stroke="#ff0000" stroke-width="2.3"/><path d="M1877.1,1298.7 A3.3,3.3 0 0 1 1883.7,1298.7 Z" fill="#ff0000"/><circle cx="1909.5" cy="1296.2" r="3.3" fill="#fff" stroke="#ff0000" stroke-width="2.3"/><path d="M1906.2,1296.2 A3.3,3.3 0 0 1 1912.8,1296.2 Z" fill="#ff0000"/><circle cx="1938.6" cy="1286.9" r="3.3" fill="#fff" stroke="#ff0000" stroke-width="2.3"/><path d="M1935.3,1286.9 A3.3,3.3 0 0 1 1941.9,1286.9 Z" fill="#ff0000"/><circle cx="1967.8" cy="1287.9" r="3.3" fill="#fff" stroke="#ff0000" stroke-width="2.3"/><path d="M1964.5,1287.9 A3.3,3.3 0 0 1 1971.1,1287.9 Z" fill="#ff0000"/><circle cx="1996.9" cy="1277.6" r="3.3" fill="#fff" stroke="#ff0000" stroke-width="2.3"/><path d="M1993.6,1277.6 A3.3,3.3 0 0 1 2000.2,1277.6 Z" fill="#ff0000"/><circle cx="2026.0" cy="1255.5" r="3.3" fill="#fff" stroke="#ff0000" stroke-width="2.3"/><path d="M2022.7,1255.5 A3.3,3.3 0 0 1 2029.3,1255.5 Z" fill="#ff0000"/>
<path d="M1776.0,1300.0 L1822.1,1300.0 L1851.3,1300.0 L1880.4,1300.0 L1909.5,1300.0 L1938.6,1300.0 L1967.8,1298.0 L1996.9,1288.9 L2026.0,1258.6" fill="none" stroke="#ff0000" stroke-width="2.55" stroke-linejoin="round"/>
<circle cx="1776.0" cy="1300.0" r="3.3" fill="#fff" stroke="#ff0000" stroke-width="2.3"/><circle cx="1822.1" cy="1300.0" r="3.3" fill="#fff" stroke="#ff0000" stroke-width="2.3"/><circle cx="1851.3" cy="1300.0" r="3.3" fill="#fff" stroke="#ff0000" stroke-width="2.3"/><circle cx="1880.4" cy="1300.0" r="3.3" fill="#fff" stroke="#ff0000" stroke-width="2.3"/><circle cx="1909.5" cy="1300.0" r="3.3" fill="#fff" stroke="#ff0000" stroke-width="2.3"/><circle cx="1938.6" cy="1300.0" r="3.3" fill="#fff" stroke="#ff0000" stroke-width="2.3"/><circle cx="1967.8" cy="1298.0" r="3.3" fill="#fff" stroke="#ff0000" stroke-width="2.3"/><circle cx="1996.9" cy="1288.9" r="3.3" fill="#fff" stroke="#ff0000" stroke-width="2.3"/><circle cx="2026.0" cy="1258.6" r="3.3" fill="#fff" stroke="#ff0000" stroke-width="2.3"/>
<text transform="translate(58.00,1442.80)" font-size="27" font-weight="bold" textLength="157.50" lengthAdjust="spacingAndGlyphs">IC<tspan dy="7" font-size="16">50</tspan><tspan dy="-7"> (ng/mL)</tspan></text>
<rect x="1193.3" y="1418" width="45.4" height="33.6" fill="#000066"/>
<text transform="translate(1252.00,1442.00)" font-size="27" textLength="88.80" lengthAdjust="spacingAndGlyphs">IC<tspan dy="6.5" font-size="14.5">50</tspan><tspan dy="-6.5"> &lt; 10</tspan></text>
<rect x="1364.8" y="1418" width="45.8" height="33.6" fill="#0000ff"/>
<text transform="translate(1426.80,1442.00)" font-size="27" textLength="155.60" lengthAdjust="spacingAndGlyphs">10 &lt; IC<tspan dy="6.5" font-size="14.5">50</tspan><tspan dy="-6.5"> &lt; 100</tspan></text>
<rect x="1614" y="1418" width="45" height="33.6" fill="#3399ff"/>
<text transform="translate(1669.70,1442.00)" font-size="27" textLength="180.30" lengthAdjust="spacingAndGlyphs">100 &lt; IC<tspan dy="6.5" font-size="14.5">50</tspan><tspan dy="-6.5"> &lt; 1000</tspan></text>
<rect x="1867" y="1418" width="44.6" height="33.6" fill="#cceeff"/>
<text transform="translate(1927.50,1442.00)" font-size="27" textLength="114.50" lengthAdjust="spacingAndGlyphs">IC<tspan dy="6.5" font-size="14.5">50</tspan><tspan dy="-6.5"> &gt; 1000</tspan></text>
<rect x="391.50" y="1575.60" width="151.16" height="40.50" fill="#000066" shape-rendering="crispEdges"/>
<rect x="542.16" y="1575.60" width="151.16" height="40.50" fill="#000066" shape-rendering="crispEdges"/>
<rect x="692.82" y="1575.60" width="151.16" height="40.50" fill="#000066" shape-rendering="crispEdges"/>
<rect x="843.48" y="1575.60" width="151.16" height="40.50" fill="#3399ff" shape-rendering="crispEdges"/>
<rect x="994.14" y="1575.60" width="151.16" height="40.50" fill="#cceeff" shape-rendering="crispEdges"/>
<rect x="1144.80" y="1575.60" width="151.16" height="40.50" fill="#cceeff" shape-rendering="crispEdges"/>
<rect x="1295.46" y="1575.60" width="151.16" height="40.50" fill="#cceeff" shape-rendering="crispEdges"/>
<rect x="1446.12" y="1575.60" width="151.16" height="40.50" fill="#0000ff" shape-rendering="crispEdges"/>
<rect x="1596.78" y="1575.60" width="151.16" height="40.50" fill="#0000ff" shape-rendering="crispEdges"/>
<rect x="1747.44" y="1575.60" width="151.16" height="40.50" fill="#cceeff" shape-rendering="crispEdges"/>
<rect x="1898.10" y="1575.60" width="151.16" height="40.50" fill="#cceeff" shape-rendering="crispEdges"/>
<text transform="translate(466.83,1606.80)" font-size="26" text-anchor="middle" font-weight="bold" fill="#fff" textLength="29.50" lengthAdjust="spacingAndGlyphs">5.6</text>
<text transform="translate(617.49,1606.80)" font-size="26" text-anchor="middle" font-weight="bold" fill="#fff" textLength="29.50" lengthAdjust="spacingAndGlyphs">4.0</text>
<text transform="translate(768.15,1606.80)" font-size="26" text-anchor="middle" font-weight="bold" fill="#fff" textLength="29.50" lengthAdjust="spacingAndGlyphs">3.3</text>
<text transform="translate(918.81,1606.80)" font-size="26" text-anchor="middle" font-weight="bold" fill="#fff" textLength="53.00" lengthAdjust="spacingAndGlyphs">598.7</text>
<text transform="translate(1069.47,1606.80)" font-size="26" text-anchor="middle" font-weight="bold" textLength="71.50" lengthAdjust="spacingAndGlyphs">&gt; 5,000</text>
<text transform="translate(1220.13,1606.80)" font-size="26" text-anchor="middle" font-weight="bold" textLength="71.50" lengthAdjust="spacingAndGlyphs">&gt; 5,000</text>
<text transform="translate(1370.79,1606.80)" font-size="26" text-anchor="middle" font-weight="bold" textLength="71.50" lengthAdjust="spacingAndGlyphs">&gt; 5,000</text>
<text transform="translate(1521.45,1606.80)" font-size="26" text-anchor="middle" font-weight="bold" fill="#fff" textLength="41.50" lengthAdjust="spacingAndGlyphs">17.9</text>
<text transform="translate(1672.11,1606.80)" font-size="26" text-anchor="middle" font-weight="bold" fill="#fff" textLength="41.50" lengthAdjust="spacingAndGlyphs">15.4</text>
<text transform="translate(1822.77,1606.80)" font-size="26" text-anchor="middle" font-weight="bold" textLength="71.50" lengthAdjust="spacingAndGlyphs">&gt; 5,000</text>
<text transform="translate(1973.43,1606.80)" font-size="26" text-anchor="middle" font-weight="bold" textLength="71.50" lengthAdjust="spacingAndGlyphs">&gt; 5,000</text>
<path d="M19.4,1598.1 H76.8" stroke="#ff0000" stroke-width="3.1"/>
<circle cx="47.5" cy="1598.1" r="11.4" fill="#fff" stroke="#ff0000" stroke-width="3.6"/>
<text transform="translate(94.40,1606.60)" font-size="26" textLength="165.50" lengthAdjust="spacingAndGlyphs">SC-PGT121 aIgG</text>
<rect x="391.50" y="1615.60" width="151.16" height="40.50" fill="#000066" shape-rendering="crispEdges"/>
<rect x="542.16" y="1615.60" width="151.16" height="40.50" fill="#000066" shape-rendering="crispEdges"/>
<rect x="692.82" y="1615.60" width="151.16" height="40.50" fill="#0000ff" shape-rendering="crispEdges"/>
<rect x="843.48" y="1615.60" width="151.16" height="40.50" fill="#000066" shape-rendering="crispEdges"/>
<rect x="994.14" y="1615.60" width="151.16" height="40.50" fill="#cceeff" shape-rendering="crispEdges"/>
<rect x="1144.80" y="1615.60" width="151.16" height="40.50" fill="#cceeff" shape-rendering="crispEdges"/>
<rect x="1295.46" y="1615.60" width="151.16" height="40.50" fill="#cceeff" shape-rendering="crispEdges"/>
<rect x="1446.12" y="1615.60" width="151.16" height="40.50" fill="#000066" shape-rendering="crispEdges"/>
<rect x="1596.78" y="1615.60" width="151.16" height="40.50" fill="#0000ff" shape-rendering="crispEdges"/>
<rect x="1747.44" y="1615.60" width="151.16" height="40.50" fill="#cceeff" shape-rendering="crispEdges"/>
<rect x="1898.10" y="1615.60" width="151.16" height="40.50" fill="#cceeff" shape-rendering="crispEdges"/>
<text transform="translate(466.83,1646.80)" font-size="26" text-anchor="middle" font-weight="bold" fill="#fff" textLength="29.50" lengthAdjust="spacingAndGlyphs">4.3</text>
<text transform="translate(617.49,1646.80)" font-size="26" text-anchor="middle" font-weight="bold" fill="#fff" textLength="29.50" lengthAdjust="spacingAndGlyphs">5.0</text>
<text transform="translate(768.15,1646.80)" font-size="26" text-anchor="middle" font-weight="bold" fill="#fff" textLength="41.50" lengthAdjust="spacingAndGlyphs">23.6</text>
<text transform="translate(918.81,1646.80)" font-size="26" text-anchor="middle" font-weight="bold" fill="#fff" textLength="29.50" lengthAdjust="spacingAndGlyphs">2.6</text>
<text transform="translate(1069.47,1646.80)" font-size="26" text-anchor="middle" font-weight="bold" textLength="71.50" lengthAdjust="spacingAndGlyphs">&gt; 5,000</text>
<text transform="translate(1220.13,1646.80)" font-size="26" text-anchor="middle" font-weight="bold" textLength="71.50" lengthAdjust="spacingAndGlyphs">&gt; 2,000</text>
<text transform="translate(1370.79,1646.80)" font-size="26" text-anchor="middle" font-weight="bold" textLength="71.50" lengthAdjust="spacingAndGlyphs">&gt; 2,000</text>
<text transform="translate(1521.45,1646.80)" font-size="26" text-anchor="middle" font-weight="bold" fill="#fff" textLength="29.50" lengthAdjust="spacingAndGlyphs">7.5</text>
<text transform="translate(1672.11,1646.80)" font-size="26" text-anchor="middle" font-weight="bold" fill="#fff" textLength="41.50" lengthAdjust="spacingAndGlyphs">55.5</text>
<text transform="translate(1822.77,1646.80)" font-size="26" text-anchor="middle" font-weight="bold" textLength="71.50" lengthAdjust="spacingAndGlyphs">&gt; 2,000</text>
<text transform="translate(1973.43,1646.80)" font-size="26" text-anchor="middle" font-weight="bold" textLength="71.50" lengthAdjust="spacingAndGlyphs">&gt; 5,000</text>
<path d="M19.4,1638.1 H76.8" stroke="#ff0000" stroke-width="3.1"/>
<circle cx="47.5" cy="1638.1" r="13.200000000000001" fill="#ff0000"/>
<text transform="translate(94.40,1646.60)" font-size="26" textLength="155.60" lengthAdjust="spacingAndGlyphs">SC-VRC07 aIgG</text>
<rect x="391.50" y="1655.60" width="151.16" height="40.50" fill="#000066" shape-rendering="crispEdges"/>
<rect x="542.16" y="1655.60" width="151.16" height="40.50" fill="#000066" shape-rendering="crispEdges"/>
<rect x="692.82" y="1655.60" width="151.16" height="40.50" fill="#000066" shape-rendering="crispEdges"/>
<rect x="843.48" y="1655.60" width="151.16" height="40.50" fill="#000066" shape-rendering="crispEdges"/>
<rect x="994.14" y="1655.60" width="151.16" height="40.50" fill="#cceeff" shape-rendering="crispEdges"/>
<rect x="1144.80" y="1655.60" width="151.16" height="40.50" fill="#cceeff" shape-rendering="crispEdges"/>
<rect x="1295.46" y="1655.60" width="151.16" height="40.50" fill="#cceeff" shape-rendering="crispEdges"/>
<rect x="1446.12" y="1655.60" width="151.16" height="40.50" fill="#0000ff" shape-rendering="crispEdges"/>
<rect x="1596.78" y="1655.60" width="151.16" height="40.50" fill="#0000ff" shape-rendering="crispEdges"/>
<rect x="1747.44" y="1655.60" width="151.16" height="40.50" fill="#cceeff" shape-rendering="crispEdges"/>
<rect x="1898.10" y="1655.60" width="151.16" height="40.50" fill="#cceeff" shape-rendering="crispEdges"/>
<text transform="translate(466.83,1686.80)" font-size="26" text-anchor="middle" font-weight="bold" fill="#fff" textLength="29.50" lengthAdjust="spacingAndGlyphs">2.1</text>
<text transform="translate(617.49,1686.80)" font-size="26" text-anchor="middle" font-weight="bold" fill="#fff" textLength="29.50" lengthAdjust="spacingAndGlyphs">2.1</text>
<text transform="translate(768.15,1686.80)" font-size="26" text-anchor="middle" font-weight="bold" fill="#fff" textLength="29.50" lengthAdjust="spacingAndGlyphs">7.7</text>
<text transform="translate(918.81,1686.80)" font-size="26" text-anchor="middle" font-weight="bold" fill="#fff" textLength="29.50" lengthAdjust="spacingAndGlyphs">5.9</text>
<text transform="translate(1069.47,1686.80)" font-size="26" text-anchor="middle" font-weight="bold" textLength="71.50" lengthAdjust="spacingAndGlyphs">&gt; 5,000</text>
<text transform="translate(1220.13,1686.80)" font-size="26" text-anchor="middle" font-weight="bold" textLength="71.50" lengthAdjust="spacingAndGlyphs">&gt; 5,000</text>
<text transform="translate(1370.79,1686.80)" font-size="26" text-anchor="middle" font-weight="bold" textLength="71.50" lengthAdjust="spacingAndGlyphs">&gt; 5,000</text>
<text transform="translate(1521.45,1686.80)" font-size="26" text-anchor="middle" font-weight="bold" fill="#fff" textLength="41.50" lengthAdjust="spacingAndGlyphs">14.4</text>
<text transform="translate(1672.11,1686.80)" font-size="26" text-anchor="middle" font-weight="bold" fill="#fff" textLength="41.50" lengthAdjust="spacingAndGlyphs">16.1</text>
<text transform="translate(1822.77,1686.80)" font-size="26" text-anchor="middle" font-weight="bold" textLength="71.50" lengthAdjust="spacingAndGlyphs">&gt; 5,000</text>
<text transform="translate(1973.43,1686.80)" font-size="26" text-anchor="middle" font-weight="bold" textLength="71.50" lengthAdjust="spacingAndGlyphs">&gt; 5,000</text>
<path d="M19.4,1678.1 H76.8" stroke="#ff0000" stroke-width="3.1"/>
<circle cx="47.5" cy="1678.1" r="11.4" fill="#fff" stroke="#ff0000" stroke-width="3.6"/><path d="M36.1,1678.1 A11.4,11.4 0 0 1 58.9,1678.1 Z" fill="#ff0000"/>
<text transform="translate(94.40,1686.60)" font-size="26" textLength="247.10" lengthAdjust="spacingAndGlyphs">SC-PGT121+VRC07 aIgG</text>
<rect x="391.50" y="1695.60" width="151.16" height="40.50" fill="#0000ff" shape-rendering="crispEdges"/>
<rect x="542.16" y="1695.60" width="151.16" height="40.50" fill="#0000ff" shape-rendering="crispEdges"/>
<rect x="692.82" y="1695.60" width="151.16" height="40.50" fill="#0000ff" shape-rendering="crispEdges"/>
<rect x="843.48" y="1695.60" width="151.16" height="40.50" fill="#0000ff" shape-rendering="crispEdges"/>
<rect x="994.14" y="1695.60" width="151.16" height="40.50" fill="#cceeff" shape-rendering="crispEdges"/>
<rect x="1144.80" y="1695.60" width="151.16" height="40.50" fill="#3399ff" shape-rendering="crispEdges"/>
<rect x="1295.46" y="1695.60" width="151.16" height="40.50" fill="#cceeff" shape-rendering="crispEdges"/>
<rect x="1446.12" y="1695.60" width="151.16" height="40.50" fill="#0000ff" shape-rendering="crispEdges"/>
<rect x="1596.78" y="1695.60" width="151.16" height="40.50" fill="#0000ff" shape-rendering="crispEdges"/>
<rect x="1747.44" y="1695.60" width="151.16" height="40.50" fill="#cceeff" shape-rendering="crispEdges"/>
<rect x="1898.10" y="1695.60" width="151.16" height="40.50" fill="#3399ff" shape-rendering="crispEdges"/>
<text transform="translate(466.83,1726.80)" font-size="26" text-anchor="middle" font-weight="bold" fill="#fff" textLength="41.50" lengthAdjust="spacingAndGlyphs">28.9</text>
<text transform="translate(617.49,1726.80)" font-size="26" text-anchor="middle" font-weight="bold" fill="#fff" textLength="41.50" lengthAdjust="spacingAndGlyphs">20.2</text>
<text transform="translate(768.15,1726.80)" font-size="26" text-anchor="middle" font-weight="bold" fill="#fff" textLength="41.50" lengthAdjust="spacingAndGlyphs">11.1</text>
<text transform="translate(918.81,1726.80)" font-size="26" text-anchor="middle" font-weight="bold" fill="#fff" textLength="41.50" lengthAdjust="spacingAndGlyphs">50.2</text>
<text transform="translate(1069.47,1726.80)" font-size="26" text-anchor="middle" font-weight="bold" textLength="71.50" lengthAdjust="spacingAndGlyphs">&gt; 5,000</text>
<text transform="translate(1220.13,1726.80)" font-size="26" text-anchor="middle" font-weight="bold" fill="#fff" textLength="53.00" lengthAdjust="spacingAndGlyphs">537.5</text>
<text transform="translate(1370.79,1726.80)" font-size="26" text-anchor="middle" font-weight="bold" textLength="71.50" lengthAdjust="spacingAndGlyphs">&gt; 5,000</text>
<text transform="translate(1521.45,1726.80)" font-size="26" text-anchor="middle" font-weight="bold" fill="#fff" textLength="41.50" lengthAdjust="spacingAndGlyphs">18.0</text>
<text transform="translate(1672.11,1726.80)" font-size="26" text-anchor="middle" font-weight="bold" fill="#fff" textLength="41.50" lengthAdjust="spacingAndGlyphs">17.9</text>
<text transform="translate(1822.77,1726.80)" font-size="26" text-anchor="middle" font-weight="bold" textLength="71.50" lengthAdjust="spacingAndGlyphs">&gt; 5,000</text>
<text transform="translate(1973.43,1726.80)" font-size="26" text-anchor="middle" font-weight="bold" fill="#fff" textLength="53.00" lengthAdjust="spacingAndGlyphs">464.3</text>
<path d="M19.4,1718.1 H76.8" stroke="#0000ff" stroke-width="3.1"/>
<rect x="35.7" y="1706.3" width="23.6" height="23.6" fill="#fff" stroke="#0000ff" stroke-width="3.6"/>
<text transform="translate(94.40,1726.60)" font-size="26" textLength="162.60" lengthAdjust="spacingAndGlyphs">SC-PGT121 sIgA</text>
<rect x="391.50" y="1735.60" width="151.16" height="40.50" fill="#0000ff" shape-rendering="crispEdges"/>
<rect x="542.16" y="1735.60" width="151.16" height="40.50" fill="#0000ff" shape-rendering="crispEdges"/>
<rect x="692.82" y="1735.60" width="151.16" height="40.50" fill="#0000ff" shape-rendering="crispEdges"/>
<rect x="843.48" y="1735.60" width="151.16" height="40.50" fill="#0000ff" shape-rendering="crispEdges"/>
<rect x="994.14" y="1735.60" width="151.16" height="40.50" fill="#cceeff" shape-rendering="crispEdges"/>
<rect x="1144.80" y="1735.60" width="151.16" height="40.50" fill="#3399ff" shape-rendering="crispEdges"/>
<rect x="1295.46" y="1735.60" width="151.16" height="40.50" fill="#cceeff" shape-rendering="crispEdges"/>
<rect x="1446.12" y="1735.60" width="151.16" height="40.50" fill="#000066" shape-rendering="crispEdges"/>
<rect x="1596.78" y="1735.60" width="151.16" height="40.50" fill="#0000ff" shape-rendering="crispEdges"/>
<rect x="1747.44" y="1735.60" width="151.16" height="40.50" fill="#3399ff" shape-rendering="crispEdges"/>
<rect x="1898.10" y="1735.60" width="151.16" height="40.50" fill="#3399ff" shape-rendering="crispEdges"/>
<text transform="translate(466.83,1766.80)" font-size="26" text-anchor="middle" font-weight="bold" fill="#fff" textLength="41.50" lengthAdjust="spacingAndGlyphs">43.0</text>
<text transform="translate(617.49,1766.80)" font-size="26" text-anchor="middle" font-weight="bold" fill="#fff" textLength="41.50" lengthAdjust="spacingAndGlyphs">29.8</text>
<text transform="translate(768.15,1766.80)" font-size="26" text-anchor="middle" font-weight="bold" fill="#fff" textLength="41.50" lengthAdjust="spacingAndGlyphs">16.9</text>
<text transform="translate(918.81,1766.80)" font-size="26" text-anchor="middle" font-weight="bold" fill="#fff" textLength="41.50" lengthAdjust="spacingAndGlyphs">40.9</text>
<text transform="translate(1069.47,1766.80)" font-size="26" text-anchor="middle" font-weight="bold" textLength="71.50" lengthAdjust="spacingAndGlyphs">&gt; 5,000</text>
<text transform="translate(1220.13,1766.80)" font-size="26" text-anchor="middle" font-weight="bold" fill="#fff" textLength="53.00" lengthAdjust="spacingAndGlyphs">138.9</text>
<text transform="translate(1370.79,1766.80)" font-size="26" text-anchor="middle" font-weight="bold" textLength="71.50" lengthAdjust="spacingAndGlyphs">&gt; 5,000</text>
<text transform="translate(1521.45,1766.80)" font-size="26" text-anchor="middle" font-weight="bold" fill="#fff" textLength="29.50" lengthAdjust="spacingAndGlyphs">9.9</text>
<text transform="translate(1672.11,1766.80)" font-size="26" text-anchor="middle" font-weight="bold" fill="#fff" textLength="41.50" lengthAdjust="spacingAndGlyphs">28.3</text>
<text transform="translate(1822.77,1766.80)" font-size="26" text-anchor="middle" font-weight="bold" fill="#fff" textLength="53.00" lengthAdjust="spacingAndGlyphs">155.5</text>
<text transform="translate(1973.43,1766.80)" font-size="26" text-anchor="middle" font-weight="bold" fill="#fff" textLength="53.00" lengthAdjust="spacingAndGlyphs">423.6</text>
<path d="M19.4,1758.1 H76.8" stroke="#0000ff" stroke-width="3.1"/>
<rect x="33.900000000000006" y="1744.5" width="27.200000000000003" height="27.200000000000003" fill="#0000ff"/>
<text transform="translate(94.40,1766.60)" font-size="26" textLength="152.10" lengthAdjust="spacingAndGlyphs">SC-VRC07 sIgA</text>
<rect x="391.50" y="1775.60" width="151.16" height="40.50" fill="#0000ff" shape-rendering="crispEdges"/>
<rect x="542.16" y="1775.60" width="151.16" height="40.50" fill="#000066" shape-rendering="crispEdges"/>
<rect x="692.82" y="1775.60" width="151.16" height="40.50" fill="#0000ff" shape-rendering="crispEdges"/>
<rect x="843.48" y="1775.60" width="151.16" height="40.50" fill="#0000ff" shape-rendering="crispEdges"/>
<rect x="994.14" y="1775.60" width="151.16" height="40.50" fill="#3399ff" shape-rendering="crispEdges"/>
<rect x="1144.80" y="1775.60" width="151.16" height="40.50" fill="#0000ff" shape-rendering="crispEdges"/>
<rect x="1295.46" y="1775.60" width="151.16" height="40.50" fill="#cceeff" shape-rendering="crispEdges"/>
<rect x="1446.12" y="1775.60" width="151.16" height="40.50" fill="#0000ff" shape-rendering="crispEdges"/>
<rect x="1596.78" y="1775.60" width="151.16" height="40.50" fill="#0000ff" shape-rendering="crispEdges"/>
<rect x="1747.44" y="1775.60" width="151.16" height="40.50" fill="#3399ff" shape-rendering="crispEdges"/>
<rect x="1898.10" y="1775.60" width="151.16" height="40.50" fill="#3399ff" shape-rendering="crispEdges"/>
<text transform="translate(466.83,1806.80)" font-size="26" text-anchor="middle" font-weight="bold" fill="#fff" textLength="41.50" lengthAdjust="spacingAndGlyphs">10.9</text>
<text transform="translate(617.49,1806.80)" font-size="26" text-anchor="middle" font-weight="bold" fill="#fff" textLength="29.50" lengthAdjust="spacingAndGlyphs">8.5</text>
<text transform="translate(768.15,1806.80)" font-size="26" text-anchor="middle" font-weight="bold" fill="#fff" textLength="41.50" lengthAdjust="spacingAndGlyphs">19.8</text>
<text transform="translate(918.81,1806.80)" font-size="26" text-anchor="middle" font-weight="bold" fill="#fff" textLength="41.50" lengthAdjust="spacingAndGlyphs">17.7</text>
<text transform="translate(1069.47,1806.80)" font-size="26" text-anchor="middle" font-weight="bold" fill="#fff" textLength="53.00" lengthAdjust="spacingAndGlyphs">933.8</text>
<text transform="translate(1220.13,1806.80)" font-size="26" text-anchor="middle" font-weight="bold" fill="#fff" textLength="41.50" lengthAdjust="spacingAndGlyphs">43.8</text>
<text transform="translate(1370.79,1806.80)" font-size="26" text-anchor="middle" font-weight="bold" textLength="71.50" lengthAdjust="spacingAndGlyphs">&gt; 5,000</text>
<text transform="translate(1521.45,1806.80)" font-size="26" text-anchor="middle" font-weight="bold" fill="#fff" textLength="41.50" lengthAdjust="spacingAndGlyphs">11.5</text>
<text transform="translate(1672.11,1806.80)" font-size="26" text-anchor="middle" font-weight="bold" fill="#fff" textLength="41.50" lengthAdjust="spacingAndGlyphs">11.9</text>
<text transform="translate(1822.77,1806.80)" font-size="26" text-anchor="middle" font-weight="bold" fill="#fff" textLength="53.00" lengthAdjust="spacingAndGlyphs">332.5</text>
<text transform="translate(1973.43,1806.80)" font-size="26" text-anchor="middle" font-weight="bold" fill="#fff" textLength="53.00" lengthAdjust="spacingAndGlyphs">132.9</text>
<path d="M19.4,1798.1 H76.8" stroke="#0000ff" stroke-width="3.1"/>
<rect x="35.7" y="1786.3" width="23.6" height="23.6" fill="#fff" stroke="#0000ff" stroke-width="3.6"/><rect x="35.7" y="1786.3" width="23.6" height="11.8" fill="#0000ff"/>
<text transform="translate(94.40,1806.60)" font-size="26" textLength="244.30" lengthAdjust="spacingAndGlyphs">SC-PGT121+VRC07 sIgA</text>
<rect x="391.50" y="1815.60" width="151.16" height="40.50" fill="#000066" shape-rendering="crispEdges"/>
<rect x="542.16" y="1815.60" width="151.16" height="40.50" fill="#000066" shape-rendering="crispEdges"/>
<rect x="692.82" y="1815.60" width="151.16" height="40.50" fill="#000066" shape-rendering="crispEdges"/>
<rect x="843.48" y="1815.60" width="151.16" height="40.50" fill="#000066" shape-rendering="crispEdges"/>
<rect x="994.14" y="1815.60" width="151.16" height="40.50" fill="#3399ff" shape-rendering="crispEdges"/>
<rect x="1144.80" y="1815.60" width="151.16" height="40.50" fill="#0000ff" shape-rendering="crispEdges"/>
<rect x="1295.46" y="1815.60" width="151.16" height="40.50" fill="#cceeff" shape-rendering="crispEdges"/>
<rect x="1446.12" y="1815.60" width="151.16" height="40.50" fill="#000066" shape-rendering="crispEdges"/>
<rect x="1596.78" y="1815.60" width="151.16" height="40.50" fill="#000066" shape-rendering="crispEdges"/>
<rect x="1747.44" y="1815.60" width="151.16" height="40.50" fill="#3399ff" shape-rendering="crispEdges"/>
<rect x="1898.10" y="1815.60" width="151.16" height="40.50" fill="#0000ff" shape-rendering="crispEdges"/>
<text transform="translate(466.83,1846.80)" font-size="26" text-anchor="middle" font-weight="bold" fill="#fff" textLength="29.50" lengthAdjust="spacingAndGlyphs">2.0</text>
<text transform="translate(617.49,1846.80)" font-size="26" text-anchor="middle" font-weight="bold" fill="#fff" textLength="29.50" lengthAdjust="spacingAndGlyphs">1.5</text>
<text transform="translate(768.15,1846.80)" font-size="26" text-anchor="middle" font-weight="bold" fill="#fff" textLength="29.50" lengthAdjust="spacingAndGlyphs">1.1</text>
<text transform="translate(918.81,1846.80)" font-size="26" text-anchor="middle" font-weight="bold" fill="#fff" textLength="29.50" lengthAdjust="spacingAndGlyphs">4.0</text>
<text transform="translate(1069.47,1846.80)" font-size="26" text-anchor="middle" font-weight="bold" fill="#fff" textLength="53.00" lengthAdjust="spacingAndGlyphs">937.2</text>
<text transform="translate(1220.13,1846.80)" font-size="26" text-anchor="middle" font-weight="bold" fill="#fff" textLength="41.50" lengthAdjust="spacingAndGlyphs">43.3</text>
<text transform="translate(1370.79,1846.80)" font-size="26" text-anchor="middle" font-weight="bold" textLength="71.50" lengthAdjust="spacingAndGlyphs">&gt; 5,000</text>
<text transform="translate(1521.45,1846.80)" font-size="26" text-anchor="middle" font-weight="bold" fill="#fff" textLength="29.50" lengthAdjust="spacingAndGlyphs">4.6</text>
<text transform="translate(1672.11,1846.80)" font-size="26" text-anchor="middle" font-weight="bold" fill="#fff" textLength="29.50" lengthAdjust="spacingAndGlyphs">2.7</text>
<text transform="translate(1822.77,1846.80)" font-size="26" text-anchor="middle" font-weight="bold" fill="#fff" textLength="53.00" lengthAdjust="spacingAndGlyphs">960.2</text>
<text transform="translate(1973.43,1846.80)" font-size="26" text-anchor="middle" font-weight="bold" fill="#fff" textLength="41.50" lengthAdjust="spacingAndGlyphs">29.1</text>
<path d="M19.4,1838.1 H76.8" stroke="#000000" stroke-width="3.1"/>
<polygon points="47.5,1825.1999999999998 59.9,1848.1 35.1,1848.1" fill="#fff" stroke="#000000" stroke-width="3.6"/>
<text transform="translate(94.40,1846.60)" font-size="26" textLength="188.30" lengthAdjust="spacingAndGlyphs">SC-PGT121 IgM-tail</text>
<rect x="391.50" y="1855.60" width="151.16" height="40.50" fill="#000066" shape-rendering="crispEdges"/>
<rect x="542.16" y="1855.60" width="151.16" height="40.50" fill="#000066" shape-rendering="crispEdges"/>
<rect x="692.82" y="1855.60" width="151.16" height="40.50" fill="#000066" shape-rendering="crispEdges"/>
<rect x="843.48" y="1855.60" width="151.16" height="40.50" fill="#000066" shape-rendering="crispEdges"/>
<rect x="994.14" y="1855.60" width="151.16" height="40.50" fill="#3399ff" shape-rendering="crispEdges"/>
<rect x="1144.80" y="1855.60" width="151.16" height="40.50" fill="#0000ff" shape-rendering="crispEdges"/>
<rect x="1295.46" y="1855.60" width="151.16" height="40.50" fill="#cceeff" shape-rendering="crispEdges"/>
<rect x="1446.12" y="1855.60" width="151.16" height="40.50" fill="#000066" shape-rendering="crispEdges"/>
<rect x="1596.78" y="1855.60" width="151.16" height="40.50" fill="#0000ff" shape-rendering="crispEdges"/>
<rect x="1747.44" y="1855.60" width="151.16" height="40.50" fill="#0000ff" shape-rendering="crispEdges"/>
<rect x="1898.10" y="1855.60" width="151.16" height="40.50" fill="#0000ff" shape-rendering="crispEdges"/>
<text transform="translate(466.83,1886.80)" font-size="26" text-anchor="middle" font-weight="bold" fill="#fff" textLength="29.50" lengthAdjust="spacingAndGlyphs">1.2</text>
<text transform="translate(617.49,1886.80)" font-size="26" text-anchor="middle" font-weight="bold" fill="#fff" textLength="29.50" lengthAdjust="spacingAndGlyphs">1.8</text>
<text transform="translate(768.15,1886.80)" font-size="26" text-anchor="middle" font-weight="bold" fill="#fff" textLength="29.50" lengthAdjust="spacingAndGlyphs">3.6</text>
<text transform="translate(918.81,1886.80)" font-size="26" text-anchor="middle" font-weight="bold" fill="#fff" textLength="29.50" lengthAdjust="spacingAndGlyphs">2.0</text>
<text transform="translate(1069.47,1886.80)" font-size="26" text-anchor="middle" font-weight="bold" fill="#fff" textLength="53.00" lengthAdjust="spacingAndGlyphs">334.9</text>
<text transform="translate(1220.13,1886.80)" font-size="26" text-anchor="middle" font-weight="bold" fill="#fff" textLength="41.50" lengthAdjust="spacingAndGlyphs">66.3</text>
<text transform="translate(1370.79,1886.80)" font-size="26" text-anchor="middle" font-weight="bold" textLength="71.50" lengthAdjust="spacingAndGlyphs">&gt; 5,000</text>
<text transform="translate(1521.45,1886.80)" font-size="26" text-anchor="middle" font-weight="bold" fill="#fff" textLength="29.50" lengthAdjust="spacingAndGlyphs">5.2</text>
<text transform="translate(1672.11,1886.80)" font-size="26" text-anchor="middle" font-weight="bold" fill="#fff" textLength="41.50" lengthAdjust="spacingAndGlyphs">13.1</text>
<text transform="translate(1822.77,1886.80)" font-size="26" text-anchor="middle" font-weight="bold" fill="#fff" textLength="41.50" lengthAdjust="spacingAndGlyphs">91.7</text>
<text transform="translate(1973.43,1886.80)" font-size="26" text-anchor="middle" font-weight="bold" fill="#fff" textLength="41.50" lengthAdjust="spacingAndGlyphs">18.4</text>
<path d="M19.4,1878.1 H76.8" stroke="#000000" stroke-width="3.1"/>
<polygon points="47.5,1865.1999999999998 59.9,1888.1 35.1,1888.1" fill="#000000" stroke="#000000" stroke-width="3.6"/>
<text transform="translate(94.40,1886.60)" font-size="26" textLength="179.60" lengthAdjust="spacingAndGlyphs">SC-VRC07 IgM-tail</text>
<rect x="391.50" y="1895.60" width="151.16" height="40.50" fill="#000066" shape-rendering="crispEdges"/>
<rect x="542.16" y="1895.60" width="151.16" height="40.50" fill="#000066" shape-rendering="crispEdges"/>
<rect x="692.82" y="1895.60" width="151.16" height="40.50" fill="#000066" shape-rendering="crispEdges"/>
<rect x="843.48" y="1895.60" width="151.16" height="40.50" fill="#000066" shape-rendering="crispEdges"/>
<rect x="994.14" y="1895.60" width="151.16" height="40.50" fill="#3399ff" shape-rendering="crispEdges"/>
<rect x="1144.80" y="1895.60" width="151.16" height="40.50" fill="#000066" shape-rendering="crispEdges"/>
<rect x="1295.46" y="1895.60" width="151.16" height="40.50" fill="#3399ff" shape-rendering="crispEdges"/>
<rect x="1446.12" y="1895.60" width="151.16" height="40.50" fill="#000066" shape-rendering="crispEdges"/>
<rect x="1596.78" y="1895.60" width="151.16" height="40.50" fill="#000066" shape-rendering="crispEdges"/>
<rect x="1747.44" y="1895.60" width="151.16" height="40.50" fill="#0000ff" shape-rendering="crispEdges"/>
<rect x="1898.10" y="1895.60" width="151.16" height="40.50" fill="#000066" shape-rendering="crispEdges"/>
<text transform="translate(466.83,1926.80)" font-size="26" text-anchor="middle" font-weight="bold" fill="#fff" textLength="29.50" lengthAdjust="spacingAndGlyphs">0.8</text>
<text transform="translate(617.49,1926.80)" font-size="26" text-anchor="middle" font-weight="bold" fill="#fff" textLength="29.50" lengthAdjust="spacingAndGlyphs">0.6</text>
<text transform="translate(768.15,1926.80)" font-size="26" text-anchor="middle" font-weight="bold" fill="#fff" textLength="29.50" lengthAdjust="spacingAndGlyphs">0.7</text>
<text transform="translate(918.81,1926.80)" font-size="26" text-anchor="middle" font-weight="bold" fill="#fff" textLength="29.50" lengthAdjust="spacingAndGlyphs">1.0</text>
<text transform="translate(1069.47,1926.80)" font-size="26" text-anchor="middle" font-weight="bold" fill="#fff" textLength="53.00" lengthAdjust="spacingAndGlyphs">118.2</text>
<text transform="translate(1220.13,1926.80)" font-size="26" text-anchor="middle" font-weight="bold" fill="#fff" textLength="29.50" lengthAdjust="spacingAndGlyphs">8.9</text>
<text transform="translate(1370.79,1926.80)" font-size="26" text-anchor="middle" font-weight="bold" fill="#fff" textLength="53.00" lengthAdjust="spacingAndGlyphs">388.6</text>
<text transform="translate(1521.45,1926.80)" font-size="26" text-anchor="middle" font-weight="bold" fill="#fff" textLength="29.50" lengthAdjust="spacingAndGlyphs">2.3</text>
<text transform="translate(1672.11,1926.80)" font-size="26" text-anchor="middle" font-weight="bold" fill="#fff" textLength="29.50" lengthAdjust="spacingAndGlyphs">2.2</text>
<text transform="translate(1822.77,1926.80)" font-size="26" text-anchor="middle" font-weight="bold" fill="#fff" textLength="41.50" lengthAdjust="spacingAndGlyphs">47.3</text>
<text transform="translate(1973.43,1926.80)" font-size="26" text-anchor="middle" font-weight="bold" fill="#fff" textLength="29.50" lengthAdjust="spacingAndGlyphs">9.9</text>
<path d="M19.4,1918.1 H76.8" stroke="#000000" stroke-width="3.1"/>
<polygon points="47.5,1905.1999999999998 59.9,1928.1 35.1,1928.1" fill="#fff" stroke="#000000" stroke-width="3.6"/><polygon points="47.5,1905.1999999999998 47.5,1928.1 35.1,1928.1" fill="#000000"/>
<text transform="translate(94.40,1926.60)" font-size="26" textLength="271.80" lengthAdjust="spacingAndGlyphs">SC-PGT121+VRC07 IgM-tail</text>
<text transform="translate(769.00,1488.60)" font-size="26" text-anchor="middle" font-weight="bold" textLength="48.50" lengthAdjust="spacingAndGlyphs">SHIV</text>
<text transform="translate(1597.50,1488.60)" font-size="26" text-anchor="middle" font-weight="bold" textLength="52.00" lengthAdjust="spacingAndGlyphs">HIV-1</text>
<text transform="translate(196.50,1566.80)" font-size="26" text-anchor="middle" font-weight="bold" textLength="91.60" lengthAdjust="spacingAndGlyphs">Antibody</text>
<text transform="translate(467.63,1526.60)" font-size="26" text-anchor="middle" font-weight="bold" textLength="78.50" lengthAdjust="spacingAndGlyphs">Clade A</text>
<text transform="translate(467.63,1566.80)" font-size="26" text-anchor="middle" textLength="114.00" lengthAdjust="spacingAndGlyphs">KNH1144p2</text>
<text transform="translate(618.29,1526.60)" font-size="26" text-anchor="middle" font-weight="bold" textLength="78.50" lengthAdjust="spacingAndGlyphs">Clade B</text>
<text transform="translate(618.29,1566.80)" font-size="26" text-anchor="middle" textLength="57.50" lengthAdjust="spacingAndGlyphs">162p3</text>
<text transform="translate(768.95,1526.60)" font-size="26" text-anchor="middle" font-weight="bold" textLength="78.50" lengthAdjust="spacingAndGlyphs">Clade C</text>
<text transform="translate(768.95,1566.80)" font-size="26" text-anchor="middle" textLength="112.50" lengthAdjust="spacingAndGlyphs">1157ipd3N4</text>
<text transform="translate(919.61,1526.60)" font-size="26" text-anchor="middle" font-weight="bold" textLength="78.50" lengthAdjust="spacingAndGlyphs">Clade C</text>
<text transform="translate(919.61,1566.80)" font-size="26" text-anchor="middle" textLength="51.00" lengthAdjust="spacingAndGlyphs">C109</text>
<text transform="translate(1070.27,1526.60)" font-size="26" text-anchor="middle" font-weight="bold" textLength="92.50" lengthAdjust="spacingAndGlyphs">Clade AE</text>
<text transform="translate(1070.27,1566.80)" font-size="26" text-anchor="middle" textLength="51.00" lengthAdjust="spacingAndGlyphs">AE16</text>
<text transform="translate(1220.93,1526.60)" font-size="26" text-anchor="middle" font-weight="bold" textLength="78.50" lengthAdjust="spacingAndGlyphs">Clade A</text>
<text transform="translate(1220.93,1566.80)" font-size="26" text-anchor="middle" textLength="105.00" lengthAdjust="spacingAndGlyphs">92/RW/024</text>
<text transform="translate(1371.59,1526.60)" font-size="26" text-anchor="middle" font-weight="bold" textLength="78.50" lengthAdjust="spacingAndGlyphs">Clade A</text>
<text transform="translate(1371.59,1566.80)" font-size="26" text-anchor="middle" textLength="105.00" lengthAdjust="spacingAndGlyphs">93/RW/002</text>
<text transform="translate(1522.25,1526.60)" font-size="26" text-anchor="middle" font-weight="bold" textLength="78.50" lengthAdjust="spacingAndGlyphs">Clade B</text>
<text transform="translate(1522.25,1566.80)" font-size="26" text-anchor="middle" textLength="49.50" lengthAdjust="spacingAndGlyphs">JRFL</text>
<text transform="translate(1672.91,1526.60)" font-size="26" text-anchor="middle" font-weight="bold" textLength="78.50" lengthAdjust="spacingAndGlyphs">Clade C</text>
<text transform="translate(1672.91,1566.80)" font-size="26" text-anchor="middle" textLength="108.50" lengthAdjust="spacingAndGlyphs">93/MW/965</text>
<text transform="translate(1823.57,1526.60)" font-size="26" text-anchor="middle" font-weight="bold" textLength="78.50" lengthAdjust="spacingAndGlyphs">Clade D</text>
<text transform="translate(1823.57,1566.80)" font-size="26" text-anchor="middle" textLength="102.00" lengthAdjust="spacingAndGlyphs">94/UG/118</text>
<text transform="translate(1974.23,1526.60)" font-size="26" text-anchor="middle" font-weight="bold" textLength="92.50" lengthAdjust="spacingAndGlyphs">Clade AE</text>
<text transform="translate(1974.23,1566.80)" font-size="26" text-anchor="middle" textLength="65.00" lengthAdjust="spacingAndGlyphs">RV217</text>
<path d="M0,1462 H2049 M391.5,1495.6 H2049 M0,1575.6 H2049 M0,1695.6 H2049 M0,1815.8 H2049 M1,1461 V1935 M391.5,1461 V1935 M1144.7,1461 V1935 M2048,1461 V1935" stroke="#000" stroke-width="2.2" fill="none"/>
</svg></body></html>
